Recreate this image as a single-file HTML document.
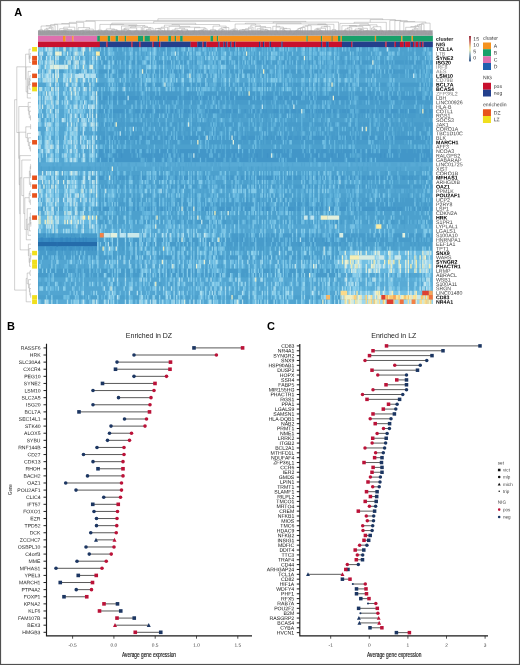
<!DOCTYPE html><html><head><meta charset="utf-8"><title>Figure</title><style>html,body{margin:0;padding:0;background:#fff;width:520px;height:665px;overflow:hidden}text{font-family:"Liberation Sans",sans-serif}</style></head><body><svg width="520" height="665" viewBox="0 0 520 665" style="display:block;will-change:transform">
<rect width="520" height="665" fill="#fff"/>
<defs><clipPath id="hc"><rect x="38.0" y="47.0" width="394.70" height="257.00"/></clipPath></defs>
<g clip-path="url(#hc)"><g>
<rect x="36.0" y="45.0" width="398.70" height="261.00" fill="#4ca0cd"/>
<path fill="#246cab" d="M36.5 242.0h60.7v4.43h-60.7z"/>
<path fill="#398cc3" d="M36.5 237.5h60.7v4.43h-60.7z"/>
<path fill="#4296c8" d="M97.2 95.7h134.2v4.43h-134.2zM231.4 95.7h109.2v4.43h-109.2zM340.6 95.7h93.6v4.43h-93.6zM97.2 109.0h134.2v4.43h-134.2zM231.4 109.0h109.2v4.43h-109.2zM340.6 109.0h93.6v4.43h-93.6zM97.2 135.6h134.2v4.43h-134.2zM231.4 135.6h109.2v4.43h-109.2zM340.6 135.6h93.6v4.43h-93.6zM97.2 148.9h134.2v4.43h-134.2zM231.4 148.9h109.2v4.43h-109.2zM340.6 148.9h93.6v4.43h-93.6zM97.2 153.3h134.2v4.43h-134.2zM231.4 153.3h109.2v4.43h-109.2zM340.6 153.3h93.6v4.43h-93.6zM97.2 157.8h134.2v4.43h-134.2zM231.4 157.8h109.2v4.43h-109.2zM340.6 157.8h93.6v4.43h-93.6zM97.2 175.5h134.2v4.43h-134.2zM231.4 175.5h109.2v4.43h-109.2zM340.6 175.5h93.6v4.43h-93.6zM97.2 206.5h134.2v4.43h-134.2zM231.4 206.5h109.2v4.43h-109.2zM340.6 206.5h93.6v4.43h-93.6zM36.5 246.4h60.7v4.43h-60.7z"/>
<path fill="#479bca" d="M97.2 60.3h134.2v4.43h-134.2zM231.4 60.3h109.2v4.43h-109.2zM340.6 60.3h93.6v4.43h-93.6zM97.2 69.2h134.2v4.43h-134.2zM231.4 69.2h109.2v4.43h-109.2zM340.6 69.2h93.6v4.43h-93.6zM97.2 82.4h134.2v4.43h-134.2zM231.4 82.4h109.2v4.43h-109.2zM340.6 82.4h93.6v4.43h-93.6zM97.2 91.3h134.2v4.43h-134.2zM231.4 91.3h109.2v4.43h-109.2zM340.6 91.3h93.6v4.43h-93.6zM97.2 100.2h134.2v4.43h-134.2zM231.4 100.2h109.2v4.43h-109.2zM340.6 100.2h93.6v4.43h-93.6zM97.2 113.5h134.2v4.43h-134.2zM231.4 113.5h109.2v4.43h-109.2zM340.6 113.5h93.6v4.43h-93.6zM97.2 122.3h134.2v4.43h-134.2zM231.4 122.3h109.2v4.43h-109.2zM340.6 122.3h93.6v4.43h-93.6zM97.2 126.8h134.2v4.43h-134.2zM340.6 126.8h93.6v4.43h-93.6zM97.2 131.2h134.2v4.43h-134.2zM231.4 131.2h109.2v4.43h-109.2zM340.6 131.2h93.6v4.43h-93.6zM97.2 140.1h134.2v4.43h-134.2zM231.4 140.1h109.2v4.43h-109.2zM340.6 140.1h93.6v4.43h-93.6zM97.2 184.4h134.2v4.43h-134.2zM231.4 184.4h109.2v4.43h-109.2zM340.6 184.4h93.6v4.43h-93.6zM97.2 197.7h134.2v4.43h-134.2zM231.4 197.7h109.2v4.43h-109.2zM340.6 197.7h93.6v4.43h-93.6zM97.2 202.1h134.2v4.43h-134.2zM231.4 202.1h109.2v4.43h-109.2zM340.6 202.1h93.6v4.43h-93.6zM36.5 233.1h60.7v4.43h-60.7zM231.4 233.1h109.2v4.43h-109.2zM340.6 233.1h93.6v4.43h-93.6zM97.2 237.5h134.2v4.43h-134.2zM231.4 237.5h109.2v4.43h-109.2zM340.6 237.5h93.6v4.43h-93.6zM97.2 242.0h134.2v4.43h-134.2zM231.4 242.0h109.2v4.43h-109.2zM36.5 250.8h60.7v4.43h-60.7zM36.5 255.3h60.7v4.43h-60.7zM97.2 255.3h134.2v4.43h-134.2zM231.4 255.3h109.2v4.43h-109.2zM36.5 268.6h60.7v4.43h-60.7zM97.2 268.6h134.2v4.43h-134.2zM231.4 268.6h109.2v4.43h-109.2zM36.5 273.0h60.7v4.43h-60.7zM97.2 273.0h134.2v4.43h-134.2zM231.4 273.0h109.2v4.43h-109.2z"/>
<path fill="#52a5d1" d="M97.2 51.4h134.2v4.43h-134.2zM231.4 51.4h109.2v4.43h-109.2zM36.5 55.9h60.7v4.43h-60.7zM36.5 60.3h60.7v4.43h-60.7zM97.2 64.7h134.2v4.43h-134.2zM231.4 64.7h109.2v4.43h-109.2zM340.6 64.7h93.6v4.43h-93.6zM36.5 69.2h60.7v4.43h-60.7zM97.2 78.0h134.2v4.43h-134.2zM231.4 78.0h109.2v4.43h-109.2zM340.6 78.0h93.6v4.43h-93.6zM36.5 82.4h60.7v4.43h-60.7zM36.5 95.7h60.7v4.43h-60.7zM36.5 109.0h60.7v4.43h-60.7zM36.5 113.5h60.7v4.43h-60.7zM36.5 117.9h60.7v4.43h-60.7zM36.5 126.8h60.7v4.43h-60.7zM36.5 131.2h60.7v4.43h-60.7zM36.5 135.6h60.7v4.43h-60.7zM36.5 140.1h60.7v4.43h-60.7zM36.5 148.9h60.7v4.43h-60.7zM36.5 153.3h60.7v4.43h-60.7zM36.5 157.8h60.7v4.43h-60.7zM36.5 166.6h60.7v4.43h-60.7zM97.2 166.6h134.2v4.43h-134.2zM231.4 166.6h109.2v4.43h-109.2zM340.6 166.6h93.6v4.43h-93.6zM97.2 188.8h134.2v4.43h-134.2zM231.4 188.8h109.2v4.43h-109.2zM340.6 188.8h93.6v4.43h-93.6zM97.2 224.2h134.2v4.43h-134.2zM231.4 224.2h109.2v4.43h-109.2zM340.6 224.2h93.6v4.43h-93.6zM97.2 228.7h134.2v4.43h-134.2zM231.4 228.7h109.2v4.43h-109.2zM340.6 228.7h93.6v4.43h-93.6zM97.2 233.1h134.2v4.43h-134.2zM36.5 259.7h60.7v4.43h-60.7zM97.2 259.7h134.2v4.43h-134.2zM231.4 259.7h109.2v4.43h-109.2zM36.5 264.1h60.7v4.43h-60.7zM97.2 264.1h134.2v4.43h-134.2zM231.4 264.1h109.2v4.43h-109.2zM340.6 273.0h93.6v4.43h-93.6zM36.5 277.4h60.7v4.43h-60.7zM97.2 277.4h134.2v4.43h-134.2zM231.4 277.4h109.2v4.43h-109.2zM36.5 281.8h60.7v4.43h-60.7zM97.2 281.8h134.2v4.43h-134.2zM231.4 281.8h109.2v4.43h-109.2zM36.5 286.3h60.7v4.43h-60.7zM97.2 286.3h134.2v4.43h-134.2zM231.4 286.3h109.2v4.43h-109.2zM36.5 290.7h60.7v4.43h-60.7zM97.2 290.7h134.2v4.43h-134.2zM231.4 290.7h109.2v4.43h-109.2zM97.2 299.6h134.2v5.93h-134.2zM231.4 299.6h109.2v5.93h-109.2z"/>
<path fill="#58aad5" d="M36.5 45.5h60.7v5.93h-60.7zM36.5 51.4h60.7v4.43h-60.7zM36.5 86.9h60.7v4.43h-60.7zM36.5 91.3h60.7v4.43h-60.7zM36.5 100.2h60.7v4.43h-60.7zM36.5 104.6h60.7v4.43h-60.7zM36.5 122.3h60.7v4.43h-60.7zM36.5 144.5h60.7v4.43h-60.7zM36.5 162.2h60.7v4.43h-60.7zM97.2 162.2h134.2v4.43h-134.2zM231.4 162.2h109.2v4.43h-109.2zM340.6 162.2h93.6v4.43h-93.6zM36.5 171.1h60.7v4.43h-60.7zM36.5 179.9h60.7v4.43h-60.7zM36.5 184.4h60.7v4.43h-60.7zM36.5 193.2h60.7v4.43h-60.7zM36.5 197.7h60.7v4.43h-60.7zM36.5 202.1h60.7v4.43h-60.7zM36.5 210.9h60.7v4.43h-60.7zM36.5 224.2h60.7v4.43h-60.7zM340.6 281.8h93.6v4.43h-93.6zM36.5 299.6h60.7v5.93h-60.7z"/>
<path fill="#5db0d9" d="M36.5 64.7h60.7v4.43h-60.7zM36.5 78.0h60.7v4.43h-60.7zM36.5 188.8h60.7v4.43h-60.7zM36.5 228.7h60.7v4.43h-60.7zM340.6 277.4h93.6v4.43h-93.6zM340.6 286.3h93.6v4.43h-93.6z"/>
<path fill="#63b5dd" d="M340.6 255.3h93.6v4.43h-93.6zM340.6 268.6h93.6v4.43h-93.6z"/>
<path fill="#69bae1" d="M36.5 215.4h60.7v4.43h-60.7zM36.5 219.8h60.7v4.43h-60.7zM340.6 250.8h93.6v4.43h-93.6z"/>
<path fill="#71bfe3" d="M340.6 259.7h93.6v4.43h-93.6zM340.6 264.1h93.6v4.43h-93.6z"/>
<path fill="#79c4e6" d="M340.6 290.7h93.6v4.43h-93.6z"/>
<path fill="#9cd7ee" d="M340.6 299.6h93.6v5.93h-93.6z"/>
<path fill="#b3e0ef" d="M36.5 73.6h60.7v4.43h-60.7z"/>
<path fill="#fac86e" d="M340.6 295.1h93.6v4.43h-93.6z"/>
<path fill="#2771af" d="M56.4 242.0h1.3v4.43h-1.3z"/>
<path fill="#3487c0" d="M40.6 237.5h2.6v4.43h-2.6zM48.5 237.5h1.3v4.43h-1.3zM51.2 237.5h2.6v4.43h-2.6zM60.4 237.5h2.6v4.43h-2.6zM65.6 237.5h2.6v4.43h-2.6zM69.6 237.5h1.3v4.43h-1.3zM74.8 237.5h1.3v4.43h-1.3zM78.8 237.5h1.3v4.43h-1.3zM82.7 237.5h1.3v4.43h-1.3zM85.4 237.5h1.3v4.43h-1.3z"/>
<path fill="#3e91c5" d="M120.9 153.3h1.3v4.43h-1.3zM166.9 153.3h1.3v4.43h-1.3zM234.0 153.3h1.3v4.43h-1.3zM256.4 153.3h1.3v4.43h-1.3zM266.9 153.3h1.3v4.43h-1.3zM315.6 153.3h2.6v4.43h-2.6zM331.4 153.3h1.3v4.43h-1.3zM338.0 153.3h1.3v4.43h-1.3zM380.1 153.3h1.3v4.43h-1.3zM384.0 153.3h1.3v4.43h-1.3zM49.8 246.4h2.6v4.43h-2.6zM55.1 246.4h1.3v4.43h-1.3zM61.7 246.4h1.3v4.43h-1.3zM64.3 246.4h1.3v4.43h-1.3zM69.6 246.4h2.6v4.43h-2.6zM78.8 246.4h1.3v4.43h-1.3zM82.7 246.4h1.3v4.43h-1.3zM88.0 246.4h1.3v4.43h-1.3zM91.9 246.4h1.3v4.43h-1.3zM94.6 246.4h1.3v4.43h-1.3z"/>
<path fill="#4296c8" d="M372.2 69.2h1.3v4.43h-1.3zM393.2 69.2h1.3v4.43h-1.3zM188.0 91.3h1.3v4.43h-1.3zM230.1 91.3h1.3v4.43h-1.3zM301.1 91.3h1.3v4.43h-1.3zM369.5 91.3h1.3v4.43h-1.3zM156.4 202.1h1.3v4.43h-1.3zM245.9 202.1h1.3v4.43h-1.3zM294.6 202.1h1.3v4.43h-1.3zM297.2 202.1h2.6v4.43h-2.6zM306.4 202.1h1.3v4.43h-1.3zM320.9 202.1h1.3v4.43h-1.3zM377.4 202.1h1.3v4.43h-1.3zM386.7 202.1h1.3v4.43h-1.3zM393.2 202.1h1.3v4.43h-1.3zM36.5 233.1h2.8v4.43h-2.8zM43.3 233.1h2.6v4.43h-2.6zM52.5 233.1h1.3v4.43h-1.3zM70.9 233.1h1.3v4.43h-1.3zM73.5 233.1h1.3v4.43h-1.3zM236.7 237.5h1.3v4.43h-1.3zM241.9 237.5h1.3v4.43h-1.3zM253.8 237.5h1.3v4.43h-1.3zM265.6 237.5h1.3v4.43h-1.3zM288.0 237.5h1.3v4.43h-1.3zM290.6 237.5h1.3v4.43h-1.3zM305.1 237.5h1.3v4.43h-1.3zM314.3 237.5h1.3v4.43h-1.3zM322.2 237.5h1.3v4.43h-1.3zM326.1 237.5h1.3v4.43h-1.3zM332.7 237.5h1.3v4.43h-1.3zM272.2 242.0h1.3v4.43h-1.3zM298.5 242.0h1.3v4.43h-1.3zM313.0 242.0h1.3v4.43h-1.3zM324.8 242.0h2.6v4.43h-2.6zM339.3 242.0h1.3v4.43h-1.3z"/>
<path fill="#479bca" d="M340.6 55.9h1.3v4.43h-1.3zM359.0 55.9h1.3v4.43h-1.3zM406.4 55.9h1.3v4.43h-1.3zM343.2 73.6h1.3v4.43h-1.3zM101.2 109.0h1.3v4.43h-1.3zM106.4 109.0h1.3v4.43h-1.3zM123.5 109.0h1.3v4.43h-1.3zM127.5 109.0h1.3v4.43h-1.3zM132.7 109.0h2.6v4.43h-2.6zM155.1 109.0h1.3v4.43h-1.3zM159.0 109.0h2.6v4.43h-2.6zM163.0 109.0h2.6v4.43h-2.6zM169.6 109.0h1.3v4.43h-1.3zM176.1 109.0h1.3v4.43h-1.3zM186.7 109.0h1.3v4.43h-1.3zM189.3 109.0h1.3v4.43h-1.3zM194.6 109.0h1.3v4.43h-1.3zM210.4 109.0h1.3v4.43h-1.3zM215.6 109.0h1.3v4.43h-1.3zM223.5 109.0h2.6v4.43h-2.6zM236.7 109.0h1.3v4.43h-1.3zM240.6 109.0h3.9v4.43h-3.9zM245.9 109.0h2.6v4.43h-2.6zM256.4 109.0h1.3v4.43h-1.3zM259.0 109.0h1.3v4.43h-1.3zM261.7 109.0h1.3v4.43h-1.3zM264.3 109.0h1.3v4.43h-1.3zM266.9 109.0h6.6v4.43h-6.6zM280.1 109.0h2.6v4.43h-2.6zM284.0 109.0h1.3v4.43h-1.3zM295.9 109.0h2.6v4.43h-2.6zM299.8 109.0h1.3v4.43h-1.3zM316.9 109.0h1.3v4.43h-1.3zM319.6 109.0h1.3v4.43h-1.3zM322.2 109.0h1.3v4.43h-1.3zM328.8 109.0h1.3v4.43h-1.3zM335.3 109.0h1.3v4.43h-1.3zM340.6 109.0h1.3v4.43h-1.3zM345.9 109.0h1.3v4.43h-1.3zM359.0 109.0h1.3v4.43h-1.3zM370.9 109.0h1.3v4.43h-1.3zM373.5 109.0h1.3v4.43h-1.3zM381.4 109.0h1.3v4.43h-1.3zM388.0 109.0h1.3v4.43h-1.3zM397.2 109.0h1.3v4.43h-1.3zM403.8 109.0h1.3v4.43h-1.3zM406.4 109.0h1.3v4.43h-1.3zM415.6 109.0h3.9v4.43h-3.9zM420.9 109.0h1.3v4.43h-1.3zM426.1 109.0h1.3v4.43h-1.3zM97.2 117.9h1.3v4.43h-1.3zM120.9 117.9h1.3v4.43h-1.3zM123.5 117.9h1.3v4.43h-1.3zM153.8 117.9h1.3v4.43h-1.3zM178.8 117.9h1.3v4.43h-1.3zM184.0 117.9h1.3v4.43h-1.3zM195.9 117.9h1.3v4.43h-1.3zM201.1 117.9h1.3v4.43h-1.3zM207.7 117.9h1.3v4.43h-1.3zM232.7 117.9h1.3v4.43h-1.3zM265.6 117.9h1.3v4.43h-1.3zM277.5 117.9h1.3v4.43h-1.3zM290.6 117.9h1.3v4.43h-1.3zM294.6 117.9h1.3v4.43h-1.3zM309.0 117.9h1.3v4.43h-1.3zM320.9 117.9h1.3v4.43h-1.3zM357.7 117.9h1.3v4.43h-1.3zM368.2 117.9h1.3v4.43h-1.3zM372.2 117.9h1.3v4.43h-1.3zM384.0 117.9h2.6v4.43h-2.6zM390.6 117.9h1.3v4.43h-1.3zM401.1 117.9h1.3v4.43h-1.3zM411.6 117.9h1.3v4.43h-1.3zM232.7 126.8h3.9v4.43h-3.9zM241.9 126.8h1.3v4.43h-1.3zM249.8 126.8h3.9v4.43h-3.9zM257.7 126.8h1.3v4.43h-1.3zM263.0 126.8h3.9v4.43h-3.9zM268.2 126.8h1.3v4.43h-1.3zM274.8 126.8h2.6v4.43h-2.6zM284.0 126.8h1.3v4.43h-1.3zM289.3 126.8h2.6v4.43h-2.6zM295.9 126.8h1.3v4.43h-1.3zM298.5 126.8h2.6v4.43h-2.6zM303.8 126.8h2.6v4.43h-2.6zM316.9 126.8h1.3v4.43h-1.3zM320.9 126.8h3.9v4.43h-3.9zM334.0 126.8h3.9v4.43h-3.9zM98.5 135.6h1.3v4.43h-1.3zM110.4 135.6h1.3v4.43h-1.3zM114.3 135.6h1.3v4.43h-1.3zM118.3 135.6h2.6v4.43h-2.6zM122.2 135.6h1.3v4.43h-1.3zM124.8 135.6h1.3v4.43h-1.3zM127.5 135.6h1.3v4.43h-1.3zM132.7 135.6h2.6v4.43h-2.6zM149.8 135.6h2.6v4.43h-2.6zM161.7 135.6h1.3v4.43h-1.3zM172.2 135.6h1.3v4.43h-1.3zM184.0 135.6h1.3v4.43h-1.3zM188.0 135.6h1.3v4.43h-1.3zM199.8 135.6h1.3v4.43h-1.3zM222.2 135.6h2.6v4.43h-2.6zM226.1 135.6h2.6v4.43h-2.6zM235.3 135.6h1.3v4.43h-1.3zM240.6 135.6h1.3v4.43h-1.3zM245.9 135.6h2.6v4.43h-2.6zM256.4 135.6h1.3v4.43h-1.3zM268.2 135.6h2.6v4.43h-2.6zM272.2 135.6h1.3v4.43h-1.3zM291.9 135.6h2.6v4.43h-2.6zM298.5 135.6h1.3v4.43h-1.3zM305.1 135.6h1.3v4.43h-1.3zM313.0 135.6h1.3v4.43h-1.3zM323.5 135.6h1.3v4.43h-1.3zM326.1 135.6h1.3v4.43h-1.3zM332.7 135.6h3.9v4.43h-3.9zM340.6 135.6h1.3v4.43h-1.3zM343.2 135.6h1.3v4.43h-1.3zM347.2 135.6h2.6v4.43h-2.6zM353.8 135.6h1.3v4.43h-1.3zM359.0 135.6h1.3v4.43h-1.3zM380.1 135.6h2.6v4.43h-2.6zM385.3 135.6h1.3v4.43h-1.3zM390.6 135.6h1.3v4.43h-1.3zM419.5 135.6h1.3v4.43h-1.3zM102.5 148.9h1.3v4.43h-1.3zM106.4 148.9h1.3v4.43h-1.3zM144.6 148.9h1.3v4.43h-1.3zM155.1 148.9h1.3v4.43h-1.3zM168.3 148.9h1.3v4.43h-1.3zM174.8 148.9h1.3v4.43h-1.3zM178.8 148.9h1.3v4.43h-1.3zM211.7 148.9h1.3v4.43h-1.3zM220.9 148.9h1.3v4.43h-1.3zM230.1 148.9h1.3v4.43h-1.3zM251.1 148.9h1.3v4.43h-1.3zM307.7 148.9h1.3v4.43h-1.3zM319.6 148.9h1.3v4.43h-1.3zM327.4 148.9h1.3v4.43h-1.3zM339.3 148.9h1.3v4.43h-1.3zM341.9 148.9h1.3v4.43h-1.3zM364.3 148.9h1.3v4.43h-1.3zM366.9 148.9h1.3v4.43h-1.3zM397.2 148.9h2.6v4.43h-2.6zM406.4 148.9h1.3v4.43h-1.3zM413.0 148.9h1.3v4.43h-1.3zM419.5 148.9h1.3v4.43h-1.3zM422.2 148.9h1.3v4.43h-1.3zM156.4 171.1h1.3v4.43h-1.3zM203.8 171.1h1.3v4.43h-1.3zM385.3 171.1h1.3v4.43h-1.3zM430.1 171.1h1.3v4.43h-1.3zM113.0 175.5h1.3v4.43h-1.3zM118.3 175.5h1.3v4.43h-1.3zM120.9 175.5h1.3v4.43h-1.3zM123.5 175.5h1.3v4.43h-1.3zM127.5 175.5h1.3v4.43h-1.3zM134.0 175.5h1.3v4.43h-1.3zM136.7 175.5h2.6v4.43h-2.6zM151.1 175.5h1.3v4.43h-1.3zM156.4 175.5h2.6v4.43h-2.6zM180.1 175.5h1.3v4.43h-1.3zM195.9 175.5h1.3v4.43h-1.3zM203.8 175.5h1.3v4.43h-1.3zM209.0 175.5h1.3v4.43h-1.3zM213.0 175.5h1.3v4.43h-1.3zM226.1 175.5h1.3v4.43h-1.3zM230.1 175.5h1.3v4.43h-1.3zM232.7 175.5h1.3v4.43h-1.3zM243.2 175.5h1.3v4.43h-1.3zM247.2 175.5h1.3v4.43h-1.3zM253.8 175.5h1.3v4.43h-1.3zM272.2 175.5h1.3v4.43h-1.3zM286.7 175.5h1.3v4.43h-1.3zM290.6 175.5h1.3v4.43h-1.3zM293.2 175.5h1.3v4.43h-1.3zM295.9 175.5h3.9v4.43h-3.9zM311.7 175.5h1.3v4.43h-1.3zM320.9 175.5h1.3v4.43h-1.3zM326.1 175.5h1.3v4.43h-1.3zM332.7 175.5h1.3v4.43h-1.3zM351.1 175.5h1.3v4.43h-1.3zM369.5 175.5h3.9v4.43h-3.9zM380.1 175.5h1.3v4.43h-1.3zM382.7 175.5h1.3v4.43h-1.3zM388.0 175.5h1.3v4.43h-1.3zM394.5 175.5h1.3v4.43h-1.3zM399.8 175.5h2.6v4.43h-2.6zM405.1 175.5h3.9v4.43h-3.9zM410.3 175.5h1.3v4.43h-1.3zM413.0 175.5h6.6v4.43h-6.6zM420.9 175.5h2.6v4.43h-2.6zM424.8 175.5h1.3v4.43h-1.3zM194.6 179.9h1.3v4.43h-1.3zM306.4 179.9h1.3v4.43h-1.3zM361.7 179.9h1.3v4.43h-1.3zM381.4 179.9h1.3v4.43h-1.3zM393.2 179.9h1.3v4.43h-1.3zM147.2 193.2h1.3v4.43h-1.3zM189.3 193.2h1.3v4.43h-1.3zM194.6 193.2h1.3v4.43h-1.3zM263.0 193.2h1.3v4.43h-1.3zM265.6 193.2h1.3v4.43h-1.3zM285.3 193.2h1.3v4.43h-1.3zM380.1 193.2h2.6v4.43h-2.6zM407.7 193.2h1.3v4.43h-1.3zM118.3 206.5h1.3v4.43h-1.3zM123.5 206.5h1.3v4.43h-1.3zM147.2 206.5h1.3v4.43h-1.3zM157.7 206.5h1.3v4.43h-1.3zM194.6 206.5h1.3v4.43h-1.3zM201.1 206.5h1.3v4.43h-1.3zM216.9 206.5h2.6v4.43h-2.6zM232.7 206.5h1.3v4.43h-1.3zM236.7 206.5h1.3v4.43h-1.3zM241.9 206.5h1.3v4.43h-1.3zM247.2 206.5h1.3v4.43h-1.3zM259.0 206.5h1.3v4.43h-1.3zM269.6 206.5h1.3v4.43h-1.3zM276.1 206.5h1.3v4.43h-1.3zM294.6 206.5h1.3v4.43h-1.3zM299.8 206.5h1.3v4.43h-1.3zM305.1 206.5h1.3v4.43h-1.3zM320.9 206.5h1.3v4.43h-1.3zM351.1 206.5h1.3v4.43h-1.3zM353.8 206.5h1.3v4.43h-1.3zM378.8 206.5h2.6v4.43h-2.6zM385.3 206.5h1.3v4.43h-1.3zM390.6 206.5h1.3v4.43h-1.3zM395.9 206.5h1.3v4.43h-1.3zM402.4 206.5h2.6v4.43h-2.6zM411.6 206.5h2.6v4.43h-2.6zM416.9 206.5h2.6v4.43h-2.6zM422.2 206.5h2.6v4.43h-2.6zM426.1 206.5h1.3v4.43h-1.3zM348.5 215.4h1.3v4.43h-1.3zM377.4 215.4h1.3v4.43h-1.3zM403.8 215.4h1.3v4.43h-1.3zM99.8 219.8h1.3v4.43h-1.3zM105.1 219.8h1.3v4.43h-1.3zM136.7 219.8h1.3v4.43h-1.3zM144.6 219.8h1.3v4.43h-1.3zM147.2 219.8h2.6v4.43h-2.6zM160.4 219.8h1.3v4.43h-1.3zM170.9 219.8h1.3v4.43h-1.3zM177.5 219.8h1.3v4.43h-1.3zM184.0 219.8h1.3v4.43h-1.3zM190.6 219.8h1.3v4.43h-1.3zM197.2 219.8h3.9v4.43h-3.9zM202.5 219.8h1.3v4.43h-1.3zM207.7 219.8h1.3v4.43h-1.3zM216.9 219.8h1.3v4.43h-1.3zM222.2 219.8h3.9v4.43h-3.9zM234.0 219.8h3.9v4.43h-3.9zM239.3 219.8h1.3v4.43h-1.3zM245.9 219.8h1.3v4.43h-1.3zM256.4 219.8h1.3v4.43h-1.3zM284.0 219.8h1.3v4.43h-1.3zM286.7 219.8h1.3v4.43h-1.3zM294.6 219.8h1.3v4.43h-1.3zM299.8 219.8h1.3v4.43h-1.3zM332.7 219.8h1.3v4.43h-1.3zM335.3 219.8h2.6v4.43h-2.6zM340.6 219.8h1.3v4.43h-1.3zM353.8 219.8h1.3v4.43h-1.3zM366.9 219.8h1.3v4.43h-1.3zM377.4 219.8h1.3v4.43h-1.3zM380.1 219.8h2.6v4.43h-2.6zM386.7 219.8h1.3v4.43h-1.3zM390.6 219.8h3.9v4.43h-3.9zM401.1 219.8h3.9v4.43h-3.9zM409.0 219.8h1.3v4.43h-1.3zM416.9 219.8h1.3v4.43h-1.3zM424.8 219.8h1.3v4.43h-1.3zM430.1 219.8h4.1v4.43h-4.1zM344.6 242.0h1.3v4.43h-1.3zM363.0 242.0h1.3v4.43h-1.3zM365.6 242.0h1.3v4.43h-1.3zM378.8 242.0h2.6v4.43h-2.6zM385.3 242.0h1.3v4.43h-1.3zM388.0 242.0h1.3v4.43h-1.3zM393.2 242.0h1.3v4.43h-1.3zM410.3 242.0h1.3v4.43h-1.3zM414.3 242.0h1.3v4.43h-1.3zM418.2 242.0h1.3v4.43h-1.3zM424.8 242.0h1.3v4.43h-1.3zM66.9 246.4h1.3v4.43h-1.3zM74.8 246.4h1.3v4.43h-1.3zM93.3 246.4h1.3v4.43h-1.3zM118.3 246.4h1.3v4.43h-1.3zM122.2 246.4h2.6v4.43h-2.6zM143.3 246.4h1.3v4.43h-1.3zM176.1 246.4h1.3v4.43h-1.3zM180.1 246.4h1.3v4.43h-1.3zM186.7 246.4h1.3v4.43h-1.3zM227.5 246.4h1.3v4.43h-1.3zM230.1 246.4h1.3v4.43h-1.3zM234.0 246.4h1.3v4.43h-1.3zM240.6 246.4h1.3v4.43h-1.3zM243.2 246.4h1.3v4.43h-1.3zM253.8 246.4h1.3v4.43h-1.3zM257.7 246.4h1.3v4.43h-1.3zM260.3 246.4h1.3v4.43h-1.3zM263.0 246.4h1.3v4.43h-1.3zM277.5 246.4h1.3v4.43h-1.3zM280.1 246.4h1.3v4.43h-1.3zM286.7 246.4h1.3v4.43h-1.3zM293.2 246.4h1.3v4.43h-1.3zM316.9 246.4h1.3v4.43h-1.3zM326.1 246.4h1.3v4.43h-1.3zM332.7 246.4h1.3v4.43h-1.3zM336.7 246.4h1.3v4.43h-1.3zM113.0 250.8h1.3v4.43h-1.3zM298.5 250.8h1.3v4.43h-1.3zM306.4 250.8h1.3v4.43h-1.3z"/>
<path fill="#4ca0cd" d="M99.8 51.4h1.3v4.43h-1.3zM102.5 51.4h1.3v4.43h-1.3zM106.4 51.4h1.3v4.43h-1.3zM116.9 51.4h1.3v4.43h-1.3zM119.6 51.4h2.6v4.43h-2.6zM132.7 51.4h2.6v4.43h-2.6zM140.6 51.4h1.3v4.43h-1.3zM145.9 51.4h1.3v4.43h-1.3zM156.4 51.4h1.3v4.43h-1.3zM164.3 51.4h1.3v4.43h-1.3zM166.9 51.4h1.3v4.43h-1.3zM176.1 51.4h1.3v4.43h-1.3zM178.8 51.4h2.6v4.43h-2.6zM185.4 51.4h1.3v4.43h-1.3zM188.0 51.4h1.3v4.43h-1.3zM191.9 51.4h1.3v4.43h-1.3zM194.6 51.4h1.3v4.43h-1.3zM202.5 51.4h1.3v4.43h-1.3zM206.4 51.4h1.3v4.43h-1.3zM218.2 51.4h2.6v4.43h-2.6zM227.5 51.4h1.3v4.43h-1.3zM232.7 51.4h1.3v4.43h-1.3zM236.7 51.4h1.3v4.43h-1.3zM247.2 51.4h1.3v4.43h-1.3zM253.8 51.4h1.3v4.43h-1.3zM256.4 51.4h1.3v4.43h-1.3zM260.3 51.4h1.3v4.43h-1.3zM269.6 51.4h1.3v4.43h-1.3zM285.3 51.4h1.3v4.43h-1.3zM289.3 51.4h2.6v4.43h-2.6zM293.2 51.4h1.3v4.43h-1.3zM297.2 51.4h1.3v4.43h-1.3zM326.1 51.4h1.3v4.43h-1.3zM331.4 51.4h1.3v4.43h-1.3zM98.5 60.3h2.6v4.43h-2.6zM102.5 60.3h1.3v4.43h-1.3zM105.1 60.3h1.3v4.43h-1.3zM120.9 60.3h1.3v4.43h-1.3zM136.7 60.3h1.3v4.43h-1.3zM139.3 60.3h2.6v4.43h-2.6zM157.7 60.3h1.3v4.43h-1.3zM174.8 60.3h2.6v4.43h-2.6zM180.1 60.3h1.3v4.43h-1.3zM189.3 60.3h1.3v4.43h-1.3zM195.9 60.3h1.3v4.43h-1.3zM203.8 60.3h3.9v4.43h-3.9zM213.0 60.3h1.3v4.43h-1.3zM215.6 60.3h2.6v4.43h-2.6zM220.9 60.3h1.3v4.43h-1.3zM223.5 60.3h1.3v4.43h-1.3zM230.1 60.3h1.3v4.43h-1.3zM243.2 60.3h1.3v4.43h-1.3zM245.9 60.3h1.3v4.43h-1.3zM268.2 60.3h1.3v4.43h-1.3zM273.5 60.3h2.6v4.43h-2.6zM281.4 60.3h1.3v4.43h-1.3zM288.0 60.3h1.3v4.43h-1.3zM297.2 60.3h2.6v4.43h-2.6zM315.6 60.3h2.6v4.43h-2.6zM320.9 60.3h1.3v4.43h-1.3zM323.5 60.3h1.3v4.43h-1.3zM339.3 60.3h2.6v4.43h-2.6zM368.2 60.3h1.3v4.43h-1.3zM385.3 60.3h1.3v4.43h-1.3zM403.8 60.3h1.3v4.43h-1.3zM420.9 60.3h1.3v4.43h-1.3zM427.4 60.3h1.3v4.43h-1.3zM353.8 64.7h1.3v4.43h-1.3zM360.3 64.7h1.3v4.43h-1.3zM386.7 64.7h1.3v4.43h-1.3zM391.9 64.7h1.3v4.43h-1.3zM403.8 64.7h1.3v4.43h-1.3zM414.3 64.7h2.6v4.43h-2.6zM418.2 64.7h1.3v4.43h-1.3zM420.9 64.7h1.3v4.43h-1.3zM424.8 64.7h1.3v4.43h-1.3zM36.5 69.2h2.8v4.43h-2.8zM44.6 69.2h1.3v4.43h-1.3zM53.8 69.2h1.3v4.43h-1.3zM59.1 69.2h3.9v4.43h-3.9zM76.2 69.2h2.6v4.43h-2.6zM80.1 69.2h1.3v4.43h-1.3zM144.6 69.2h1.3v4.43h-1.3zM232.7 69.2h1.3v4.43h-1.3zM251.1 69.2h1.3v4.43h-1.3zM103.8 82.4h1.3v4.43h-1.3zM185.4 82.4h1.3v4.43h-1.3zM194.6 82.4h1.3v4.43h-1.3zM272.2 82.4h1.3v4.43h-1.3zM124.8 95.7h1.3v4.43h-1.3zM152.5 95.7h1.3v4.43h-1.3zM161.7 95.7h1.3v4.43h-1.3zM181.4 95.7h2.6v4.43h-2.6zM213.0 95.7h1.3v4.43h-1.3zM219.6 95.7h1.3v4.43h-1.3zM223.5 95.7h1.3v4.43h-1.3zM264.3 95.7h1.3v4.43h-1.3zM306.4 95.7h1.3v4.43h-1.3zM314.3 95.7h1.3v4.43h-1.3zM328.8 95.7h1.3v4.43h-1.3zM357.7 95.7h1.3v4.43h-1.3zM384.0 95.7h1.3v4.43h-1.3zM105.1 100.2h2.6v4.43h-2.6zM118.3 100.2h1.3v4.43h-1.3zM134.0 100.2h1.3v4.43h-1.3zM148.5 100.2h1.3v4.43h-1.3zM164.3 100.2h1.3v4.43h-1.3zM170.9 100.2h1.3v4.43h-1.3zM174.8 100.2h1.3v4.43h-1.3zM195.9 100.2h2.6v4.43h-2.6zM205.1 100.2h1.3v4.43h-1.3zM222.2 100.2h1.3v4.43h-1.3zM226.1 100.2h1.3v4.43h-1.3zM228.8 100.2h1.3v4.43h-1.3zM255.1 100.2h1.3v4.43h-1.3zM278.8 100.2h1.3v4.43h-1.3zM281.4 100.2h1.3v4.43h-1.3zM284.0 100.2h1.3v4.43h-1.3zM297.2 100.2h1.3v4.43h-1.3zM311.7 100.2h1.3v4.43h-1.3zM323.5 100.2h1.3v4.43h-1.3zM338.0 100.2h1.3v4.43h-1.3zM351.1 100.2h1.3v4.43h-1.3zM356.4 100.2h2.6v4.43h-2.6zM361.7 100.2h2.6v4.43h-2.6zM373.5 100.2h2.6v4.43h-2.6zM398.5 100.2h1.3v4.43h-1.3zM405.1 100.2h1.3v4.43h-1.3zM423.5 100.2h1.3v4.43h-1.3zM430.1 100.2h4.1v4.43h-4.1zM53.8 109.0h1.3v4.43h-1.3zM93.3 109.0h1.3v4.43h-1.3zM365.6 109.0h1.3v4.43h-1.3zM99.8 113.5h1.3v4.43h-1.3zM102.5 113.5h2.6v4.43h-2.6zM109.0 113.5h2.6v4.43h-2.6zM115.6 113.5h2.6v4.43h-2.6zM120.9 113.5h1.3v4.43h-1.3zM126.1 113.5h1.3v4.43h-1.3zM128.8 113.5h1.3v4.43h-1.3zM141.9 113.5h1.3v4.43h-1.3zM151.1 113.5h1.3v4.43h-1.3zM153.8 113.5h1.3v4.43h-1.3zM164.3 113.5h1.3v4.43h-1.3zM168.3 113.5h1.3v4.43h-1.3zM174.8 113.5h2.6v4.43h-2.6zM182.7 113.5h1.3v4.43h-1.3zM188.0 113.5h1.3v4.43h-1.3zM194.6 113.5h1.3v4.43h-1.3zM198.5 113.5h2.6v4.43h-2.6zM202.5 113.5h2.6v4.43h-2.6zM211.7 113.5h1.3v4.43h-1.3zM216.9 113.5h3.9v4.43h-3.9zM224.8 113.5h1.3v4.43h-1.3zM227.5 113.5h1.3v4.43h-1.3zM236.7 113.5h1.3v4.43h-1.3zM243.2 113.5h1.3v4.43h-1.3zM245.9 113.5h1.3v4.43h-1.3zM251.1 113.5h1.3v4.43h-1.3zM256.4 113.5h2.6v4.43h-2.6zM263.0 113.5h1.3v4.43h-1.3zM268.2 113.5h1.3v4.43h-1.3zM270.9 113.5h1.3v4.43h-1.3zM274.8 113.5h1.3v4.43h-1.3zM288.0 113.5h1.3v4.43h-1.3zM293.2 113.5h1.3v4.43h-1.3zM295.9 113.5h1.3v4.43h-1.3zM298.5 113.5h2.6v4.43h-2.6zM305.1 113.5h1.3v4.43h-1.3zM307.7 113.5h1.3v4.43h-1.3zM315.6 113.5h1.3v4.43h-1.3zM318.2 113.5h2.6v4.43h-2.6zM326.1 113.5h2.6v4.43h-2.6zM330.1 113.5h1.3v4.43h-1.3zM332.7 113.5h1.3v4.43h-1.3zM349.8 113.5h1.3v4.43h-1.3zM353.8 113.5h1.3v4.43h-1.3zM360.3 113.5h1.3v4.43h-1.3zM363.0 113.5h1.3v4.43h-1.3zM369.5 113.5h2.6v4.43h-2.6zM377.4 113.5h1.3v4.43h-1.3zM380.1 113.5h1.3v4.43h-1.3zM382.7 113.5h1.3v4.43h-1.3zM385.3 113.5h1.3v4.43h-1.3zM395.9 113.5h1.3v4.43h-1.3zM398.5 113.5h1.3v4.43h-1.3zM401.1 113.5h1.3v4.43h-1.3zM403.8 113.5h1.3v4.43h-1.3zM406.4 113.5h1.3v4.43h-1.3zM415.6 113.5h3.9v4.43h-3.9zM420.9 113.5h2.6v4.43h-2.6zM427.4 113.5h1.3v4.43h-1.3zM431.4 113.5h2.8v4.43h-2.8zM99.8 122.3h1.3v4.43h-1.3zM152.5 122.3h1.3v4.43h-1.3zM156.4 122.3h1.3v4.43h-1.3zM195.9 122.3h1.3v4.43h-1.3zM206.4 122.3h1.3v4.43h-1.3zM236.7 122.3h1.3v4.43h-1.3zM240.6 122.3h1.3v4.43h-1.3zM251.1 122.3h1.3v4.43h-1.3zM259.0 122.3h1.3v4.43h-1.3zM264.3 122.3h1.3v4.43h-1.3zM272.2 122.3h1.3v4.43h-1.3zM286.7 122.3h1.3v4.43h-1.3zM361.7 122.3h1.3v4.43h-1.3zM394.5 122.3h1.3v4.43h-1.3zM413.0 122.3h1.3v4.43h-1.3zM98.5 126.8h1.3v4.43h-1.3zM101.2 126.8h3.9v4.43h-3.9zM114.3 126.8h3.9v4.43h-3.9zM119.6 126.8h2.6v4.43h-2.6zM127.5 126.8h1.3v4.43h-1.3zM138.0 126.8h2.6v4.43h-2.6zM145.9 126.8h1.3v4.43h-1.3zM156.4 126.8h2.6v4.43h-2.6zM163.0 126.8h2.6v4.43h-2.6zM172.2 126.8h1.3v4.43h-1.3zM182.7 126.8h2.6v4.43h-2.6zM194.6 126.8h1.3v4.43h-1.3zM205.1 126.8h6.6v4.43h-6.6zM213.0 126.8h1.3v4.43h-1.3zM216.9 126.8h2.6v4.43h-2.6zM222.2 126.8h2.6v4.43h-2.6zM227.5 126.8h1.3v4.43h-1.3zM340.6 126.8h1.3v4.43h-1.3zM343.2 126.8h1.3v4.43h-1.3zM347.2 126.8h1.3v4.43h-1.3zM349.8 126.8h1.3v4.43h-1.3zM360.3 126.8h1.3v4.43h-1.3zM363.0 126.8h1.3v4.43h-1.3zM366.9 126.8h1.3v4.43h-1.3zM370.9 126.8h1.3v4.43h-1.3zM373.5 126.8h1.3v4.43h-1.3zM380.1 126.8h1.3v4.43h-1.3zM382.7 126.8h3.9v4.43h-3.9zM389.3 126.8h2.6v4.43h-2.6zM393.2 126.8h1.3v4.43h-1.3zM395.9 126.8h2.6v4.43h-2.6zM399.8 126.8h1.3v4.43h-1.3zM407.7 126.8h2.6v4.43h-2.6zM422.2 126.8h1.3v4.43h-1.3zM430.1 126.8h1.3v4.43h-1.3zM97.2 131.2h1.3v4.43h-1.3zM106.4 131.2h2.6v4.43h-2.6zM113.0 131.2h1.3v4.43h-1.3zM127.5 131.2h2.6v4.43h-2.6zM134.0 131.2h1.3v4.43h-1.3zM148.5 131.2h1.3v4.43h-1.3zM152.5 131.2h1.3v4.43h-1.3zM159.0 131.2h1.3v4.43h-1.3zM161.7 131.2h1.3v4.43h-1.3zM182.7 131.2h1.3v4.43h-1.3zM185.4 131.2h2.6v4.43h-2.6zM202.5 131.2h1.3v4.43h-1.3zM230.1 131.2h2.6v4.43h-2.6zM240.6 131.2h1.3v4.43h-1.3zM245.9 131.2h1.3v4.43h-1.3zM248.5 131.2h1.3v4.43h-1.3zM255.1 131.2h1.3v4.43h-1.3zM259.0 131.2h1.3v4.43h-1.3zM272.2 131.2h1.3v4.43h-1.3zM276.1 131.2h1.3v4.43h-1.3zM281.4 131.2h1.3v4.43h-1.3zM286.7 131.2h1.3v4.43h-1.3zM293.2 131.2h3.9v4.43h-3.9zM299.8 131.2h1.3v4.43h-1.3zM305.1 131.2h1.3v4.43h-1.3zM307.7 131.2h1.3v4.43h-1.3zM316.9 131.2h1.3v4.43h-1.3zM320.9 131.2h1.3v4.43h-1.3zM323.5 131.2h1.3v4.43h-1.3zM330.1 131.2h1.3v4.43h-1.3zM335.3 131.2h1.3v4.43h-1.3zM353.8 131.2h1.3v4.43h-1.3zM374.8 131.2h1.3v4.43h-1.3zM377.4 131.2h1.3v4.43h-1.3zM388.0 131.2h1.3v4.43h-1.3zM395.9 131.2h1.3v4.43h-1.3zM399.8 131.2h1.3v4.43h-1.3zM405.1 131.2h1.3v4.43h-1.3zM413.0 131.2h1.3v4.43h-1.3zM420.9 131.2h1.3v4.43h-1.3zM426.1 131.2h1.3v4.43h-1.3zM430.1 131.2h1.3v4.43h-1.3zM36.5 135.6h2.8v4.43h-2.8zM41.9 135.6h1.3v4.43h-1.3zM59.1 135.6h1.3v4.43h-1.3zM63.0 135.6h1.3v4.43h-1.3zM78.8 135.6h1.3v4.43h-1.3zM101.2 135.6h1.3v4.43h-1.3zM106.4 140.1h1.3v4.43h-1.3zM132.7 140.1h1.3v4.43h-1.3zM144.6 140.1h1.3v4.43h-1.3zM170.9 140.1h1.3v4.43h-1.3zM180.1 140.1h1.3v4.43h-1.3zM194.6 140.1h1.3v4.43h-1.3zM231.4 140.1h1.3v4.43h-1.3zM238.0 140.1h1.3v4.43h-1.3zM241.9 140.1h1.3v4.43h-1.3zM249.8 140.1h1.3v4.43h-1.3zM261.7 140.1h1.3v4.43h-1.3zM276.1 140.1h1.3v4.43h-1.3zM299.8 140.1h1.3v4.43h-1.3zM331.4 140.1h1.3v4.43h-1.3zM336.7 140.1h1.3v4.43h-1.3zM340.6 140.1h1.3v4.43h-1.3zM345.9 140.1h1.3v4.43h-1.3zM370.9 140.1h1.3v4.43h-1.3zM378.8 140.1h1.3v4.43h-1.3zM381.4 140.1h1.3v4.43h-1.3zM384.0 140.1h1.3v4.43h-1.3zM386.7 140.1h1.3v4.43h-1.3zM390.6 140.1h1.3v4.43h-1.3zM403.8 140.1h2.6v4.43h-2.6zM424.8 140.1h1.3v4.43h-1.3zM428.8 140.1h1.3v4.43h-1.3zM261.7 148.9h1.3v4.43h-1.3zM282.7 148.9h1.3v4.43h-1.3zM415.6 148.9h1.3v4.43h-1.3zM53.8 153.3h1.3v4.43h-1.3zM60.4 153.3h1.3v4.43h-1.3zM103.8 153.3h1.3v4.43h-1.3zM111.7 153.3h1.3v4.43h-1.3zM135.4 153.3h1.3v4.43h-1.3zM140.6 153.3h1.3v4.43h-1.3zM152.5 153.3h1.3v4.43h-1.3zM197.2 153.3h1.3v4.43h-1.3zM219.6 153.3h1.3v4.43h-1.3zM241.9 153.3h1.3v4.43h-1.3zM248.5 153.3h1.3v4.43h-1.3zM261.7 153.3h1.3v4.43h-1.3zM273.5 153.3h1.3v4.43h-1.3zM351.1 153.3h1.3v4.43h-1.3zM355.1 153.3h1.3v4.43h-1.3zM365.6 153.3h1.3v4.43h-1.3zM424.8 153.3h1.3v4.43h-1.3zM36.5 157.8h2.8v4.43h-2.8zM86.7 157.8h1.3v4.43h-1.3zM228.8 157.8h1.3v4.43h-1.3zM309.0 157.8h1.3v4.43h-1.3zM313.0 157.8h1.3v4.43h-1.3zM355.1 157.8h2.6v4.43h-2.6zM40.6 166.6h1.3v4.43h-1.3zM48.5 166.6h1.3v4.43h-1.3zM52.5 166.6h2.6v4.43h-2.6zM60.4 166.6h1.3v4.43h-1.3zM81.4 166.6h1.3v4.43h-1.3zM86.7 166.6h3.9v4.43h-3.9zM94.6 166.6h1.3v4.43h-1.3zM99.8 166.6h1.3v4.43h-1.3zM107.7 166.6h1.3v4.43h-1.3zM134.0 166.6h1.3v4.43h-1.3zM155.1 166.6h1.3v4.43h-1.3zM160.4 166.6h1.3v4.43h-1.3zM163.0 166.6h1.3v4.43h-1.3zM166.9 166.6h1.3v4.43h-1.3zM180.1 166.6h1.3v4.43h-1.3zM182.7 166.6h1.3v4.43h-1.3zM199.8 166.6h1.3v4.43h-1.3zM219.6 166.6h1.3v4.43h-1.3zM228.8 166.6h1.3v4.43h-1.3zM238.0 166.6h3.9v4.43h-3.9zM251.1 166.6h1.3v4.43h-1.3zM257.7 166.6h1.3v4.43h-1.3zM265.6 166.6h1.3v4.43h-1.3zM270.9 166.6h1.3v4.43h-1.3zM274.8 166.6h1.3v4.43h-1.3zM278.8 166.6h1.3v4.43h-1.3zM286.7 166.6h2.6v4.43h-2.6zM335.3 166.6h1.3v4.43h-1.3zM347.2 166.6h1.3v4.43h-1.3zM357.7 166.6h1.3v4.43h-1.3zM361.7 166.6h1.3v4.43h-1.3zM366.9 166.6h1.3v4.43h-1.3zM395.9 166.6h1.3v4.43h-1.3zM399.8 166.6h1.3v4.43h-1.3zM419.5 166.6h2.6v4.43h-2.6zM426.1 166.6h2.6v4.43h-2.6zM98.5 188.8h2.6v4.43h-2.6zM102.5 188.8h1.3v4.43h-1.3zM106.4 188.8h1.3v4.43h-1.3zM118.3 188.8h1.3v4.43h-1.3zM120.9 188.8h1.3v4.43h-1.3zM127.5 188.8h1.3v4.43h-1.3zM143.3 188.8h1.3v4.43h-1.3zM148.5 188.8h1.3v4.43h-1.3zM161.7 188.8h1.3v4.43h-1.3zM164.3 188.8h1.3v4.43h-1.3zM169.6 188.8h1.3v4.43h-1.3zM176.1 188.8h1.3v4.43h-1.3zM178.8 188.8h1.3v4.43h-1.3zM185.4 188.8h5.3v4.43h-5.3zM191.9 188.8h1.3v4.43h-1.3zM199.8 188.8h1.3v4.43h-1.3zM202.5 188.8h1.3v4.43h-1.3zM206.4 188.8h1.3v4.43h-1.3zM210.4 188.8h1.3v4.43h-1.3zM216.9 188.8h1.3v4.43h-1.3zM226.1 188.8h1.3v4.43h-1.3zM228.8 188.8h1.3v4.43h-1.3zM245.9 188.8h2.6v4.43h-2.6zM256.4 188.8h2.6v4.43h-2.6zM266.9 188.8h1.3v4.43h-1.3zM276.1 188.8h1.3v4.43h-1.3zM284.0 188.8h1.3v4.43h-1.3zM288.0 188.8h1.3v4.43h-1.3zM291.9 188.8h3.9v4.43h-3.9zM298.5 188.8h1.3v4.43h-1.3zM303.8 188.8h1.3v4.43h-1.3zM307.7 188.8h1.3v4.43h-1.3zM311.7 188.8h1.3v4.43h-1.3zM315.6 188.8h1.3v4.43h-1.3zM323.5 188.8h1.3v4.43h-1.3zM339.3 188.8h1.3v4.43h-1.3zM349.8 188.8h2.6v4.43h-2.6zM363.0 188.8h2.6v4.43h-2.6zM368.2 188.8h2.6v4.43h-2.6zM373.5 188.8h1.3v4.43h-1.3zM377.4 188.8h1.3v4.43h-1.3zM380.1 188.8h5.3v4.43h-5.3zM394.5 188.8h1.3v4.43h-1.3zM399.8 188.8h1.3v4.43h-1.3zM403.8 188.8h1.3v4.43h-1.3zM406.4 188.8h1.3v4.43h-1.3zM409.0 188.8h2.6v4.43h-2.6zM413.0 188.8h1.3v4.43h-1.3zM418.2 188.8h1.3v4.43h-1.3zM422.2 188.8h1.3v4.43h-1.3zM426.1 188.8h1.3v4.43h-1.3zM99.8 197.7h1.3v4.43h-1.3zM114.3 197.7h2.6v4.43h-2.6zM118.3 197.7h3.9v4.43h-3.9zM132.7 197.7h1.3v4.43h-1.3zM139.3 197.7h1.3v4.43h-1.3zM141.9 197.7h3.9v4.43h-3.9zM151.1 197.7h1.3v4.43h-1.3zM155.1 197.7h1.3v4.43h-1.3zM166.9 197.7h3.9v4.43h-3.9zM174.8 197.7h2.6v4.43h-2.6zM189.3 197.7h1.3v4.43h-1.3zM191.9 197.7h1.3v4.43h-1.3zM202.5 197.7h1.3v4.43h-1.3zM206.4 197.7h1.3v4.43h-1.3zM226.1 197.7h1.3v4.43h-1.3zM239.3 197.7h2.6v4.43h-2.6zM251.1 197.7h1.3v4.43h-1.3zM261.7 197.7h2.6v4.43h-2.6zM265.6 197.7h1.3v4.43h-1.3zM268.2 197.7h1.3v4.43h-1.3zM272.2 197.7h1.3v4.43h-1.3zM277.5 197.7h1.3v4.43h-1.3zM286.7 197.7h1.3v4.43h-1.3zM294.6 197.7h1.3v4.43h-1.3zM297.2 197.7h1.3v4.43h-1.3zM302.4 197.7h1.3v4.43h-1.3zM305.1 197.7h1.3v4.43h-1.3zM311.7 197.7h1.3v4.43h-1.3zM316.9 197.7h1.3v4.43h-1.3zM320.9 197.7h1.3v4.43h-1.3zM326.1 197.7h1.3v4.43h-1.3zM332.7 197.7h1.3v4.43h-1.3zM339.3 197.7h5.3v4.43h-5.3zM348.5 197.7h1.3v4.43h-1.3zM355.1 197.7h1.3v4.43h-1.3zM359.0 197.7h1.3v4.43h-1.3zM364.3 197.7h1.3v4.43h-1.3zM372.2 197.7h2.6v4.43h-2.6zM376.1 197.7h1.3v4.43h-1.3zM390.6 197.7h1.3v4.43h-1.3zM401.1 197.7h1.3v4.43h-1.3zM403.8 197.7h1.3v4.43h-1.3zM415.6 197.7h1.3v4.43h-1.3zM418.2 197.7h1.3v4.43h-1.3zM420.9 197.7h1.3v4.43h-1.3zM430.1 197.7h4.1v4.43h-4.1zM214.3 224.2h1.3v4.43h-1.3zM257.7 224.2h1.3v4.43h-1.3zM265.6 224.2h1.3v4.43h-1.3zM274.8 224.2h1.3v4.43h-1.3zM309.0 224.2h1.3v4.43h-1.3zM320.9 224.2h1.3v4.43h-1.3zM403.8 224.2h1.3v4.43h-1.3zM415.6 224.2h1.3v4.43h-1.3zM418.2 224.2h1.3v4.43h-1.3zM218.2 233.1h1.3v4.43h-1.3zM266.9 233.1h1.3v4.43h-1.3zM316.9 233.1h1.3v4.43h-1.3zM355.1 233.1h1.3v4.43h-1.3zM159.0 242.0h1.3v4.43h-1.3zM220.9 242.0h1.3v4.43h-1.3zM60.4 250.8h1.3v4.43h-1.3zM64.3 250.8h1.3v4.43h-1.3zM81.4 250.8h1.3v4.43h-1.3zM36.5 255.3h2.8v4.43h-2.8zM43.3 255.3h1.3v4.43h-1.3zM49.8 255.3h1.3v4.43h-1.3zM57.7 255.3h2.6v4.43h-2.6zM61.7 255.3h2.6v4.43h-2.6zM68.3 255.3h1.3v4.43h-1.3zM76.2 255.3h1.3v4.43h-1.3zM86.7 255.3h1.3v4.43h-1.3zM98.5 255.3h1.3v4.43h-1.3zM101.2 255.3h2.6v4.43h-2.6zM106.4 255.3h1.3v4.43h-1.3zM110.4 255.3h1.3v4.43h-1.3zM114.3 255.3h2.6v4.43h-2.6zM120.9 255.3h1.3v4.43h-1.3zM126.1 255.3h3.9v4.43h-3.9zM148.5 255.3h1.3v4.43h-1.3zM156.4 255.3h1.3v4.43h-1.3zM170.9 255.3h1.3v4.43h-1.3zM176.1 255.3h1.3v4.43h-1.3zM186.7 255.3h1.3v4.43h-1.3zM189.3 255.3h1.3v4.43h-1.3zM195.9 255.3h1.3v4.43h-1.3zM201.1 255.3h1.3v4.43h-1.3zM220.9 255.3h1.3v4.43h-1.3zM227.5 255.3h1.3v4.43h-1.3zM235.3 255.3h1.3v4.43h-1.3zM241.9 255.3h1.3v4.43h-1.3zM244.6 255.3h1.3v4.43h-1.3zM247.2 255.3h1.3v4.43h-1.3zM256.4 255.3h1.3v4.43h-1.3zM265.6 255.3h1.3v4.43h-1.3zM284.0 255.3h2.6v4.43h-2.6zM297.2 255.3h1.3v4.43h-1.3zM306.4 255.3h2.6v4.43h-2.6zM319.6 255.3h1.3v4.43h-1.3zM339.3 255.3h1.3v4.43h-1.3zM48.5 264.1h1.3v4.43h-1.3zM59.1 264.1h1.3v4.43h-1.3zM68.3 264.1h3.9v4.43h-3.9zM84.0 264.1h1.3v4.43h-1.3zM90.6 264.1h1.3v4.43h-1.3zM94.6 264.1h1.3v4.43h-1.3zM114.3 264.1h1.3v4.43h-1.3zM131.4 264.1h3.9v4.43h-3.9zM138.0 264.1h1.3v4.43h-1.3zM141.9 264.1h2.6v4.43h-2.6zM155.1 264.1h1.3v4.43h-1.3zM161.7 264.1h1.3v4.43h-1.3zM169.6 264.1h1.3v4.43h-1.3zM176.1 264.1h1.3v4.43h-1.3zM178.8 264.1h1.3v4.43h-1.3zM184.0 264.1h1.3v4.43h-1.3zM194.6 264.1h1.3v4.43h-1.3zM202.5 264.1h1.3v4.43h-1.3zM206.4 264.1h1.3v4.43h-1.3zM211.7 264.1h1.3v4.43h-1.3zM218.2 264.1h1.3v4.43h-1.3zM220.9 264.1h2.6v4.43h-2.6zM245.9 264.1h1.3v4.43h-1.3zM249.8 264.1h1.3v4.43h-1.3zM268.2 264.1h1.3v4.43h-1.3zM277.5 264.1h1.3v4.43h-1.3zM290.6 264.1h1.3v4.43h-1.3zM316.9 264.1h1.3v4.43h-1.3zM72.2 268.6h1.3v4.43h-1.3zM78.8 268.6h1.3v4.43h-1.3zM85.4 268.6h1.3v4.43h-1.3zM132.7 268.6h1.3v4.43h-1.3zM202.5 268.6h1.3v4.43h-1.3zM226.1 268.6h1.3v4.43h-1.3zM240.6 268.6h1.3v4.43h-1.3zM272.2 268.6h2.6v4.43h-2.6zM309.0 268.6h1.3v4.43h-1.3zM47.2 273.0h1.3v4.43h-1.3zM115.6 273.0h1.3v4.43h-1.3zM206.4 273.0h1.3v4.43h-1.3zM218.2 273.0h1.3v4.43h-1.3zM232.7 273.0h2.6v4.43h-2.6zM244.6 273.0h1.3v4.43h-1.3zM294.6 273.0h1.3v4.43h-1.3zM409.0 273.0h1.3v4.43h-1.3zM36.5 281.8h2.8v4.43h-2.8zM40.6 281.8h1.3v4.43h-1.3zM44.6 281.8h2.6v4.43h-2.6zM49.8 281.8h1.3v4.43h-1.3zM59.1 281.8h2.6v4.43h-2.6zM70.9 281.8h2.6v4.43h-2.6zM86.7 281.8h1.3v4.43h-1.3zM95.9 281.8h1.3v4.43h-1.3zM103.8 281.8h1.3v4.43h-1.3zM113.0 281.8h2.6v4.43h-2.6zM119.6 281.8h2.6v4.43h-2.6zM141.9 281.8h1.3v4.43h-1.3zM149.8 281.8h3.9v4.43h-3.9zM159.0 281.8h2.6v4.43h-2.6zM170.9 281.8h1.3v4.43h-1.3zM174.8 281.8h1.3v4.43h-1.3zM180.1 281.8h1.3v4.43h-1.3zM191.9 281.8h1.3v4.43h-1.3zM195.9 281.8h1.3v4.43h-1.3zM228.8 281.8h1.3v4.43h-1.3zM243.2 281.8h1.3v4.43h-1.3zM249.8 281.8h1.3v4.43h-1.3zM256.4 281.8h2.6v4.43h-2.6zM263.0 281.8h1.3v4.43h-1.3zM285.3 281.8h1.3v4.43h-1.3zM298.5 281.8h2.6v4.43h-2.6zM306.4 281.8h1.3v4.43h-1.3zM319.6 281.8h1.3v4.43h-1.3zM330.1 281.8h2.6v4.43h-2.6zM232.7 299.6h1.3v5.93h-1.3zM240.6 299.6h1.3v5.93h-1.3zM243.2 299.6h1.3v5.93h-1.3zM245.9 299.6h1.3v5.93h-1.3zM259.0 299.6h1.3v5.93h-1.3zM269.6 299.6h3.9v5.93h-3.9zM274.8 299.6h1.3v5.93h-1.3zM294.6 299.6h1.3v5.93h-1.3zM305.1 299.6h2.6v5.93h-2.6zM332.7 299.6h1.3v5.93h-1.3zM339.3 299.6h1.3v5.93h-1.3z"/>
<path fill="#52a5d1" d="M127.5 45.5h1.3v5.93h-1.3zM135.4 45.5h1.3v5.93h-1.3zM247.2 45.5h1.3v5.93h-1.3zM263.0 45.5h1.3v5.93h-1.3zM272.2 45.5h1.3v5.93h-1.3zM293.2 45.5h1.3v5.93h-1.3zM297.2 45.5h1.3v5.93h-1.3zM299.8 45.5h1.3v5.93h-1.3zM315.6 45.5h1.3v5.93h-1.3zM345.9 51.4h1.3v4.43h-1.3zM359.0 51.4h2.6v4.43h-2.6zM365.6 51.4h1.3v4.43h-1.3zM373.5 51.4h1.3v4.43h-1.3zM402.4 51.4h1.3v4.43h-1.3zM407.7 51.4h1.3v4.43h-1.3zM260.3 55.9h1.3v4.43h-1.3zM349.8 60.3h1.3v4.43h-1.3zM407.7 60.3h1.3v4.43h-1.3zM423.5 60.3h1.3v4.43h-1.3zM430.1 60.3h1.3v4.43h-1.3zM353.8 69.2h1.3v4.43h-1.3zM105.1 82.4h1.3v4.43h-1.3zM259.0 82.4h1.3v4.43h-1.3zM319.6 82.4h1.3v4.43h-1.3zM149.8 86.9h1.3v4.43h-1.3zM110.4 91.3h1.3v4.43h-1.3zM116.9 91.3h1.3v4.43h-1.3zM135.4 91.3h1.3v4.43h-1.3zM148.5 91.3h1.3v4.43h-1.3zM244.6 91.3h1.3v4.43h-1.3zM322.2 91.3h1.3v4.43h-1.3zM384.0 91.3h1.3v4.43h-1.3zM427.4 91.3h1.3v4.43h-1.3zM110.4 95.7h1.3v4.43h-1.3zM139.3 95.7h1.3v4.43h-1.3zM147.2 95.7h1.3v4.43h-1.3zM153.8 95.7h1.3v4.43h-1.3zM165.6 95.7h1.3v4.43h-1.3zM190.6 95.7h1.3v4.43h-1.3zM193.2 95.7h1.3v4.43h-1.3zM282.7 95.7h1.3v4.43h-1.3zM330.1 95.7h1.3v4.43h-1.3zM373.5 95.7h1.3v4.43h-1.3zM382.7 95.7h1.3v4.43h-1.3zM399.8 95.7h1.3v4.43h-1.3zM424.8 95.7h1.3v4.43h-1.3zM40.6 100.2h1.3v4.43h-1.3zM59.1 100.2h1.3v4.43h-1.3zM77.5 100.2h1.3v4.43h-1.3zM82.7 100.2h1.3v4.43h-1.3zM90.6 100.2h1.3v4.43h-1.3zM209.0 100.2h1.3v4.43h-1.3zM234.0 100.2h1.3v4.43h-1.3zM389.3 100.2h1.3v4.43h-1.3zM251.1 104.6h1.3v4.43h-1.3zM144.6 109.0h1.3v4.43h-1.3zM182.7 109.0h1.3v4.43h-1.3zM193.2 109.0h1.3v4.43h-1.3zM197.2 109.0h1.3v4.43h-1.3zM202.5 109.0h2.6v4.43h-2.6zM207.7 109.0h1.3v4.43h-1.3zM220.9 109.0h1.3v4.43h-1.3zM282.7 109.0h1.3v4.43h-1.3zM314.3 109.0h1.3v4.43h-1.3zM336.7 109.0h1.3v4.43h-1.3zM357.7 109.0h1.3v4.43h-1.3zM374.8 109.0h1.3v4.43h-1.3zM377.4 109.0h1.3v4.43h-1.3zM427.4 109.0h1.3v4.43h-1.3zM130.1 113.5h1.3v4.43h-1.3zM374.8 113.5h1.3v4.43h-1.3zM116.9 117.9h1.3v4.43h-1.3zM63.0 122.3h1.3v4.43h-1.3zM72.2 122.3h1.3v4.43h-1.3zM107.7 122.3h1.3v4.43h-1.3zM124.8 122.3h1.3v4.43h-1.3zM198.5 122.3h1.3v4.43h-1.3zM219.6 122.3h1.3v4.43h-1.3zM261.7 122.3h1.3v4.43h-1.3zM398.5 122.3h1.3v4.43h-1.3zM407.7 122.3h1.3v4.43h-1.3zM163.0 131.2h1.3v4.43h-1.3zM145.9 135.6h1.3v4.43h-1.3zM163.0 135.6h1.3v4.43h-1.3zM234.0 135.6h1.3v4.43h-1.3zM264.3 135.6h1.3v4.43h-1.3zM330.1 135.6h1.3v4.43h-1.3zM131.4 140.1h1.3v4.43h-1.3zM163.0 140.1h1.3v4.43h-1.3zM193.2 140.1h1.3v4.43h-1.3zM264.3 140.1h1.3v4.43h-1.3zM355.1 140.1h1.3v4.43h-1.3zM122.2 148.9h1.3v4.43h-1.3zM152.5 148.9h1.3v4.43h-1.3zM172.2 148.9h1.3v4.43h-1.3zM285.3 148.9h1.3v4.43h-1.3zM306.4 148.9h1.3v4.43h-1.3zM328.8 148.9h1.3v4.43h-1.3zM377.4 148.9h1.3v4.43h-1.3zM399.8 148.9h1.3v4.43h-1.3zM105.1 153.3h1.3v4.43h-1.3zM116.9 153.3h1.3v4.43h-1.3zM131.4 153.3h1.3v4.43h-1.3zM163.0 153.3h1.3v4.43h-1.3zM165.6 153.3h1.3v4.43h-1.3zM174.8 153.3h1.3v4.43h-1.3zM177.5 153.3h1.3v4.43h-1.3zM189.3 153.3h1.3v4.43h-1.3zM252.5 153.3h1.3v4.43h-1.3zM290.6 153.3h1.3v4.43h-1.3zM353.8 153.3h1.3v4.43h-1.3zM359.0 153.3h1.3v4.43h-1.3zM430.1 153.3h1.3v4.43h-1.3zM111.7 157.8h1.3v4.43h-1.3zM145.9 157.8h1.3v4.43h-1.3zM166.9 157.8h1.3v4.43h-1.3zM173.5 157.8h1.3v4.43h-1.3zM248.5 157.8h1.3v4.43h-1.3zM255.1 157.8h1.3v4.43h-1.3zM310.3 157.8h1.3v4.43h-1.3zM414.3 157.8h1.3v4.43h-1.3zM36.5 162.2h4.1v4.43h-4.1zM52.5 162.2h1.3v4.43h-1.3zM56.4 162.2h1.3v4.43h-1.3zM61.7 162.2h2.6v4.43h-2.6zM69.6 162.2h1.3v4.43h-1.3zM88.0 162.2h1.3v4.43h-1.3zM94.6 162.2h1.3v4.43h-1.3zM99.8 162.2h1.3v4.43h-1.3zM102.5 162.2h1.3v4.43h-1.3zM105.1 162.2h5.3v4.43h-5.3zM111.7 162.2h2.6v4.43h-2.6zM116.9 162.2h1.3v4.43h-1.3zM120.9 162.2h1.3v4.43h-1.3zM127.5 162.2h2.6v4.43h-2.6zM135.4 162.2h1.3v4.43h-1.3zM149.8 162.2h1.3v4.43h-1.3zM152.5 162.2h1.3v4.43h-1.3zM155.1 162.2h1.3v4.43h-1.3zM157.7 162.2h1.3v4.43h-1.3zM163.0 162.2h2.6v4.43h-2.6zM169.6 162.2h1.3v4.43h-1.3zM174.8 162.2h1.3v4.43h-1.3zM177.5 162.2h2.6v4.43h-2.6zM185.4 162.2h1.3v4.43h-1.3zM188.0 162.2h1.3v4.43h-1.3zM190.6 162.2h1.3v4.43h-1.3zM194.6 162.2h1.3v4.43h-1.3zM206.4 162.2h1.3v4.43h-1.3zM210.4 162.2h2.6v4.43h-2.6zM214.3 162.2h2.6v4.43h-2.6zM218.2 162.2h1.3v4.43h-1.3zM228.8 162.2h1.3v4.43h-1.3zM243.2 162.2h1.3v4.43h-1.3zM261.7 162.2h1.3v4.43h-1.3zM265.6 162.2h1.3v4.43h-1.3zM270.9 162.2h1.3v4.43h-1.3zM281.4 162.2h1.3v4.43h-1.3zM286.7 162.2h1.3v4.43h-1.3zM291.9 162.2h1.3v4.43h-1.3zM301.1 162.2h1.3v4.43h-1.3zM303.8 162.2h1.3v4.43h-1.3zM309.0 162.2h1.3v4.43h-1.3zM315.6 162.2h1.3v4.43h-1.3zM323.5 162.2h1.3v4.43h-1.3zM326.1 162.2h1.3v4.43h-1.3zM332.7 162.2h1.3v4.43h-1.3zM338.0 162.2h1.3v4.43h-1.3zM347.2 162.2h1.3v4.43h-1.3zM351.1 162.2h1.3v4.43h-1.3zM356.4 162.2h1.3v4.43h-1.3zM363.0 162.2h1.3v4.43h-1.3zM366.9 162.2h1.3v4.43h-1.3zM369.5 162.2h1.3v4.43h-1.3zM372.2 162.2h3.9v4.43h-3.9zM378.8 162.2h1.3v4.43h-1.3zM384.0 162.2h3.9v4.43h-3.9zM390.6 162.2h6.6v4.43h-6.6zM399.8 162.2h2.6v4.43h-2.6zM403.8 162.2h2.6v4.43h-2.6zM407.7 162.2h2.6v4.43h-2.6zM415.6 162.2h2.6v4.43h-2.6zM420.9 162.2h1.3v4.43h-1.3zM110.4 175.5h1.3v4.43h-1.3zM135.4 175.5h1.3v4.43h-1.3zM199.8 175.5h1.3v4.43h-1.3zM220.9 175.5h1.3v4.43h-1.3zM280.1 175.5h1.3v4.43h-1.3zM365.6 175.5h1.3v4.43h-1.3zM384.0 175.5h1.3v4.43h-1.3zM111.7 184.4h1.3v4.43h-1.3zM274.8 184.4h1.3v4.43h-1.3zM373.5 184.4h1.3v4.43h-1.3zM61.7 193.2h1.3v4.43h-1.3zM72.2 193.2h1.3v4.43h-1.3zM40.6 197.7h1.3v4.43h-1.3zM43.3 197.7h1.3v4.43h-1.3zM60.4 197.7h1.3v4.43h-1.3zM94.6 197.7h1.3v4.43h-1.3zM357.7 197.7h1.3v4.43h-1.3zM110.4 202.1h1.3v4.43h-1.3zM148.5 202.1h1.3v4.43h-1.3zM238.0 202.1h1.3v4.43h-1.3zM276.1 202.1h1.3v4.43h-1.3zM280.1 202.1h1.3v4.43h-1.3zM338.0 202.1h1.3v4.43h-1.3zM422.2 202.1h1.3v4.43h-1.3zM60.4 206.5h1.3v4.43h-1.3zM68.3 206.5h1.3v4.43h-1.3zM90.6 206.5h1.3v4.43h-1.3zM95.9 206.5h1.3v4.43h-1.3zM114.3 206.5h1.3v4.43h-1.3zM116.9 206.5h1.3v4.43h-1.3zM159.0 206.5h1.3v4.43h-1.3zM163.0 206.5h1.3v4.43h-1.3zM169.6 206.5h1.3v4.43h-1.3zM173.5 206.5h1.3v4.43h-1.3zM177.5 206.5h1.3v4.43h-1.3zM188.0 206.5h1.3v4.43h-1.3zM234.0 206.5h1.3v4.43h-1.3zM306.4 206.5h1.3v4.43h-1.3zM309.0 206.5h1.3v4.43h-1.3zM420.9 206.5h1.3v4.43h-1.3zM364.3 210.9h1.3v4.43h-1.3zM185.4 215.4h1.3v4.43h-1.3zM261.7 215.4h1.3v4.43h-1.3zM48.5 233.1h1.3v4.43h-1.3zM55.1 233.1h1.3v4.43h-1.3zM248.5 237.5h1.3v4.43h-1.3zM282.7 237.5h1.3v4.43h-1.3zM303.8 237.5h1.3v4.43h-1.3zM330.1 237.5h1.3v4.43h-1.3zM384.0 237.5h1.3v4.43h-1.3zM248.5 242.0h1.3v4.43h-1.3zM253.8 242.0h1.3v4.43h-1.3zM44.6 246.4h1.3v4.43h-1.3zM81.4 246.4h1.3v4.43h-1.3zM397.2 246.4h1.3v4.43h-1.3zM41.9 299.6h2.6v5.93h-2.6zM52.5 299.6h1.3v5.93h-1.3zM55.1 299.6h1.3v5.93h-1.3zM86.7 299.6h2.6v5.93h-2.6z"/>
<path fill="#58aad5" d="M345.9 45.5h1.3v5.93h-1.3zM365.6 45.5h1.3v5.93h-1.3zM377.4 51.4h1.3v4.43h-1.3zM426.1 51.4h1.3v4.43h-1.3zM41.9 55.9h1.3v4.43h-1.3zM64.3 55.9h1.3v4.43h-1.3zM86.7 55.9h1.3v4.43h-1.3zM90.6 55.9h1.3v4.43h-1.3zM114.3 55.9h1.3v4.43h-1.3zM353.8 55.9h2.6v4.43h-2.6zM389.3 55.9h1.3v4.43h-1.3zM60.4 60.3h1.3v4.43h-1.3zM165.6 60.3h1.3v4.43h-1.3zM190.6 60.3h1.3v4.43h-1.3zM239.3 60.3h1.3v4.43h-1.3zM248.5 60.3h1.3v4.43h-1.3zM252.5 60.3h1.3v4.43h-1.3zM269.6 60.3h1.3v4.43h-1.3zM301.1 60.3h1.3v4.43h-1.3zM336.7 60.3h2.6v4.43h-2.6zM356.4 60.3h1.3v4.43h-1.3zM374.8 60.3h3.9v4.43h-3.9zM390.6 60.3h1.3v4.43h-1.3zM161.7 64.7h1.3v4.43h-1.3zM148.5 69.2h2.6v4.43h-2.6zM261.7 69.2h1.3v4.43h-1.3zM264.3 69.2h1.3v4.43h-1.3zM301.1 69.2h1.3v4.43h-1.3zM369.5 69.2h1.3v4.43h-1.3zM422.2 69.2h1.3v4.43h-1.3zM428.8 69.2h1.3v4.43h-1.3zM40.6 73.6h1.3v4.43h-1.3zM43.3 73.6h1.3v4.43h-1.3zM51.2 73.6h1.3v4.43h-1.3zM53.8 73.6h1.3v4.43h-1.3zM59.1 73.6h3.9v4.43h-3.9zM68.3 73.6h1.3v4.43h-1.3zM72.2 73.6h1.3v4.43h-1.3zM84.0 73.6h1.3v4.43h-1.3zM95.9 73.6h1.3v4.43h-1.3zM349.8 73.6h1.3v4.43h-1.3zM365.6 73.6h1.3v4.43h-1.3zM374.8 73.6h1.3v4.43h-1.3zM390.6 73.6h1.3v4.43h-1.3zM398.5 73.6h1.3v4.43h-1.3zM106.4 78.0h1.3v4.43h-1.3zM138.0 78.0h1.3v4.43h-1.3zM247.2 78.0h1.3v4.43h-1.3zM113.0 82.4h1.3v4.43h-1.3zM124.8 82.4h1.3v4.43h-1.3zM165.6 82.4h1.3v4.43h-1.3zM170.9 82.4h1.3v4.43h-1.3zM209.0 82.4h1.3v4.43h-1.3zM211.7 82.4h1.3v4.43h-1.3zM215.6 82.4h1.3v4.43h-1.3zM235.3 82.4h1.3v4.43h-1.3zM289.3 82.4h1.3v4.43h-1.3zM291.9 82.4h1.3v4.43h-1.3zM310.3 82.4h1.3v4.43h-1.3zM330.1 82.4h1.3v4.43h-1.3zM369.5 82.4h1.3v4.43h-1.3zM386.7 82.4h1.3v4.43h-1.3zM344.6 86.9h1.3v4.43h-1.3zM402.4 86.9h1.3v4.43h-1.3zM418.2 86.9h1.3v4.43h-1.3zM426.1 86.9h1.3v4.43h-1.3zM113.0 91.3h1.3v4.43h-1.3zM145.9 91.3h1.3v4.43h-1.3zM281.4 91.3h1.3v4.43h-1.3zM311.7 91.3h1.3v4.43h-1.3zM348.5 91.3h1.3v4.43h-1.3zM353.8 91.3h1.3v4.43h-1.3zM399.8 91.3h1.3v4.43h-1.3zM410.3 91.3h1.3v4.43h-1.3zM422.2 91.3h1.3v4.43h-1.3zM80.1 95.7h1.3v4.43h-1.3zM111.7 95.7h1.3v4.43h-1.3zM141.9 95.7h1.3v4.43h-1.3zM145.9 95.7h1.3v4.43h-1.3zM201.1 95.7h1.3v4.43h-1.3zM228.8 95.7h1.3v4.43h-1.3zM274.8 95.7h1.3v4.43h-1.3zM303.8 95.7h1.3v4.43h-1.3zM315.6 95.7h1.3v4.43h-1.3zM415.6 95.7h1.3v4.43h-1.3zM177.5 100.2h1.3v4.43h-1.3zM206.4 100.2h1.3v4.43h-1.3zM214.3 100.2h1.3v4.43h-1.3zM230.1 100.2h1.3v4.43h-1.3zM261.7 100.2h1.3v4.43h-1.3zM264.3 100.2h1.3v4.43h-1.3zM270.9 100.2h1.3v4.43h-1.3zM273.5 100.2h1.3v4.43h-1.3zM328.8 100.2h1.3v4.43h-1.3zM334.0 100.2h1.3v4.43h-1.3zM344.6 100.2h1.3v4.43h-1.3zM352.4 100.2h1.3v4.43h-1.3zM391.9 100.2h1.3v4.43h-1.3zM105.1 104.6h1.3v4.43h-1.3zM141.9 104.6h1.3v4.43h-1.3zM222.2 104.6h1.3v4.43h-1.3zM315.6 104.6h1.3v4.43h-1.3zM355.1 104.6h1.3v4.43h-1.3zM97.2 109.0h1.3v4.43h-1.3zM131.4 109.0h1.3v4.43h-1.3zM173.5 109.0h1.3v4.43h-1.3zM195.9 109.0h1.3v4.43h-1.3zM231.4 109.0h1.3v4.43h-1.3zM248.5 109.0h1.3v4.43h-1.3zM255.1 109.0h1.3v4.43h-1.3zM338.0 109.0h1.3v4.43h-1.3zM369.5 109.0h1.3v4.43h-1.3zM90.6 113.5h1.3v4.43h-1.3zM135.4 113.5h1.3v4.43h-1.3zM244.6 113.5h1.3v4.43h-1.3zM272.2 113.5h1.3v4.43h-1.3zM291.9 113.5h1.3v4.43h-1.3zM302.4 113.5h2.6v4.43h-2.6zM310.3 113.5h1.3v4.43h-1.3zM314.3 113.5h1.3v4.43h-1.3zM324.8 113.5h1.3v4.43h-1.3zM356.4 113.5h1.3v4.43h-1.3zM72.2 117.9h1.3v4.43h-1.3zM110.4 117.9h1.3v4.43h-1.3zM139.3 117.9h1.3v4.43h-1.3zM145.9 117.9h1.3v4.43h-1.3zM203.8 117.9h2.6v4.43h-2.6zM211.7 117.9h1.3v4.43h-1.3zM223.5 117.9h1.3v4.43h-1.3zM239.3 117.9h1.3v4.43h-1.3zM255.1 117.9h1.3v4.43h-1.3zM259.0 117.9h1.3v4.43h-1.3zM318.2 117.9h1.3v4.43h-1.3zM373.5 117.9h1.3v4.43h-1.3zM378.8 117.9h1.3v4.43h-1.3zM393.2 117.9h1.3v4.43h-1.3zM428.8 117.9h1.3v4.43h-1.3zM149.8 122.3h1.3v4.43h-1.3zM182.7 122.3h1.3v4.43h-1.3zM241.9 122.3h1.3v4.43h-1.3zM266.9 122.3h1.3v4.43h-1.3zM309.0 122.3h1.3v4.43h-1.3zM313.0 122.3h1.3v4.43h-1.3zM323.5 122.3h1.3v4.43h-1.3zM377.4 122.3h1.3v4.43h-1.3zM384.0 122.3h1.3v4.43h-1.3zM401.1 122.3h1.3v4.43h-1.3zM423.5 122.3h1.3v4.43h-1.3zM105.1 126.8h1.3v4.43h-1.3zM110.4 126.8h1.3v4.43h-1.3zM152.5 126.8h1.3v4.43h-1.3zM193.2 126.8h1.3v4.43h-1.3zM282.7 126.8h1.3v4.43h-1.3zM315.6 126.8h1.3v4.43h-1.3zM318.2 126.8h1.3v4.43h-1.3zM327.4 126.8h1.3v4.43h-1.3zM376.1 126.8h1.3v4.43h-1.3zM423.5 126.8h1.3v4.43h-1.3zM105.1 131.2h1.3v4.43h-1.3zM145.9 131.2h1.3v4.43h-1.3zM181.4 131.2h1.3v4.43h-1.3zM209.0 131.2h1.3v4.43h-1.3zM222.2 131.2h1.3v4.43h-1.3zM235.3 131.2h1.3v4.43h-1.3zM238.0 131.2h2.6v4.43h-2.6zM260.3 131.2h1.3v4.43h-1.3zM301.1 131.2h1.3v4.43h-1.3zM352.4 131.2h1.3v4.43h-1.3zM357.7 131.2h1.3v4.43h-1.3zM360.3 131.2h1.3v4.43h-1.3zM393.2 131.2h1.3v4.43h-1.3zM105.1 135.6h1.3v4.43h-1.3zM107.7 135.6h1.3v4.43h-1.3zM116.9 135.6h1.3v4.43h-1.3zM168.3 135.6h1.3v4.43h-1.3zM210.4 135.6h1.3v4.43h-1.3zM214.3 135.6h1.3v4.43h-1.3zM218.2 135.6h1.3v4.43h-1.3zM257.7 135.6h1.3v4.43h-1.3zM282.7 135.6h1.3v4.43h-1.3zM286.7 135.6h1.3v4.43h-1.3zM301.1 135.6h1.3v4.43h-1.3zM306.4 135.6h1.3v4.43h-1.3zM328.8 135.6h1.3v4.43h-1.3zM351.1 135.6h1.3v4.43h-1.3zM388.0 135.6h2.6v4.43h-2.6zM414.3 135.6h1.3v4.43h-1.3zM427.4 135.6h1.3v4.43h-1.3zM97.2 140.1h1.3v4.43h-1.3zM130.1 140.1h1.3v4.43h-1.3zM201.1 140.1h1.3v4.43h-1.3zM220.9 140.1h1.3v4.43h-1.3zM270.9 140.1h1.3v4.43h-1.3zM313.0 140.1h1.3v4.43h-1.3zM147.2 144.5h1.3v4.43h-1.3zM163.0 144.5h1.3v4.43h-1.3zM259.0 144.5h1.3v4.43h-1.3zM302.4 144.5h1.3v4.43h-1.3zM310.3 144.5h1.3v4.43h-1.3zM373.5 144.5h1.3v4.43h-1.3zM109.0 148.9h1.3v4.43h-1.3zM130.1 148.9h1.3v4.43h-1.3zM145.9 148.9h1.3v4.43h-1.3zM153.8 148.9h1.3v4.43h-1.3zM224.8 148.9h1.3v4.43h-1.3zM253.8 148.9h1.3v4.43h-1.3zM270.9 148.9h1.3v4.43h-1.3zM289.3 148.9h1.3v4.43h-1.3zM334.0 148.9h1.3v4.43h-1.3zM420.9 148.9h1.3v4.43h-1.3zM97.2 153.3h1.3v4.43h-1.3zM190.6 153.3h1.3v4.43h-1.3zM231.4 153.3h1.3v4.43h-1.3zM235.3 153.3h1.3v4.43h-1.3zM276.1 153.3h1.3v4.43h-1.3zM303.8 153.3h1.3v4.43h-1.3zM324.8 153.3h1.3v4.43h-1.3zM336.7 153.3h1.3v4.43h-1.3zM356.4 153.3h2.6v4.43h-2.6zM360.3 153.3h1.3v4.43h-1.3zM386.7 153.3h1.3v4.43h-1.3zM398.5 153.3h1.3v4.43h-1.3zM141.9 157.8h1.3v4.43h-1.3zM181.4 157.8h2.6v4.43h-2.6zM190.6 157.8h1.3v4.43h-1.3zM205.1 157.8h1.3v4.43h-1.3zM214.3 157.8h1.3v4.43h-1.3zM224.8 157.8h1.3v4.43h-1.3zM236.7 157.8h1.3v4.43h-1.3zM344.6 157.8h1.3v4.43h-1.3zM365.6 157.8h1.3v4.43h-1.3zM427.4 157.8h1.3v4.43h-1.3zM93.3 166.6h1.3v4.43h-1.3zM181.4 166.6h1.3v4.43h-1.3zM253.8 166.6h1.3v4.43h-1.3zM289.3 166.6h1.3v4.43h-1.3zM285.3 171.1h1.3v4.43h-1.3zM370.9 171.1h1.3v4.43h-1.3zM374.8 171.1h1.3v4.43h-1.3zM423.5 171.1h1.3v4.43h-1.3zM428.8 171.1h1.3v4.43h-1.3zM103.8 175.5h1.3v4.43h-1.3zM124.8 175.5h1.3v4.43h-1.3zM131.4 175.5h1.3v4.43h-1.3zM139.3 175.5h1.3v4.43h-1.3zM145.9 175.5h1.3v4.43h-1.3zM148.5 175.5h1.3v4.43h-1.3zM153.8 175.5h1.3v4.43h-1.3zM173.5 175.5h1.3v4.43h-1.3zM177.5 175.5h2.6v4.43h-2.6zM181.4 175.5h1.3v4.43h-1.3zM210.4 175.5h2.6v4.43h-2.6zM214.3 175.5h1.3v4.43h-1.3zM219.6 175.5h1.3v4.43h-1.3zM228.8 175.5h1.3v4.43h-1.3zM238.0 175.5h2.6v4.43h-2.6zM261.7 175.5h1.3v4.43h-1.3zM264.3 175.5h1.3v4.43h-1.3zM301.1 175.5h1.3v4.43h-1.3zM344.6 175.5h1.3v4.43h-1.3zM355.1 175.5h1.3v4.43h-1.3zM357.7 175.5h1.3v4.43h-1.3zM391.9 175.5h1.3v4.43h-1.3zM397.2 175.5h1.3v4.43h-1.3zM427.4 175.5h1.3v4.43h-1.3zM248.5 179.9h1.3v4.43h-1.3zM415.6 179.9h1.3v4.43h-1.3zM422.2 179.9h1.3v4.43h-1.3zM103.8 184.4h1.3v4.43h-1.3zM113.0 184.4h1.3v4.43h-1.3zM130.1 184.4h1.3v4.43h-1.3zM152.5 184.4h1.3v4.43h-1.3zM173.5 184.4h1.3v4.43h-1.3zM197.2 184.4h1.3v4.43h-1.3zM213.0 184.4h1.3v4.43h-1.3zM216.9 184.4h1.3v4.43h-1.3zM219.6 184.4h1.3v4.43h-1.3zM234.0 184.4h1.3v4.43h-1.3zM239.3 184.4h1.3v4.43h-1.3zM269.6 184.4h1.3v4.43h-1.3zM290.6 184.4h1.3v4.43h-1.3zM391.9 184.4h1.3v4.43h-1.3zM410.3 184.4h1.3v4.43h-1.3zM36.5 188.8h2.8v4.43h-2.8zM44.6 188.8h1.3v4.43h-1.3zM53.8 188.8h1.3v4.43h-1.3zM63.0 188.8h1.3v4.43h-1.3zM84.0 188.8h1.3v4.43h-1.3zM145.9 193.2h1.3v4.43h-1.3zM243.2 193.2h1.3v4.43h-1.3zM303.8 193.2h1.3v4.43h-1.3zM328.8 193.2h1.3v4.43h-1.3zM345.9 193.2h1.3v4.43h-1.3zM414.3 193.2h1.3v4.43h-1.3zM430.1 193.2h1.3v4.43h-1.3zM101.2 197.7h1.3v4.43h-1.3zM153.8 197.7h1.3v4.43h-1.3zM216.9 197.7h1.3v4.43h-1.3zM220.9 197.7h1.3v4.43h-1.3zM264.3 197.7h1.3v4.43h-1.3zM278.8 197.7h1.3v4.43h-1.3zM281.4 197.7h1.3v4.43h-1.3zM295.9 197.7h1.3v4.43h-1.3zM334.0 197.7h1.3v4.43h-1.3zM360.3 197.7h1.3v4.43h-1.3zM382.7 197.7h1.3v4.43h-1.3zM124.8 202.1h1.3v4.43h-1.3zM145.9 202.1h2.6v4.43h-2.6zM224.8 202.1h1.3v4.43h-1.3zM255.1 202.1h1.3v4.43h-1.3zM269.6 202.1h2.6v4.43h-2.6zM278.8 202.1h1.3v4.43h-1.3zM285.3 202.1h1.3v4.43h-1.3zM303.8 202.1h1.3v4.43h-1.3zM331.4 202.1h1.3v4.43h-1.3zM339.3 202.1h1.3v4.43h-1.3zM348.5 202.1h1.3v4.43h-1.3zM374.8 202.1h1.3v4.43h-1.3zM378.8 202.1h1.3v4.43h-1.3zM391.9 202.1h1.3v4.43h-1.3zM427.4 202.1h1.3v4.43h-1.3zM97.2 206.5h1.3v4.43h-1.3zM128.8 206.5h1.3v4.43h-1.3zM131.4 206.5h1.3v4.43h-1.3zM145.9 206.5h1.3v4.43h-1.3zM149.8 206.5h1.3v4.43h-1.3zM153.8 206.5h1.3v4.43h-1.3zM203.8 206.5h1.3v4.43h-1.3zM213.0 206.5h1.3v4.43h-1.3zM255.1 206.5h1.3v4.43h-1.3zM280.1 206.5h1.3v4.43h-1.3zM282.7 206.5h1.3v4.43h-1.3zM295.9 206.5h1.3v4.43h-1.3zM314.3 206.5h1.3v4.43h-1.3zM324.8 206.5h1.3v4.43h-1.3zM348.5 206.5h1.3v4.43h-1.3zM357.7 206.5h1.3v4.43h-1.3zM374.8 206.5h1.3v4.43h-1.3zM414.3 210.9h1.3v4.43h-1.3zM423.5 210.9h1.3v4.43h-1.3zM282.7 215.4h1.3v4.43h-1.3zM111.7 219.8h1.3v4.43h-1.3zM165.6 219.8h1.3v4.43h-1.3zM345.9 219.8h1.3v4.43h-1.3zM414.3 219.8h2.6v4.43h-2.6zM43.3 228.7h2.6v4.43h-2.6zM47.2 228.7h1.3v4.43h-1.3zM59.1 228.7h1.3v4.43h-1.3zM69.6 228.7h1.3v4.43h-1.3zM77.5 228.7h2.6v4.43h-2.6zM90.6 228.7h1.3v4.43h-1.3zM107.7 228.7h1.3v4.43h-1.3zM152.5 228.7h1.3v4.43h-1.3zM284.0 228.7h1.3v4.43h-1.3zM326.1 228.7h1.3v4.43h-1.3zM406.4 228.7h1.3v4.43h-1.3zM56.4 233.1h1.3v4.43h-1.3zM238.0 233.1h1.3v4.43h-1.3zM269.6 233.1h1.3v4.43h-1.3zM326.1 233.1h1.3v4.43h-1.3zM349.8 233.1h1.3v4.43h-1.3zM357.7 233.1h1.3v4.43h-1.3zM369.5 233.1h1.3v4.43h-1.3zM374.8 233.1h1.3v4.43h-1.3zM390.6 233.1h1.3v4.43h-1.3zM422.2 233.1h1.3v4.43h-1.3zM173.5 237.5h1.3v4.43h-1.3zM238.0 237.5h1.3v4.43h-1.3zM251.1 237.5h1.3v4.43h-1.3zM286.7 237.5h1.3v4.43h-1.3zM324.8 237.5h1.3v4.43h-1.3zM335.3 237.5h1.3v4.43h-1.3zM339.3 237.5h1.3v4.43h-1.3zM391.9 237.5h1.3v4.43h-1.3zM419.5 237.5h1.3v4.43h-1.3zM424.8 237.5h1.3v4.43h-1.3zM428.8 237.5h1.3v4.43h-1.3zM338.0 242.0h1.3v4.43h-1.3zM349.8 242.0h1.3v4.43h-1.3zM398.5 242.0h1.3v4.43h-1.3zM244.6 246.4h1.3v4.43h-1.3zM63.0 250.8h1.3v4.43h-1.3zM70.9 250.8h1.3v4.43h-1.3zM73.5 250.8h1.3v4.43h-1.3zM327.4 255.3h1.3v4.43h-1.3zM36.5 259.7h2.8v4.43h-2.8zM53.8 259.7h1.3v4.43h-1.3zM85.4 259.7h1.3v4.43h-1.3zM94.6 259.7h1.3v4.43h-1.3zM149.8 259.7h1.3v4.43h-1.3zM191.9 259.7h1.3v4.43h-1.3zM219.6 259.7h1.3v4.43h-1.3zM74.8 268.6h1.3v4.43h-1.3zM148.5 268.6h1.3v4.43h-1.3zM219.6 268.6h1.3v4.43h-1.3zM252.5 268.6h1.3v4.43h-1.3zM65.6 273.0h1.3v4.43h-1.3zM73.5 273.0h1.3v4.43h-1.3zM81.4 273.0h1.3v4.43h-1.3zM91.9 273.0h1.3v4.43h-1.3zM153.8 273.0h1.3v4.43h-1.3zM169.6 273.0h1.3v4.43h-1.3zM103.8 277.4h1.3v4.43h-1.3zM343.2 277.4h1.3v4.43h-1.3zM348.5 277.4h1.3v4.43h-1.3zM352.4 277.4h1.3v4.43h-1.3zM366.9 277.4h2.6v4.43h-2.6zM370.9 277.4h1.3v4.43h-1.3zM385.3 277.4h2.6v4.43h-2.6zM393.2 277.4h2.6v4.43h-2.6zM398.5 277.4h1.3v4.43h-1.3zM401.1 277.4h1.3v4.43h-1.3zM403.8 277.4h1.3v4.43h-1.3zM410.3 277.4h1.3v4.43h-1.3zM420.9 277.4h1.3v4.43h-1.3zM340.6 286.3h1.3v4.43h-1.3zM351.1 286.3h1.3v4.43h-1.3zM364.3 286.3h1.3v4.43h-1.3zM370.9 286.3h1.3v4.43h-1.3zM373.5 286.3h1.3v4.43h-1.3zM382.7 286.3h1.3v4.43h-1.3zM385.3 286.3h2.6v4.43h-2.6zM399.8 286.3h2.6v4.43h-2.6zM406.4 286.3h1.3v4.43h-1.3zM410.3 286.3h2.6v4.43h-2.6z"/>
<path fill="#5db0d9" d="M97.2 45.5h1.3v5.93h-1.3zM124.8 45.5h1.3v5.93h-1.3zM148.5 45.5h1.3v5.93h-1.3zM159.0 45.5h1.3v5.93h-1.3zM170.9 45.5h2.6v5.93h-2.6zM207.7 45.5h1.3v5.93h-1.3zM213.0 45.5h2.6v5.93h-2.6zM223.5 45.5h1.3v5.93h-1.3zM255.1 45.5h1.3v5.93h-1.3zM261.7 45.5h1.3v5.93h-1.3zM264.3 45.5h1.3v5.93h-1.3zM290.6 45.5h2.6v5.93h-2.6zM319.6 45.5h1.3v5.93h-1.3zM323.5 45.5h1.3v5.93h-1.3zM328.8 45.5h1.3v5.93h-1.3zM338.0 45.5h1.3v5.93h-1.3zM410.3 45.5h1.3v5.93h-1.3zM414.3 45.5h1.3v5.93h-1.3zM85.4 51.4h1.3v4.43h-1.3zM90.6 51.4h1.3v4.43h-1.3zM94.6 51.4h1.3v4.43h-1.3zM144.6 51.4h1.3v4.43h-1.3zM147.2 51.4h2.6v4.43h-2.6zM213.0 51.4h1.3v4.43h-1.3zM231.4 51.4h1.3v4.43h-1.3zM251.1 51.4h1.3v4.43h-1.3zM255.1 51.4h1.3v4.43h-1.3zM264.3 51.4h1.3v4.43h-1.3zM306.4 51.4h1.3v4.43h-1.3zM374.8 51.4h1.3v4.43h-1.3zM422.2 51.4h1.3v4.43h-1.3zM107.7 55.9h1.3v4.43h-1.3zM139.3 55.9h1.3v4.43h-1.3zM165.6 55.9h1.3v4.43h-1.3zM173.5 55.9h1.3v4.43h-1.3zM182.7 55.9h1.3v4.43h-1.3zM199.8 55.9h1.3v4.43h-1.3zM202.5 55.9h1.3v4.43h-1.3zM210.4 55.9h1.3v4.43h-1.3zM241.9 55.9h1.3v4.43h-1.3zM244.6 55.9h1.3v4.43h-1.3zM269.6 55.9h1.3v4.43h-1.3zM280.1 55.9h1.3v4.43h-1.3zM295.9 55.9h1.3v4.43h-1.3zM330.1 55.9h1.3v4.43h-1.3zM365.6 55.9h1.3v4.43h-1.3zM384.0 55.9h1.3v4.43h-1.3zM407.7 55.9h1.3v4.43h-1.3zM428.8 55.9h1.3v4.43h-1.3zM153.8 60.3h1.3v4.43h-1.3zM177.5 60.3h1.3v4.43h-1.3zM202.5 60.3h1.3v4.43h-1.3zM207.7 60.3h1.3v4.43h-1.3zM232.7 60.3h1.3v4.43h-1.3zM261.7 60.3h1.3v4.43h-1.3zM278.8 60.3h1.3v4.43h-1.3zM302.4 60.3h1.3v4.43h-1.3zM306.4 60.3h1.3v4.43h-1.3zM310.3 60.3h1.3v4.43h-1.3zM324.8 60.3h1.3v4.43h-1.3zM328.8 60.3h1.3v4.43h-1.3zM335.3 60.3h1.3v4.43h-1.3zM344.6 60.3h1.3v4.43h-1.3zM352.4 60.3h1.3v4.43h-1.3zM384.0 60.3h1.3v4.43h-1.3zM388.0 60.3h1.3v4.43h-1.3zM393.2 60.3h1.3v4.43h-1.3zM424.8 60.3h1.3v4.43h-1.3zM165.6 64.7h1.3v4.43h-1.3zM181.4 64.7h1.3v4.43h-1.3zM306.4 64.7h1.3v4.43h-1.3zM314.3 64.7h1.3v4.43h-1.3zM348.5 64.7h2.6v4.43h-2.6zM355.1 64.7h1.3v4.43h-1.3zM368.2 64.7h1.3v4.43h-1.3zM422.2 64.7h1.3v4.43h-1.3zM428.8 64.7h1.3v4.43h-1.3zM152.5 69.2h1.3v4.43h-1.3zM165.6 69.2h1.3v4.43h-1.3zM177.5 69.2h1.3v4.43h-1.3zM199.8 69.2h1.3v4.43h-1.3zM214.3 69.2h2.6v4.43h-2.6zM234.0 69.2h1.3v4.43h-1.3zM257.7 69.2h1.3v4.43h-1.3zM260.3 69.2h1.3v4.43h-1.3zM313.0 69.2h1.3v4.43h-1.3zM324.8 69.2h1.3v4.43h-1.3zM328.8 69.2h2.6v4.43h-2.6zM334.0 69.2h1.3v4.43h-1.3zM338.0 69.2h1.3v4.43h-1.3zM352.4 69.2h1.3v4.43h-1.3zM359.0 69.2h1.3v4.43h-1.3zM427.4 69.2h1.3v4.43h-1.3zM97.2 73.6h1.3v4.43h-1.3zM103.8 73.6h1.3v4.43h-1.3zM111.7 73.6h1.3v4.43h-1.3zM195.9 73.6h1.3v4.43h-1.3zM199.8 73.6h1.3v4.43h-1.3zM220.9 73.6h1.3v4.43h-1.3zM289.3 73.6h1.3v4.43h-1.3zM318.2 73.6h2.6v4.43h-2.6zM322.2 73.6h1.3v4.43h-1.3zM331.4 73.6h1.3v4.43h-1.3zM334.0 73.6h1.3v4.43h-1.3zM345.9 73.6h1.3v4.43h-1.3zM348.5 73.6h1.3v4.43h-1.3zM405.1 73.6h1.3v4.43h-1.3zM422.2 73.6h1.3v4.43h-1.3zM427.4 73.6h1.3v4.43h-1.3zM415.6 78.0h1.3v4.43h-1.3zM424.8 78.0h1.3v4.43h-1.3zM116.9 82.4h1.3v4.43h-1.3zM130.1 82.4h1.3v4.43h-1.3zM161.7 82.4h1.3v4.43h-1.3zM195.9 82.4h1.3v4.43h-1.3zM210.4 82.4h1.3v4.43h-1.3zM213.0 82.4h1.3v4.43h-1.3zM220.9 82.4h1.3v4.43h-1.3zM234.0 82.4h1.3v4.43h-1.3zM253.8 82.4h1.3v4.43h-1.3zM303.8 82.4h1.3v4.43h-1.3zM323.5 82.4h1.3v4.43h-1.3zM372.2 82.4h1.3v4.43h-1.3zM388.0 82.4h1.3v4.43h-1.3zM131.4 86.9h1.3v4.43h-1.3zM182.7 86.9h1.3v4.43h-1.3zM270.9 86.9h1.3v4.43h-1.3zM278.8 86.9h1.3v4.43h-1.3zM290.6 86.9h1.3v4.43h-1.3zM303.8 86.9h1.3v4.43h-1.3zM355.1 86.9h1.3v4.43h-1.3zM374.8 86.9h1.3v4.43h-1.3zM390.6 86.9h1.3v4.43h-1.3zM414.3 86.9h1.3v4.43h-1.3zM422.2 86.9h2.6v4.43h-2.6zM44.6 91.3h1.3v4.43h-1.3zM68.3 91.3h1.3v4.43h-1.3zM182.7 91.3h1.3v4.43h-1.3zM201.1 91.3h1.3v4.43h-1.3zM228.8 91.3h1.3v4.43h-1.3zM239.3 91.3h1.3v4.43h-1.3zM241.9 91.3h1.3v4.43h-1.3zM255.1 91.3h1.3v4.43h-1.3zM264.3 91.3h1.3v4.43h-1.3zM273.5 91.3h1.3v4.43h-1.3zM313.0 91.3h1.3v4.43h-1.3zM318.2 91.3h1.3v4.43h-1.3zM327.4 91.3h1.3v4.43h-1.3zM351.1 91.3h1.3v4.43h-1.3zM405.1 91.3h1.3v4.43h-1.3zM423.5 91.3h1.3v4.43h-1.3zM116.9 95.7h1.3v4.43h-1.3zM143.3 95.7h1.3v4.43h-1.3zM148.5 95.7h1.3v4.43h-1.3zM198.5 95.7h1.3v4.43h-1.3zM207.7 95.7h1.3v4.43h-1.3zM224.8 95.7h1.3v4.43h-1.3zM289.3 95.7h1.3v4.43h-1.3zM302.4 95.7h1.3v4.43h-1.3zM348.5 95.7h1.3v4.43h-1.3zM351.1 95.7h1.3v4.43h-1.3zM353.8 95.7h2.6v4.43h-2.6zM368.2 95.7h1.3v4.43h-1.3zM388.0 95.7h1.3v4.43h-1.3zM398.5 95.7h1.3v4.43h-1.3zM422.2 95.7h1.3v4.43h-1.3zM145.9 100.2h1.3v4.43h-1.3zM152.5 100.2h1.3v4.43h-1.3zM157.7 100.2h1.3v4.43h-1.3zM211.7 100.2h1.3v4.43h-1.3zM224.8 100.2h1.3v4.43h-1.3zM330.1 100.2h1.3v4.43h-1.3zM378.8 100.2h1.3v4.43h-1.3zM402.4 100.2h1.3v4.43h-1.3zM153.8 104.6h1.3v4.43h-1.3zM182.7 104.6h1.3v4.43h-1.3zM224.8 104.6h1.3v4.43h-1.3zM230.1 104.6h1.3v4.43h-1.3zM238.0 104.6h1.3v4.43h-1.3zM253.8 104.6h1.3v4.43h-1.3zM264.3 104.6h1.3v4.43h-1.3zM272.2 104.6h1.3v4.43h-1.3zM274.8 104.6h1.3v4.43h-1.3zM280.1 104.6h1.3v4.43h-1.3zM282.7 104.6h1.3v4.43h-1.3zM286.7 104.6h1.3v4.43h-1.3zM313.0 104.6h1.3v4.43h-1.3zM323.5 104.6h1.3v4.43h-1.3zM344.6 104.6h1.3v4.43h-1.3zM348.5 104.6h1.3v4.43h-1.3zM401.1 104.6h1.3v4.43h-1.3zM107.7 109.0h1.3v4.43h-1.3zM152.5 109.0h1.3v4.43h-1.3zM177.5 109.0h1.3v4.43h-1.3zM201.1 109.0h1.3v4.43h-1.3zM219.6 109.0h1.3v4.43h-1.3zM239.3 109.0h1.3v4.43h-1.3zM278.8 109.0h1.3v4.43h-1.3zM289.3 109.0h1.3v4.43h-1.3zM310.3 109.0h1.3v4.43h-1.3zM313.0 109.0h1.3v4.43h-1.3zM324.8 109.0h1.3v4.43h-1.3zM349.8 109.0h2.6v4.43h-2.6zM355.1 109.0h1.3v4.43h-1.3zM384.0 109.0h1.3v4.43h-1.3zM105.1 113.5h1.3v4.43h-1.3zM119.6 113.5h1.3v4.43h-1.3zM131.4 113.5h1.3v4.43h-1.3zM152.5 113.5h1.3v4.43h-1.3zM161.7 113.5h1.3v4.43h-1.3zM189.3 113.5h1.3v4.43h-1.3zM193.2 113.5h1.3v4.43h-1.3zM206.4 113.5h1.3v4.43h-1.3zM259.0 113.5h1.3v4.43h-1.3zM269.6 113.5h1.3v4.43h-1.3zM320.9 113.5h1.3v4.43h-1.3zM331.4 113.5h1.3v4.43h-1.3zM347.2 113.5h1.3v4.43h-1.3zM378.8 113.5h1.3v4.43h-1.3zM107.7 117.9h1.3v4.43h-1.3zM124.8 117.9h1.3v4.43h-1.3zM130.1 117.9h1.3v4.43h-1.3zM152.5 117.9h1.3v4.43h-1.3zM197.2 117.9h2.6v4.43h-2.6zM215.6 117.9h1.3v4.43h-1.3zM222.2 117.9h1.3v4.43h-1.3zM228.8 117.9h1.3v4.43h-1.3zM282.7 117.9h1.3v4.43h-1.3zM324.8 117.9h1.3v4.43h-1.3zM344.6 117.9h1.3v4.43h-1.3zM351.1 117.9h1.3v4.43h-1.3zM355.1 117.9h2.6v4.43h-2.6zM389.3 117.9h1.3v4.43h-1.3zM405.1 117.9h1.3v4.43h-1.3zM177.5 122.3h1.3v4.43h-1.3zM214.3 122.3h1.3v4.43h-1.3zM232.7 122.3h1.3v4.43h-1.3zM255.1 122.3h1.3v4.43h-1.3zM270.9 122.3h1.3v4.43h-1.3zM274.8 122.3h1.3v4.43h-1.3zM280.1 122.3h1.3v4.43h-1.3zM282.7 122.3h1.3v4.43h-1.3zM330.1 122.3h1.3v4.43h-1.3zM356.4 122.3h1.3v4.43h-1.3zM373.5 122.3h2.6v4.43h-2.6zM378.8 122.3h1.3v4.43h-1.3zM410.3 122.3h1.3v4.43h-1.3zM111.7 126.8h2.6v4.43h-2.6zM128.8 126.8h1.3v4.43h-1.3zM143.3 126.8h1.3v4.43h-1.3zM149.8 126.8h1.3v4.43h-1.3zM166.9 126.8h1.3v4.43h-1.3zM177.5 126.8h1.3v4.43h-1.3zM248.5 126.8h1.3v4.43h-1.3zM253.8 126.8h1.3v4.43h-1.3zM266.9 126.8h1.3v4.43h-1.3zM278.8 126.8h1.3v4.43h-1.3zM301.1 126.8h1.3v4.43h-1.3zM338.0 126.8h1.3v4.43h-1.3zM356.4 126.8h1.3v4.43h-1.3zM424.8 126.8h1.3v4.43h-1.3zM124.8 131.2h1.3v4.43h-1.3zM143.3 131.2h1.3v4.43h-1.3zM147.2 131.2h1.3v4.43h-1.3zM155.1 131.2h1.3v4.43h-1.3zM243.2 131.2h1.3v4.43h-1.3zM282.7 131.2h1.3v4.43h-1.3zM288.0 131.2h1.3v4.43h-1.3zM303.8 131.2h1.3v4.43h-1.3zM313.0 131.2h1.3v4.43h-1.3zM319.6 131.2h1.3v4.43h-1.3zM327.4 131.2h1.3v4.43h-1.3zM386.7 131.2h1.3v4.43h-1.3zM391.9 131.2h1.3v4.43h-1.3zM414.3 131.2h1.3v4.43h-1.3zM99.8 135.6h1.3v4.43h-1.3zM113.0 135.6h1.3v4.43h-1.3zM128.8 135.6h1.3v4.43h-1.3zM182.7 135.6h1.3v4.43h-1.3zM216.9 135.6h1.3v4.43h-1.3zM224.8 135.6h1.3v4.43h-1.3zM238.0 135.6h2.6v4.43h-2.6zM255.1 135.6h1.3v4.43h-1.3zM260.3 135.6h2.6v4.43h-2.6zM274.8 135.6h1.3v4.43h-1.3zM281.4 135.6h1.3v4.43h-1.3zM309.0 135.6h1.3v4.43h-1.3zM338.0 135.6h1.3v4.43h-1.3zM341.9 135.6h1.3v4.43h-1.3zM355.1 135.6h1.3v4.43h-1.3zM360.3 135.6h1.3v4.43h-1.3zM420.9 135.6h1.3v4.43h-1.3zM423.5 135.6h1.3v4.43h-1.3zM178.8 140.1h1.3v4.43h-1.3zM248.5 140.1h1.3v4.43h-1.3zM259.0 140.1h1.3v4.43h-1.3zM285.3 140.1h1.3v4.43h-1.3zM344.6 140.1h1.3v4.43h-1.3zM389.3 140.1h1.3v4.43h-1.3zM393.2 140.1h1.3v4.43h-1.3zM426.1 140.1h1.3v4.43h-1.3zM103.8 144.5h1.3v4.43h-1.3zM119.6 144.5h1.3v4.43h-1.3zM130.1 144.5h1.3v4.43h-1.3zM168.3 144.5h1.3v4.43h-1.3zM198.5 144.5h1.3v4.43h-1.3zM201.1 144.5h1.3v4.43h-1.3zM211.7 144.5h1.3v4.43h-1.3zM214.3 144.5h2.6v4.43h-2.6zM222.2 144.5h1.3v4.43h-1.3zM224.8 144.5h1.3v4.43h-1.3zM273.5 144.5h1.3v4.43h-1.3zM301.1 144.5h1.3v4.43h-1.3zM353.8 144.5h1.3v4.43h-1.3zM378.8 144.5h1.3v4.43h-1.3zM398.5 144.5h1.3v4.43h-1.3zM410.3 144.5h1.3v4.43h-1.3zM419.5 144.5h1.3v4.43h-1.3zM427.4 144.5h1.3v4.43h-1.3zM430.1 144.5h1.3v4.43h-1.3zM113.0 148.9h2.6v4.43h-2.6zM149.8 148.9h1.3v4.43h-1.3zM173.5 148.9h1.3v4.43h-1.3zM176.1 148.9h1.3v4.43h-1.3zM198.5 148.9h1.3v4.43h-1.3zM206.4 148.9h1.3v4.43h-1.3zM352.4 148.9h1.3v4.43h-1.3zM360.3 148.9h1.3v4.43h-1.3zM370.9 148.9h1.3v4.43h-1.3zM374.8 148.9h1.3v4.43h-1.3zM388.0 148.9h1.3v4.43h-1.3zM110.4 153.3h1.3v4.43h-1.3zM139.3 153.3h1.3v4.43h-1.3zM182.7 153.3h1.3v4.43h-1.3zM188.0 153.3h1.3v4.43h-1.3zM209.0 153.3h1.3v4.43h-1.3zM211.7 153.3h1.3v4.43h-1.3zM224.8 153.3h1.3v4.43h-1.3zM280.1 153.3h1.3v4.43h-1.3zM323.5 153.3h1.3v4.43h-1.3zM344.6 153.3h1.3v4.43h-1.3zM349.8 153.3h1.3v4.43h-1.3zM352.4 153.3h1.3v4.43h-1.3zM419.5 153.3h1.3v4.43h-1.3zM422.2 153.3h1.3v4.43h-1.3zM107.7 157.8h1.3v4.43h-1.3zM140.6 157.8h1.3v4.43h-1.3zM143.3 157.8h1.3v4.43h-1.3zM152.5 157.8h1.3v4.43h-1.3zM161.7 157.8h1.3v4.43h-1.3zM168.3 157.8h1.3v4.43h-1.3zM177.5 157.8h1.3v4.43h-1.3zM223.5 157.8h1.3v4.43h-1.3zM230.1 157.8h1.3v4.43h-1.3zM238.0 157.8h1.3v4.43h-1.3zM285.3 157.8h1.3v4.43h-1.3zM369.5 157.8h1.3v4.43h-1.3zM419.5 157.8h1.3v4.43h-1.3zM176.1 162.2h1.3v4.43h-1.3zM220.9 162.2h1.3v4.43h-1.3zM239.3 162.2h1.3v4.43h-1.3zM314.3 162.2h1.3v4.43h-1.3zM159.0 166.6h1.3v4.43h-1.3zM247.2 166.6h1.3v4.43h-1.3zM386.7 166.6h1.3v4.43h-1.3zM105.1 171.1h1.3v4.43h-1.3zM111.7 171.1h1.3v4.43h-1.3zM130.1 171.1h1.3v4.43h-1.3zM143.3 171.1h1.3v4.43h-1.3zM173.5 171.1h1.3v4.43h-1.3zM182.7 171.1h2.6v4.43h-2.6zM198.5 171.1h1.3v4.43h-1.3zM201.1 171.1h1.3v4.43h-1.3zM223.5 171.1h1.3v4.43h-1.3zM255.1 171.1h1.3v4.43h-1.3zM313.0 171.1h1.3v4.43h-1.3zM344.6 171.1h1.3v4.43h-1.3zM357.7 171.1h1.3v4.43h-1.3zM378.8 171.1h1.3v4.43h-1.3zM107.7 175.5h1.3v4.43h-1.3zM111.7 175.5h1.3v4.43h-1.3zM116.9 175.5h1.3v4.43h-1.3zM163.0 175.5h1.3v4.43h-1.3zM169.6 175.5h3.9v4.43h-3.9zM189.3 175.5h1.3v4.43h-1.3zM193.2 175.5h1.3v4.43h-1.3zM198.5 175.5h1.3v4.43h-1.3zM201.1 175.5h1.3v4.43h-1.3zM216.9 175.5h1.3v4.43h-1.3zM234.0 175.5h1.3v4.43h-1.3zM309.0 175.5h1.3v4.43h-1.3zM327.4 175.5h1.3v4.43h-1.3zM334.0 175.5h1.3v4.43h-1.3zM345.9 175.5h1.3v4.43h-1.3zM352.4 175.5h1.3v4.43h-1.3zM360.3 175.5h1.3v4.43h-1.3zM419.5 175.5h1.3v4.43h-1.3zM114.3 179.9h1.3v4.43h-1.3zM119.6 179.9h1.3v4.43h-1.3zM213.0 179.9h2.6v4.43h-2.6zM241.9 179.9h1.3v4.43h-1.3zM252.5 179.9h1.3v4.43h-1.3zM273.5 179.9h2.6v4.43h-2.6zM278.8 179.9h1.3v4.43h-1.3zM291.9 179.9h1.3v4.43h-1.3zM313.0 179.9h1.3v4.43h-1.3zM315.6 179.9h1.3v4.43h-1.3zM324.8 179.9h1.3v4.43h-1.3zM331.4 179.9h1.3v4.43h-1.3zM336.7 179.9h1.3v4.43h-1.3zM351.1 179.9h1.3v4.43h-1.3zM356.4 179.9h1.3v4.43h-1.3zM360.3 179.9h1.3v4.43h-1.3zM382.7 179.9h1.3v4.43h-1.3zM398.5 179.9h1.3v4.43h-1.3zM427.4 179.9h1.3v4.43h-1.3zM107.7 184.4h1.3v4.43h-1.3zM110.4 184.4h1.3v4.43h-1.3zM123.5 184.4h1.3v4.43h-1.3zM141.9 184.4h1.3v4.43h-1.3zM153.8 184.4h1.3v4.43h-1.3zM161.7 184.4h1.3v4.43h-1.3zM178.8 184.4h1.3v4.43h-1.3zM201.1 184.4h1.3v4.43h-1.3zM276.1 184.4h1.3v4.43h-1.3zM319.6 184.4h1.3v4.43h-1.3zM355.1 184.4h2.6v4.43h-2.6zM360.3 184.4h1.3v4.43h-1.3zM370.9 184.4h1.3v4.43h-1.3zM376.1 184.4h1.3v4.43h-1.3zM411.6 184.4h1.3v4.43h-1.3zM422.2 184.4h1.3v4.43h-1.3zM123.5 188.8h1.3v4.43h-1.3zM131.4 188.8h1.3v4.43h-1.3zM141.9 188.8h1.3v4.43h-1.3zM231.4 188.8h1.3v4.43h-1.3zM274.8 188.8h1.3v4.43h-1.3zM277.5 188.8h1.3v4.43h-1.3zM301.1 188.8h2.6v4.43h-2.6zM328.8 188.8h2.6v4.43h-2.6zM389.3 188.8h1.3v4.43h-1.3zM401.1 188.8h1.3v4.43h-1.3zM415.6 188.8h1.3v4.43h-1.3zM101.2 193.2h1.3v4.43h-1.3zM105.1 193.2h1.3v4.43h-1.3zM135.4 193.2h1.3v4.43h-1.3zM173.5 193.2h1.3v4.43h-1.3zM188.0 193.2h1.3v4.43h-1.3zM203.8 193.2h2.6v4.43h-2.6zM215.6 193.2h1.3v4.43h-1.3zM255.1 193.2h1.3v4.43h-1.3zM302.4 193.2h1.3v4.43h-1.3zM323.5 193.2h2.6v4.43h-2.6zM331.4 193.2h1.3v4.43h-1.3zM334.0 193.2h1.3v4.43h-1.3zM338.0 193.2h1.3v4.43h-1.3zM410.3 193.2h1.3v4.43h-1.3zM109.0 197.7h1.3v4.43h-1.3zM111.7 197.7h2.6v4.43h-2.6zM116.9 197.7h1.3v4.43h-1.3zM135.4 197.7h1.3v4.43h-1.3zM165.6 197.7h1.3v4.43h-1.3zM182.7 197.7h1.3v4.43h-1.3zM199.8 197.7h1.3v4.43h-1.3zM213.0 197.7h1.3v4.43h-1.3zM234.0 197.7h1.3v4.43h-1.3zM241.9 197.7h1.3v4.43h-1.3zM255.1 197.7h1.3v4.43h-1.3zM260.3 197.7h1.3v4.43h-1.3zM303.8 197.7h1.3v4.43h-1.3zM310.3 197.7h1.3v4.43h-1.3zM345.9 197.7h1.3v4.43h-1.3zM349.8 197.7h1.3v4.43h-1.3zM107.7 202.1h2.6v4.43h-2.6zM144.6 202.1h1.3v4.43h-1.3zM149.8 202.1h1.3v4.43h-1.3zM168.3 202.1h1.3v4.43h-1.3zM214.3 202.1h1.3v4.43h-1.3zM234.0 202.1h1.3v4.43h-1.3zM260.3 202.1h1.3v4.43h-1.3zM272.2 202.1h1.3v4.43h-1.3zM302.4 202.1h1.3v4.43h-1.3zM309.0 202.1h2.6v4.43h-2.6zM319.6 202.1h1.3v4.43h-1.3zM330.1 202.1h1.3v4.43h-1.3zM355.1 202.1h1.3v4.43h-1.3zM389.3 202.1h1.3v4.43h-1.3zM419.5 202.1h1.3v4.43h-1.3zM111.7 206.5h2.6v4.43h-2.6zM130.1 206.5h1.3v4.43h-1.3zM139.3 206.5h1.3v4.43h-1.3zM141.9 206.5h2.6v4.43h-2.6zM176.1 206.5h1.3v4.43h-1.3zM182.7 206.5h1.3v4.43h-1.3zM190.6 206.5h1.3v4.43h-1.3zM209.0 206.5h1.3v4.43h-1.3zM211.7 206.5h1.3v4.43h-1.3zM215.6 206.5h1.3v4.43h-1.3zM224.8 206.5h1.3v4.43h-1.3zM235.3 206.5h1.3v4.43h-1.3zM264.3 206.5h1.3v4.43h-1.3zM278.8 206.5h1.3v4.43h-1.3zM302.4 206.5h1.3v4.43h-1.3zM318.2 206.5h1.3v4.43h-1.3zM327.4 206.5h1.3v4.43h-1.3zM352.4 206.5h1.3v4.43h-1.3zM103.8 210.9h1.3v4.43h-1.3zM113.0 210.9h1.3v4.43h-1.3zM119.6 210.9h1.3v4.43h-1.3zM124.8 210.9h1.3v4.43h-1.3zM141.9 210.9h1.3v4.43h-1.3zM149.8 210.9h1.3v4.43h-1.3zM155.1 210.9h1.3v4.43h-1.3zM159.0 210.9h1.3v4.43h-1.3zM173.5 210.9h1.3v4.43h-1.3zM178.8 210.9h1.3v4.43h-1.3zM199.8 210.9h1.3v4.43h-1.3zM224.8 210.9h1.3v4.43h-1.3zM232.7 210.9h1.3v4.43h-1.3zM282.7 210.9h1.3v4.43h-1.3zM344.6 210.9h2.6v4.43h-2.6zM349.8 210.9h1.3v4.43h-1.3zM357.7 210.9h1.3v4.43h-1.3zM374.8 210.9h1.3v4.43h-1.3zM130.1 215.4h1.3v4.43h-1.3zM149.8 215.4h1.3v4.43h-1.3zM165.6 215.4h1.3v4.43h-1.3zM198.5 215.4h1.3v4.43h-1.3zM216.9 215.4h1.3v4.43h-1.3zM230.1 215.4h1.3v4.43h-1.3zM270.9 215.4h1.3v4.43h-1.3zM288.0 215.4h1.3v4.43h-1.3zM314.3 215.4h1.3v4.43h-1.3zM384.0 215.4h1.3v4.43h-1.3zM402.4 215.4h1.3v4.43h-1.3zM407.7 215.4h1.3v4.43h-1.3zM97.2 219.8h1.3v4.43h-1.3zM107.7 219.8h1.3v4.43h-1.3zM166.9 219.8h1.3v4.43h-1.3zM172.2 219.8h1.3v4.43h-1.3zM231.4 219.8h1.3v4.43h-1.3zM244.6 219.8h1.3v4.43h-1.3zM248.5 219.8h1.3v4.43h-1.3zM266.9 219.8h1.3v4.43h-1.3zM270.9 219.8h1.3v4.43h-1.3zM278.8 219.8h1.3v4.43h-1.3zM303.8 219.8h1.3v4.43h-1.3zM310.3 219.8h1.3v4.43h-1.3zM320.9 219.8h2.6v4.43h-2.6zM324.8 219.8h1.3v4.43h-1.3zM352.4 219.8h1.3v4.43h-1.3zM373.5 219.8h1.3v4.43h-1.3zM384.0 219.8h1.3v4.43h-1.3zM410.3 219.8h1.3v4.43h-1.3zM419.5 219.8h1.3v4.43h-1.3zM53.8 224.2h1.3v4.43h-1.3zM85.4 224.2h2.6v4.43h-2.6zM313.0 224.2h1.3v4.43h-1.3zM45.9 233.1h1.3v4.43h-1.3zM80.1 233.1h1.3v4.43h-1.3zM244.6 233.1h1.3v4.43h-1.3zM310.3 233.1h1.3v4.43h-1.3zM318.2 233.1h1.3v4.43h-1.3zM322.2 233.1h1.3v4.43h-1.3zM405.1 233.1h1.3v4.43h-1.3zM107.7 237.5h1.3v4.43h-1.3zM130.1 237.5h1.3v4.43h-1.3zM152.5 237.5h1.3v4.43h-1.3zM166.9 237.5h1.3v4.43h-1.3zM214.3 237.5h1.3v4.43h-1.3zM220.9 237.5h1.3v4.43h-1.3zM230.1 237.5h1.3v4.43h-1.3zM352.4 237.5h1.3v4.43h-1.3zM365.6 237.5h1.3v4.43h-1.3zM376.1 237.5h1.3v4.43h-1.3zM378.8 237.5h1.3v4.43h-1.3zM388.0 237.5h3.9v4.43h-3.9zM422.2 237.5h1.3v4.43h-1.3zM147.2 242.0h2.6v4.43h-2.6zM166.9 242.0h1.3v4.43h-1.3zM198.5 242.0h1.3v4.43h-1.3zM203.8 242.0h1.3v4.43h-1.3zM218.2 242.0h1.3v4.43h-1.3zM232.7 242.0h1.3v4.43h-1.3zM241.9 242.0h1.3v4.43h-1.3zM330.1 242.0h1.3v4.43h-1.3zM402.4 242.0h1.3v4.43h-1.3zM159.0 246.4h1.3v4.43h-1.3zM198.5 246.4h1.3v4.43h-1.3zM209.0 246.4h1.3v4.43h-1.3zM264.3 246.4h1.3v4.43h-1.3zM310.3 246.4h1.3v4.43h-1.3zM324.8 246.4h1.3v4.43h-1.3zM356.4 246.4h1.3v4.43h-1.3zM360.3 246.4h1.3v4.43h-1.3zM139.3 250.8h1.3v4.43h-1.3zM188.0 250.8h1.3v4.43h-1.3zM198.5 250.8h1.3v4.43h-1.3zM223.5 250.8h1.3v4.43h-1.3zM240.6 250.8h2.6v4.43h-2.6zM264.3 250.8h1.3v4.43h-1.3zM107.7 255.3h1.3v4.43h-1.3zM140.6 255.3h1.3v4.43h-1.3zM145.9 255.3h1.3v4.43h-1.3zM152.5 255.3h1.3v4.43h-1.3zM207.7 255.3h1.3v4.43h-1.3zM223.5 255.3h1.3v4.43h-1.3zM228.8 255.3h1.3v4.43h-1.3zM274.8 255.3h1.3v4.43h-1.3zM278.8 255.3h1.3v4.43h-1.3zM313.0 255.3h1.3v4.43h-1.3zM324.8 264.1h1.3v4.43h-1.3zM36.5 268.6h2.8v4.43h-2.8zM81.4 268.6h1.3v4.43h-1.3zM93.3 268.6h1.3v4.43h-1.3zM97.2 268.6h1.3v4.43h-1.3zM109.0 268.6h1.3v4.43h-1.3zM135.4 268.6h1.3v4.43h-1.3zM169.6 268.6h1.3v4.43h-1.3zM201.1 268.6h1.3v4.43h-1.3zM238.0 268.6h1.3v4.43h-1.3zM269.6 268.6h1.3v4.43h-1.3zM286.7 268.6h2.6v4.43h-2.6zM51.2 273.0h1.3v4.43h-1.3zM69.6 273.0h1.3v4.43h-1.3zM72.2 273.0h1.3v4.43h-1.3zM131.4 273.0h1.3v4.43h-1.3zM139.3 273.0h1.3v4.43h-1.3zM199.8 273.0h1.3v4.43h-1.3zM207.7 273.0h1.3v4.43h-1.3zM251.1 273.0h1.3v4.43h-1.3zM285.3 273.0h1.3v4.43h-1.3zM223.5 281.8h1.3v4.43h-1.3zM82.7 295.1h1.3v4.43h-1.3zM89.3 295.1h1.3v4.43h-1.3zM222.2 295.1h1.3v4.43h-1.3z"/>
<path fill="#63b5dd" d="M111.7 45.5h1.3v5.93h-1.3zM116.9 45.5h1.3v5.93h-1.3zM130.1 45.5h1.3v5.93h-1.3zM149.8 45.5h1.3v5.93h-1.3zM199.8 45.5h1.3v5.93h-1.3zM210.4 45.5h1.3v5.93h-1.3zM222.2 45.5h1.3v5.93h-1.3zM228.8 45.5h1.3v5.93h-1.3zM241.9 45.5h1.3v5.93h-1.3zM248.5 45.5h1.3v5.93h-1.3zM252.5 45.5h1.3v5.93h-1.3zM289.3 45.5h1.3v5.93h-1.3zM306.4 45.5h1.3v5.93h-1.3zM322.2 45.5h1.3v5.93h-1.3zM330.1 45.5h1.3v5.93h-1.3zM334.0 45.5h2.6v5.93h-2.6zM374.8 45.5h1.3v5.93h-1.3zM377.4 45.5h1.3v5.93h-1.3zM128.8 51.4h1.3v4.43h-1.3zM203.8 51.4h1.3v4.43h-1.3zM216.9 51.4h1.3v4.43h-1.3zM222.2 51.4h1.3v4.43h-1.3zM234.0 51.4h1.3v4.43h-1.3zM252.5 51.4h1.3v4.43h-1.3zM261.7 51.4h1.3v4.43h-1.3zM278.8 51.4h1.3v4.43h-1.3zM301.1 51.4h1.3v4.43h-1.3zM338.0 51.4h1.3v4.43h-1.3zM356.4 51.4h1.3v4.43h-1.3zM390.6 51.4h1.3v4.43h-1.3zM398.5 51.4h1.3v4.43h-1.3zM140.6 55.9h1.3v4.43h-1.3zM148.5 55.9h1.3v4.43h-1.3zM198.5 55.9h1.3v4.43h-1.3zM255.1 55.9h1.3v4.43h-1.3zM274.8 55.9h1.3v4.43h-1.3zM286.7 55.9h1.3v4.43h-1.3zM360.3 55.9h1.3v4.43h-1.3zM372.2 55.9h1.3v4.43h-1.3zM374.8 55.9h1.3v4.43h-1.3zM390.6 55.9h1.3v4.43h-1.3zM123.5 60.3h1.3v4.43h-1.3zM145.9 60.3h1.3v4.43h-1.3zM182.7 60.3h1.3v4.43h-1.3zM193.2 60.3h1.3v4.43h-1.3zM199.8 60.3h1.3v4.43h-1.3zM209.0 60.3h1.3v4.43h-1.3zM211.7 60.3h1.3v4.43h-1.3zM228.8 60.3h1.3v4.43h-1.3zM241.9 60.3h1.3v4.43h-1.3zM280.1 60.3h1.3v4.43h-1.3zM313.0 60.3h1.3v4.43h-1.3zM327.4 60.3h1.3v4.43h-1.3zM345.9 60.3h1.3v4.43h-1.3zM373.5 60.3h1.3v4.43h-1.3zM378.8 60.3h1.3v4.43h-1.3zM198.5 64.7h1.3v4.43h-1.3zM218.2 64.7h1.3v4.43h-1.3zM235.3 64.7h1.3v4.43h-1.3zM243.2 64.7h1.3v4.43h-1.3zM280.1 64.7h1.3v4.43h-1.3zM302.4 64.7h1.3v4.43h-1.3zM324.8 64.7h1.3v4.43h-1.3zM328.8 64.7h1.3v4.43h-1.3zM334.0 64.7h1.3v4.43h-1.3zM336.7 64.7h1.3v4.43h-1.3zM352.4 64.7h1.3v4.43h-1.3zM357.7 64.7h1.3v4.43h-1.3zM365.6 64.7h1.3v4.43h-1.3zM398.5 64.7h1.3v4.43h-1.3zM97.2 69.2h1.3v4.43h-1.3zM114.3 69.2h1.3v4.43h-1.3zM116.9 69.2h1.3v4.43h-1.3zM140.6 69.2h1.3v4.43h-1.3zM169.6 69.2h1.3v4.43h-1.3zM197.2 69.2h1.3v4.43h-1.3zM209.0 69.2h1.3v4.43h-1.3zM211.7 69.2h2.6v4.43h-2.6zM224.8 69.2h1.3v4.43h-1.3zM238.0 69.2h1.3v4.43h-1.3zM272.2 69.2h1.3v4.43h-1.3zM277.5 69.2h1.3v4.43h-1.3zM289.3 69.2h1.3v4.43h-1.3zM303.8 69.2h1.3v4.43h-1.3zM309.0 69.2h1.3v4.43h-1.3zM318.2 69.2h1.3v4.43h-1.3zM323.5 69.2h1.3v4.43h-1.3zM327.4 69.2h1.3v4.43h-1.3zM377.4 69.2h1.3v4.43h-1.3zM388.0 69.2h1.3v4.43h-1.3zM391.9 69.2h1.3v4.43h-1.3zM407.7 69.2h1.3v4.43h-1.3zM148.5 73.6h1.3v4.43h-1.3zM155.1 73.6h1.3v4.43h-1.3zM178.8 73.6h1.3v4.43h-1.3zM182.7 73.6h1.3v4.43h-1.3zM190.6 73.6h1.3v4.43h-1.3zM213.0 73.6h1.3v4.43h-1.3zM224.8 73.6h1.3v4.43h-1.3zM228.8 73.6h1.3v4.43h-1.3zM255.1 73.6h1.3v4.43h-1.3zM270.9 73.6h1.3v4.43h-1.3zM277.5 73.6h2.6v4.43h-2.6zM286.7 73.6h1.3v4.43h-1.3zM290.6 73.6h1.3v4.43h-1.3zM303.8 73.6h1.3v4.43h-1.3zM320.9 73.6h1.3v4.43h-1.3zM328.8 73.6h2.6v4.43h-2.6zM355.1 73.6h1.3v4.43h-1.3zM380.1 73.6h1.3v4.43h-1.3zM407.7 73.6h1.3v4.43h-1.3zM426.1 73.6h1.3v4.43h-1.3zM122.2 78.0h1.3v4.43h-1.3zM128.8 78.0h1.3v4.43h-1.3zM144.6 78.0h1.3v4.43h-1.3zM159.0 78.0h1.3v4.43h-1.3zM252.5 78.0h1.3v4.43h-1.3zM255.1 78.0h1.3v4.43h-1.3zM260.3 78.0h1.3v4.43h-1.3zM282.7 78.0h1.3v4.43h-1.3zM291.9 78.0h1.3v4.43h-1.3zM295.9 78.0h1.3v4.43h-1.3zM306.4 78.0h1.3v4.43h-1.3zM310.3 78.0h1.3v4.43h-1.3zM353.8 78.0h1.3v4.43h-1.3zM373.5 78.0h1.3v4.43h-1.3zM422.2 78.0h1.3v4.43h-1.3zM107.7 82.4h1.3v4.43h-1.3zM139.3 82.4h1.3v4.43h-1.3zM199.8 82.4h1.3v4.43h-1.3zM238.0 82.4h1.3v4.43h-1.3zM286.7 82.4h1.3v4.43h-1.3zM301.1 82.4h2.6v4.43h-2.6zM332.7 82.4h1.3v4.43h-1.3zM344.6 82.4h1.3v4.43h-1.3zM355.1 82.4h1.3v4.43h-1.3zM373.5 82.4h1.3v4.43h-1.3zM393.2 82.4h1.3v4.43h-1.3zM426.1 82.4h1.3v4.43h-1.3zM428.8 82.4h1.3v4.43h-1.3zM107.7 86.9h1.3v4.43h-1.3zM144.6 86.9h1.3v4.43h-1.3zM153.8 86.9h1.3v4.43h-1.3zM193.2 86.9h1.3v4.43h-1.3zM214.3 86.9h1.3v4.43h-1.3zM238.0 86.9h1.3v4.43h-1.3zM274.8 86.9h1.3v4.43h-1.3zM322.2 86.9h1.3v4.43h-1.3zM334.0 86.9h1.3v4.43h-1.3zM338.0 86.9h1.3v4.43h-1.3zM352.4 86.9h1.3v4.43h-1.3zM101.2 91.3h1.3v4.43h-1.3zM124.8 91.3h1.3v4.43h-1.3zM140.6 91.3h1.3v4.43h-1.3zM143.3 91.3h1.3v4.43h-1.3zM155.1 91.3h1.3v4.43h-1.3zM181.4 91.3h1.3v4.43h-1.3zM202.5 91.3h1.3v4.43h-1.3zM278.8 91.3h1.3v4.43h-1.3zM291.9 91.3h1.3v4.43h-1.3zM302.4 91.3h1.3v4.43h-1.3zM315.6 91.3h1.3v4.43h-1.3zM323.5 91.3h1.3v4.43h-1.3zM338.0 91.3h1.3v4.43h-1.3zM382.7 91.3h1.3v4.43h-1.3zM391.9 91.3h1.3v4.43h-1.3zM426.1 91.3h1.3v4.43h-1.3zM97.2 95.7h1.3v4.43h-1.3zM101.2 95.7h1.3v4.43h-1.3zM107.7 95.7h1.3v4.43h-1.3zM177.5 95.7h1.3v4.43h-1.3zM211.7 95.7h1.3v4.43h-1.3zM214.3 95.7h1.3v4.43h-1.3zM220.9 95.7h1.3v4.43h-1.3zM234.0 95.7h1.3v4.43h-1.3zM252.5 95.7h1.3v4.43h-1.3zM273.5 95.7h1.3v4.43h-1.3zM301.1 95.7h1.3v4.43h-1.3zM309.0 95.7h1.3v4.43h-1.3zM356.4 95.7h1.3v4.43h-1.3zM377.4 95.7h1.3v4.43h-1.3zM389.3 95.7h1.3v4.43h-1.3zM428.8 95.7h1.3v4.43h-1.3zM110.4 100.2h1.3v4.43h-1.3zM143.3 100.2h1.3v4.43h-1.3zM155.1 100.2h1.3v4.43h-1.3zM172.2 100.2h1.3v4.43h-1.3zM201.1 100.2h1.3v4.43h-1.3zM274.8 100.2h1.3v4.43h-1.3zM353.8 100.2h1.3v4.43h-1.3zM390.6 100.2h1.3v4.43h-1.3zM97.2 104.6h1.3v4.43h-1.3zM109.0 104.6h1.3v4.43h-1.3zM173.5 104.6h1.3v4.43h-1.3zM189.3 104.6h1.3v4.43h-1.3zM210.4 104.6h2.6v4.43h-2.6zM218.2 104.6h1.3v4.43h-1.3zM228.8 104.6h1.3v4.43h-1.3zM278.8 104.6h1.3v4.43h-1.3zM288.0 104.6h1.3v4.43h-1.3zM309.0 104.6h1.3v4.43h-1.3zM318.2 104.6h1.3v4.43h-1.3zM374.8 104.6h1.3v4.43h-1.3zM419.5 104.6h1.3v4.43h-1.3zM82.7 109.0h1.3v4.43h-1.3zM109.0 109.0h1.3v4.43h-1.3zM111.7 109.0h1.3v4.43h-1.3zM124.8 109.0h1.3v4.43h-1.3zM128.8 109.0h2.6v4.43h-2.6zM140.6 109.0h1.3v4.43h-1.3zM165.6 109.0h1.3v4.43h-1.3zM178.8 109.0h1.3v4.43h-1.3zM181.4 109.0h1.3v4.43h-1.3zM190.6 109.0h1.3v4.43h-1.3zM199.8 109.0h1.3v4.43h-1.3zM251.1 109.0h1.3v4.43h-1.3zM302.4 109.0h2.6v4.43h-2.6zM331.4 109.0h1.3v4.43h-1.3zM356.4 109.0h1.3v4.43h-1.3zM389.3 109.0h1.3v4.43h-1.3zM398.5 109.0h1.3v4.43h-1.3zM111.7 113.5h1.3v4.43h-1.3zM149.8 113.5h1.3v4.43h-1.3zM215.6 113.5h1.3v4.43h-1.3zM230.1 113.5h1.3v4.43h-1.3zM253.8 113.5h1.3v4.43h-1.3zM278.8 113.5h2.6v4.43h-2.6zM301.1 113.5h1.3v4.43h-1.3zM336.7 113.5h1.3v4.43h-1.3zM368.2 113.5h1.3v4.43h-1.3zM391.9 113.5h1.3v4.43h-1.3zM103.8 117.9h1.3v4.43h-1.3zM109.0 117.9h1.3v4.43h-1.3zM135.4 117.9h1.3v4.43h-1.3zM157.7 117.9h1.3v4.43h-1.3zM172.2 117.9h1.3v4.43h-1.3zM219.6 117.9h1.3v4.43h-1.3zM248.5 117.9h1.3v4.43h-1.3zM270.9 117.9h1.3v4.43h-1.3zM278.8 117.9h1.3v4.43h-1.3zM301.1 117.9h1.3v4.43h-1.3zM319.6 117.9h1.3v4.43h-1.3zM369.5 117.9h1.3v4.43h-1.3zM374.8 117.9h2.6v4.43h-2.6zM110.4 122.3h1.3v4.43h-1.3zM143.3 122.3h1.3v4.43h-1.3zM145.9 122.3h1.3v4.43h-1.3zM159.0 122.3h1.3v4.43h-1.3zM165.6 122.3h1.3v4.43h-1.3zM169.6 122.3h2.6v4.43h-2.6zM186.7 122.3h1.3v4.43h-1.3zM215.6 122.3h1.3v4.43h-1.3zM223.5 122.3h1.3v4.43h-1.3zM248.5 122.3h1.3v4.43h-1.3zM260.3 122.3h1.3v4.43h-1.3zM273.5 122.3h1.3v4.43h-1.3zM301.1 122.3h1.3v4.43h-1.3zM310.3 122.3h1.3v4.43h-1.3zM335.3 122.3h1.3v4.43h-1.3zM338.0 122.3h1.3v4.43h-1.3zM355.1 122.3h1.3v4.43h-1.3zM107.7 126.8h2.6v4.43h-2.6zM181.4 126.8h1.3v4.43h-1.3zM190.6 126.8h1.3v4.43h-1.3zM224.8 126.8h1.3v4.43h-1.3zM272.2 126.8h1.3v4.43h-1.3zM352.4 126.8h1.3v4.43h-1.3zM391.9 126.8h1.3v4.43h-1.3zM402.4 126.8h1.3v4.43h-1.3zM116.9 131.2h1.3v4.43h-1.3zM165.6 131.2h1.3v4.43h-1.3zM173.5 131.2h1.3v4.43h-1.3zM176.1 131.2h1.3v4.43h-1.3zM210.4 131.2h1.3v4.43h-1.3zM214.3 131.2h1.3v4.43h-1.3zM219.6 131.2h1.3v4.43h-1.3zM224.8 131.2h1.3v4.43h-1.3zM266.9 131.2h1.3v4.43h-1.3zM314.3 131.2h1.3v4.43h-1.3zM338.0 131.2h1.3v4.43h-1.3zM349.8 131.2h1.3v4.43h-1.3zM355.1 131.2h1.3v4.43h-1.3zM384.0 131.2h1.3v4.43h-1.3zM410.3 131.2h1.3v4.43h-1.3zM139.3 135.6h2.6v4.43h-2.6zM157.7 135.6h2.6v4.43h-2.6zM169.6 135.6h1.3v4.43h-1.3zM213.0 135.6h1.3v4.43h-1.3zM324.8 135.6h1.3v4.43h-1.3zM368.2 135.6h1.3v4.43h-1.3zM374.8 135.6h2.6v4.43h-2.6zM105.1 140.1h1.3v4.43h-1.3zM111.7 140.1h1.3v4.43h-1.3zM114.3 140.1h1.3v4.43h-1.3zM118.3 140.1h1.3v4.43h-1.3zM139.3 140.1h1.3v4.43h-1.3zM145.9 140.1h1.3v4.43h-1.3zM168.3 140.1h1.3v4.43h-1.3zM207.7 140.1h1.3v4.43h-1.3zM253.8 140.1h1.3v4.43h-1.3zM324.8 140.1h1.3v4.43h-1.3zM334.0 140.1h1.3v4.43h-1.3zM352.4 140.1h1.3v4.43h-1.3zM407.7 140.1h1.3v4.43h-1.3zM97.2 144.5h1.3v4.43h-1.3zM123.5 144.5h2.6v4.43h-2.6zM205.1 144.5h1.3v4.43h-1.3zM207.7 144.5h1.3v4.43h-1.3zM219.6 144.5h1.3v4.43h-1.3zM309.0 144.5h1.3v4.43h-1.3zM324.8 144.5h1.3v4.43h-1.3zM330.1 144.5h1.3v4.43h-1.3zM334.0 144.5h1.3v4.43h-1.3zM339.3 144.5h1.3v4.43h-1.3zM344.6 144.5h1.3v4.43h-1.3zM418.2 144.5h1.3v4.43h-1.3zM420.9 144.5h1.3v4.43h-1.3zM423.5 144.5h1.3v4.43h-1.3zM97.2 148.9h1.3v4.43h-1.3zM103.8 148.9h1.3v4.43h-1.3zM135.4 148.9h1.3v4.43h-1.3zM159.0 148.9h1.3v4.43h-1.3zM214.3 148.9h1.3v4.43h-1.3zM290.6 148.9h1.3v4.43h-1.3zM302.4 148.9h1.3v4.43h-1.3zM314.3 148.9h1.3v4.43h-1.3zM355.1 148.9h1.3v4.43h-1.3zM373.5 148.9h1.3v4.43h-1.3zM378.8 148.9h1.3v4.43h-1.3zM430.1 148.9h1.3v4.43h-1.3zM107.7 153.3h2.6v4.43h-2.6zM136.7 153.3h1.3v4.43h-1.3zM168.3 153.3h2.6v4.43h-2.6zM181.4 153.3h1.3v4.43h-1.3zM218.2 153.3h1.3v4.43h-1.3zM289.3 153.3h1.3v4.43h-1.3zM310.3 153.3h1.3v4.43h-1.3zM318.2 153.3h1.3v4.43h-1.3zM389.3 153.3h1.3v4.43h-1.3zM391.9 153.3h1.3v4.43h-1.3zM163.0 157.8h1.3v4.43h-1.3zM169.6 157.8h2.6v4.43h-2.6zM251.1 157.8h1.3v4.43h-1.3zM278.8 157.8h1.3v4.43h-1.3zM281.4 157.8h1.3v4.43h-1.3zM330.1 157.8h1.3v4.43h-1.3zM282.7 162.2h1.3v4.43h-1.3zM116.9 166.6h1.3v4.43h-1.3zM131.4 166.6h1.3v4.43h-1.3zM135.4 166.6h1.3v4.43h-1.3zM152.5 166.6h2.6v4.43h-2.6zM170.9 166.6h1.3v4.43h-1.3zM211.7 166.6h1.3v4.43h-1.3zM324.8 166.6h1.3v4.43h-1.3zM332.7 166.6h1.3v4.43h-1.3zM405.1 166.6h1.3v4.43h-1.3zM428.8 166.6h1.3v4.43h-1.3zM107.7 171.1h1.3v4.43h-1.3zM145.9 171.1h1.3v4.43h-1.3zM207.7 171.1h2.6v4.43h-2.6zM228.8 171.1h1.3v4.43h-1.3zM238.0 171.1h1.3v4.43h-1.3zM301.1 171.1h1.3v4.43h-1.3zM328.8 171.1h1.3v4.43h-1.3zM360.3 171.1h1.3v4.43h-1.3zM389.3 171.1h1.3v4.43h-1.3zM407.7 171.1h1.3v4.43h-1.3zM45.9 175.5h1.3v4.43h-1.3zM74.8 175.5h1.3v4.43h-1.3zM105.1 175.5h1.3v4.43h-1.3zM114.3 175.5h1.3v4.43h-1.3zM128.8 175.5h1.3v4.43h-1.3zM165.6 175.5h1.3v4.43h-1.3zM248.5 175.5h1.3v4.43h-1.3zM251.1 175.5h1.3v4.43h-1.3zM276.1 175.5h1.3v4.43h-1.3zM285.3 175.5h1.3v4.43h-1.3zM303.8 175.5h1.3v4.43h-1.3zM318.2 175.5h1.3v4.43h-1.3zM374.8 175.5h1.3v4.43h-1.3zM398.5 175.5h1.3v4.43h-1.3zM430.1 175.5h1.3v4.43h-1.3zM107.7 179.9h1.3v4.43h-1.3zM139.3 179.9h1.3v4.43h-1.3zM145.9 179.9h1.3v4.43h-1.3zM152.5 179.9h1.3v4.43h-1.3zM182.7 179.9h2.6v4.43h-2.6zM205.1 179.9h1.3v4.43h-1.3zM211.7 179.9h1.3v4.43h-1.3zM236.7 179.9h1.3v4.43h-1.3zM270.9 179.9h1.3v4.43h-1.3zM355.1 179.9h1.3v4.43h-1.3zM357.7 179.9h1.3v4.43h-1.3zM368.2 179.9h1.3v4.43h-1.3zM370.9 179.9h1.3v4.43h-1.3zM374.8 179.9h1.3v4.43h-1.3zM99.8 184.4h1.3v4.43h-1.3zM131.4 184.4h1.3v4.43h-1.3zM140.6 184.4h1.3v4.43h-1.3zM163.0 184.4h1.3v4.43h-1.3zM188.0 184.4h1.3v4.43h-1.3zM198.5 184.4h1.3v4.43h-1.3zM209.0 184.4h1.3v4.43h-1.3zM231.4 184.4h1.3v4.43h-1.3zM248.5 184.4h1.3v4.43h-1.3zM261.7 184.4h1.3v4.43h-1.3zM278.8 184.4h1.3v4.43h-1.3zM282.7 184.4h1.3v4.43h-1.3zM310.3 184.4h1.3v4.43h-1.3zM324.8 184.4h1.3v4.43h-1.3zM344.6 184.4h1.3v4.43h-1.3zM368.2 184.4h1.3v4.43h-1.3zM384.0 184.4h1.3v4.43h-1.3zM390.6 184.4h1.3v4.43h-1.3zM101.2 188.8h1.3v4.43h-1.3zM107.7 188.8h2.6v4.43h-2.6zM114.3 188.8h1.3v4.43h-1.3zM128.8 188.8h1.3v4.43h-1.3zM152.5 188.8h1.3v4.43h-1.3zM163.0 188.8h1.3v4.43h-1.3zM166.9 188.8h1.3v4.43h-1.3zM209.0 188.8h1.3v4.43h-1.3zM214.3 188.8h1.3v4.43h-1.3zM273.5 188.8h1.3v4.43h-1.3zM278.8 188.8h1.3v4.43h-1.3zM295.9 188.8h1.3v4.43h-1.3zM334.0 188.8h1.3v4.43h-1.3zM336.7 188.8h2.6v4.43h-2.6zM345.9 188.8h1.3v4.43h-1.3zM348.5 188.8h1.3v4.43h-1.3zM355.1 188.8h1.3v4.43h-1.3zM360.3 188.8h1.3v4.43h-1.3zM402.4 188.8h1.3v4.43h-1.3zM114.3 193.2h1.3v4.43h-1.3zM155.1 193.2h1.3v4.43h-1.3zM177.5 193.2h1.3v4.43h-1.3zM182.7 193.2h1.3v4.43h-1.3zM193.2 193.2h1.3v4.43h-1.3zM210.4 193.2h2.6v4.43h-2.6zM224.8 193.2h1.3v4.43h-1.3zM235.3 193.2h1.3v4.43h-1.3zM252.5 193.2h1.3v4.43h-1.3zM295.9 193.2h1.3v4.43h-1.3zM335.3 193.2h1.3v4.43h-1.3zM347.2 193.2h1.3v4.43h-1.3zM357.7 193.2h1.3v4.43h-1.3zM369.5 193.2h1.3v4.43h-1.3zM149.8 197.7h1.3v4.43h-1.3zM161.7 197.7h1.3v4.43h-1.3zM170.9 197.7h1.3v4.43h-1.3zM248.5 197.7h1.3v4.43h-1.3zM290.6 197.7h1.3v4.43h-1.3zM314.3 197.7h2.6v4.43h-2.6zM323.5 197.7h1.3v4.43h-1.3zM328.8 197.7h1.3v4.43h-1.3zM422.2 197.7h2.6v4.43h-2.6zM135.4 202.1h1.3v4.43h-1.3zM140.6 202.1h1.3v4.43h-1.3zM155.1 202.1h1.3v4.43h-1.3zM161.7 202.1h1.3v4.43h-1.3zM170.9 202.1h1.3v4.43h-1.3zM197.2 202.1h2.6v4.43h-2.6zM202.5 202.1h1.3v4.43h-1.3zM211.7 202.1h1.3v4.43h-1.3zM239.3 202.1h1.3v4.43h-1.3zM261.7 202.1h1.3v4.43h-1.3zM323.5 202.1h1.3v4.43h-1.3zM327.4 202.1h2.6v4.43h-2.6zM356.4 202.1h1.3v4.43h-1.3zM365.6 202.1h1.3v4.43h-1.3zM384.0 202.1h1.3v4.43h-1.3zM109.0 206.5h2.6v4.43h-2.6zM122.2 206.5h1.3v4.43h-1.3zM165.6 206.5h1.3v4.43h-1.3zM270.9 206.5h1.3v4.43h-1.3zM281.4 206.5h1.3v4.43h-1.3zM286.7 206.5h1.3v4.43h-1.3zM301.1 206.5h1.3v4.43h-1.3zM323.5 206.5h1.3v4.43h-1.3zM336.7 206.5h1.3v4.43h-1.3zM345.9 206.5h1.3v4.43h-1.3zM407.7 206.5h1.3v4.43h-1.3zM410.3 206.5h1.3v4.43h-1.3zM428.8 206.5h1.3v4.43h-1.3zM109.0 210.9h2.6v4.43h-2.6zM114.3 210.9h1.3v4.43h-1.3zM143.3 210.9h2.6v4.43h-2.6zM153.8 210.9h1.3v4.43h-1.3zM165.6 210.9h1.3v4.43h-1.3zM197.2 210.9h1.3v4.43h-1.3zM219.6 210.9h1.3v4.43h-1.3zM231.4 210.9h1.3v4.43h-1.3zM264.3 210.9h1.3v4.43h-1.3zM278.8 210.9h1.3v4.43h-1.3zM295.9 210.9h1.3v4.43h-1.3zM378.8 210.9h1.3v4.43h-1.3zM99.8 215.4h1.3v4.43h-1.3zM181.4 215.4h1.3v4.43h-1.3zM205.1 215.4h1.3v4.43h-1.3zM238.0 215.4h1.3v4.43h-1.3zM247.2 215.4h1.3v4.43h-1.3zM255.1 215.4h1.3v4.43h-1.3zM309.0 215.4h1.3v4.43h-1.3zM318.2 215.4h1.3v4.43h-1.3zM360.3 215.4h1.3v4.43h-1.3zM368.2 215.4h1.3v4.43h-1.3zM376.1 215.4h1.3v4.43h-1.3zM420.9 215.4h1.3v4.43h-1.3zM59.1 219.8h2.6v4.43h-2.6zM65.6 219.8h1.3v4.43h-1.3zM68.3 219.8h1.3v4.43h-1.3zM85.4 219.8h2.6v4.43h-2.6zM91.9 219.8h1.3v4.43h-1.3zM103.8 219.8h1.3v4.43h-1.3zM220.9 219.8h1.3v4.43h-1.3zM241.9 219.8h1.3v4.43h-1.3zM291.9 219.8h1.3v4.43h-1.3zM295.9 219.8h1.3v4.43h-1.3zM306.4 219.8h1.3v4.43h-1.3zM315.6 219.8h1.3v4.43h-1.3zM327.4 219.8h1.3v4.43h-1.3zM331.4 219.8h1.3v4.43h-1.3zM334.0 219.8h1.3v4.43h-1.3zM388.0 219.8h1.3v4.43h-1.3zM407.7 219.8h1.3v4.43h-1.3zM103.8 224.2h1.3v4.43h-1.3zM124.8 224.2h1.3v4.43h-1.3zM153.8 224.2h1.3v4.43h-1.3zM166.9 224.2h1.3v4.43h-1.3zM188.0 224.2h1.3v4.43h-1.3zM193.2 224.2h1.3v4.43h-1.3zM197.2 224.2h1.3v4.43h-1.3zM230.1 224.2h1.3v4.43h-1.3zM282.7 224.2h1.3v4.43h-1.3zM357.7 224.2h1.3v4.43h-1.3zM360.3 224.2h1.3v4.43h-1.3zM397.2 224.2h1.3v4.43h-1.3zM103.8 228.7h1.3v4.43h-1.3zM110.4 228.7h1.3v4.43h-1.3zM114.3 228.7h1.3v4.43h-1.3zM124.8 228.7h1.3v4.43h-1.3zM128.8 228.7h1.3v4.43h-1.3zM139.3 228.7h1.3v4.43h-1.3zM163.0 228.7h1.3v4.43h-1.3zM176.1 228.7h1.3v4.43h-1.3zM181.4 228.7h1.3v4.43h-1.3zM251.1 228.7h1.3v4.43h-1.3zM255.1 228.7h1.3v4.43h-1.3zM261.7 228.7h1.3v4.43h-1.3zM324.8 228.7h1.3v4.43h-1.3zM335.3 228.7h2.6v4.43h-2.6zM353.8 228.7h1.3v4.43h-1.3zM380.1 228.7h1.3v4.43h-1.3zM414.3 228.7h1.3v4.43h-1.3zM248.5 233.1h1.3v4.43h-1.3zM253.8 233.1h1.3v4.43h-1.3zM324.8 233.1h1.3v4.43h-1.3zM334.0 233.1h1.3v4.43h-1.3zM365.6 233.1h1.3v4.43h-1.3zM430.1 233.1h1.3v4.43h-1.3zM105.1 237.5h1.3v4.43h-1.3zM145.9 237.5h2.6v4.43h-2.6zM213.0 237.5h1.3v4.43h-1.3zM264.3 237.5h1.3v4.43h-1.3zM309.0 237.5h1.3v4.43h-1.3zM334.0 237.5h1.3v4.43h-1.3zM356.4 237.5h1.3v4.43h-1.3zM360.3 237.5h1.3v4.43h-1.3zM411.6 237.5h1.3v4.43h-1.3zM427.4 237.5h1.3v4.43h-1.3zM131.4 242.0h1.3v4.43h-1.3zM152.5 242.0h1.3v4.43h-1.3zM176.1 242.0h1.3v4.43h-1.3zM178.8 242.0h1.3v4.43h-1.3zM182.7 242.0h1.3v4.43h-1.3zM270.9 242.0h1.3v4.43h-1.3zM282.7 242.0h1.3v4.43h-1.3zM113.0 246.4h1.3v4.43h-1.3zM128.8 246.4h1.3v4.43h-1.3zM149.8 246.4h1.3v4.43h-1.3zM153.8 246.4h1.3v4.43h-1.3zM169.6 246.4h1.3v4.43h-1.3zM178.8 246.4h1.3v4.43h-1.3zM193.2 246.4h1.3v4.43h-1.3zM206.4 246.4h1.3v4.43h-1.3zM318.2 246.4h1.3v4.43h-1.3zM334.0 246.4h1.3v4.43h-1.3zM345.9 246.4h1.3v4.43h-1.3zM357.7 246.4h1.3v4.43h-1.3zM373.5 246.4h1.3v4.43h-1.3zM380.1 246.4h1.3v4.43h-1.3zM36.5 250.8h2.8v4.43h-2.8zM109.0 250.8h1.3v4.43h-1.3zM116.9 250.8h1.3v4.43h-1.3zM149.8 250.8h1.3v4.43h-1.3zM169.6 250.8h1.3v4.43h-1.3zM202.5 250.8h1.3v4.43h-1.3zM211.7 250.8h1.3v4.43h-1.3zM232.7 250.8h1.3v4.43h-1.3zM248.5 250.8h1.3v4.43h-1.3zM280.1 250.8h1.3v4.43h-1.3zM282.7 250.8h1.3v4.43h-1.3zM322.2 250.8h1.3v4.43h-1.3zM334.0 250.8h1.3v4.43h-1.3zM397.2 250.8h1.3v4.43h-1.3zM411.6 250.8h1.3v4.43h-1.3zM48.5 255.3h1.3v4.43h-1.3zM55.1 255.3h1.3v4.43h-1.3zM84.0 255.3h1.3v4.43h-1.3zM91.9 255.3h1.3v4.43h-1.3zM124.8 255.3h1.3v4.43h-1.3zM147.2 255.3h1.3v4.43h-1.3zM163.0 255.3h1.3v4.43h-1.3zM178.8 255.3h1.3v4.43h-1.3zM203.8 255.3h1.3v4.43h-1.3zM216.9 255.3h1.3v4.43h-1.3zM255.1 255.3h1.3v4.43h-1.3zM280.1 255.3h1.3v4.43h-1.3zM282.7 255.3h1.3v4.43h-1.3zM315.6 255.3h1.3v4.43h-1.3zM318.2 255.3h1.3v4.43h-1.3zM336.7 255.3h1.3v4.43h-1.3zM110.4 259.7h1.3v4.43h-1.3zM266.9 259.7h1.3v4.43h-1.3zM328.8 259.7h1.3v4.43h-1.3zM64.3 264.1h3.9v4.43h-3.9zM103.8 264.1h1.3v4.43h-1.3zM107.7 264.1h1.3v4.43h-1.3zM113.0 264.1h1.3v4.43h-1.3zM139.3 264.1h1.3v4.43h-1.3zM223.5 264.1h1.3v4.43h-1.3zM240.6 264.1h1.3v4.43h-1.3zM306.4 264.1h1.3v4.43h-1.3zM323.5 264.1h1.3v4.43h-1.3zM327.4 264.1h2.6v4.43h-2.6zM338.0 264.1h1.3v4.43h-1.3zM82.7 268.6h1.3v4.43h-1.3zM95.9 268.6h1.3v4.43h-1.3zM111.7 268.6h1.3v4.43h-1.3zM152.5 268.6h1.3v4.43h-1.3zM155.1 268.6h1.3v4.43h-1.3zM182.7 268.6h1.3v4.43h-1.3zM199.8 268.6h1.3v4.43h-1.3zM209.0 268.6h1.3v4.43h-1.3zM213.0 268.6h1.3v4.43h-1.3zM220.9 268.6h1.3v4.43h-1.3zM239.3 268.6h1.3v4.43h-1.3zM285.3 268.6h1.3v4.43h-1.3zM301.1 268.6h1.3v4.43h-1.3zM315.6 268.6h1.3v4.43h-1.3zM76.2 273.0h1.3v4.43h-1.3zM78.8 273.0h1.3v4.43h-1.3zM84.0 273.0h1.3v4.43h-1.3zM89.3 273.0h1.3v4.43h-1.3zM130.1 273.0h1.3v4.43h-1.3zM148.5 273.0h1.3v4.43h-1.3zM163.0 273.0h1.3v4.43h-1.3zM193.2 273.0h1.3v4.43h-1.3zM198.5 273.0h1.3v4.43h-1.3zM224.8 273.0h1.3v4.43h-1.3zM269.6 273.0h1.3v4.43h-1.3zM286.7 273.0h1.3v4.43h-1.3zM380.1 273.0h1.3v4.43h-1.3zM419.5 273.0h1.3v4.43h-1.3zM39.3 277.4h1.3v4.43h-1.3zM44.6 277.4h1.3v4.43h-1.3zM97.2 277.4h1.3v4.43h-1.3zM213.0 277.4h2.6v4.43h-2.6zM274.8 277.4h1.3v4.43h-1.3zM282.7 277.4h1.3v4.43h-1.3zM47.2 281.8h1.3v4.43h-1.3zM69.6 281.8h1.3v4.43h-1.3zM93.3 281.8h1.3v4.43h-1.3zM118.3 281.8h1.3v4.43h-1.3zM140.6 281.8h1.3v4.43h-1.3zM145.9 281.8h1.3v4.43h-1.3zM197.2 281.8h1.3v4.43h-1.3zM220.9 281.8h1.3v4.43h-1.3zM234.0 281.8h1.3v4.43h-1.3zM282.7 281.8h1.3v4.43h-1.3zM289.3 281.8h1.3v4.43h-1.3zM291.9 281.8h1.3v4.43h-1.3zM301.1 281.8h1.3v4.43h-1.3zM313.0 281.8h1.3v4.43h-1.3zM81.4 286.3h1.3v4.43h-1.3zM182.7 286.3h1.3v4.43h-1.3zM197.2 286.3h1.3v4.43h-1.3zM264.3 286.3h1.3v4.43h-1.3zM278.8 286.3h2.6v4.43h-2.6zM286.7 286.3h1.3v4.43h-1.3zM318.2 286.3h1.3v4.43h-1.3zM330.1 286.3h1.3v4.43h-1.3zM332.7 286.3h1.3v4.43h-1.3zM336.7 286.3h1.3v4.43h-1.3zM90.6 290.7h1.3v4.43h-1.3zM190.6 290.7h1.3v4.43h-1.3zM320.9 290.7h1.3v4.43h-1.3zM63.0 295.1h1.3v4.43h-1.3zM85.4 295.1h1.3v4.43h-1.3zM124.8 295.1h1.3v4.43h-1.3zM131.4 295.1h1.3v4.43h-1.3zM193.2 295.1h1.3v4.43h-1.3zM214.3 295.1h1.3v4.43h-1.3zM252.5 295.1h1.3v4.43h-1.3zM273.5 295.1h1.3v4.43h-1.3zM285.3 299.6h1.3v5.93h-1.3zM288.0 299.6h1.3v5.93h-1.3zM303.8 299.6h1.3v5.93h-1.3z"/>
<path fill="#69bae1" d="M128.8 45.5h1.3v5.93h-1.3zM141.9 45.5h1.3v5.93h-1.3zM144.6 45.5h1.3v5.93h-1.3zM173.5 45.5h1.3v5.93h-1.3zM177.5 45.5h1.3v5.93h-1.3zM189.3 45.5h2.6v5.93h-2.6zM198.5 45.5h1.3v5.93h-1.3zM203.8 45.5h2.6v5.93h-2.6zM220.9 45.5h1.3v5.93h-1.3zM253.8 45.5h1.3v5.93h-1.3zM266.9 45.5h1.3v5.93h-1.3zM269.6 45.5h1.3v5.93h-1.3zM278.8 45.5h1.3v5.93h-1.3zM301.1 45.5h1.3v5.93h-1.3zM313.0 45.5h2.6v5.93h-2.6zM348.5 45.5h1.3v5.93h-1.3zM368.2 45.5h1.3v5.93h-1.3zM388.0 45.5h1.3v5.93h-1.3zM407.7 45.5h1.3v5.93h-1.3zM111.7 51.4h1.3v4.43h-1.3zM182.7 51.4h1.3v4.43h-1.3zM220.9 51.4h1.3v4.43h-1.3zM239.3 51.4h1.3v4.43h-1.3zM282.7 51.4h1.3v4.43h-1.3zM286.7 51.4h1.3v4.43h-1.3zM314.3 51.4h2.6v4.43h-2.6zM320.9 51.4h1.3v4.43h-1.3zM323.5 51.4h1.3v4.43h-1.3zM335.3 51.4h1.3v4.43h-1.3zM376.1 51.4h1.3v4.43h-1.3zM423.5 51.4h1.3v4.43h-1.3zM124.8 55.9h1.3v4.43h-1.3zM144.6 55.9h1.3v4.43h-1.3zM159.0 55.9h1.3v4.43h-1.3zM177.5 55.9h1.3v4.43h-1.3zM181.4 55.9h1.3v4.43h-1.3zM193.2 55.9h1.3v4.43h-1.3zM197.2 55.9h1.3v4.43h-1.3zM211.7 55.9h1.3v4.43h-1.3zM238.0 55.9h1.3v4.43h-1.3zM282.7 55.9h1.3v4.43h-1.3zM289.3 55.9h1.3v4.43h-1.3zM313.0 55.9h1.3v4.43h-1.3zM319.6 55.9h1.3v4.43h-1.3zM322.2 55.9h3.9v4.43h-3.9zM328.8 55.9h1.3v4.43h-1.3zM336.7 55.9h1.3v4.43h-1.3zM344.6 55.9h1.3v4.43h-1.3zM349.8 55.9h1.3v4.43h-1.3zM352.4 55.9h1.3v4.43h-1.3zM368.2 55.9h1.3v4.43h-1.3zM391.9 55.9h1.3v4.43h-1.3zM410.3 55.9h1.3v4.43h-1.3zM415.6 55.9h1.3v4.43h-1.3zM418.2 55.9h1.3v4.43h-1.3zM427.4 55.9h1.3v4.43h-1.3zM116.9 60.3h1.3v4.43h-1.3zM128.8 60.3h1.3v4.43h-1.3zM141.9 60.3h1.3v4.43h-1.3zM218.2 60.3h1.3v4.43h-1.3zM224.8 60.3h1.3v4.43h-1.3zM255.1 60.3h1.3v4.43h-1.3zM270.9 60.3h1.3v4.43h-1.3zM291.9 60.3h1.3v4.43h-1.3zM303.8 60.3h1.3v4.43h-1.3zM318.2 60.3h1.3v4.43h-1.3zM330.1 60.3h1.3v4.43h-1.3zM422.2 60.3h1.3v4.43h-1.3zM428.8 60.3h1.3v4.43h-1.3zM97.2 64.7h1.3v4.43h-1.3zM111.7 64.7h1.3v4.43h-1.3zM119.6 64.7h1.3v4.43h-1.3zM124.8 64.7h1.3v4.43h-1.3zM135.4 64.7h1.3v4.43h-1.3zM139.3 64.7h1.3v4.43h-1.3zM170.9 64.7h1.3v4.43h-1.3zM188.0 64.7h1.3v4.43h-1.3zM193.2 64.7h1.3v4.43h-1.3zM215.6 64.7h1.3v4.43h-1.3zM219.6 64.7h1.3v4.43h-1.3zM278.8 64.7h1.3v4.43h-1.3zM285.3 64.7h1.3v4.43h-1.3zM313.0 64.7h1.3v4.43h-1.3zM330.1 64.7h1.3v4.43h-1.3zM344.6 64.7h1.3v4.43h-1.3zM377.4 64.7h1.3v4.43h-1.3zM411.6 64.7h1.3v4.43h-1.3zM427.4 64.7h1.3v4.43h-1.3zM51.2 69.2h1.3v4.43h-1.3zM64.3 69.2h1.3v4.43h-1.3zM74.8 69.2h1.3v4.43h-1.3zM124.8 69.2h1.3v4.43h-1.3zM131.4 69.2h1.3v4.43h-1.3zM135.4 69.2h1.3v4.43h-1.3zM159.0 69.2h1.3v4.43h-1.3zM166.9 69.2h1.3v4.43h-1.3zM181.4 69.2h1.3v4.43h-1.3zM189.3 69.2h1.3v4.43h-1.3zM210.4 69.2h1.3v4.43h-1.3zM223.5 69.2h1.3v4.43h-1.3zM228.8 69.2h1.3v4.43h-1.3zM270.9 69.2h1.3v4.43h-1.3zM278.8 69.2h2.6v4.43h-2.6zM282.7 69.2h1.3v4.43h-1.3zM302.4 69.2h1.3v4.43h-1.3zM349.8 69.2h1.3v4.43h-1.3zM356.4 69.2h2.6v4.43h-2.6zM374.8 69.2h1.3v4.43h-1.3zM405.1 69.2h1.3v4.43h-1.3zM414.3 69.2h1.3v4.43h-1.3zM423.5 69.2h1.3v4.43h-1.3zM116.9 73.6h1.3v4.43h-1.3zM128.8 73.6h1.3v4.43h-1.3zM143.3 73.6h2.6v4.43h-2.6zM165.6 73.6h1.3v4.43h-1.3zM181.4 73.6h1.3v4.43h-1.3zM188.0 73.6h1.3v4.43h-1.3zM193.2 73.6h1.3v4.43h-1.3zM218.2 73.6h1.3v4.43h-1.3zM222.2 73.6h1.3v4.43h-1.3zM274.8 73.6h1.3v4.43h-1.3zM282.7 73.6h1.3v4.43h-1.3zM288.0 73.6h1.3v4.43h-1.3zM327.4 73.6h1.3v4.43h-1.3zM356.4 73.6h1.3v4.43h-1.3zM389.3 73.6h1.3v4.43h-1.3zM415.6 73.6h1.3v4.43h-1.3zM424.8 73.6h1.3v4.43h-1.3zM430.1 73.6h1.3v4.43h-1.3zM143.3 78.0h1.3v4.43h-1.3zM153.8 78.0h2.6v4.43h-2.6zM220.9 78.0h1.3v4.43h-1.3zM264.3 78.0h1.3v4.43h-1.3zM269.6 78.0h1.3v4.43h-1.3zM303.8 78.0h1.3v4.43h-1.3zM313.0 78.0h1.3v4.43h-1.3zM347.2 78.0h1.3v4.43h-1.3zM68.3 82.4h1.3v4.43h-1.3zM70.9 82.4h1.3v4.43h-1.3zM114.3 82.4h1.3v4.43h-1.3zM145.9 82.4h1.3v4.43h-1.3zM166.9 82.4h1.3v4.43h-1.3zM181.4 82.4h1.3v4.43h-1.3zM223.5 82.4h1.3v4.43h-1.3zM232.7 82.4h1.3v4.43h-1.3zM264.3 82.4h1.3v4.43h-1.3zM270.9 82.4h1.3v4.43h-1.3zM314.3 82.4h1.3v4.43h-1.3zM356.4 82.4h1.3v4.43h-1.3zM368.2 82.4h1.3v4.43h-1.3zM374.8 82.4h1.3v4.43h-1.3zM389.3 82.4h1.3v4.43h-1.3zM391.9 82.4h1.3v4.43h-1.3zM423.5 82.4h1.3v4.43h-1.3zM135.4 86.9h1.3v4.43h-1.3zM139.3 86.9h1.3v4.43h-1.3zM152.5 86.9h1.3v4.43h-1.3zM157.7 86.9h1.3v4.43h-1.3zM166.9 86.9h1.3v4.43h-1.3zM173.5 86.9h1.3v4.43h-1.3zM177.5 86.9h1.3v4.43h-1.3zM181.4 86.9h1.3v4.43h-1.3zM201.1 86.9h1.3v4.43h-1.3zM206.4 86.9h1.3v4.43h-1.3zM209.0 86.9h1.3v4.43h-1.3zM211.7 86.9h2.6v4.43h-2.6zM219.6 86.9h1.3v4.43h-1.3zM230.1 86.9h1.3v4.43h-1.3zM244.6 86.9h1.3v4.43h-1.3zM247.2 86.9h1.3v4.43h-1.3zM281.4 86.9h1.3v4.43h-1.3zM285.3 86.9h1.3v4.43h-1.3zM288.0 86.9h1.3v4.43h-1.3zM295.9 86.9h1.3v4.43h-1.3zM309.0 86.9h2.6v4.43h-2.6zM341.9 86.9h1.3v4.43h-1.3zM349.8 86.9h1.3v4.43h-1.3zM376.1 86.9h1.3v4.43h-1.3zM389.3 86.9h1.3v4.43h-1.3zM393.2 86.9h1.3v4.43h-1.3zM427.4 86.9h1.3v4.43h-1.3zM111.7 91.3h1.3v4.43h-1.3zM159.0 91.3h1.3v4.43h-1.3zM199.8 91.3h1.3v4.43h-1.3zM216.9 91.3h1.3v4.43h-1.3zM261.7 91.3h1.3v4.43h-1.3zM303.8 91.3h1.3v4.43h-1.3zM306.4 91.3h1.3v4.43h-1.3zM324.8 91.3h1.3v4.43h-1.3zM365.6 91.3h1.3v4.43h-1.3zM374.8 91.3h1.3v4.43h-1.3zM380.1 91.3h1.3v4.43h-1.3zM388.0 91.3h1.3v4.43h-1.3zM407.7 91.3h1.3v4.43h-1.3zM414.3 91.3h1.3v4.43h-1.3zM424.8 91.3h1.3v4.43h-1.3zM430.1 91.3h1.3v4.43h-1.3zM73.5 95.7h1.3v4.43h-1.3zM255.1 95.7h1.3v4.43h-1.3zM260.3 95.7h1.3v4.43h-1.3zM276.1 95.7h1.3v4.43h-1.3zM313.0 95.7h1.3v4.43h-1.3zM423.5 95.7h1.3v4.43h-1.3zM89.3 100.2h1.3v4.43h-1.3zM97.2 100.2h1.3v4.43h-1.3zM107.7 100.2h1.3v4.43h-1.3zM111.7 100.2h1.3v4.43h-1.3zM123.5 100.2h1.3v4.43h-1.3zM140.6 100.2h1.3v4.43h-1.3zM149.8 100.2h1.3v4.43h-1.3zM163.0 100.2h1.3v4.43h-1.3zM176.1 100.2h1.3v4.43h-1.3zM182.7 100.2h1.3v4.43h-1.3zM218.2 100.2h1.3v4.43h-1.3zM248.5 100.2h1.3v4.43h-1.3zM295.9 100.2h1.3v4.43h-1.3zM310.3 100.2h1.3v4.43h-1.3zM314.3 100.2h1.3v4.43h-1.3zM322.2 100.2h1.3v4.43h-1.3zM327.4 100.2h1.3v4.43h-1.3zM365.6 100.2h1.3v4.43h-1.3zM415.6 100.2h1.3v4.43h-1.3zM111.7 104.6h1.3v4.43h-1.3zM135.4 104.6h1.3v4.43h-1.3zM174.8 104.6h1.3v4.43h-1.3zM197.2 104.6h2.6v4.43h-2.6zM205.1 104.6h1.3v4.43h-1.3zM306.4 104.6h1.3v4.43h-1.3zM327.4 104.6h2.6v4.43h-2.6zM389.3 104.6h1.3v4.43h-1.3zM430.1 104.6h1.3v4.43h-1.3zM65.6 109.0h1.3v4.43h-1.3zM72.2 109.0h1.3v4.43h-1.3zM74.8 109.0h1.3v4.43h-1.3zM168.3 109.0h1.3v4.43h-1.3zM198.5 109.0h1.3v4.43h-1.3zM260.3 109.0h1.3v4.43h-1.3zM352.4 109.0h1.3v4.43h-1.3zM419.5 109.0h1.3v4.43h-1.3zM49.8 113.5h1.3v4.43h-1.3zM107.7 113.5h1.3v4.43h-1.3zM139.3 113.5h1.3v4.43h-1.3zM166.9 113.5h1.3v4.43h-1.3zM172.2 113.5h1.3v4.43h-1.3zM178.8 113.5h1.3v4.43h-1.3zM190.6 113.5h1.3v4.43h-1.3zM201.1 113.5h1.3v4.43h-1.3zM213.0 113.5h1.3v4.43h-1.3zM338.0 113.5h1.3v4.43h-1.3zM352.4 113.5h1.3v4.43h-1.3zM384.0 113.5h1.3v4.43h-1.3zM230.1 117.9h1.3v4.43h-1.3zM261.7 117.9h1.3v4.43h-1.3zM276.1 117.9h1.3v4.43h-1.3zM285.3 117.9h1.3v4.43h-1.3zM295.9 117.9h1.3v4.43h-1.3zM345.9 117.9h1.3v4.43h-1.3zM40.6 122.3h1.3v4.43h-1.3zM114.3 122.3h1.3v4.43h-1.3zM181.4 122.3h1.3v4.43h-1.3zM190.6 122.3h1.3v4.43h-1.3zM210.4 122.3h1.3v4.43h-1.3zM213.0 122.3h1.3v4.43h-1.3zM238.0 122.3h2.6v4.43h-2.6zM252.5 122.3h1.3v4.43h-1.3zM336.7 122.3h1.3v4.43h-1.3zM348.5 122.3h1.3v4.43h-1.3zM49.8 126.8h1.3v4.43h-1.3zM65.6 126.8h1.3v4.43h-1.3zM68.3 126.8h1.3v4.43h-1.3zM89.3 126.8h1.3v4.43h-1.3zM135.4 126.8h1.3v4.43h-1.3zM141.9 126.8h1.3v4.43h-1.3zM148.5 126.8h1.3v4.43h-1.3zM161.7 126.8h1.3v4.43h-1.3zM197.2 126.8h1.3v4.43h-1.3zM211.7 126.8h1.3v4.43h-1.3zM228.8 126.8h1.3v4.43h-1.3zM238.0 126.8h1.3v4.43h-1.3zM243.2 126.8h1.3v4.43h-1.3zM260.3 126.8h1.3v4.43h-1.3zM270.9 126.8h1.3v4.43h-1.3zM285.3 126.8h1.3v4.43h-1.3zM309.0 126.8h1.3v4.43h-1.3zM319.6 126.8h1.3v4.43h-1.3zM324.8 126.8h1.3v4.43h-1.3zM341.9 126.8h1.3v4.43h-1.3zM344.6 126.8h1.3v4.43h-1.3zM388.0 126.8h1.3v4.43h-1.3zM428.8 126.8h1.3v4.43h-1.3zM114.3 131.2h1.3v4.43h-1.3zM170.9 131.2h1.3v4.43h-1.3zM195.9 131.2h1.3v4.43h-1.3zM203.8 131.2h1.3v4.43h-1.3zM220.9 131.2h1.3v4.43h-1.3zM261.7 131.2h1.3v4.43h-1.3zM277.5 131.2h1.3v4.43h-1.3zM322.2 131.2h1.3v4.43h-1.3zM428.8 131.2h1.3v4.43h-1.3zM47.2 135.6h1.3v4.43h-1.3zM66.9 135.6h1.3v4.43h-1.3zM82.7 135.6h1.3v4.43h-1.3zM109.0 135.6h1.3v4.43h-1.3zM152.5 135.6h1.3v4.43h-1.3zM176.1 135.6h1.3v4.43h-1.3zM198.5 135.6h1.3v4.43h-1.3zM205.1 135.6h1.3v4.43h-1.3zM209.0 135.6h1.3v4.43h-1.3zM220.9 135.6h1.3v4.43h-1.3zM228.8 135.6h1.3v4.43h-1.3zM310.3 135.6h1.3v4.43h-1.3zM339.3 135.6h1.3v4.43h-1.3zM344.6 135.6h1.3v4.43h-1.3zM384.0 135.6h1.3v4.43h-1.3zM393.2 135.6h1.3v4.43h-1.3zM430.1 135.6h1.3v4.43h-1.3zM63.0 140.1h1.3v4.43h-1.3zM65.6 140.1h1.3v4.43h-1.3zM84.0 140.1h1.3v4.43h-1.3zM124.8 140.1h1.3v4.43h-1.3zM135.4 140.1h1.3v4.43h-1.3zM147.2 140.1h1.3v4.43h-1.3zM165.6 140.1h1.3v4.43h-1.3zM190.6 140.1h1.3v4.43h-1.3zM199.8 140.1h1.3v4.43h-1.3zM303.8 140.1h1.3v4.43h-1.3zM372.2 140.1h1.3v4.43h-1.3zM430.1 140.1h1.3v4.43h-1.3zM99.8 144.5h1.3v4.43h-1.3zM153.8 144.5h1.3v4.43h-1.3zM173.5 144.5h1.3v4.43h-1.3zM230.1 144.5h1.3v4.43h-1.3zM280.1 144.5h1.3v4.43h-1.3zM303.8 144.5h1.3v4.43h-1.3zM341.9 144.5h1.3v4.43h-1.3zM348.5 144.5h2.6v4.43h-2.6zM370.9 144.5h1.3v4.43h-1.3zM376.1 144.5h1.3v4.43h-1.3zM64.3 148.9h1.3v4.43h-1.3zM81.4 148.9h1.3v4.43h-1.3zM111.7 148.9h1.3v4.43h-1.3zM139.3 148.9h2.6v4.43h-2.6zM147.2 148.9h1.3v4.43h-1.3zM166.9 148.9h1.3v4.43h-1.3zM210.4 148.9h1.3v4.43h-1.3zM238.0 148.9h1.3v4.43h-1.3zM241.9 148.9h1.3v4.43h-1.3zM248.5 148.9h1.3v4.43h-1.3zM309.0 148.9h1.3v4.43h-1.3zM389.3 148.9h1.3v4.43h-1.3zM48.5 153.3h1.3v4.43h-1.3zM66.9 153.3h1.3v4.43h-1.3zM70.9 153.3h1.3v4.43h-1.3zM73.5 153.3h1.3v4.43h-1.3zM173.5 153.3h1.3v4.43h-1.3zM210.4 153.3h1.3v4.43h-1.3zM272.2 153.3h1.3v4.43h-1.3zM72.2 157.8h1.3v4.43h-1.3zM99.8 157.8h1.3v4.43h-1.3zM113.0 157.8h1.3v4.43h-1.3zM153.8 157.8h1.3v4.43h-1.3zM178.8 157.8h1.3v4.43h-1.3zM199.8 157.8h1.3v4.43h-1.3zM282.7 157.8h1.3v4.43h-1.3zM295.9 157.8h1.3v4.43h-1.3zM314.3 157.8h1.3v4.43h-1.3zM345.9 157.8h1.3v4.43h-1.3zM360.3 157.8h1.3v4.43h-1.3zM370.9 157.8h1.3v4.43h-1.3zM374.8 157.8h1.3v4.43h-1.3zM144.6 162.2h1.3v4.43h-1.3zM310.3 162.2h1.3v4.43h-1.3zM318.2 162.2h2.6v4.43h-2.6zM324.8 162.2h1.3v4.43h-1.3zM348.5 162.2h1.3v4.43h-1.3zM97.2 171.1h1.3v4.43h-1.3zM101.2 171.1h1.3v4.43h-1.3zM116.9 171.1h2.6v4.43h-2.6zM124.8 171.1h1.3v4.43h-1.3zM190.6 171.1h1.3v4.43h-1.3zM199.8 171.1h1.3v4.43h-1.3zM220.9 171.1h1.3v4.43h-1.3zM264.3 171.1h1.3v4.43h-1.3zM266.9 171.1h1.3v4.43h-1.3zM269.6 171.1h1.3v4.43h-1.3zM274.8 171.1h3.9v4.43h-3.9zM282.7 171.1h1.3v4.43h-1.3zM303.8 171.1h1.3v4.43h-1.3zM306.4 171.1h1.3v4.43h-1.3zM314.3 171.1h1.3v4.43h-1.3zM324.8 171.1h1.3v4.43h-1.3zM338.0 171.1h1.3v4.43h-1.3zM353.8 171.1h1.3v4.43h-1.3zM377.4 171.1h1.3v4.43h-1.3zM397.2 171.1h1.3v4.43h-1.3zM47.2 175.5h2.6v4.43h-2.6zM57.7 175.5h1.3v4.43h-1.3zM72.2 175.5h1.3v4.43h-1.3zM76.2 175.5h1.3v4.43h-1.3zM206.4 175.5h1.3v4.43h-1.3zM218.2 175.5h1.3v4.43h-1.3zM222.2 175.5h2.6v4.43h-2.6zM252.5 175.5h1.3v4.43h-1.3zM291.9 175.5h1.3v4.43h-1.3zM302.4 175.5h1.3v4.43h-1.3zM319.6 175.5h1.3v4.43h-1.3zM378.8 175.5h1.3v4.43h-1.3zM390.6 175.5h1.3v4.43h-1.3zM428.8 175.5h1.3v4.43h-1.3zM124.8 179.9h1.3v4.43h-1.3zM207.7 179.9h2.6v4.43h-2.6zM223.5 179.9h1.3v4.43h-1.3zM238.0 179.9h1.3v4.43h-1.3zM266.9 179.9h1.3v4.43h-1.3zM309.0 179.9h1.3v4.43h-1.3zM318.2 179.9h2.6v4.43h-2.6zM328.8 179.9h1.3v4.43h-1.3zM345.9 179.9h1.3v4.43h-1.3zM391.9 179.9h1.3v4.43h-1.3zM419.5 179.9h1.3v4.43h-1.3zM128.8 184.4h1.3v4.43h-1.3zM135.4 184.4h1.3v4.43h-1.3zM145.9 184.4h2.6v4.43h-2.6zM149.8 184.4h1.3v4.43h-1.3zM165.6 184.4h1.3v4.43h-1.3zM207.7 184.4h1.3v4.43h-1.3zM238.0 184.4h1.3v4.43h-1.3zM288.0 184.4h1.3v4.43h-1.3zM291.9 184.4h1.3v4.43h-1.3zM334.0 184.4h1.3v4.43h-1.3zM110.4 188.8h1.3v4.43h-1.3zM119.6 188.8h1.3v4.43h-1.3zM139.3 188.8h1.3v4.43h-1.3zM172.2 188.8h1.3v4.43h-1.3zM190.6 188.8h1.3v4.43h-1.3zM264.3 188.8h1.3v4.43h-1.3zM280.1 188.8h1.3v4.43h-1.3zM282.7 188.8h1.3v4.43h-1.3zM309.0 188.8h1.3v4.43h-1.3zM352.4 188.8h1.3v4.43h-1.3zM372.2 188.8h1.3v4.43h-1.3zM428.8 188.8h1.3v4.43h-1.3zM124.8 193.2h1.3v4.43h-1.3zM159.0 193.2h1.3v4.43h-1.3zM172.2 193.2h1.3v4.43h-1.3zM214.3 193.2h1.3v4.43h-1.3zM236.7 193.2h2.6v4.43h-2.6zM248.5 193.2h1.3v4.43h-1.3zM278.8 193.2h1.3v4.43h-1.3zM309.0 193.2h2.6v4.43h-2.6zM330.1 193.2h1.3v4.43h-1.3zM336.7 193.2h1.3v4.43h-1.3zM349.8 193.2h1.3v4.43h-1.3zM352.4 193.2h1.3v4.43h-1.3zM365.6 193.2h1.3v4.43h-1.3zM373.5 193.2h1.3v4.43h-1.3zM384.0 193.2h1.3v4.43h-1.3zM389.3 193.2h1.3v4.43h-1.3zM398.5 193.2h1.3v4.43h-1.3zM422.2 193.2h2.6v4.43h-2.6zM51.2 197.7h1.3v4.43h-1.3zM97.2 197.7h1.3v4.43h-1.3zM107.7 197.7h1.3v4.43h-1.3zM123.5 197.7h2.6v4.43h-2.6zM163.0 197.7h1.3v4.43h-1.3zM173.5 197.7h1.3v4.43h-1.3zM186.7 197.7h1.3v4.43h-1.3zM197.2 197.7h1.3v4.43h-1.3zM214.3 197.7h1.3v4.43h-1.3zM219.6 197.7h1.3v4.43h-1.3zM222.2 197.7h1.3v4.43h-1.3zM228.8 197.7h1.3v4.43h-1.3zM235.3 197.7h3.9v4.43h-3.9zM266.9 197.7h1.3v4.43h-1.3zM309.0 197.7h1.3v4.43h-1.3zM324.8 197.7h1.3v4.43h-1.3zM327.4 197.7h1.3v4.43h-1.3zM330.1 197.7h1.3v4.43h-1.3zM351.1 197.7h1.3v4.43h-1.3zM356.4 197.7h1.3v4.43h-1.3zM380.1 197.7h1.3v4.43h-1.3zM388.0 197.7h1.3v4.43h-1.3zM393.2 197.7h1.3v4.43h-1.3zM398.5 197.7h1.3v4.43h-1.3zM414.3 197.7h1.3v4.43h-1.3zM428.8 197.7h1.3v4.43h-1.3zM101.2 202.1h1.3v4.43h-1.3zM153.8 202.1h1.3v4.43h-1.3zM165.6 202.1h1.3v4.43h-1.3zM172.2 202.1h1.3v4.43h-1.3zM199.8 202.1h1.3v4.43h-1.3zM210.4 202.1h1.3v4.43h-1.3zM219.6 202.1h1.3v4.43h-1.3zM257.7 202.1h1.3v4.43h-1.3zM295.9 202.1h1.3v4.43h-1.3zM311.7 202.1h1.3v4.43h-1.3zM314.3 202.1h1.3v4.43h-1.3zM324.8 202.1h1.3v4.43h-1.3zM335.3 202.1h1.3v4.43h-1.3zM349.8 202.1h1.3v4.43h-1.3zM352.4 202.1h1.3v4.43h-1.3zM39.3 206.5h1.3v4.43h-1.3zM49.8 206.5h1.3v4.43h-1.3zM55.1 206.5h1.3v4.43h-1.3zM63.0 206.5h1.3v4.43h-1.3zM88.0 206.5h1.3v4.43h-1.3zM91.9 206.5h1.3v4.43h-1.3zM101.2 206.5h1.3v4.43h-1.3zM135.4 206.5h1.3v4.43h-1.3zM140.6 206.5h1.3v4.43h-1.3zM168.3 206.5h1.3v4.43h-1.3zM170.9 206.5h1.3v4.43h-1.3zM186.7 206.5h1.3v4.43h-1.3zM198.5 206.5h2.6v4.43h-2.6zM239.3 206.5h1.3v4.43h-1.3zM257.7 206.5h1.3v4.43h-1.3zM260.3 206.5h1.3v4.43h-1.3zM313.0 206.5h1.3v4.43h-1.3zM334.0 206.5h1.3v4.43h-1.3zM356.4 206.5h1.3v4.43h-1.3zM360.3 206.5h1.3v4.43h-1.3zM376.1 206.5h1.3v4.43h-1.3zM405.1 206.5h1.3v4.43h-1.3zM415.6 206.5h1.3v4.43h-1.3zM128.8 210.9h1.3v4.43h-1.3zM145.9 210.9h1.3v4.43h-1.3zM148.5 210.9h1.3v4.43h-1.3zM161.7 210.9h1.3v4.43h-1.3zM169.6 210.9h1.3v4.43h-1.3zM190.6 210.9h1.3v4.43h-1.3zM223.5 210.9h1.3v4.43h-1.3zM251.1 210.9h1.3v4.43h-1.3zM257.7 210.9h1.3v4.43h-1.3zM280.1 210.9h1.3v4.43h-1.3zM291.9 210.9h1.3v4.43h-1.3zM324.8 210.9h1.3v4.43h-1.3zM336.7 210.9h1.3v4.43h-1.3zM352.4 210.9h1.3v4.43h-1.3zM365.6 210.9h1.3v4.43h-1.3zM391.9 210.9h2.6v4.43h-2.6zM419.5 210.9h1.3v4.43h-1.3zM101.2 215.4h1.3v4.43h-1.3zM128.8 215.4h1.3v4.43h-1.3zM145.9 215.4h1.3v4.43h-1.3zM159.0 215.4h1.3v4.43h-1.3zM166.9 215.4h1.3v4.43h-1.3zM248.5 215.4h1.3v4.43h-1.3zM278.8 215.4h1.3v4.43h-1.3zM295.9 215.4h1.3v4.43h-1.3zM315.6 215.4h1.3v4.43h-1.3zM357.7 215.4h1.3v4.43h-1.3zM365.6 215.4h1.3v4.43h-1.3zM130.1 219.8h2.6v4.43h-2.6zM139.3 219.8h2.6v4.43h-2.6zM149.8 219.8h1.3v4.43h-1.3zM173.5 219.8h1.3v4.43h-1.3zM182.7 219.8h1.3v4.43h-1.3zM186.7 219.8h1.3v4.43h-1.3zM210.4 219.8h1.3v4.43h-1.3zM213.0 219.8h1.3v4.43h-1.3zM357.7 219.8h1.3v4.43h-1.3zM422.2 219.8h1.3v4.43h-1.3zM116.9 224.2h1.3v4.43h-1.3zM122.2 224.2h1.3v4.43h-1.3zM131.4 224.2h1.3v4.43h-1.3zM170.9 224.2h1.3v4.43h-1.3zM177.5 224.2h1.3v4.43h-1.3zM248.5 224.2h1.3v4.43h-1.3zM261.7 224.2h1.3v4.43h-1.3zM266.9 224.2h1.3v4.43h-1.3zM334.0 224.2h1.3v4.43h-1.3zM356.4 224.2h1.3v4.43h-1.3zM390.6 224.2h1.3v4.43h-1.3zM131.4 228.7h1.3v4.43h-1.3zM148.5 228.7h1.3v4.43h-1.3zM215.6 228.7h1.3v4.43h-1.3zM220.9 228.7h1.3v4.43h-1.3zM239.3 228.7h1.3v4.43h-1.3zM243.2 228.7h1.3v4.43h-1.3zM252.5 228.7h1.3v4.43h-1.3zM302.4 228.7h1.3v4.43h-1.3zM310.3 228.7h1.3v4.43h-1.3zM313.0 228.7h1.3v4.43h-1.3zM319.6 228.7h1.3v4.43h-1.3zM145.9 233.1h1.3v4.43h-1.3zM178.8 233.1h1.3v4.43h-1.3zM219.6 233.1h1.3v4.43h-1.3zM224.8 233.1h1.3v4.43h-1.3zM274.8 233.1h1.3v4.43h-1.3zM278.8 233.1h1.3v4.43h-1.3zM301.1 233.1h3.9v4.43h-3.9zM314.3 233.1h1.3v4.43h-1.3zM327.4 233.1h1.3v4.43h-1.3zM330.1 233.1h1.3v4.43h-1.3zM384.0 233.1h1.3v4.43h-1.3zM389.3 233.1h1.3v4.43h-1.3zM97.2 237.5h1.3v4.43h-1.3zM131.4 237.5h1.3v4.43h-1.3zM143.3 237.5h1.3v4.43h-1.3zM198.5 237.5h1.3v4.43h-1.3zM243.2 237.5h1.3v4.43h-1.3zM255.1 237.5h1.3v4.43h-1.3zM278.8 237.5h1.3v4.43h-1.3zM291.9 237.5h1.3v4.43h-1.3zM295.9 237.5h1.3v4.43h-1.3zM327.4 237.5h2.6v4.43h-2.6zM336.7 237.5h2.6v4.43h-2.6zM397.2 237.5h1.3v4.43h-1.3zM414.3 237.5h1.3v4.43h-1.3zM140.6 242.0h1.3v4.43h-1.3zM193.2 242.0h1.3v4.43h-1.3zM199.8 242.0h1.3v4.43h-1.3zM223.5 242.0h2.6v4.43h-2.6zM238.0 242.0h1.3v4.43h-1.3zM264.3 242.0h1.3v4.43h-1.3zM276.1 242.0h1.3v4.43h-1.3zM281.4 242.0h1.3v4.43h-1.3zM302.4 242.0h1.3v4.43h-1.3zM384.0 242.0h1.3v4.43h-1.3zM105.1 246.4h1.3v4.43h-1.3zM116.9 246.4h1.3v4.43h-1.3zM141.9 246.4h1.3v4.43h-1.3zM145.9 246.4h1.3v4.43h-1.3zM161.7 246.4h1.3v4.43h-1.3zM203.8 246.4h1.3v4.43h-1.3zM238.0 246.4h1.3v4.43h-1.3zM252.5 246.4h1.3v4.43h-1.3zM315.6 246.4h1.3v4.43h-1.3zM378.8 246.4h1.3v4.43h-1.3zM398.5 246.4h1.3v4.43h-1.3zM414.3 246.4h1.3v4.43h-1.3zM423.5 246.4h1.3v4.43h-1.3zM45.9 250.8h1.3v4.43h-1.3zM105.1 250.8h1.3v4.43h-1.3zM124.8 250.8h1.3v4.43h-1.3zM130.1 250.8h1.3v4.43h-1.3zM143.3 250.8h1.3v4.43h-1.3zM165.6 250.8h1.3v4.43h-1.3zM168.3 250.8h1.3v4.43h-1.3zM224.8 250.8h1.3v4.43h-1.3zM270.9 250.8h1.3v4.43h-1.3zM302.4 250.8h1.3v4.43h-1.3zM324.8 250.8h1.3v4.43h-1.3zM51.2 255.3h1.3v4.43h-1.3zM82.7 255.3h1.3v4.43h-1.3zM155.1 255.3h1.3v4.43h-1.3zM181.4 255.3h1.3v4.43h-1.3zM184.0 255.3h1.3v4.43h-1.3zM224.8 255.3h1.3v4.43h-1.3zM302.4 255.3h1.3v4.43h-1.3zM340.6 255.3h1.3v4.43h-1.3zM348.5 255.3h1.3v4.43h-1.3zM385.3 255.3h1.3v4.43h-1.3zM411.6 255.3h2.6v4.43h-2.6zM416.9 255.3h1.3v4.43h-1.3zM420.9 255.3h1.3v4.43h-1.3zM430.1 255.3h1.3v4.43h-1.3zM40.6 259.7h1.3v4.43h-1.3zM66.9 259.7h1.3v4.43h-1.3zM73.5 259.7h1.3v4.43h-1.3zM77.5 259.7h1.3v4.43h-1.3zM82.7 259.7h1.3v4.43h-1.3zM113.0 259.7h1.3v4.43h-1.3zM135.4 259.7h1.3v4.43h-1.3zM140.6 259.7h1.3v4.43h-1.3zM159.0 259.7h1.3v4.43h-1.3zM173.5 259.7h1.3v4.43h-1.3zM211.7 259.7h1.3v4.43h-1.3zM232.7 259.7h1.3v4.43h-1.3zM240.6 259.7h1.3v4.43h-1.3zM255.1 259.7h1.3v4.43h-1.3zM264.3 259.7h1.3v4.43h-1.3zM270.9 259.7h1.3v4.43h-1.3zM281.4 259.7h1.3v4.43h-1.3zM324.8 259.7h1.3v4.43h-1.3zM105.1 264.1h1.3v4.43h-1.3zM168.3 264.1h1.3v4.43h-1.3zM203.8 264.1h1.3v4.43h-1.3zM235.3 264.1h1.3v4.43h-1.3zM243.2 264.1h1.3v4.43h-1.3zM269.6 264.1h1.3v4.43h-1.3zM305.1 264.1h1.3v4.43h-1.3zM309.0 264.1h1.3v4.43h-1.3zM343.2 264.1h1.3v4.43h-1.3zM381.4 264.1h1.3v4.43h-1.3zM393.2 264.1h2.6v4.43h-2.6zM66.9 268.6h1.3v4.43h-1.3zM76.2 268.6h1.3v4.43h-1.3zM118.3 268.6h1.3v4.43h-1.3zM153.8 268.6h1.3v4.43h-1.3zM172.2 268.6h2.6v4.43h-2.6zM224.8 268.6h1.3v4.43h-1.3zM260.3 268.6h1.3v4.43h-1.3zM318.2 268.6h1.3v4.43h-1.3zM323.5 268.6h1.3v4.43h-1.3zM334.0 268.6h1.3v4.43h-1.3zM385.3 268.6h1.3v4.43h-1.3zM394.5 268.6h1.3v4.43h-1.3zM397.2 268.6h1.3v4.43h-1.3zM416.9 268.6h1.3v4.43h-1.3zM48.5 273.0h1.3v4.43h-1.3zM114.3 273.0h1.3v4.43h-1.3zM149.8 273.0h1.3v4.43h-1.3zM197.2 273.0h1.3v4.43h-1.3zM248.5 273.0h1.3v4.43h-1.3zM264.3 273.0h1.3v4.43h-1.3zM313.0 273.0h1.3v4.43h-1.3zM365.6 273.0h1.3v4.43h-1.3zM389.3 273.0h1.3v4.43h-1.3zM391.9 273.0h1.3v4.43h-1.3zM45.9 277.4h1.3v4.43h-1.3zM48.5 277.4h1.3v4.43h-1.3zM72.2 277.4h1.3v4.43h-1.3zM74.8 277.4h1.3v4.43h-1.3zM111.7 277.4h1.3v4.43h-1.3zM144.6 277.4h1.3v4.43h-1.3zM205.1 277.4h1.3v4.43h-1.3zM218.2 277.4h1.3v4.43h-1.3zM220.9 277.4h1.3v4.43h-1.3zM276.1 277.4h1.3v4.43h-1.3zM301.1 277.4h1.3v4.43h-1.3zM165.6 281.8h1.3v4.43h-1.3zM181.4 281.8h1.3v4.43h-1.3zM209.0 281.8h1.3v4.43h-1.3zM224.8 281.8h1.3v4.43h-1.3zM253.8 281.8h1.3v4.43h-1.3zM266.9 281.8h1.3v4.43h-1.3zM47.2 286.3h1.3v4.43h-1.3zM52.5 286.3h1.3v4.43h-1.3zM55.1 286.3h1.3v4.43h-1.3zM73.5 286.3h1.3v4.43h-1.3zM82.7 286.3h1.3v4.43h-1.3zM140.6 286.3h1.3v4.43h-1.3zM144.6 286.3h1.3v4.43h-1.3zM193.2 286.3h1.3v4.43h-1.3zM206.4 286.3h1.3v4.43h-1.3zM324.8 286.3h1.3v4.43h-1.3zM334.0 286.3h1.3v4.43h-1.3zM48.5 290.7h1.3v4.43h-1.3zM124.8 290.7h1.3v4.43h-1.3zM169.6 290.7h1.3v4.43h-1.3zM193.2 290.7h1.3v4.43h-1.3zM222.2 290.7h1.3v4.43h-1.3zM270.9 290.7h1.3v4.43h-1.3zM323.5 290.7h2.6v4.43h-2.6zM65.6 295.1h1.3v4.43h-1.3zM76.2 295.1h1.3v4.43h-1.3zM101.2 295.1h1.3v4.43h-1.3zM103.8 295.1h1.3v4.43h-1.3zM130.1 295.1h1.3v4.43h-1.3zM198.5 295.1h1.3v4.43h-1.3zM202.5 295.1h1.3v4.43h-1.3zM220.9 295.1h1.3v4.43h-1.3zM257.7 295.1h2.6v4.43h-2.6zM264.3 295.1h1.3v4.43h-1.3zM270.9 295.1h1.3v4.43h-1.3zM276.1 295.1h1.3v4.43h-1.3zM288.0 295.1h1.3v4.43h-1.3zM310.3 295.1h1.3v4.43h-1.3zM111.7 299.6h1.3v5.93h-1.3zM143.3 299.6h1.3v5.93h-1.3zM147.2 299.6h1.3v5.93h-1.3zM230.1 299.6h1.3v5.93h-1.3zM310.3 299.6h1.3v5.93h-1.3z"/>
<path fill="#71bfe3" d="M110.4 45.5h1.3v5.93h-1.3zM122.2 45.5h1.3v5.93h-1.3zM145.9 45.5h1.3v5.93h-1.3zM152.5 45.5h1.3v5.93h-1.3zM182.7 45.5h1.3v5.93h-1.3zM281.4 45.5h1.3v5.93h-1.3zM285.3 45.5h1.3v5.93h-1.3zM309.0 45.5h1.3v5.93h-1.3zM324.8 45.5h1.3v5.93h-1.3zM344.6 45.5h1.3v5.93h-1.3zM357.7 45.5h1.3v5.93h-1.3zM360.3 45.5h1.3v5.93h-1.3zM376.1 45.5h1.3v5.93h-1.3zM423.5 45.5h1.3v5.93h-1.3zM427.4 45.5h1.3v5.93h-1.3zM103.8 51.4h1.3v4.43h-1.3zM113.0 51.4h1.3v4.43h-1.3zM139.3 51.4h1.3v4.43h-1.3zM172.2 51.4h1.3v4.43h-1.3zM193.2 51.4h1.3v4.43h-1.3zM235.3 51.4h1.3v4.43h-1.3zM248.5 51.4h1.3v4.43h-1.3zM274.8 51.4h1.3v4.43h-1.3zM303.8 51.4h1.3v4.43h-1.3zM309.0 51.4h2.6v4.43h-2.6zM313.0 51.4h1.3v4.43h-1.3zM352.4 51.4h1.3v4.43h-1.3zM370.9 51.4h1.3v4.43h-1.3zM378.8 51.4h1.3v4.43h-1.3zM388.0 51.4h1.3v4.43h-1.3zM427.4 51.4h1.3v4.43h-1.3zM39.3 55.9h1.3v4.43h-1.3zM47.2 55.9h1.3v4.43h-1.3zM51.2 55.9h1.3v4.43h-1.3zM89.3 55.9h1.3v4.43h-1.3zM111.7 55.9h1.3v4.43h-1.3zM130.1 55.9h1.3v4.43h-1.3zM152.5 55.9h1.3v4.43h-1.3zM161.7 55.9h1.3v4.43h-1.3zM166.9 55.9h1.3v4.43h-1.3zM189.3 55.9h1.3v4.43h-1.3zM201.1 55.9h1.3v4.43h-1.3zM216.9 55.9h1.3v4.43h-1.3zM224.8 55.9h1.3v4.43h-1.3zM259.0 55.9h1.3v4.43h-1.3zM264.3 55.9h1.3v4.43h-1.3zM297.2 55.9h1.3v4.43h-1.3zM306.4 55.9h1.3v4.43h-1.3zM309.0 55.9h2.6v4.43h-2.6zM318.2 55.9h1.3v4.43h-1.3zM327.4 55.9h1.3v4.43h-1.3zM338.0 55.9h1.3v4.43h-1.3zM345.9 55.9h1.3v4.43h-1.3zM356.4 55.9h2.6v4.43h-2.6zM378.8 55.9h1.3v4.43h-1.3zM414.3 55.9h1.3v4.43h-1.3zM97.2 60.3h1.3v4.43h-1.3zM124.8 60.3h1.3v4.43h-1.3zM173.5 60.3h1.3v4.43h-1.3zM178.8 60.3h1.3v4.43h-1.3zM186.7 60.3h1.3v4.43h-1.3zM198.5 60.3h1.3v4.43h-1.3zM210.4 60.3h1.3v4.43h-1.3zM234.0 60.3h1.3v4.43h-1.3zM238.0 60.3h1.3v4.43h-1.3zM247.2 60.3h1.3v4.43h-1.3zM264.3 60.3h1.3v4.43h-1.3zM289.3 60.3h1.3v4.43h-1.3zM331.4 60.3h1.3v4.43h-1.3zM334.0 60.3h1.3v4.43h-1.3zM353.8 60.3h1.3v4.43h-1.3zM360.3 60.3h1.3v4.43h-1.3zM105.1 64.7h1.3v4.43h-1.3zM173.5 64.7h1.3v4.43h-1.3zM199.8 64.7h2.6v4.43h-2.6zM211.7 64.7h1.3v4.43h-1.3zM214.3 64.7h1.3v4.43h-1.3zM238.0 64.7h1.3v4.43h-1.3zM248.5 64.7h1.3v4.43h-1.3zM266.9 64.7h1.3v4.43h-1.3zM301.1 64.7h1.3v4.43h-1.3zM319.6 64.7h1.3v4.43h-1.3zM338.0 64.7h1.3v4.43h-1.3zM356.4 64.7h1.3v4.43h-1.3zM369.5 64.7h1.3v4.43h-1.3zM65.6 69.2h1.3v4.43h-1.3zM82.7 69.2h1.3v4.43h-1.3zM95.9 69.2h1.3v4.43h-1.3zM128.8 69.2h1.3v4.43h-1.3zM190.6 69.2h1.3v4.43h-1.3zM193.2 69.2h1.3v4.43h-1.3zM239.3 69.2h1.3v4.43h-1.3zM255.1 69.2h1.3v4.43h-1.3zM269.6 69.2h1.3v4.43h-1.3zM322.2 69.2h1.3v4.43h-1.3zM348.5 69.2h1.3v4.43h-1.3zM365.6 69.2h1.3v4.43h-1.3zM380.1 69.2h1.3v4.43h-1.3zM384.0 69.2h1.3v4.43h-1.3zM419.5 69.2h1.3v4.43h-1.3zM426.1 69.2h1.3v4.43h-1.3zM73.5 73.6h1.3v4.43h-1.3zM130.1 73.6h1.3v4.43h-1.3zM140.6 73.6h1.3v4.43h-1.3zM163.0 73.6h1.3v4.43h-1.3zM170.9 73.6h2.6v4.43h-2.6zM197.2 73.6h1.3v4.43h-1.3zM223.5 73.6h1.3v4.43h-1.3zM230.1 73.6h1.3v4.43h-1.3zM266.9 73.6h1.3v4.43h-1.3zM314.3 73.6h1.3v4.43h-1.3zM324.8 73.6h1.3v4.43h-1.3zM353.8 73.6h1.3v4.43h-1.3zM357.7 73.6h1.3v4.43h-1.3zM97.2 78.0h1.3v4.43h-1.3zM161.7 78.0h1.3v4.43h-1.3zM166.9 78.0h1.3v4.43h-1.3zM215.6 78.0h1.3v4.43h-1.3zM251.1 78.0h1.3v4.43h-1.3zM274.8 78.0h1.3v4.43h-1.3zM278.8 78.0h1.3v4.43h-1.3zM285.3 78.0h1.3v4.43h-1.3zM301.1 78.0h1.3v4.43h-1.3zM327.4 78.0h1.3v4.43h-1.3zM351.1 78.0h1.3v4.43h-1.3zM368.2 78.0h1.3v4.43h-1.3zM389.3 78.0h2.6v4.43h-2.6zM428.8 78.0h1.3v4.43h-1.3zM45.9 82.4h1.3v4.43h-1.3zM51.2 82.4h1.3v4.43h-1.3zM56.4 82.4h1.3v4.43h-1.3zM63.0 82.4h1.3v4.43h-1.3zM135.4 82.4h1.3v4.43h-1.3zM152.5 82.4h1.3v4.43h-1.3zM168.3 82.4h1.3v4.43h-1.3zM172.2 82.4h1.3v4.43h-1.3zM190.6 82.4h1.3v4.43h-1.3zM214.3 82.4h1.3v4.43h-1.3zM243.2 82.4h1.3v4.43h-1.3zM252.5 82.4h1.3v4.43h-1.3zM255.1 82.4h1.3v4.43h-1.3zM261.7 82.4h1.3v4.43h-1.3zM282.7 82.4h1.3v4.43h-1.3zM309.0 82.4h1.3v4.43h-1.3zM318.2 82.4h1.3v4.43h-1.3zM324.8 82.4h1.3v4.43h-1.3zM334.0 82.4h1.3v4.43h-1.3zM338.0 82.4h1.3v4.43h-1.3zM348.5 82.4h1.3v4.43h-1.3zM353.8 82.4h1.3v4.43h-1.3zM378.8 82.4h1.3v4.43h-1.3zM398.5 82.4h1.3v4.43h-1.3zM419.5 82.4h1.3v4.43h-1.3zM41.9 86.9h1.3v4.43h-1.3zM76.2 86.9h1.3v4.43h-1.3zM103.8 86.9h1.3v4.43h-1.3zM114.3 86.9h1.3v4.43h-1.3zM122.2 86.9h1.3v4.43h-1.3zM124.8 86.9h1.3v4.43h-1.3zM128.8 86.9h1.3v4.43h-1.3zM140.6 86.9h1.3v4.43h-1.3zM190.6 86.9h1.3v4.43h-1.3zM203.8 86.9h1.3v4.43h-1.3zM207.7 86.9h1.3v4.43h-1.3zM224.8 86.9h1.3v4.43h-1.3zM239.3 86.9h1.3v4.43h-1.3zM252.5 86.9h3.9v4.43h-3.9zM257.7 86.9h1.3v4.43h-1.3zM260.3 86.9h1.3v4.43h-1.3zM313.0 86.9h2.6v4.43h-2.6zM318.2 86.9h1.3v4.43h-1.3zM324.8 86.9h1.3v4.43h-1.3zM330.1 86.9h1.3v4.43h-1.3zM365.6 86.9h1.3v4.43h-1.3zM370.9 86.9h1.3v4.43h-1.3zM398.5 86.9h1.3v4.43h-1.3zM41.9 91.3h1.3v4.43h-1.3zM141.9 91.3h1.3v4.43h-1.3zM197.2 91.3h1.3v4.43h-1.3zM238.0 91.3h1.3v4.43h-1.3zM260.3 91.3h1.3v4.43h-1.3zM295.9 91.3h1.3v4.43h-1.3zM397.2 91.3h1.3v4.43h-1.3zM36.5 95.7h2.8v4.43h-2.8zM52.5 95.7h1.3v4.43h-1.3zM66.9 95.7h1.3v4.43h-1.3zM81.4 95.7h1.3v4.43h-1.3zM84.0 95.7h1.3v4.43h-1.3zM68.3 100.2h1.3v4.43h-1.3zM73.5 100.2h1.3v4.43h-1.3zM116.9 100.2h1.3v4.43h-1.3zM124.8 100.2h1.3v4.43h-1.3zM135.4 100.2h1.3v4.43h-1.3zM190.6 100.2h1.3v4.43h-1.3zM199.8 100.2h1.3v4.43h-1.3zM213.0 100.2h1.3v4.43h-1.3zM285.3 100.2h1.3v4.43h-1.3zM291.9 100.2h1.3v4.43h-1.3zM324.8 100.2h1.3v4.43h-1.3zM339.3 100.2h1.3v4.43h-1.3zM349.8 100.2h1.3v4.43h-1.3zM355.1 100.2h1.3v4.43h-1.3zM368.2 100.2h1.3v4.43h-1.3zM393.2 100.2h1.3v4.43h-1.3zM45.9 104.6h1.3v4.43h-1.3zM84.0 104.6h1.3v4.43h-1.3zM110.4 104.6h1.3v4.43h-1.3zM145.9 104.6h1.3v4.43h-1.3zM152.5 104.6h1.3v4.43h-1.3zM159.0 104.6h1.3v4.43h-1.3zM165.6 104.6h1.3v4.43h-1.3zM168.3 104.6h1.3v4.43h-1.3zM223.5 104.6h1.3v4.43h-1.3zM252.5 104.6h1.3v4.43h-1.3zM314.3 104.6h1.3v4.43h-1.3zM414.3 104.6h1.3v4.43h-1.3zM422.2 104.6h1.3v4.43h-1.3zM39.3 109.0h1.3v4.43h-1.3zM48.5 109.0h1.3v4.43h-1.3zM66.9 109.0h1.3v4.43h-1.3zM103.8 109.0h1.3v4.43h-1.3zM153.8 109.0h1.3v4.43h-1.3zM238.0 109.0h1.3v4.43h-1.3zM407.7 109.0h1.3v4.43h-1.3zM45.9 113.5h1.3v4.43h-1.3zM66.9 113.5h1.3v4.43h-1.3zM124.8 113.5h1.3v4.43h-1.3zM143.3 113.5h1.3v4.43h-1.3zM159.0 113.5h1.3v4.43h-1.3zM163.0 113.5h1.3v4.43h-1.3zM181.4 113.5h1.3v4.43h-1.3zM197.2 113.5h1.3v4.43h-1.3zM214.3 113.5h1.3v4.43h-1.3zM289.3 113.5h1.3v4.43h-1.3zM365.6 113.5h1.3v4.43h-1.3zM373.5 113.5h1.3v4.43h-1.3zM45.9 117.9h1.3v4.43h-1.3zM74.8 117.9h2.6v4.43h-2.6zM111.7 117.9h1.3v4.43h-1.3zM131.4 117.9h1.3v4.43h-1.3zM140.6 117.9h1.3v4.43h-1.3zM165.6 117.9h1.3v4.43h-1.3zM188.0 117.9h1.3v4.43h-1.3zM190.6 117.9h1.3v4.43h-1.3zM199.8 117.9h1.3v4.43h-1.3zM251.1 117.9h1.3v4.43h-1.3zM313.0 117.9h1.3v4.43h-1.3zM327.4 117.9h2.6v4.43h-2.6zM388.0 117.9h1.3v4.43h-1.3zM398.5 117.9h1.3v4.43h-1.3zM69.6 122.3h1.3v4.43h-1.3zM80.1 122.3h1.3v4.43h-1.3zM97.2 122.3h1.3v4.43h-1.3zM103.8 122.3h1.3v4.43h-1.3zM327.4 122.3h1.3v4.43h-1.3zM349.8 122.3h1.3v4.43h-1.3zM369.5 122.3h1.3v4.43h-1.3zM389.3 122.3h1.3v4.43h-1.3zM52.5 126.8h1.3v4.43h-1.3zM80.1 126.8h1.3v4.43h-1.3zM130.1 126.8h1.3v4.43h-1.3zM153.8 126.8h1.3v4.43h-1.3zM165.6 126.8h1.3v4.43h-1.3zM173.5 126.8h1.3v4.43h-1.3zM199.8 126.8h1.3v4.43h-1.3zM214.3 126.8h1.3v4.43h-1.3zM230.1 126.8h1.3v4.43h-1.3zM255.1 126.8h1.3v4.43h-1.3zM259.0 126.8h1.3v4.43h-1.3zM291.9 126.8h1.3v4.43h-1.3zM330.1 126.8h2.6v4.43h-2.6zM369.5 126.8h1.3v4.43h-1.3zM414.3 126.8h1.3v4.43h-1.3zM44.6 131.2h1.3v4.43h-1.3zM51.2 131.2h2.6v4.43h-2.6zM57.7 131.2h1.3v4.43h-1.3zM66.9 131.2h1.3v4.43h-1.3zM130.1 131.2h1.3v4.43h-1.3zM190.6 131.2h1.3v4.43h-1.3zM211.7 131.2h1.3v4.43h-1.3zM228.8 131.2h1.3v4.43h-1.3zM234.0 131.2h1.3v4.43h-1.3zM302.4 131.2h1.3v4.43h-1.3zM310.3 131.2h1.3v4.43h-1.3zM369.5 131.2h1.3v4.43h-1.3zM407.7 131.2h1.3v4.43h-1.3zM419.5 131.2h1.3v4.43h-1.3zM427.4 131.2h1.3v4.43h-1.3zM56.4 135.6h1.3v4.43h-1.3zM89.3 135.6h1.3v4.43h-1.3zM173.5 135.6h1.3v4.43h-1.3zM49.8 140.1h1.3v4.43h-1.3zM109.0 140.1h1.3v4.43h-1.3zM148.5 140.1h1.3v4.43h-1.3zM177.5 140.1h1.3v4.43h-1.3zM205.1 140.1h1.3v4.43h-1.3zM255.1 140.1h1.3v4.43h-1.3zM282.7 140.1h1.3v4.43h-1.3zM289.3 140.1h2.6v4.43h-2.6zM322.2 140.1h2.6v4.43h-2.6zM328.8 140.1h1.3v4.43h-1.3zM368.2 140.1h2.6v4.43h-2.6zM410.3 140.1h1.3v4.43h-1.3zM69.6 144.5h1.3v4.43h-1.3zM101.2 144.5h1.3v4.43h-1.3zM116.9 144.5h1.3v4.43h-1.3zM199.8 144.5h1.3v4.43h-1.3zM252.5 144.5h1.3v4.43h-1.3zM255.1 144.5h1.3v4.43h-1.3zM274.8 144.5h1.3v4.43h-1.3zM352.4 144.5h1.3v4.43h-1.3zM389.3 144.5h1.3v4.43h-1.3zM414.3 144.5h1.3v4.43h-1.3zM49.8 148.9h1.3v4.43h-1.3zM365.6 148.9h1.3v4.43h-1.3zM56.4 153.3h2.6v4.43h-2.6zM63.0 153.3h1.3v4.43h-1.3zM68.3 153.3h1.3v4.43h-1.3zM165.6 162.2h1.3v4.43h-1.3zM51.2 171.1h1.3v4.43h-1.3zM65.6 171.1h2.6v4.43h-2.6zM99.8 171.1h1.3v4.43h-1.3zM110.4 171.1h1.3v4.43h-1.3zM148.5 171.1h1.3v4.43h-1.3zM153.8 171.1h1.3v4.43h-1.3zM163.0 171.1h1.3v4.43h-1.3zM168.3 171.1h1.3v4.43h-1.3zM181.4 171.1h1.3v4.43h-1.3zM205.1 171.1h1.3v4.43h-1.3zM236.7 171.1h1.3v4.43h-1.3zM248.5 171.1h1.3v4.43h-1.3zM261.7 171.1h1.3v4.43h-1.3zM295.9 171.1h1.3v4.43h-1.3zM310.3 171.1h1.3v4.43h-1.3zM352.4 171.1h1.3v4.43h-1.3zM414.3 171.1h1.3v4.43h-1.3zM66.9 175.5h1.3v4.43h-1.3zM130.1 175.5h1.3v4.43h-1.3zM152.5 175.5h1.3v4.43h-1.3zM182.7 175.5h1.3v4.43h-1.3zM188.0 175.5h1.3v4.43h-1.3zM190.6 175.5h1.3v4.43h-1.3zM207.7 175.5h1.3v4.43h-1.3zM215.6 175.5h1.3v4.43h-1.3zM224.8 175.5h1.3v4.43h-1.3zM273.5 175.5h1.3v4.43h-1.3zM278.8 175.5h1.3v4.43h-1.3zM282.7 175.5h1.3v4.43h-1.3zM306.4 175.5h1.3v4.43h-1.3zM314.3 175.5h1.3v4.43h-1.3zM322.2 175.5h1.3v4.43h-1.3zM328.8 175.5h1.3v4.43h-1.3zM348.5 175.5h1.3v4.43h-1.3zM356.4 175.5h1.3v4.43h-1.3zM386.7 175.5h1.3v4.43h-1.3zM39.3 179.9h1.3v4.43h-1.3zM109.0 179.9h1.3v4.43h-1.3zM140.6 179.9h1.3v4.43h-1.3zM170.9 179.9h1.3v4.43h-1.3zM177.5 179.9h1.3v4.43h-1.3zM181.4 179.9h1.3v4.43h-1.3zM186.7 179.9h1.3v4.43h-1.3zM190.6 179.9h1.3v4.43h-1.3zM231.4 179.9h1.3v4.43h-1.3zM257.7 179.9h1.3v4.43h-1.3zM303.8 179.9h1.3v4.43h-1.3zM314.3 179.9h1.3v4.43h-1.3zM330.1 179.9h1.3v4.43h-1.3zM334.0 179.9h1.3v4.43h-1.3zM338.0 179.9h1.3v4.43h-1.3zM344.6 179.9h1.3v4.43h-1.3zM353.8 179.9h1.3v4.43h-1.3zM389.3 179.9h1.3v4.43h-1.3zM407.7 179.9h1.3v4.43h-1.3zM47.2 184.4h1.3v4.43h-1.3zM82.7 184.4h1.3v4.43h-1.3zM97.2 184.4h1.3v4.43h-1.3zM116.9 184.4h2.6v4.43h-2.6zM148.5 184.4h1.3v4.43h-1.3zM155.1 184.4h1.3v4.43h-1.3zM169.6 184.4h1.3v4.43h-1.3zM211.7 184.4h1.3v4.43h-1.3zM215.6 184.4h1.3v4.43h-1.3zM224.8 184.4h1.3v4.43h-1.3zM251.1 184.4h1.3v4.43h-1.3zM264.3 184.4h1.3v4.43h-1.3zM266.9 184.4h1.3v4.43h-1.3zM302.4 184.4h2.6v4.43h-2.6zM306.4 184.4h1.3v4.43h-1.3zM313.0 184.4h1.3v4.43h-1.3zM330.1 184.4h1.3v4.43h-1.3zM424.8 184.4h1.3v4.43h-1.3zM428.8 184.4h1.3v4.43h-1.3zM74.8 188.8h1.3v4.43h-1.3zM97.2 188.8h1.3v4.43h-1.3zM103.8 188.8h1.3v4.43h-1.3zM113.0 188.8h1.3v4.43h-1.3zM135.4 188.8h1.3v4.43h-1.3zM140.6 188.8h1.3v4.43h-1.3zM157.7 188.8h1.3v4.43h-1.3zM181.4 188.8h1.3v4.43h-1.3zM219.6 188.8h1.3v4.43h-1.3zM224.8 188.8h1.3v4.43h-1.3zM374.8 188.8h2.6v4.43h-2.6zM388.0 188.8h1.3v4.43h-1.3zM423.5 188.8h1.3v4.43h-1.3zM70.9 193.2h1.3v4.43h-1.3zM73.5 193.2h1.3v4.43h-1.3zM85.4 193.2h1.3v4.43h-1.3zM97.2 193.2h1.3v4.43h-1.3zM109.0 193.2h1.3v4.43h-1.3zM118.3 193.2h1.3v4.43h-1.3zM131.4 193.2h1.3v4.43h-1.3zM152.5 193.2h1.3v4.43h-1.3zM170.9 193.2h1.3v4.43h-1.3zM190.6 193.2h1.3v4.43h-1.3zM197.2 193.2h1.3v4.43h-1.3zM199.8 193.2h1.3v4.43h-1.3zM232.7 193.2h2.6v4.43h-2.6zM301.1 193.2h1.3v4.43h-1.3zM376.1 193.2h1.3v4.43h-1.3zM411.6 193.2h1.3v4.43h-1.3zM419.5 193.2h1.3v4.43h-1.3zM44.6 197.7h1.3v4.43h-1.3zM64.3 197.7h1.3v4.43h-1.3zM76.2 197.7h1.3v4.43h-1.3zM103.8 197.7h1.3v4.43h-1.3zM110.4 197.7h1.3v4.43h-1.3zM140.6 197.7h1.3v4.43h-1.3zM152.5 197.7h1.3v4.43h-1.3zM172.2 197.7h1.3v4.43h-1.3zM188.0 197.7h1.3v4.43h-1.3zM193.2 197.7h1.3v4.43h-1.3zM205.1 197.7h1.3v4.43h-1.3zM207.7 197.7h1.3v4.43h-1.3zM210.4 197.7h1.3v4.43h-1.3zM215.6 197.7h1.3v4.43h-1.3zM224.8 197.7h1.3v4.43h-1.3zM230.1 197.7h1.3v4.43h-1.3zM253.8 197.7h1.3v4.43h-1.3zM289.3 197.7h1.3v4.43h-1.3zM301.1 197.7h1.3v4.43h-1.3zM313.0 197.7h1.3v4.43h-1.3zM336.7 197.7h1.3v4.43h-1.3zM369.5 197.7h1.3v4.43h-1.3zM426.1 197.7h1.3v4.43h-1.3zM47.2 202.1h1.3v4.43h-1.3zM52.5 202.1h1.3v4.43h-1.3zM128.8 202.1h1.3v4.43h-1.3zM139.3 202.1h1.3v4.43h-1.3zM143.3 202.1h1.3v4.43h-1.3zM163.0 202.1h1.3v4.43h-1.3zM177.5 202.1h1.3v4.43h-1.3zM193.2 202.1h1.3v4.43h-1.3zM205.1 202.1h1.3v4.43h-1.3zM253.8 202.1h1.3v4.43h-1.3zM273.5 202.1h1.3v4.43h-1.3zM282.7 202.1h1.3v4.43h-1.3zM336.7 202.1h1.3v4.43h-1.3zM357.7 202.1h1.3v4.43h-1.3zM388.0 202.1h1.3v4.43h-1.3zM48.5 206.5h1.3v4.43h-1.3zM69.6 206.5h1.3v4.43h-1.3zM73.5 206.5h1.3v4.43h-1.3zM152.5 206.5h1.3v4.43h-1.3zM197.2 206.5h1.3v4.43h-1.3zM214.3 206.5h1.3v4.43h-1.3zM231.4 206.5h1.3v4.43h-1.3zM238.0 206.5h1.3v4.43h-1.3zM243.2 206.5h1.3v4.43h-1.3zM251.1 206.5h3.9v4.43h-3.9zM274.8 206.5h1.3v4.43h-1.3zM285.3 206.5h1.3v4.43h-1.3zM349.8 206.5h1.3v4.43h-1.3zM107.7 210.9h1.3v4.43h-1.3zM147.2 210.9h1.3v4.43h-1.3zM163.0 210.9h1.3v4.43h-1.3zM230.1 210.9h1.3v4.43h-1.3zM260.3 210.9h2.6v4.43h-2.6zM301.1 210.9h2.6v4.43h-2.6zM313.0 210.9h1.3v4.43h-1.3zM315.6 210.9h1.3v4.43h-1.3zM338.0 210.9h1.3v4.43h-1.3zM377.4 210.9h1.3v4.43h-1.3zM424.8 210.9h1.3v4.43h-1.3zM53.8 215.4h1.3v4.43h-1.3zM141.9 215.4h1.3v4.43h-1.3zM170.9 215.4h1.3v4.43h-1.3zM177.5 215.4h1.3v4.43h-1.3zM209.0 215.4h1.3v4.43h-1.3zM211.7 215.4h1.3v4.43h-1.3zM353.8 215.4h1.3v4.43h-1.3zM393.2 215.4h1.3v4.43h-1.3zM141.9 219.8h1.3v4.43h-1.3zM181.4 219.8h1.3v4.43h-1.3zM193.2 219.8h1.3v4.43h-1.3zM214.3 219.8h1.3v4.43h-1.3zM253.8 219.8h1.3v4.43h-1.3zM257.7 219.8h1.3v4.43h-1.3zM272.2 219.8h1.3v4.43h-1.3zM301.1 219.8h1.3v4.43h-1.3zM328.8 219.8h1.3v4.43h-1.3zM344.6 219.8h1.3v4.43h-1.3zM355.1 219.8h1.3v4.43h-1.3zM418.2 219.8h1.3v4.43h-1.3zM39.3 224.2h1.3v4.43h-1.3zM41.9 224.2h1.3v4.43h-1.3zM51.2 224.2h1.3v4.43h-1.3zM144.6 224.2h1.3v4.43h-1.3zM198.5 224.2h1.3v4.43h-1.3zM211.7 224.2h1.3v4.43h-1.3zM264.3 224.2h1.3v4.43h-1.3zM289.3 224.2h1.3v4.43h-1.3zM328.8 224.2h2.6v4.43h-2.6zM338.0 224.2h1.3v4.43h-1.3zM349.8 224.2h1.3v4.43h-1.3zM353.8 224.2h1.3v4.43h-1.3zM389.3 224.2h1.3v4.43h-1.3zM420.9 224.2h1.3v4.43h-1.3zM423.5 224.2h1.3v4.43h-1.3zM91.9 228.7h1.3v4.43h-1.3zM101.2 228.7h1.3v4.43h-1.3zM113.0 228.7h1.3v4.43h-1.3zM116.9 228.7h1.3v4.43h-1.3zM147.2 228.7h1.3v4.43h-1.3zM165.6 228.7h1.3v4.43h-1.3zM173.5 228.7h1.3v4.43h-1.3zM203.8 228.7h2.6v4.43h-2.6zM214.3 228.7h1.3v4.43h-1.3zM234.0 228.7h1.3v4.43h-1.3zM273.5 228.7h1.3v4.43h-1.3zM311.7 228.7h1.3v4.43h-1.3zM328.8 228.7h1.3v4.43h-1.3zM344.6 228.7h1.3v4.43h-1.3zM357.7 228.7h1.3v4.43h-1.3zM388.0 228.7h1.3v4.43h-1.3zM391.9 228.7h2.6v4.43h-2.6zM190.6 233.1h1.3v4.43h-1.3zM207.7 233.1h2.6v4.43h-2.6zM264.3 233.1h1.3v4.43h-1.3zM281.4 233.1h1.3v4.43h-1.3zM309.0 233.1h1.3v4.43h-1.3zM380.1 233.1h1.3v4.43h-1.3zM388.0 233.1h1.3v4.43h-1.3zM391.9 233.1h1.3v4.43h-1.3zM407.7 233.1h1.3v4.43h-1.3zM414.3 233.1h1.3v4.43h-1.3zM110.4 237.5h1.3v4.43h-1.3zM149.8 237.5h1.3v4.43h-1.3zM182.7 237.5h2.6v4.43h-2.6zM189.3 237.5h1.3v4.43h-1.3zM252.5 237.5h1.3v4.43h-1.3zM272.2 237.5h1.3v4.43h-1.3zM285.3 237.5h1.3v4.43h-1.3zM289.3 237.5h1.3v4.43h-1.3zM313.0 237.5h1.3v4.43h-1.3zM345.9 237.5h1.3v4.43h-1.3zM161.7 242.0h2.6v4.43h-2.6zM186.7 242.0h1.3v4.43h-1.3zM190.6 242.0h1.3v4.43h-1.3zM285.3 242.0h1.3v4.43h-1.3zM289.3 242.0h1.3v4.43h-1.3zM303.8 242.0h1.3v4.43h-1.3zM310.3 242.0h1.3v4.43h-1.3zM314.3 242.0h1.3v4.43h-1.3zM351.1 242.0h1.3v4.43h-1.3zM377.4 242.0h1.3v4.43h-1.3zM139.3 246.4h1.3v4.43h-1.3zM182.7 246.4h1.3v4.43h-1.3zM223.5 246.4h1.3v4.43h-1.3zM269.6 246.4h1.3v4.43h-1.3zM274.8 246.4h1.3v4.43h-1.3zM282.7 246.4h1.3v4.43h-1.3zM339.3 246.4h1.3v4.43h-1.3zM365.6 246.4h1.3v4.43h-1.3zM386.7 246.4h1.3v4.43h-1.3zM410.3 246.4h1.3v4.43h-1.3zM424.8 246.4h1.3v4.43h-1.3zM56.4 250.8h1.3v4.43h-1.3zM76.2 250.8h1.3v4.43h-1.3zM80.1 250.8h1.3v4.43h-1.3zM84.0 250.8h1.3v4.43h-1.3zM97.2 250.8h1.3v4.43h-1.3zM111.7 250.8h1.3v4.43h-1.3zM153.8 250.8h1.3v4.43h-1.3zM163.0 250.8h1.3v4.43h-1.3zM190.6 250.8h1.3v4.43h-1.3zM209.0 250.8h1.3v4.43h-1.3zM219.6 250.8h1.3v4.43h-1.3zM236.7 250.8h1.3v4.43h-1.3zM301.1 250.8h1.3v4.43h-1.3zM310.3 250.8h1.3v4.43h-1.3zM313.0 250.8h1.3v4.43h-1.3zM41.9 255.3h1.3v4.43h-1.3zM70.9 255.3h1.3v4.43h-1.3zM88.0 255.3h2.6v4.43h-2.6zM111.7 255.3h1.3v4.43h-1.3zM209.0 255.3h2.6v4.43h-2.6zM240.6 255.3h1.3v4.43h-1.3zM295.9 255.3h1.3v4.43h-1.3zM301.1 255.3h1.3v4.43h-1.3zM57.7 259.7h1.3v4.43h-1.3zM88.0 259.7h1.3v4.43h-1.3zM95.9 259.7h1.3v4.43h-1.3zM124.8 259.7h1.3v4.43h-1.3zM145.9 259.7h1.3v4.43h-1.3zM153.8 259.7h1.3v4.43h-1.3zM177.5 259.7h1.3v4.43h-1.3zM186.7 259.7h1.3v4.43h-1.3zM190.6 259.7h1.3v4.43h-1.3zM195.9 259.7h1.3v4.43h-1.3zM201.1 259.7h1.3v4.43h-1.3zM210.4 259.7h1.3v4.43h-1.3zM55.1 264.1h1.3v4.43h-1.3zM144.6 264.1h1.3v4.43h-1.3zM165.6 264.1h1.3v4.43h-1.3zM181.4 264.1h1.3v4.43h-1.3zM214.3 264.1h2.6v4.43h-2.6zM264.3 264.1h1.3v4.43h-1.3zM278.8 264.1h1.3v4.43h-1.3zM295.9 264.1h1.3v4.43h-1.3zM55.1 268.6h1.3v4.43h-1.3zM99.8 268.6h1.3v4.43h-1.3zM107.7 268.6h1.3v4.43h-1.3zM124.8 268.6h1.3v4.43h-1.3zM147.2 268.6h1.3v4.43h-1.3zM177.5 268.6h1.3v4.43h-1.3zM211.7 268.6h1.3v4.43h-1.3zM215.6 268.6h1.3v4.43h-1.3zM223.5 268.6h1.3v4.43h-1.3zM251.1 268.6h1.3v4.43h-1.3zM314.3 268.6h1.3v4.43h-1.3zM324.8 268.6h1.3v4.43h-1.3zM338.0 268.6h1.3v4.43h-1.3zM82.7 273.0h1.3v4.43h-1.3zM97.2 273.0h1.3v4.43h-1.3zM111.7 273.0h1.3v4.43h-1.3zM155.1 273.0h1.3v4.43h-1.3zM177.5 273.0h1.3v4.43h-1.3zM182.7 273.0h1.3v4.43h-1.3zM203.8 273.0h1.3v4.43h-1.3zM211.7 273.0h1.3v4.43h-1.3zM231.4 273.0h1.3v4.43h-1.3zM270.9 273.0h1.3v4.43h-1.3zM374.8 273.0h1.3v4.43h-1.3zM393.2 273.0h1.3v4.43h-1.3zM51.2 277.4h1.3v4.43h-1.3zM66.9 277.4h1.3v4.43h-1.3zM78.8 277.4h1.3v4.43h-1.3zM82.7 277.4h1.3v4.43h-1.3zM165.6 277.4h1.3v4.43h-1.3zM170.9 277.4h1.3v4.43h-1.3zM177.5 277.4h1.3v4.43h-1.3zM273.5 277.4h1.3v4.43h-1.3zM291.9 277.4h1.3v4.43h-1.3zM302.4 277.4h1.3v4.43h-1.3zM309.0 277.4h1.3v4.43h-1.3zM327.4 277.4h1.3v4.43h-1.3zM353.8 277.4h1.3v4.43h-1.3zM48.5 281.8h1.3v4.43h-1.3zM64.3 281.8h1.3v4.43h-1.3zM107.7 281.8h1.3v4.43h-1.3zM128.8 281.8h2.6v4.43h-2.6zM139.3 281.8h1.3v4.43h-1.3zM182.7 281.8h1.3v4.43h-1.3zM199.8 281.8h1.3v4.43h-1.3zM202.5 281.8h1.3v4.43h-1.3zM252.5 281.8h1.3v4.43h-1.3zM332.7 281.8h2.6v4.43h-2.6zM344.6 281.8h1.3v4.43h-1.3zM377.4 281.8h1.3v4.43h-1.3zM384.0 281.8h1.3v4.43h-1.3zM430.1 281.8h1.3v4.43h-1.3zM51.2 286.3h1.3v4.43h-1.3zM78.8 286.3h1.3v4.43h-1.3zM102.5 286.3h1.3v4.43h-1.3zM149.8 286.3h1.3v4.43h-1.3zM165.6 286.3h1.3v4.43h-1.3zM188.0 286.3h1.3v4.43h-1.3zM190.6 286.3h1.3v4.43h-1.3zM201.1 286.3h1.3v4.43h-1.3zM230.1 286.3h1.3v4.43h-1.3zM244.6 286.3h1.3v4.43h-1.3zM253.8 286.3h1.3v4.43h-1.3zM270.9 286.3h1.3v4.43h-1.3zM301.1 286.3h1.3v4.43h-1.3zM313.0 286.3h1.3v4.43h-1.3zM388.0 286.3h1.3v4.43h-1.3zM391.9 286.3h1.3v4.43h-1.3zM69.6 290.7h1.3v4.43h-1.3zM119.6 290.7h1.3v4.43h-1.3zM145.9 290.7h1.3v4.43h-1.3zM148.5 290.7h1.3v4.43h-1.3zM220.9 290.7h1.3v4.43h-1.3zM228.8 290.7h1.3v4.43h-1.3zM234.0 290.7h1.3v4.43h-1.3zM303.8 290.7h1.3v4.43h-1.3zM310.3 290.7h1.3v4.43h-1.3zM314.3 290.7h1.3v4.43h-1.3zM347.2 290.7h1.3v4.43h-1.3zM357.7 290.7h2.6v4.43h-2.6zM369.5 290.7h2.6v4.43h-2.6zM380.1 290.7h1.3v4.43h-1.3zM386.7 290.7h1.3v4.43h-1.3zM401.1 290.7h5.3v4.43h-5.3zM413.0 290.7h1.3v4.43h-1.3zM416.9 290.7h1.3v4.43h-1.3zM420.9 290.7h1.3v4.43h-1.3zM45.9 295.1h1.3v4.43h-1.3zM66.9 295.1h2.6v4.43h-2.6zM111.7 295.1h1.3v4.43h-1.3zM144.6 295.1h1.3v4.43h-1.3zM182.7 295.1h2.6v4.43h-2.6zM209.0 295.1h1.3v4.43h-1.3zM215.6 295.1h1.3v4.43h-1.3zM260.3 295.1h1.3v4.43h-1.3zM290.6 295.1h1.3v4.43h-1.3zM314.3 295.1h1.3v4.43h-1.3zM330.1 295.1h1.3v4.43h-1.3zM336.7 295.1h1.3v4.43h-1.3zM116.9 299.6h1.3v5.93h-1.3zM166.9 299.6h2.6v5.93h-2.6zM248.5 299.6h1.3v5.93h-1.3zM253.8 299.6h1.3v5.93h-1.3zM280.1 299.6h2.6v5.93h-2.6zM318.2 299.6h2.6v5.93h-2.6zM330.1 299.6h1.3v5.93h-1.3z"/>
<path fill="#79c4e6" d="M36.5 45.5h2.8v5.93h-2.8zM56.4 45.5h1.3v5.93h-1.3zM91.9 45.5h1.3v5.93h-1.3zM99.8 45.5h1.3v5.93h-1.3zM103.8 45.5h1.3v5.93h-1.3zM107.7 45.5h2.6v5.93h-2.6zM143.3 45.5h1.3v5.93h-1.3zM155.1 45.5h1.3v5.93h-1.3zM165.6 45.5h1.3v5.93h-1.3zM181.4 45.5h1.3v5.93h-1.3zM251.1 45.5h1.3v5.93h-1.3zM280.1 45.5h1.3v5.93h-1.3zM282.7 45.5h1.3v5.93h-1.3zM288.0 45.5h1.3v5.93h-1.3zM341.9 45.5h1.3v5.93h-1.3zM356.4 45.5h1.3v5.93h-1.3zM373.5 45.5h1.3v5.93h-1.3zM398.5 45.5h1.3v5.93h-1.3zM424.8 45.5h1.3v5.93h-1.3zM78.8 51.4h1.3v4.43h-1.3zM89.3 51.4h1.3v4.43h-1.3zM107.7 51.4h1.3v4.43h-1.3zM110.4 51.4h1.3v4.43h-1.3zM124.8 51.4h1.3v4.43h-1.3zM131.4 51.4h1.3v4.43h-1.3zM155.1 51.4h1.3v4.43h-1.3zM163.0 51.4h1.3v4.43h-1.3zM165.6 51.4h1.3v4.43h-1.3zM170.9 51.4h1.3v4.43h-1.3zM173.5 51.4h1.3v4.43h-1.3zM189.3 51.4h2.6v4.43h-2.6zM195.9 51.4h2.6v4.43h-2.6zM199.8 51.4h1.3v4.43h-1.3zM205.1 51.4h1.3v4.43h-1.3zM209.0 51.4h1.3v4.43h-1.3zM230.1 51.4h1.3v4.43h-1.3zM238.0 51.4h1.3v4.43h-1.3zM243.2 51.4h1.3v4.43h-1.3zM266.9 51.4h1.3v4.43h-1.3zM273.5 51.4h1.3v4.43h-1.3zM291.9 51.4h1.3v4.43h-1.3zM327.4 51.4h1.3v4.43h-1.3zM334.0 51.4h1.3v4.43h-1.3zM391.9 51.4h1.3v4.43h-1.3zM397.2 51.4h1.3v4.43h-1.3zM414.3 51.4h1.3v4.43h-1.3zM428.8 51.4h1.3v4.43h-1.3zM69.6 55.9h1.3v4.43h-1.3zM74.8 55.9h1.3v4.43h-1.3zM97.2 55.9h1.3v4.43h-1.3zM131.4 55.9h1.3v4.43h-1.3zM135.4 55.9h1.3v4.43h-1.3zM145.9 55.9h1.3v4.43h-1.3zM169.6 55.9h1.3v4.43h-1.3zM190.6 55.9h1.3v4.43h-1.3zM220.9 55.9h3.9v4.43h-3.9zM228.8 55.9h2.6v4.43h-2.6zM248.5 55.9h1.3v4.43h-1.3zM251.1 55.9h1.3v4.43h-1.3zM266.9 55.9h1.3v4.43h-1.3zM272.2 55.9h1.3v4.43h-1.3zM281.4 55.9h1.3v4.43h-1.3zM377.4 55.9h1.3v4.43h-1.3zM386.7 55.9h2.6v4.43h-2.6zM424.8 55.9h1.3v4.43h-1.3zM430.1 55.9h1.3v4.43h-1.3zM56.4 60.3h1.3v4.43h-1.3zM80.1 60.3h1.3v4.43h-1.3zM107.7 60.3h1.3v4.43h-1.3zM119.6 60.3h1.3v4.43h-1.3zM130.1 60.3h1.3v4.43h-1.3zM155.1 60.3h1.3v4.43h-1.3zM170.9 60.3h1.3v4.43h-1.3zM188.0 60.3h1.3v4.43h-1.3zM201.1 60.3h1.3v4.43h-1.3zM214.3 60.3h1.3v4.43h-1.3zM231.4 60.3h1.3v4.43h-1.3zM251.1 60.3h1.3v4.43h-1.3zM253.8 60.3h1.3v4.43h-1.3zM277.5 60.3h1.3v4.43h-1.3zM285.3 60.3h1.3v4.43h-1.3zM295.9 60.3h1.3v4.43h-1.3zM314.3 60.3h1.3v4.43h-1.3zM322.2 60.3h1.3v4.43h-1.3zM414.3 60.3h1.3v4.43h-1.3zM85.4 64.7h1.3v4.43h-1.3zM145.9 64.7h1.3v4.43h-1.3zM152.5 64.7h1.3v4.43h-1.3zM159.0 64.7h1.3v4.43h-1.3zM176.1 64.7h1.3v4.43h-1.3zM209.0 64.7h1.3v4.43h-1.3zM213.0 64.7h1.3v4.43h-1.3zM282.7 64.7h1.3v4.43h-1.3zM315.6 64.7h1.3v4.43h-1.3zM370.9 64.7h1.3v4.43h-1.3zM374.8 64.7h1.3v4.43h-1.3zM378.8 64.7h1.3v4.43h-1.3zM426.1 64.7h1.3v4.43h-1.3zM430.1 64.7h1.3v4.43h-1.3zM45.9 69.2h1.3v4.43h-1.3zM89.3 69.2h1.3v4.43h-1.3zM113.0 69.2h1.3v4.43h-1.3zM139.3 69.2h1.3v4.43h-1.3zM145.9 69.2h1.3v4.43h-1.3zM153.8 69.2h1.3v4.43h-1.3zM163.0 69.2h1.3v4.43h-1.3zM172.2 69.2h1.3v4.43h-1.3zM203.8 69.2h2.6v4.43h-2.6zM218.2 69.2h1.3v4.43h-1.3zM220.9 69.2h1.3v4.43h-1.3zM241.9 69.2h1.3v4.43h-1.3zM274.8 69.2h1.3v4.43h-1.3zM295.9 69.2h1.3v4.43h-1.3zM310.3 69.2h1.3v4.43h-1.3zM336.7 69.2h1.3v4.43h-1.3zM48.5 73.6h1.3v4.43h-1.3zM107.7 73.6h1.3v4.43h-1.3zM124.8 73.6h1.3v4.43h-1.3zM147.2 73.6h1.3v4.43h-1.3zM159.0 73.6h1.3v4.43h-1.3zM169.6 73.6h1.3v4.43h-1.3zM173.5 73.6h1.3v4.43h-1.3zM186.7 73.6h1.3v4.43h-1.3zM201.1 73.6h1.3v4.43h-1.3zM210.4 73.6h1.3v4.43h-1.3zM235.3 73.6h1.3v4.43h-1.3zM248.5 73.6h1.3v4.43h-1.3zM252.5 73.6h1.3v4.43h-1.3zM264.3 73.6h1.3v4.43h-1.3zM280.1 73.6h1.3v4.43h-1.3zM310.3 73.6h1.3v4.43h-1.3zM315.6 73.6h1.3v4.43h-1.3zM332.7 73.6h1.3v4.43h-1.3zM372.2 73.6h1.3v4.43h-1.3zM414.3 73.6h1.3v4.43h-1.3zM419.5 73.6h1.3v4.43h-1.3zM73.5 78.0h1.3v4.43h-1.3zM80.1 78.0h1.3v4.43h-1.3zM107.7 78.0h1.3v4.43h-1.3zM111.7 78.0h1.3v4.43h-1.3zM124.8 78.0h1.3v4.43h-1.3zM147.2 78.0h1.3v4.43h-1.3zM173.5 78.0h1.3v4.43h-1.3zM199.8 78.0h1.3v4.43h-1.3zM223.5 78.0h1.3v4.43h-1.3zM235.3 78.0h1.3v4.43h-1.3zM261.7 78.0h1.3v4.43h-1.3zM289.3 78.0h1.3v4.43h-1.3zM334.0 78.0h1.3v4.43h-1.3zM349.8 78.0h1.3v4.43h-1.3zM357.7 78.0h1.3v4.43h-1.3zM365.6 78.0h1.3v4.43h-1.3zM109.0 82.4h1.3v4.43h-1.3zM123.5 82.4h1.3v4.43h-1.3zM153.8 82.4h1.3v4.43h-1.3zM182.7 82.4h1.3v4.43h-1.3zM206.4 82.4h1.3v4.43h-1.3zM224.8 82.4h1.3v4.43h-1.3zM248.5 82.4h1.3v4.43h-1.3zM274.8 82.4h1.3v4.43h-1.3zM285.3 82.4h1.3v4.43h-1.3zM327.4 82.4h2.6v4.43h-2.6zM352.4 82.4h1.3v4.43h-1.3zM357.7 82.4h1.3v4.43h-1.3zM45.9 86.9h1.3v4.43h-1.3zM64.3 86.9h1.3v4.43h-1.3zM77.5 86.9h1.3v4.43h-1.3zM101.2 86.9h1.3v4.43h-1.3zM111.7 86.9h2.6v4.43h-2.6zM116.9 86.9h1.3v4.43h-1.3zM155.1 86.9h1.3v4.43h-1.3zM159.0 86.9h1.3v4.43h-1.3zM172.2 86.9h1.3v4.43h-1.3zM188.0 86.9h1.3v4.43h-1.3zM205.1 86.9h1.3v4.43h-1.3zM248.5 86.9h1.3v4.43h-1.3zM259.0 86.9h1.3v4.43h-1.3zM269.6 86.9h1.3v4.43h-1.3zM301.1 86.9h1.3v4.43h-1.3zM306.4 86.9h1.3v4.43h-1.3zM323.5 86.9h1.3v4.43h-1.3zM328.8 86.9h1.3v4.43h-1.3zM348.5 86.9h1.3v4.43h-1.3zM353.8 86.9h1.3v4.43h-1.3zM360.3 86.9h1.3v4.43h-1.3zM378.8 86.9h1.3v4.43h-1.3zM66.9 91.3h1.3v4.43h-1.3zM76.2 91.3h1.3v4.43h-1.3zM84.0 91.3h1.3v4.43h-1.3zM69.6 95.7h1.3v4.43h-1.3zM82.7 95.7h1.3v4.43h-1.3zM41.9 100.2h1.3v4.43h-1.3zM45.9 100.2h2.6v4.43h-2.6zM49.8 100.2h1.3v4.43h-1.3zM65.6 100.2h1.3v4.43h-1.3zM74.8 100.2h1.3v4.43h-1.3zM49.8 104.6h1.3v4.43h-1.3zM55.1 104.6h1.3v4.43h-1.3zM66.9 104.6h1.3v4.43h-1.3zM70.9 104.6h1.3v4.43h-1.3zM78.8 104.6h1.3v4.43h-1.3zM101.2 104.6h1.3v4.43h-1.3zM131.4 104.6h1.3v4.43h-1.3zM140.6 104.6h1.3v4.43h-1.3zM215.6 104.6h1.3v4.43h-1.3zM322.2 104.6h1.3v4.43h-1.3zM391.9 104.6h1.3v4.43h-1.3zM64.3 109.0h1.3v4.43h-1.3zM78.8 109.0h2.6v4.43h-2.6zM84.0 109.0h1.3v4.43h-1.3zM48.5 113.5h1.3v4.43h-1.3zM81.4 113.5h2.6v4.43h-2.6zM286.7 113.5h1.3v4.43h-1.3zM48.5 117.9h1.3v4.43h-1.3zM73.5 117.9h1.3v4.43h-1.3zM89.3 117.9h1.3v4.43h-1.3zM105.1 117.9h1.3v4.43h-1.3zM202.5 117.9h1.3v4.43h-1.3zM220.9 117.9h1.3v4.43h-1.3zM274.8 117.9h1.3v4.43h-1.3zM349.8 117.9h1.3v4.43h-1.3zM36.5 122.3h2.8v4.43h-2.8zM89.3 122.3h1.3v4.43h-1.3zM124.8 126.8h1.3v4.43h-1.3zM198.5 126.8h1.3v4.43h-1.3zM377.4 126.8h1.3v4.43h-1.3zM64.3 131.2h1.3v4.43h-1.3zM93.3 131.2h1.3v4.43h-1.3zM264.3 131.2h1.3v4.43h-1.3zM280.1 131.2h1.3v4.43h-1.3zM39.3 135.6h1.3v4.43h-1.3zM65.6 135.6h1.3v4.43h-1.3zM55.1 144.5h1.3v4.43h-1.3zM109.0 144.5h1.3v4.43h-1.3zM111.7 144.5h1.3v4.43h-1.3zM239.3 144.5h1.3v4.43h-1.3zM323.5 144.5h1.3v4.43h-1.3zM39.3 148.9h1.3v4.43h-1.3zM44.6 148.9h1.3v4.43h-1.3zM65.6 148.9h1.3v4.43h-1.3zM74.8 148.9h1.3v4.43h-1.3zM66.9 157.8h1.3v4.43h-1.3zM78.8 171.1h1.3v4.43h-1.3zM140.6 171.1h1.3v4.43h-1.3zM152.5 171.1h1.3v4.43h-1.3zM159.0 171.1h1.3v4.43h-1.3zM165.6 171.1h2.6v4.43h-2.6zM178.8 171.1h1.3v4.43h-1.3zM193.2 171.1h1.3v4.43h-1.3zM219.6 171.1h1.3v4.43h-1.3zM273.5 171.1h1.3v4.43h-1.3zM278.8 171.1h1.3v4.43h-1.3zM289.3 171.1h1.3v4.43h-1.3zM309.0 171.1h1.3v4.43h-1.3zM330.1 171.1h1.3v4.43h-1.3zM341.9 171.1h1.3v4.43h-1.3zM369.5 171.1h1.3v4.43h-1.3zM388.0 171.1h1.3v4.43h-1.3zM422.2 171.1h1.3v4.43h-1.3zM424.8 171.1h1.3v4.43h-1.3zM427.4 171.1h1.3v4.43h-1.3zM64.3 175.5h1.3v4.43h-1.3zM70.9 175.5h1.3v4.43h-1.3zM97.2 175.5h1.3v4.43h-1.3zM140.6 175.5h1.3v4.43h-1.3zM147.2 175.5h1.3v4.43h-1.3zM149.8 175.5h1.3v4.43h-1.3zM155.1 175.5h1.3v4.43h-1.3zM166.9 175.5h1.3v4.43h-1.3zM197.2 175.5h1.3v4.43h-1.3zM244.6 175.5h1.3v4.43h-1.3zM255.1 175.5h1.3v4.43h-1.3zM310.3 175.5h1.3v4.43h-1.3zM324.8 175.5h1.3v4.43h-1.3zM330.1 175.5h1.3v4.43h-1.3zM338.0 175.5h2.6v4.43h-2.6zM47.2 179.9h1.3v4.43h-1.3zM51.2 179.9h1.3v4.43h-1.3zM55.1 179.9h1.3v4.43h-1.3zM69.6 179.9h1.3v4.43h-1.3zM97.2 179.9h1.3v4.43h-1.3zM111.7 179.9h1.3v4.43h-1.3zM128.8 179.9h1.3v4.43h-1.3zM147.2 179.9h1.3v4.43h-1.3zM159.0 179.9h1.3v4.43h-1.3zM163.0 179.9h1.3v4.43h-1.3zM193.2 179.9h1.3v4.43h-1.3zM235.3 179.9h1.3v4.43h-1.3zM255.1 179.9h1.3v4.43h-1.3zM272.2 179.9h1.3v4.43h-1.3zM282.7 179.9h1.3v4.43h-1.3zM310.3 179.9h1.3v4.43h-1.3zM323.5 179.9h1.3v4.43h-1.3zM349.8 179.9h1.3v4.43h-1.3zM359.0 179.9h1.3v4.43h-1.3zM378.8 179.9h1.3v4.43h-1.3zM384.0 179.9h1.3v4.43h-1.3zM414.3 179.9h1.3v4.43h-1.3zM57.7 184.4h1.3v4.43h-1.3zM70.9 184.4h1.3v4.43h-1.3zM124.8 184.4h1.3v4.43h-1.3zM177.5 184.4h1.3v4.43h-1.3zM189.3 184.4h2.6v4.43h-2.6zM199.8 184.4h1.3v4.43h-1.3zM214.3 184.4h1.3v4.43h-1.3zM235.3 184.4h1.3v4.43h-1.3zM255.1 184.4h1.3v4.43h-1.3zM259.0 184.4h1.3v4.43h-1.3zM280.1 184.4h1.3v4.43h-1.3zM322.2 184.4h1.3v4.43h-1.3zM328.8 184.4h1.3v4.43h-1.3zM332.7 184.4h1.3v4.43h-1.3zM338.0 184.4h1.3v4.43h-1.3zM357.7 184.4h1.3v4.43h-1.3zM365.6 184.4h1.3v4.43h-1.3zM56.4 188.8h1.3v4.43h-1.3zM76.2 188.8h1.3v4.43h-1.3zM80.1 188.8h1.3v4.43h-1.3zM124.8 188.8h1.3v4.43h-1.3zM173.5 188.8h1.3v4.43h-1.3zM177.5 188.8h1.3v4.43h-1.3zM193.2 188.8h1.3v4.43h-1.3zM213.0 188.8h1.3v4.43h-1.3zM234.0 188.8h1.3v4.43h-1.3zM239.3 188.8h1.3v4.43h-1.3zM243.2 188.8h1.3v4.43h-1.3zM289.3 188.8h1.3v4.43h-1.3zM310.3 188.8h1.3v4.43h-1.3zM357.7 188.8h1.3v4.43h-1.3zM47.2 193.2h1.3v4.43h-1.3zM93.3 193.2h1.3v4.43h-1.3zM110.4 193.2h1.3v4.43h-1.3zM140.6 193.2h1.3v4.43h-1.3zM168.3 193.2h1.3v4.43h-1.3zM181.4 193.2h1.3v4.43h-1.3zM228.8 193.2h1.3v4.43h-1.3zM261.7 193.2h1.3v4.43h-1.3zM266.9 193.2h1.3v4.43h-1.3zM269.6 193.2h1.3v4.43h-1.3zM280.1 193.2h1.3v4.43h-1.3zM291.9 193.2h1.3v4.43h-1.3zM313.0 193.2h1.3v4.43h-1.3zM339.3 193.2h1.3v4.43h-1.3zM356.4 193.2h1.3v4.43h-1.3zM374.8 193.2h1.3v4.43h-1.3zM378.8 193.2h1.3v4.43h-1.3zM382.7 193.2h1.3v4.43h-1.3zM388.0 193.2h1.3v4.43h-1.3zM41.9 197.7h1.3v4.43h-1.3zM128.8 197.7h1.3v4.43h-1.3zM145.9 197.7h1.3v4.43h-1.3zM148.5 197.7h1.3v4.43h-1.3zM159.0 197.7h1.3v4.43h-1.3zM335.3 197.7h1.3v4.43h-1.3zM338.0 197.7h1.3v4.43h-1.3zM370.9 197.7h1.3v4.43h-1.3zM374.8 197.7h1.3v4.43h-1.3zM56.4 202.1h1.3v4.43h-1.3zM74.8 202.1h1.3v4.43h-1.3zM89.3 202.1h2.6v4.43h-2.6zM97.2 202.1h1.3v4.43h-1.3zM103.8 202.1h2.6v4.43h-2.6zM116.9 202.1h1.3v4.43h-1.3zM130.1 202.1h1.3v4.43h-1.3zM152.5 202.1h1.3v4.43h-1.3zM159.0 202.1h1.3v4.43h-1.3zM188.0 202.1h1.3v4.43h-1.3zM190.6 202.1h1.3v4.43h-1.3zM264.3 202.1h1.3v4.43h-1.3zM288.0 202.1h1.3v4.43h-1.3zM313.0 202.1h1.3v4.43h-1.3zM414.3 202.1h1.3v4.43h-1.3zM65.6 206.5h1.3v4.43h-1.3zM70.9 206.5h1.3v4.43h-1.3zM119.6 206.5h1.3v4.43h-1.3zM124.8 206.5h1.3v4.43h-1.3zM155.1 206.5h1.3v4.43h-1.3zM178.8 206.5h1.3v4.43h-1.3zM272.2 206.5h1.3v4.43h-1.3zM303.8 206.5h1.3v4.43h-1.3zM335.3 206.5h1.3v4.43h-1.3zM338.0 206.5h1.3v4.43h-1.3zM65.6 210.9h1.3v4.43h-1.3zM93.3 210.9h1.3v4.43h-1.3zM130.1 210.9h1.3v4.43h-1.3zM181.4 210.9h1.3v4.43h-1.3zM188.0 210.9h1.3v4.43h-1.3zM209.0 210.9h1.3v4.43h-1.3zM244.6 210.9h1.3v4.43h-1.3zM270.9 210.9h1.3v4.43h-1.3zM276.1 210.9h1.3v4.43h-1.3zM281.4 210.9h1.3v4.43h-1.3zM309.0 210.9h2.6v4.43h-2.6zM330.1 210.9h1.3v4.43h-1.3zM339.3 210.9h1.3v4.43h-1.3zM351.1 210.9h1.3v4.43h-1.3zM382.7 210.9h1.3v4.43h-1.3zM399.8 210.9h1.3v4.43h-1.3zM144.6 215.4h1.3v4.43h-1.3zM147.2 215.4h1.3v4.43h-1.3zM155.1 215.4h1.3v4.43h-1.3zM188.0 215.4h1.3v4.43h-1.3zM206.4 215.4h2.6v4.43h-2.6zM214.3 215.4h1.3v4.43h-1.3zM224.8 215.4h1.3v4.43h-1.3zM257.7 215.4h1.3v4.43h-1.3zM266.9 215.4h1.3v4.43h-1.3zM289.3 215.4h1.3v4.43h-1.3zM301.1 215.4h1.3v4.43h-1.3zM374.8 215.4h1.3v4.43h-1.3zM428.8 215.4h1.3v4.43h-1.3zM110.4 219.8h1.3v4.43h-1.3zM128.8 219.8h1.3v4.43h-1.3zM155.1 219.8h1.3v4.43h-1.3zM169.6 219.8h1.3v4.43h-1.3zM218.2 219.8h1.3v4.43h-1.3zM238.0 219.8h1.3v4.43h-1.3zM243.2 219.8h1.3v4.43h-1.3zM255.1 219.8h1.3v4.43h-1.3zM273.5 219.8h2.6v4.43h-2.6zM282.7 219.8h1.3v4.43h-1.3zM318.2 219.8h1.3v4.43h-1.3zM356.4 219.8h1.3v4.43h-1.3zM368.2 219.8h1.3v4.43h-1.3zM382.7 219.8h1.3v4.43h-1.3zM389.3 219.8h1.3v4.43h-1.3zM398.5 219.8h1.3v4.43h-1.3zM423.5 219.8h1.3v4.43h-1.3zM81.4 224.2h1.3v4.43h-1.3zM90.6 224.2h1.3v4.43h-1.3zM111.7 224.2h1.3v4.43h-1.3zM130.1 224.2h1.3v4.43h-1.3zM148.5 224.2h2.6v4.43h-2.6zM165.6 224.2h1.3v4.43h-1.3zM168.3 224.2h1.3v4.43h-1.3zM181.4 224.2h2.6v4.43h-2.6zM199.8 224.2h1.3v4.43h-1.3zM209.0 224.2h1.3v4.43h-1.3zM215.6 224.2h1.3v4.43h-1.3zM220.9 224.2h1.3v4.43h-1.3zM238.0 224.2h1.3v4.43h-1.3zM288.0 224.2h1.3v4.43h-1.3zM291.9 224.2h1.3v4.43h-1.3zM314.3 224.2h2.6v4.43h-2.6zM331.4 224.2h1.3v4.43h-1.3zM344.6 224.2h1.3v4.43h-1.3zM351.1 224.2h1.3v4.43h-1.3zM422.2 224.2h1.3v4.43h-1.3zM427.4 224.2h1.3v4.43h-1.3zM73.5 228.7h2.6v4.43h-2.6zM123.5 228.7h1.3v4.43h-1.3zM177.5 228.7h1.3v4.43h-1.3zM182.7 228.7h1.3v4.43h-1.3zM190.6 228.7h1.3v4.43h-1.3zM209.0 228.7h1.3v4.43h-1.3zM224.8 228.7h1.3v4.43h-1.3zM230.1 228.7h1.3v4.43h-1.3zM238.0 228.7h1.3v4.43h-1.3zM330.1 228.7h1.3v4.43h-1.3zM384.0 228.7h1.3v4.43h-1.3zM430.1 228.7h1.3v4.43h-1.3zM139.3 233.1h1.3v4.43h-1.3zM152.5 233.1h1.3v4.43h-1.3zM170.9 233.1h1.3v4.43h-1.3zM173.5 233.1h1.3v4.43h-1.3zM198.5 233.1h1.3v4.43h-1.3zM214.3 233.1h1.3v4.43h-1.3zM228.8 233.1h1.3v4.43h-1.3zM251.1 233.1h2.6v4.43h-2.6zM259.0 233.1h1.3v4.43h-1.3zM261.7 233.1h1.3v4.43h-1.3zM280.1 233.1h1.3v4.43h-1.3zM291.9 233.1h1.3v4.43h-1.3zM295.9 233.1h1.3v4.43h-1.3zM323.5 233.1h1.3v4.43h-1.3zM423.5 233.1h2.6v4.43h-2.6zM128.8 237.5h1.3v4.43h-1.3zM148.5 237.5h1.3v4.43h-1.3zM165.6 237.5h1.3v4.43h-1.3zM170.9 237.5h1.3v4.43h-1.3zM190.6 237.5h1.3v4.43h-1.3zM99.8 242.0h1.3v4.43h-1.3zM124.8 242.0h1.3v4.43h-1.3zM202.5 242.0h1.3v4.43h-1.3zM219.6 242.0h1.3v4.43h-1.3zM255.1 242.0h1.3v4.43h-1.3zM348.5 242.0h1.3v4.43h-1.3zM356.4 242.0h1.3v4.43h-1.3zM360.3 242.0h1.3v4.43h-1.3zM374.8 242.0h1.3v4.43h-1.3zM124.8 246.4h1.3v4.43h-1.3zM130.1 246.4h1.3v4.43h-1.3zM172.2 246.4h2.6v4.43h-2.6zM218.2 246.4h1.3v4.43h-1.3zM220.9 246.4h1.3v4.43h-1.3zM255.1 246.4h1.3v4.43h-1.3zM301.1 246.4h1.3v4.43h-1.3zM303.8 246.4h1.3v4.43h-1.3zM306.4 246.4h1.3v4.43h-1.3zM110.4 250.8h1.3v4.43h-1.3zM131.4 250.8h1.3v4.43h-1.3zM145.9 250.8h1.3v4.43h-1.3zM159.0 250.8h1.3v4.43h-1.3zM173.5 250.8h1.3v4.43h-1.3zM178.8 250.8h1.3v4.43h-1.3zM182.7 250.8h1.3v4.43h-1.3zM193.2 250.8h1.3v4.43h-1.3zM214.3 250.8h1.3v4.43h-1.3zM238.0 250.8h1.3v4.43h-1.3zM253.8 250.8h1.3v4.43h-1.3zM261.7 250.8h1.3v4.43h-1.3zM291.9 250.8h1.3v4.43h-1.3zM295.9 250.8h1.3v4.43h-1.3zM52.5 255.3h1.3v4.43h-1.3zM64.3 255.3h1.3v4.43h-1.3zM73.5 255.3h1.3v4.43h-1.3zM95.9 255.3h1.3v4.43h-1.3zM153.8 255.3h1.3v4.43h-1.3zM172.2 255.3h2.6v4.43h-2.6zM182.7 255.3h1.3v4.43h-1.3zM193.2 255.3h1.3v4.43h-1.3zM199.8 255.3h1.3v4.43h-1.3zM239.3 255.3h1.3v4.43h-1.3zM266.9 255.3h1.3v4.43h-1.3zM290.6 255.3h1.3v4.43h-1.3zM324.8 255.3h1.3v4.43h-1.3zM338.0 255.3h1.3v4.43h-1.3zM51.2 259.7h1.3v4.43h-1.3zM89.3 259.7h1.3v4.43h-1.3zM93.3 259.7h1.3v4.43h-1.3zM139.3 259.7h1.3v4.43h-1.3zM155.1 259.7h1.3v4.43h-1.3zM170.9 259.7h1.3v4.43h-1.3zM193.2 259.7h1.3v4.43h-1.3zM214.3 259.7h1.3v4.43h-1.3zM231.4 259.7h1.3v4.43h-1.3zM235.3 259.7h1.3v4.43h-1.3zM252.5 259.7h1.3v4.43h-1.3zM295.9 259.7h1.3v4.43h-1.3zM313.0 259.7h1.3v4.43h-1.3zM315.6 259.7h1.3v4.43h-1.3zM335.3 259.7h1.3v4.43h-1.3zM365.6 259.7h1.3v4.43h-1.3zM376.1 259.7h1.3v4.43h-1.3zM386.7 259.7h1.3v4.43h-1.3zM394.5 259.7h1.3v4.43h-1.3zM418.2 259.7h1.3v4.43h-1.3zM76.2 264.1h1.3v4.43h-1.3zM91.9 264.1h1.3v4.43h-1.3zM163.0 264.1h1.3v4.43h-1.3zM177.5 264.1h1.3v4.43h-1.3zM193.2 264.1h1.3v4.43h-1.3zM207.7 264.1h1.3v4.43h-1.3zM213.0 264.1h1.3v4.43h-1.3zM253.8 264.1h2.6v4.43h-2.6zM285.3 264.1h2.6v4.43h-2.6zM319.6 264.1h1.3v4.43h-1.3zM322.2 264.1h1.3v4.43h-1.3zM330.1 264.1h1.3v4.43h-1.3zM339.3 264.1h1.3v4.43h-1.3zM41.9 268.6h1.3v4.43h-1.3zM49.8 268.6h1.3v4.43h-1.3zM63.0 268.6h1.3v4.43h-1.3zM89.3 268.6h1.3v4.43h-1.3zM130.1 268.6h1.3v4.43h-1.3zM140.6 268.6h1.3v4.43h-1.3zM161.7 268.6h2.6v4.43h-2.6zM181.4 268.6h1.3v4.43h-1.3zM190.6 268.6h1.3v4.43h-1.3zM193.2 268.6h1.3v4.43h-1.3zM203.8 268.6h1.3v4.43h-1.3zM214.3 268.6h1.3v4.43h-1.3zM218.2 268.6h1.3v4.43h-1.3zM255.1 268.6h1.3v4.43h-1.3zM257.7 268.6h1.3v4.43h-1.3zM274.8 268.6h1.3v4.43h-1.3zM310.3 268.6h1.3v4.43h-1.3zM70.9 273.0h1.3v4.43h-1.3zM116.9 273.0h1.3v4.43h-1.3zM176.1 273.0h1.3v4.43h-1.3zM214.3 273.0h1.3v4.43h-1.3zM239.3 273.0h1.3v4.43h-1.3zM255.1 273.0h1.3v4.43h-1.3zM259.0 273.0h1.3v4.43h-1.3zM278.8 273.0h1.3v4.43h-1.3zM282.7 273.0h1.3v4.43h-1.3zM291.9 273.0h1.3v4.43h-1.3zM297.2 273.0h1.3v4.43h-1.3zM310.3 273.0h1.3v4.43h-1.3zM314.3 273.0h1.3v4.43h-1.3zM357.7 273.0h1.3v4.43h-1.3zM405.1 273.0h1.3v4.43h-1.3zM424.8 273.0h1.3v4.43h-1.3zM430.1 273.0h1.3v4.43h-1.3zM195.9 277.4h1.3v4.43h-1.3zM231.4 277.4h1.3v4.43h-1.3zM252.5 277.4h1.3v4.43h-1.3zM303.8 277.4h1.3v4.43h-1.3zM313.0 277.4h1.3v4.43h-1.3zM324.8 277.4h1.3v4.43h-1.3zM355.1 277.4h1.3v4.43h-1.3zM357.7 277.4h1.3v4.43h-1.3zM369.5 277.4h1.3v4.43h-1.3zM388.0 277.4h1.3v4.43h-1.3zM415.6 277.4h1.3v4.43h-1.3zM135.4 281.8h1.3v4.43h-1.3zM201.1 281.8h1.3v4.43h-1.3zM214.3 281.8h1.3v4.43h-1.3zM216.9 281.8h1.3v4.43h-1.3zM232.7 281.8h1.3v4.43h-1.3zM280.1 281.8h1.3v4.43h-1.3zM295.9 281.8h1.3v4.43h-1.3zM338.0 281.8h1.3v4.43h-1.3zM370.9 281.8h1.3v4.43h-1.3zM388.0 281.8h1.3v4.43h-1.3zM390.6 281.8h2.6v4.43h-2.6zM398.5 281.8h1.3v4.43h-1.3zM49.8 286.3h1.3v4.43h-1.3zM109.0 286.3h1.3v4.43h-1.3zM153.8 286.3h1.3v4.43h-1.3zM215.6 286.3h1.3v4.43h-1.3zM234.0 286.3h1.3v4.43h-1.3zM248.5 286.3h1.3v4.43h-1.3zM259.0 286.3h1.3v4.43h-1.3zM328.8 286.3h1.3v4.43h-1.3zM348.5 286.3h1.3v4.43h-1.3zM365.6 286.3h1.3v4.43h-1.3zM105.1 290.7h1.3v4.43h-1.3zM107.7 290.7h1.3v4.43h-1.3zM113.0 290.7h1.3v4.43h-1.3zM163.0 290.7h1.3v4.43h-1.3zM166.9 290.7h1.3v4.43h-1.3zM177.5 290.7h1.3v4.43h-1.3zM186.7 290.7h1.3v4.43h-1.3zM277.5 290.7h2.6v4.43h-2.6zM282.7 290.7h1.3v4.43h-1.3zM327.4 290.7h2.6v4.43h-2.6zM74.8 295.1h1.3v4.43h-1.3zM77.5 295.1h1.3v4.43h-1.3zM107.7 295.1h1.3v4.43h-1.3zM128.8 295.1h1.3v4.43h-1.3zM178.8 295.1h1.3v4.43h-1.3zM190.6 295.1h1.3v4.43h-1.3zM199.8 295.1h1.3v4.43h-1.3zM205.1 295.1h1.3v4.43h-1.3zM261.7 295.1h1.3v4.43h-1.3zM266.9 295.1h1.3v4.43h-1.3zM313.0 295.1h1.3v4.43h-1.3zM334.0 295.1h1.3v4.43h-1.3zM39.3 299.6h1.3v5.93h-1.3zM84.0 299.6h1.3v5.93h-1.3zM89.3 299.6h1.3v5.93h-1.3zM135.4 299.6h1.3v5.93h-1.3zM163.0 299.6h1.3v5.93h-1.3zM177.5 299.6h1.3v5.93h-1.3zM198.5 299.6h1.3v5.93h-1.3zM202.5 299.6h1.3v5.93h-1.3zM214.3 299.6h2.6v5.93h-2.6zM252.5 299.6h1.3v5.93h-1.3zM276.1 299.6h1.3v5.93h-1.3zM302.4 299.6h1.3v5.93h-1.3zM314.3 299.6h1.3v5.93h-1.3z"/>
<path fill="#81c9e8" d="M40.6 45.5h1.3v5.93h-1.3zM47.2 45.5h1.3v5.93h-1.3zM70.9 45.5h1.3v5.93h-1.3zM131.4 45.5h1.3v5.93h-1.3zM139.3 45.5h1.3v5.93h-1.3zM184.0 45.5h1.3v5.93h-1.3zM202.5 45.5h1.3v5.93h-1.3zM235.3 45.5h1.3v5.93h-1.3zM238.0 45.5h1.3v5.93h-1.3zM244.6 45.5h1.3v5.93h-1.3zM295.9 45.5h1.3v5.93h-1.3zM302.4 45.5h2.6v5.93h-2.6zM310.3 45.5h1.3v5.93h-1.3zM91.9 51.4h2.6v4.43h-2.6zM135.4 51.4h1.3v4.43h-1.3zM152.5 51.4h1.3v4.43h-1.3zM186.7 51.4h1.3v4.43h-1.3zM214.3 51.4h1.3v4.43h-1.3zM223.5 51.4h1.3v4.43h-1.3zM272.2 51.4h1.3v4.43h-1.3zM276.1 51.4h1.3v4.43h-1.3zM319.6 51.4h1.3v4.43h-1.3zM324.8 51.4h1.3v4.43h-1.3zM328.8 51.4h1.3v4.43h-1.3zM349.8 51.4h1.3v4.43h-1.3zM380.1 51.4h1.3v4.43h-1.3zM389.3 51.4h1.3v4.43h-1.3zM393.2 51.4h1.3v4.43h-1.3zM430.1 51.4h1.3v4.43h-1.3zM48.5 55.9h1.3v4.43h-1.3zM66.9 55.9h1.3v4.43h-1.3zM82.7 55.9h1.3v4.43h-1.3zM99.8 55.9h1.3v4.43h-1.3zM105.1 55.9h1.3v4.43h-1.3zM149.8 55.9h1.3v4.43h-1.3zM153.8 55.9h1.3v4.43h-1.3zM176.1 55.9h1.3v4.43h-1.3zM207.7 55.9h1.3v4.43h-1.3zM215.6 55.9h1.3v4.43h-1.3zM243.2 55.9h1.3v4.43h-1.3zM270.9 55.9h1.3v4.43h-1.3zM273.5 55.9h1.3v4.43h-1.3zM278.8 55.9h1.3v4.43h-1.3zM334.0 55.9h1.3v4.43h-1.3zM40.6 60.3h1.3v4.43h-1.3zM47.2 60.3h1.3v4.43h-1.3zM57.7 60.3h1.3v4.43h-1.3zM81.4 60.3h1.3v4.43h-1.3zM101.2 60.3h1.3v4.43h-1.3zM109.0 60.3h1.3v4.43h-1.3zM111.7 60.3h2.6v4.43h-2.6zM135.4 60.3h1.3v4.43h-1.3zM143.3 60.3h2.6v4.43h-2.6zM149.8 60.3h1.3v4.43h-1.3zM152.5 60.3h1.3v4.43h-1.3zM163.0 60.3h1.3v4.43h-1.3zM197.2 60.3h1.3v4.43h-1.3zM219.6 60.3h1.3v4.43h-1.3zM244.6 60.3h1.3v4.43h-1.3zM319.6 60.3h1.3v4.43h-1.3zM45.9 64.7h1.3v4.43h-1.3zM69.6 64.7h1.3v4.43h-1.3zM72.2 64.7h1.3v4.43h-1.3zM76.2 64.7h1.3v4.43h-1.3zM84.0 64.7h1.3v4.43h-1.3zM95.9 64.7h1.3v4.43h-1.3zM130.1 64.7h1.3v4.43h-1.3zM153.8 64.7h1.3v4.43h-1.3zM177.5 64.7h1.3v4.43h-1.3zM182.7 64.7h1.3v4.43h-1.3zM205.1 64.7h1.3v4.43h-1.3zM223.5 64.7h2.6v4.43h-2.6zM255.1 64.7h1.3v4.43h-1.3zM274.8 64.7h1.3v4.43h-1.3zM295.9 64.7h1.3v4.43h-1.3zM389.3 64.7h1.3v4.43h-1.3zM39.3 69.2h1.3v4.43h-1.3zM43.3 69.2h1.3v4.43h-1.3zM66.9 69.2h1.3v4.43h-1.3zM70.9 69.2h1.3v4.43h-1.3zM73.5 69.2h1.3v4.43h-1.3zM107.7 69.2h1.3v4.43h-1.3zM111.7 69.2h1.3v4.43h-1.3zM182.7 69.2h1.3v4.43h-1.3zM56.4 73.6h1.3v4.43h-1.3zM105.1 73.6h1.3v4.43h-1.3zM110.4 73.6h1.3v4.43h-1.3zM123.5 73.6h1.3v4.43h-1.3zM135.4 73.6h1.3v4.43h-1.3zM139.3 73.6h1.3v4.43h-1.3zM152.5 73.6h1.3v4.43h-1.3zM214.3 73.6h2.6v4.43h-2.6zM238.0 73.6h1.3v4.43h-1.3zM241.9 73.6h2.6v4.43h-2.6zM247.2 73.6h1.3v4.43h-1.3zM260.3 73.6h1.3v4.43h-1.3zM338.0 73.6h1.3v4.43h-1.3zM39.3 78.0h1.3v4.43h-1.3zM41.9 78.0h1.3v4.43h-1.3zM93.3 78.0h1.3v4.43h-1.3zM109.0 78.0h1.3v4.43h-1.3zM113.0 78.0h1.3v4.43h-1.3zM140.6 78.0h1.3v4.43h-1.3zM149.8 78.0h1.3v4.43h-1.3zM152.5 78.0h1.3v4.43h-1.3zM163.0 78.0h1.3v4.43h-1.3zM169.6 78.0h1.3v4.43h-1.3zM193.2 78.0h1.3v4.43h-1.3zM197.2 78.0h1.3v4.43h-1.3zM213.0 78.0h1.3v4.43h-1.3zM236.7 78.0h2.6v4.43h-2.6zM266.9 78.0h1.3v4.43h-1.3zM272.2 78.0h1.3v4.43h-1.3zM280.1 78.0h1.3v4.43h-1.3zM314.3 78.0h2.6v4.43h-2.6zM330.1 78.0h1.3v4.43h-1.3zM338.0 78.0h1.3v4.43h-1.3zM345.9 78.0h1.3v4.43h-1.3zM356.4 78.0h1.3v4.43h-1.3zM370.9 78.0h1.3v4.43h-1.3zM374.8 78.0h1.3v4.43h-1.3zM393.2 78.0h1.3v4.43h-1.3zM47.2 82.4h1.3v4.43h-1.3zM73.5 82.4h1.3v4.43h-1.3zM81.4 82.4h1.3v4.43h-1.3zM91.9 82.4h2.6v4.43h-2.6zM111.7 82.4h1.3v4.43h-1.3zM140.6 82.4h1.3v4.43h-1.3zM144.6 82.4h1.3v4.43h-1.3zM163.0 82.4h1.3v4.43h-1.3zM169.6 82.4h1.3v4.43h-1.3zM205.1 82.4h1.3v4.43h-1.3zM228.8 82.4h1.3v4.43h-1.3zM313.0 82.4h1.3v4.43h-1.3zM47.2 86.9h2.6v4.43h-2.6zM91.9 86.9h1.3v4.43h-1.3zM186.7 86.9h1.3v4.43h-1.3zM195.9 86.9h1.3v4.43h-1.3zM198.5 86.9h1.3v4.43h-1.3zM202.5 86.9h1.3v4.43h-1.3zM235.3 86.9h1.3v4.43h-1.3zM240.6 86.9h1.3v4.43h-1.3zM261.7 86.9h1.3v4.43h-1.3zM264.3 86.9h1.3v4.43h-1.3zM266.9 86.9h1.3v4.43h-1.3zM282.7 86.9h1.3v4.43h-1.3zM286.7 86.9h1.3v4.43h-1.3zM289.3 86.9h1.3v4.43h-1.3zM327.4 86.9h1.3v4.43h-1.3zM419.5 86.9h1.3v4.43h-1.3zM39.3 91.3h1.3v4.43h-1.3zM51.2 91.3h1.3v4.43h-1.3zM69.6 91.3h1.3v4.43h-1.3zM82.7 91.3h1.3v4.43h-1.3zM64.3 95.7h1.3v4.43h-1.3zM77.5 95.7h2.6v4.43h-2.6zM48.5 100.2h1.3v4.43h-1.3zM55.1 100.2h1.3v4.43h-1.3zM36.5 104.6h2.8v4.43h-2.8zM57.7 104.6h1.3v4.43h-1.3zM64.3 104.6h1.3v4.43h-1.3zM47.2 109.0h1.3v4.43h-1.3zM76.2 109.0h1.3v4.43h-1.3zM39.3 113.5h1.3v4.43h-1.3zM57.7 113.5h1.3v4.43h-1.3zM64.3 113.5h1.3v4.43h-1.3zM73.5 113.5h1.3v4.43h-1.3zM51.2 117.9h1.3v4.43h-1.3zM55.1 117.9h2.6v4.43h-2.6zM66.9 117.9h1.3v4.43h-1.3zM45.9 122.3h1.3v4.43h-1.3zM48.5 126.8h1.3v4.43h-1.3zM48.5 131.2h1.3v4.43h-1.3zM74.8 131.2h1.3v4.43h-1.3zM40.6 135.6h1.3v4.43h-1.3zM44.6 135.6h2.6v4.43h-2.6zM55.1 135.6h1.3v4.43h-1.3zM81.4 135.6h1.3v4.43h-1.3zM85.4 135.6h1.3v4.43h-1.3zM55.1 140.1h1.3v4.43h-1.3zM66.9 140.1h1.3v4.43h-1.3zM74.8 140.1h1.3v4.43h-1.3zM88.0 140.1h1.3v4.43h-1.3zM76.2 144.5h1.3v4.43h-1.3zM93.3 144.5h1.3v4.43h-1.3zM51.2 148.9h1.3v4.43h-1.3zM89.3 148.9h1.3v4.43h-1.3zM36.5 153.3h2.8v4.43h-2.8zM49.8 153.3h1.3v4.43h-1.3zM52.5 153.3h1.3v4.43h-1.3zM55.1 153.3h1.3v4.43h-1.3zM69.6 153.3h1.3v4.43h-1.3zM47.2 157.8h1.3v4.43h-1.3zM123.5 171.1h1.3v4.43h-1.3zM147.2 171.1h1.3v4.43h-1.3zM149.8 171.1h1.3v4.43h-1.3zM155.1 171.1h1.3v4.43h-1.3zM188.0 171.1h1.3v4.43h-1.3zM224.8 171.1h1.3v4.43h-1.3zM244.6 171.1h1.3v4.43h-1.3zM252.5 171.1h1.3v4.43h-1.3zM259.0 171.1h1.3v4.43h-1.3zM291.9 171.1h1.3v4.43h-1.3zM318.2 171.1h1.3v4.43h-1.3zM336.7 171.1h1.3v4.43h-1.3zM235.3 175.5h1.3v4.43h-1.3zM313.0 175.5h1.3v4.43h-1.3zM73.5 179.9h1.3v4.43h-1.3zM130.1 179.9h2.6v4.43h-2.6zM141.9 179.9h1.3v4.43h-1.3zM144.6 179.9h1.3v4.43h-1.3zM161.7 179.9h1.3v4.43h-1.3zM165.6 179.9h1.3v4.43h-1.3zM188.0 179.9h1.3v4.43h-1.3zM198.5 179.9h2.6v4.43h-2.6zM224.8 179.9h1.3v4.43h-1.3zM261.7 179.9h1.3v4.43h-1.3zM264.3 179.9h1.3v4.43h-1.3zM301.1 179.9h1.3v4.43h-1.3zM426.1 179.9h1.3v4.43h-1.3zM36.5 184.4h2.8v4.43h-2.8zM139.3 184.4h1.3v4.43h-1.3zM166.9 184.4h1.3v4.43h-1.3zM184.0 184.4h1.3v4.43h-1.3zM240.6 184.4h1.3v4.43h-1.3zM247.2 184.4h1.3v4.43h-1.3zM252.5 184.4h1.3v4.43h-1.3zM270.9 184.4h1.3v4.43h-1.3zM318.2 184.4h1.3v4.43h-1.3zM41.9 188.8h1.3v4.43h-1.3zM51.2 188.8h1.3v4.43h-1.3zM91.9 188.8h1.3v4.43h-1.3zM111.7 188.8h1.3v4.43h-1.3zM116.9 188.8h1.3v4.43h-1.3zM149.8 188.8h1.3v4.43h-1.3zM153.8 188.8h1.3v4.43h-1.3zM220.9 188.8h1.3v4.43h-1.3zM238.0 188.8h1.3v4.43h-1.3zM251.1 188.8h3.9v4.43h-3.9zM270.9 188.8h2.6v4.43h-2.6zM285.3 188.8h1.3v4.43h-1.3zM306.4 188.8h1.3v4.43h-1.3zM313.0 188.8h1.3v4.43h-1.3zM356.4 188.8h1.3v4.43h-1.3zM427.4 188.8h1.3v4.43h-1.3zM44.6 193.2h1.3v4.43h-1.3zM48.5 193.2h1.3v4.43h-1.3zM52.5 193.2h1.3v4.43h-1.3zM65.6 193.2h1.3v4.43h-1.3zM107.7 193.2h1.3v4.43h-1.3zM111.7 193.2h1.3v4.43h-1.3zM153.8 193.2h1.3v4.43h-1.3zM165.6 193.2h1.3v4.43h-1.3zM176.1 193.2h1.3v4.43h-1.3zM178.8 193.2h1.3v4.43h-1.3zM198.5 193.2h1.3v4.43h-1.3zM216.9 193.2h1.3v4.43h-1.3zM260.3 193.2h1.3v4.43h-1.3zM264.3 193.2h1.3v4.43h-1.3zM273.5 193.2h1.3v4.43h-1.3zM282.7 193.2h1.3v4.43h-1.3zM318.2 193.2h1.3v4.43h-1.3zM82.7 197.7h1.3v4.43h-1.3zM130.1 197.7h1.3v4.43h-1.3zM181.4 197.7h1.3v4.43h-1.3zM198.5 197.7h1.3v4.43h-1.3zM209.0 197.7h1.3v4.43h-1.3zM244.6 197.7h1.3v4.43h-1.3zM252.5 197.7h1.3v4.43h-1.3zM270.9 197.7h1.3v4.43h-1.3zM276.1 197.7h1.3v4.43h-1.3zM280.1 197.7h1.3v4.43h-1.3zM285.3 197.7h1.3v4.43h-1.3zM318.2 197.7h1.3v4.43h-1.3zM57.7 202.1h1.3v4.43h-1.3zM65.6 202.1h1.3v4.43h-1.3zM111.7 202.1h1.3v4.43h-1.3zM114.3 202.1h1.3v4.43h-1.3zM131.4 202.1h1.3v4.43h-1.3zM173.5 202.1h1.3v4.43h-1.3zM181.4 202.1h1.3v4.43h-1.3zM189.3 202.1h1.3v4.43h-1.3zM274.8 202.1h1.3v4.43h-1.3zM82.7 206.5h1.3v4.43h-1.3zM45.9 210.9h1.3v4.43h-1.3zM49.8 210.9h1.3v4.43h-1.3zM89.3 210.9h1.3v4.43h-1.3zM97.2 210.9h1.3v4.43h-1.3zM105.1 210.9h1.3v4.43h-1.3zM111.7 210.9h1.3v4.43h-1.3zM152.5 210.9h1.3v4.43h-1.3zM166.9 210.9h1.3v4.43h-1.3zM182.7 210.9h1.3v4.43h-1.3zM193.2 210.9h1.3v4.43h-1.3zM206.4 210.9h1.3v4.43h-1.3zM211.7 210.9h1.3v4.43h-1.3zM234.0 210.9h1.3v4.43h-1.3zM248.5 210.9h1.3v4.43h-1.3zM252.5 210.9h1.3v4.43h-1.3zM285.3 210.9h2.6v4.43h-2.6zM289.3 210.9h1.3v4.43h-1.3zM318.2 210.9h1.3v4.43h-1.3zM323.5 210.9h1.3v4.43h-1.3zM334.0 210.9h1.3v4.43h-1.3zM427.4 210.9h1.3v4.43h-1.3zM111.7 215.4h1.3v4.43h-1.3zM116.9 215.4h1.3v4.43h-1.3zM123.5 215.4h2.6v4.43h-2.6zM140.6 215.4h1.3v4.43h-1.3zM213.0 215.4h1.3v4.43h-1.3zM277.5 215.4h1.3v4.43h-1.3zM319.6 215.4h1.3v4.43h-1.3zM390.6 215.4h1.3v4.43h-1.3zM109.0 219.8h1.3v4.43h-1.3zM116.9 219.8h1.3v4.43h-1.3zM124.8 219.8h1.3v4.43h-1.3zM152.5 219.8h1.3v4.43h-1.3zM159.0 219.8h1.3v4.43h-1.3zM163.0 219.8h1.3v4.43h-1.3zM168.3 219.8h1.3v4.43h-1.3zM209.0 219.8h1.3v4.43h-1.3zM219.6 219.8h1.3v4.43h-1.3zM252.5 219.8h1.3v4.43h-1.3zM261.7 219.8h1.3v4.43h-1.3zM264.3 219.8h1.3v4.43h-1.3zM269.6 219.8h1.3v4.43h-1.3zM285.3 219.8h1.3v4.43h-1.3zM302.4 219.8h1.3v4.43h-1.3zM338.0 219.8h1.3v4.43h-1.3zM360.3 219.8h1.3v4.43h-1.3zM376.1 219.8h1.3v4.43h-1.3zM378.8 219.8h1.3v4.43h-1.3zM426.1 219.8h1.3v4.43h-1.3zM70.9 224.2h1.3v4.43h-1.3zM74.8 224.2h1.3v4.43h-1.3zM97.2 224.2h1.3v4.43h-1.3zM145.9 224.2h2.6v4.43h-2.6zM169.6 224.2h1.3v4.43h-1.3zM206.4 224.2h1.3v4.43h-1.3zM224.8 224.2h1.3v4.43h-1.3zM252.5 224.2h1.3v4.43h-1.3zM273.5 224.2h1.3v4.43h-1.3zM278.8 224.2h1.3v4.43h-1.3zM324.8 224.2h1.3v4.43h-1.3zM374.8 224.2h1.3v4.43h-1.3zM45.9 228.7h1.3v4.43h-1.3zM51.2 228.7h1.3v4.43h-1.3zM66.9 228.7h1.3v4.43h-1.3zM89.3 228.7h1.3v4.43h-1.3zM97.2 228.7h1.3v4.43h-1.3zM145.9 228.7h1.3v4.43h-1.3zM159.0 228.7h1.3v4.43h-1.3zM172.2 228.7h1.3v4.43h-1.3zM213.0 228.7h1.3v4.43h-1.3zM222.2 228.7h1.3v4.43h-1.3zM289.3 228.7h1.3v4.43h-1.3zM309.0 228.7h1.3v4.43h-1.3zM318.2 228.7h1.3v4.43h-1.3zM338.0 228.7h1.3v4.43h-1.3zM369.5 228.7h1.3v4.43h-1.3zM374.8 228.7h1.3v4.43h-1.3zM415.6 228.7h1.3v4.43h-1.3zM424.8 228.7h1.3v4.43h-1.3zM97.2 233.1h1.3v4.43h-1.3zM116.9 233.1h1.3v4.43h-1.3zM199.8 233.1h1.3v4.43h-1.3zM211.7 233.1h1.3v4.43h-1.3zM220.9 233.1h1.3v4.43h-1.3zM373.5 233.1h1.3v4.43h-1.3zM163.0 237.5h1.3v4.43h-1.3zM205.1 237.5h1.3v4.43h-1.3zM224.8 237.5h1.3v4.43h-1.3zM105.1 242.0h1.3v4.43h-1.3zM111.7 242.0h1.3v4.43h-1.3zM141.9 242.0h1.3v4.43h-1.3zM103.8 246.4h1.3v4.43h-1.3zM107.7 246.4h1.3v4.43h-1.3zM110.4 246.4h2.6v4.43h-2.6zM131.4 246.4h1.3v4.43h-1.3zM165.6 246.4h1.3v4.43h-1.3zM181.4 246.4h1.3v4.43h-1.3zM215.6 246.4h1.3v4.43h-1.3zM219.6 246.4h1.3v4.43h-1.3zM278.8 246.4h1.3v4.43h-1.3zM288.0 246.4h3.9v4.43h-3.9zM309.0 246.4h1.3v4.43h-1.3zM328.8 246.4h1.3v4.43h-1.3zM338.0 246.4h1.3v4.43h-1.3zM349.8 246.4h1.3v4.43h-1.3zM377.4 246.4h1.3v4.43h-1.3zM107.7 250.8h1.3v4.43h-1.3zM170.9 250.8h1.3v4.43h-1.3zM186.7 250.8h1.3v4.43h-1.3zM201.1 250.8h1.3v4.43h-1.3zM205.1 250.8h1.3v4.43h-1.3zM215.6 250.8h1.3v4.43h-1.3zM220.9 250.8h1.3v4.43h-1.3zM235.3 250.8h1.3v4.43h-1.3zM257.7 250.8h1.3v4.43h-1.3zM56.4 255.3h1.3v4.43h-1.3zM97.2 255.3h1.3v4.43h-1.3zM130.1 255.3h1.3v4.43h-1.3zM136.7 255.3h1.3v4.43h-1.3zM197.2 255.3h1.3v4.43h-1.3zM205.1 255.3h1.3v4.43h-1.3zM264.3 255.3h1.3v4.43h-1.3zM276.1 255.3h1.3v4.43h-1.3zM310.3 255.3h1.3v4.43h-1.3zM314.3 255.3h1.3v4.43h-1.3zM334.0 255.3h1.3v4.43h-1.3zM111.7 259.7h1.3v4.43h-1.3zM148.5 259.7h1.3v4.43h-1.3zM165.6 259.7h1.3v4.43h-1.3zM182.7 259.7h1.3v4.43h-1.3zM202.5 259.7h1.3v4.43h-1.3zM213.0 259.7h1.3v4.43h-1.3zM282.7 259.7h1.3v4.43h-1.3zM285.3 259.7h1.3v4.43h-1.3zM303.8 259.7h1.3v4.43h-1.3zM306.4 259.7h1.3v4.43h-1.3zM334.0 259.7h1.3v4.43h-1.3zM51.2 264.1h1.3v4.43h-1.3zM111.7 264.1h1.3v4.43h-1.3zM135.4 264.1h1.3v4.43h-1.3zM170.9 264.1h1.3v4.43h-1.3zM210.4 264.1h1.3v4.43h-1.3zM224.8 264.1h1.3v4.43h-1.3zM230.1 264.1h1.3v4.43h-1.3zM238.0 264.1h1.3v4.43h-1.3zM241.9 264.1h1.3v4.43h-1.3zM291.9 264.1h1.3v4.43h-1.3zM336.7 264.1h1.3v4.43h-1.3zM116.9 268.6h1.3v4.43h-1.3zM119.6 268.6h1.3v4.43h-1.3zM131.4 268.6h1.3v4.43h-1.3zM143.3 268.6h1.3v4.43h-1.3zM157.7 268.6h1.3v4.43h-1.3zM165.6 268.6h1.3v4.43h-1.3zM198.5 268.6h1.3v4.43h-1.3zM207.7 268.6h1.3v4.43h-1.3zM261.7 268.6h1.3v4.43h-1.3zM282.7 268.6h1.3v4.43h-1.3zM295.9 268.6h1.3v4.43h-1.3zM330.1 268.6h1.3v4.43h-1.3zM391.9 268.6h1.3v4.43h-1.3zM52.5 273.0h1.3v4.43h-1.3zM68.3 273.0h1.3v4.43h-1.3zM124.8 273.0h1.3v4.43h-1.3zM140.6 273.0h1.3v4.43h-1.3zM145.9 273.0h1.3v4.43h-1.3zM170.9 273.0h1.3v4.43h-1.3zM186.7 273.0h1.3v4.43h-1.3zM277.5 273.0h1.3v4.43h-1.3zM301.1 273.0h1.3v4.43h-1.3zM311.7 273.0h1.3v4.43h-1.3zM335.3 273.0h1.3v4.43h-1.3zM360.3 273.0h1.3v4.43h-1.3zM398.5 273.0h2.6v4.43h-2.6zM407.7 273.0h1.3v4.43h-1.3zM427.4 273.0h1.3v4.43h-1.3zM52.5 277.4h1.3v4.43h-1.3zM70.9 277.4h1.3v4.43h-1.3zM131.4 277.4h1.3v4.43h-1.3zM169.6 277.4h1.3v4.43h-1.3zM193.2 277.4h1.3v4.43h-1.3zM199.8 277.4h1.3v4.43h-1.3zM228.8 277.4h1.3v4.43h-1.3zM264.3 277.4h1.3v4.43h-1.3zM310.3 277.4h1.3v4.43h-1.3zM318.2 277.4h1.3v4.43h-1.3zM335.3 277.4h1.3v4.43h-1.3zM389.3 277.4h1.3v4.43h-1.3zM56.4 281.8h1.3v4.43h-1.3zM74.8 281.8h1.3v4.43h-1.3zM82.7 281.8h1.3v4.43h-1.3zM97.2 281.8h1.3v4.43h-1.3zM101.2 281.8h1.3v4.43h-1.3zM110.4 281.8h2.6v4.43h-2.6zM148.5 281.8h1.3v4.43h-1.3zM173.5 281.8h1.3v4.43h-1.3zM241.9 281.8h1.3v4.43h-1.3zM248.5 281.8h1.3v4.43h-1.3zM270.9 281.8h1.3v4.43h-1.3zM276.1 281.8h1.3v4.43h-1.3zM297.2 281.8h1.3v4.43h-1.3zM310.3 281.8h1.3v4.43h-1.3zM322.2 281.8h1.3v4.43h-1.3zM378.8 281.8h1.3v4.43h-1.3zM419.5 281.8h1.3v4.43h-1.3zM114.3 286.3h1.3v4.43h-1.3zM128.8 286.3h1.3v4.43h-1.3zM139.3 286.3h1.3v4.43h-1.3zM173.5 286.3h1.3v4.43h-1.3zM177.5 286.3h1.3v4.43h-1.3zM198.5 286.3h1.3v4.43h-1.3zM288.0 286.3h1.3v4.43h-1.3zM291.9 286.3h1.3v4.43h-1.3zM303.8 286.3h1.3v4.43h-1.3zM310.3 286.3h1.3v4.43h-1.3zM322.2 286.3h1.3v4.43h-1.3zM338.0 286.3h1.3v4.43h-1.3zM347.2 286.3h1.3v4.43h-1.3zM356.4 286.3h1.3v4.43h-1.3zM360.3 286.3h1.3v4.43h-1.3zM393.2 286.3h1.3v4.43h-1.3zM397.2 286.3h1.3v4.43h-1.3zM430.1 286.3h1.3v4.43h-1.3zM73.5 290.7h1.3v4.43h-1.3zM168.3 290.7h1.3v4.43h-1.3zM181.4 290.7h1.3v4.43h-1.3zM202.5 290.7h1.3v4.43h-1.3zM253.8 290.7h2.6v4.43h-2.6zM290.6 290.7h1.3v4.43h-1.3zM301.1 290.7h1.3v4.43h-1.3zM338.0 290.7h1.3v4.43h-1.3zM64.3 295.1h1.3v4.43h-1.3zM88.0 295.1h1.3v4.43h-1.3zM139.3 295.1h1.3v4.43h-1.3zM153.8 295.1h1.3v4.43h-1.3zM224.8 295.1h1.3v4.43h-1.3zM238.0 295.1h1.3v4.43h-1.3zM278.8 295.1h1.3v4.43h-1.3zM289.3 295.1h1.3v4.43h-1.3zM322.2 295.1h1.3v4.43h-1.3zM74.8 299.6h2.6v5.93h-2.6zM81.4 299.6h1.3v5.93h-1.3zM130.1 299.6h2.6v5.93h-2.6zM165.6 299.6h1.3v5.93h-1.3zM182.7 299.6h1.3v5.93h-1.3zM207.7 299.6h1.3v5.93h-1.3zM216.9 299.6h1.3v5.93h-1.3zM220.9 299.6h1.3v5.93h-1.3z"/>
<path fill="#89ceeb" d="M39.3 45.5h1.3v5.93h-1.3zM41.9 45.5h1.3v5.93h-1.3zM57.7 45.5h1.3v5.93h-1.3zM74.8 45.5h1.3v5.93h-1.3zM153.8 45.5h1.3v5.93h-1.3zM188.0 45.5h1.3v5.93h-1.3zM193.2 45.5h1.3v5.93h-1.3zM215.6 45.5h1.3v5.93h-1.3zM273.5 45.5h1.3v5.93h-1.3zM318.2 45.5h1.3v5.93h-1.3zM63.0 51.4h2.6v4.43h-2.6zM69.6 51.4h1.3v4.43h-1.3zM109.0 51.4h1.3v4.43h-1.3zM130.1 51.4h1.3v4.43h-1.3zM153.8 51.4h1.3v4.43h-1.3zM177.5 51.4h1.3v4.43h-1.3zM211.7 51.4h1.3v4.43h-1.3zM259.0 51.4h1.3v4.43h-1.3zM270.9 51.4h1.3v4.43h-1.3zM302.4 51.4h1.3v4.43h-1.3zM322.2 51.4h1.3v4.43h-1.3zM330.1 51.4h1.3v4.43h-1.3zM36.5 55.9h2.8v4.43h-2.8zM68.3 55.9h1.3v4.43h-1.3zM76.2 55.9h1.3v4.43h-1.3zM84.0 55.9h1.3v4.43h-1.3zM147.2 55.9h1.3v4.43h-1.3zM163.0 55.9h1.3v4.43h-1.3zM205.1 55.9h1.3v4.43h-1.3zM209.0 55.9h1.3v4.43h-1.3zM213.0 55.9h1.3v4.43h-1.3zM66.9 60.3h1.3v4.43h-1.3zM89.3 60.3h1.3v4.43h-1.3zM95.9 60.3h1.3v4.43h-1.3zM47.2 64.7h2.6v4.43h-2.6zM107.7 64.7h1.3v4.43h-1.3zM128.8 64.7h1.3v4.43h-1.3zM147.2 64.7h1.3v4.43h-1.3zM155.1 64.7h1.3v4.43h-1.3zM163.0 64.7h1.3v4.43h-1.3zM203.8 64.7h1.3v4.43h-1.3zM207.7 64.7h1.3v4.43h-1.3zM222.2 64.7h1.3v4.43h-1.3zM234.0 64.7h1.3v4.43h-1.3zM261.7 64.7h1.3v4.43h-1.3zM310.3 64.7h1.3v4.43h-1.3zM47.2 69.2h1.3v4.43h-1.3zM81.4 69.2h1.3v4.43h-1.3zM44.6 73.6h1.3v4.43h-1.3zM65.6 73.6h2.6v4.43h-2.6zM69.6 73.6h1.3v4.43h-1.3zM198.5 73.6h1.3v4.43h-1.3zM206.4 73.6h1.3v4.43h-1.3zM65.6 78.0h1.3v4.43h-1.3zM110.4 78.0h1.3v4.43h-1.3zM119.6 78.0h1.3v4.43h-1.3zM189.3 78.0h2.6v4.43h-2.6zM198.5 78.0h1.3v4.43h-1.3zM205.1 78.0h1.3v4.43h-1.3zM214.3 78.0h1.3v4.43h-1.3zM248.5 78.0h1.3v4.43h-1.3zM253.8 78.0h1.3v4.43h-1.3zM270.9 78.0h1.3v4.43h-1.3zM273.5 78.0h1.3v4.43h-1.3zM276.1 78.0h1.3v4.43h-1.3zM302.4 78.0h1.3v4.43h-1.3zM309.0 78.0h1.3v4.43h-1.3zM318.2 78.0h1.3v4.43h-1.3zM323.5 78.0h2.6v4.43h-2.6zM339.3 78.0h1.3v4.43h-1.3zM344.6 78.0h1.3v4.43h-1.3zM65.6 86.9h1.3v4.43h-1.3zM70.9 86.9h1.3v4.43h-1.3zM97.2 86.9h1.3v4.43h-1.3zM110.4 86.9h1.3v4.43h-1.3zM145.9 86.9h1.3v4.43h-1.3zM148.5 86.9h1.3v4.43h-1.3zM165.6 86.9h1.3v4.43h-1.3zM169.6 86.9h1.3v4.43h-1.3zM85.4 91.3h1.3v4.43h-1.3zM89.3 91.3h1.3v4.43h-1.3zM74.8 95.7h1.3v4.43h-1.3zM89.3 95.7h1.3v4.43h-1.3zM52.5 100.2h1.3v4.43h-1.3zM61.7 100.2h1.3v4.43h-1.3zM81.4 100.2h1.3v4.43h-1.3zM85.4 104.6h1.3v4.43h-1.3zM40.6 109.0h1.3v4.43h-1.3zM45.9 109.0h1.3v4.43h-1.3zM73.5 109.0h1.3v4.43h-1.3zM95.9 109.0h1.3v4.43h-1.3zM57.7 117.9h1.3v4.43h-1.3zM51.2 122.3h1.3v4.43h-1.3zM57.7 126.8h1.3v4.43h-1.3zM70.9 126.8h1.3v4.43h-1.3zM45.9 131.2h2.6v4.43h-2.6zM55.1 131.2h1.3v4.43h-1.3zM57.7 135.6h1.3v4.43h-1.3zM70.9 135.6h1.3v4.43h-1.3zM82.7 140.1h1.3v4.43h-1.3zM63.0 144.5h1.3v4.43h-1.3zM66.9 144.5h1.3v4.43h-1.3zM70.9 144.5h1.3v4.43h-1.3zM41.9 153.3h1.3v4.43h-1.3zM61.7 153.3h1.3v4.43h-1.3zM45.9 157.8h1.3v4.43h-1.3zM52.5 157.8h1.3v4.43h-1.3zM56.4 157.8h1.3v4.43h-1.3zM64.3 157.8h1.3v4.43h-1.3zM81.4 157.8h1.3v4.43h-1.3zM89.3 157.8h1.3v4.43h-1.3zM93.3 157.8h1.3v4.43h-1.3zM52.5 171.1h1.3v4.43h-1.3zM82.7 171.1h1.3v4.43h-1.3zM88.0 171.1h1.3v4.43h-1.3zM197.2 171.1h1.3v4.43h-1.3zM286.7 171.1h1.3v4.43h-1.3zM323.5 171.1h1.3v4.43h-1.3zM327.4 171.1h1.3v4.43h-1.3zM36.5 175.5h2.8v4.43h-2.8zM56.4 175.5h1.3v4.43h-1.3zM45.9 179.9h1.3v4.43h-1.3zM70.9 179.9h1.3v4.43h-1.3zM76.2 179.9h1.3v4.43h-1.3zM153.8 179.9h1.3v4.43h-1.3zM169.6 179.9h1.3v4.43h-1.3zM173.5 179.9h1.3v4.43h-1.3zM201.1 179.9h1.3v4.43h-1.3zM69.6 184.4h1.3v4.43h-1.3zM73.5 184.4h1.3v4.43h-1.3zM91.9 184.4h1.3v4.43h-1.3zM47.2 188.8h1.3v4.43h-1.3zM52.5 188.8h1.3v4.43h-1.3zM64.3 188.8h1.3v4.43h-1.3zM66.9 188.8h1.3v4.43h-1.3zM130.1 188.8h1.3v4.43h-1.3zM144.6 188.8h2.6v4.43h-2.6zM159.0 188.8h1.3v4.43h-1.3zM165.6 188.8h1.3v4.43h-1.3zM211.7 188.8h1.3v4.43h-1.3zM235.3 188.8h1.3v4.43h-1.3zM240.6 188.8h1.3v4.43h-1.3zM244.6 188.8h1.3v4.43h-1.3zM248.5 188.8h1.3v4.43h-1.3zM255.1 188.8h1.3v4.43h-1.3zM261.7 188.8h1.3v4.43h-1.3zM269.6 188.8h1.3v4.43h-1.3zM318.2 188.8h1.3v4.43h-1.3zM324.8 188.8h1.3v4.43h-1.3zM327.4 188.8h1.3v4.43h-1.3zM41.9 193.2h1.3v4.43h-1.3zM55.1 193.2h1.3v4.43h-1.3zM57.7 193.2h1.3v4.43h-1.3zM84.0 193.2h1.3v4.43h-1.3zM103.8 193.2h1.3v4.43h-1.3zM113.0 193.2h1.3v4.43h-1.3zM141.9 193.2h1.3v4.43h-1.3zM244.6 193.2h1.3v4.43h-1.3zM84.0 197.7h1.3v4.43h-1.3zM190.6 197.7h1.3v4.43h-1.3zM36.5 202.1h4.1v4.43h-4.1zM82.7 202.1h1.3v4.43h-1.3zM66.9 206.5h1.3v4.43h-1.3zM57.7 210.9h1.3v4.43h-1.3zM80.1 210.9h1.3v4.43h-1.3zM177.5 210.9h1.3v4.43h-1.3zM220.9 210.9h1.3v4.43h-1.3zM238.0 210.9h1.3v4.43h-1.3zM255.1 210.9h1.3v4.43h-1.3zM266.9 210.9h1.3v4.43h-1.3zM303.8 210.9h1.3v4.43h-1.3zM327.4 210.9h1.3v4.43h-1.3zM107.7 215.4h1.3v4.43h-1.3zM190.6 215.4h1.3v4.43h-1.3zM193.2 215.4h1.3v4.43h-1.3zM199.8 215.4h1.3v4.43h-1.3zM220.9 215.4h1.3v4.43h-1.3zM76.2 219.8h1.3v4.43h-1.3zM135.4 219.8h1.3v4.43h-1.3zM145.9 219.8h1.3v4.43h-1.3zM215.6 219.8h1.3v4.43h-1.3zM289.3 219.8h1.3v4.43h-1.3zM313.0 219.8h1.3v4.43h-1.3zM40.6 224.2h1.3v4.43h-1.3zM55.1 224.2h2.6v4.43h-2.6zM73.5 224.2h1.3v4.43h-1.3zM101.2 224.2h1.3v4.43h-1.3zM152.5 224.2h1.3v4.43h-1.3zM178.8 224.2h1.3v4.43h-1.3zM234.0 224.2h1.3v4.43h-1.3zM270.9 224.2h1.3v4.43h-1.3zM318.2 224.2h1.3v4.43h-1.3zM352.4 224.2h1.3v4.43h-1.3zM55.1 228.7h1.3v4.43h-1.3zM99.8 228.7h1.3v4.43h-1.3zM149.8 228.7h1.3v4.43h-1.3zM157.7 228.7h1.3v4.43h-1.3zM195.9 228.7h1.3v4.43h-1.3zM223.5 228.7h1.3v4.43h-1.3zM260.3 228.7h1.3v4.43h-1.3zM264.3 228.7h1.3v4.43h-1.3zM282.7 228.7h1.3v4.43h-1.3zM301.1 228.7h1.3v4.43h-1.3zM303.8 228.7h1.3v4.43h-1.3zM314.3 228.7h1.3v4.43h-1.3zM351.1 228.7h1.3v4.43h-1.3zM423.5 228.7h1.3v4.43h-1.3zM426.1 228.7h1.3v4.43h-1.3zM428.8 228.7h1.3v4.43h-1.3zM140.6 233.1h1.3v4.43h-1.3zM103.8 237.5h1.3v4.43h-1.3zM116.9 237.5h1.3v4.43h-1.3zM140.6 237.5h1.3v4.43h-1.3zM155.1 237.5h1.3v4.43h-1.3zM202.5 237.5h1.3v4.43h-1.3zM211.7 237.5h1.3v4.43h-1.3zM135.4 242.0h1.3v4.43h-1.3zM205.1 242.0h1.3v4.43h-1.3zM214.3 242.0h1.3v4.43h-1.3zM168.3 246.4h1.3v4.43h-1.3zM205.1 246.4h1.3v4.43h-1.3zM222.2 246.4h1.3v4.43h-1.3zM330.1 246.4h1.3v4.43h-1.3zM351.1 246.4h1.3v4.43h-1.3zM368.2 246.4h1.3v4.43h-1.3zM374.8 246.4h1.3v4.43h-1.3zM389.3 246.4h1.3v4.43h-1.3zM422.2 246.4h1.3v4.43h-1.3zM428.8 246.4h1.3v4.43h-1.3zM103.8 250.8h1.3v4.43h-1.3zM148.5 250.8h1.3v4.43h-1.3zM155.1 250.8h1.3v4.43h-1.3zM177.5 250.8h1.3v4.43h-1.3zM181.4 250.8h1.3v4.43h-1.3zM203.8 250.8h1.3v4.43h-1.3zM255.1 250.8h1.3v4.43h-1.3zM269.6 250.8h1.3v4.43h-1.3zM309.0 250.8h1.3v4.43h-1.3zM328.8 250.8h1.3v4.43h-1.3zM339.3 250.8h1.3v4.43h-1.3zM353.8 250.8h1.3v4.43h-1.3zM370.9 250.8h1.3v4.43h-1.3zM78.8 255.3h1.3v4.43h-1.3zM116.9 255.3h1.3v4.43h-1.3zM119.6 255.3h1.3v4.43h-1.3zM139.3 255.3h1.3v4.43h-1.3zM177.5 255.3h1.3v4.43h-1.3zM190.6 255.3h1.3v4.43h-1.3zM213.0 255.3h2.6v4.43h-2.6zM252.5 255.3h2.6v4.43h-2.6zM261.7 255.3h1.3v4.43h-1.3zM289.3 255.3h1.3v4.43h-1.3zM322.2 255.3h1.3v4.43h-1.3zM330.1 255.3h1.3v4.43h-1.3zM374.8 255.3h1.3v4.43h-1.3zM384.0 255.3h1.3v4.43h-1.3zM410.3 255.3h1.3v4.43h-1.3zM427.4 255.3h1.3v4.43h-1.3zM69.6 259.7h1.3v4.43h-1.3zM114.3 259.7h1.3v4.43h-1.3zM144.6 259.7h1.3v4.43h-1.3zM152.5 259.7h1.3v4.43h-1.3zM163.0 259.7h1.3v4.43h-1.3zM199.8 259.7h1.3v4.43h-1.3zM216.9 259.7h1.3v4.43h-1.3zM230.1 259.7h1.3v4.43h-1.3zM289.3 259.7h1.3v4.43h-1.3zM336.7 259.7h1.3v4.43h-1.3zM339.3 259.7h1.3v4.43h-1.3zM97.2 264.1h1.3v4.43h-1.3zM116.9 264.1h1.3v4.43h-1.3zM128.8 264.1h2.6v4.43h-2.6zM188.0 264.1h1.3v4.43h-1.3zM190.6 264.1h1.3v4.43h-1.3zM197.2 264.1h2.6v4.43h-2.6zM248.5 264.1h1.3v4.43h-1.3zM260.3 264.1h1.3v4.43h-1.3zM274.8 264.1h1.3v4.43h-1.3zM282.7 264.1h1.3v4.43h-1.3zM302.4 264.1h2.6v4.43h-2.6zM45.9 268.6h1.3v4.43h-1.3zM114.3 268.6h1.3v4.43h-1.3zM141.9 268.6h1.3v4.43h-1.3zM145.9 268.6h1.3v4.43h-1.3zM159.0 268.6h1.3v4.43h-1.3zM186.7 268.6h1.3v4.43h-1.3zM216.9 268.6h1.3v4.43h-1.3zM302.4 268.6h1.3v4.43h-1.3zM356.4 268.6h1.3v4.43h-1.3zM388.0 268.6h1.3v4.43h-1.3zM105.1 273.0h1.3v4.43h-1.3zM159.0 273.0h1.3v4.43h-1.3zM190.6 273.0h1.3v4.43h-1.3zM219.6 273.0h1.3v4.43h-1.3zM222.2 273.0h1.3v4.43h-1.3zM238.0 273.0h1.3v4.43h-1.3zM252.5 273.0h1.3v4.43h-1.3zM338.0 273.0h1.3v4.43h-1.3zM352.4 273.0h3.9v4.43h-3.9zM378.8 273.0h1.3v4.43h-1.3zM422.2 273.0h1.3v4.43h-1.3zM107.7 277.4h1.3v4.43h-1.3zM149.8 277.4h1.3v4.43h-1.3zM173.5 277.4h1.3v4.43h-1.3zM190.6 277.4h1.3v4.43h-1.3zM248.5 277.4h1.3v4.43h-1.3zM278.8 277.4h1.3v4.43h-1.3zM320.9 277.4h1.3v4.43h-1.3zM323.5 277.4h1.3v4.43h-1.3zM349.8 277.4h2.6v4.43h-2.6zM378.8 277.4h1.3v4.43h-1.3zM391.9 277.4h1.3v4.43h-1.3zM423.5 277.4h1.3v4.43h-1.3zM89.3 281.8h1.3v4.43h-1.3zM116.9 281.8h1.3v4.43h-1.3zM143.3 281.8h1.3v4.43h-1.3zM153.8 281.8h1.3v4.43h-1.3zM184.0 281.8h1.3v4.43h-1.3zM211.7 281.8h1.3v4.43h-1.3zM215.6 281.8h1.3v4.43h-1.3zM255.1 281.8h1.3v4.43h-1.3zM277.5 281.8h1.3v4.43h-1.3zM324.8 281.8h1.3v4.43h-1.3zM349.8 281.8h1.3v4.43h-1.3zM356.4 281.8h1.3v4.43h-1.3zM368.2 281.8h1.3v4.43h-1.3zM414.3 281.8h2.6v4.43h-2.6zM39.3 286.3h3.9v4.43h-3.9zM45.9 286.3h1.3v4.43h-1.3zM57.7 286.3h1.3v4.43h-1.3zM63.0 286.3h2.6v4.43h-2.6zM72.2 286.3h1.3v4.43h-1.3zM111.7 286.3h1.3v4.43h-1.3zM152.5 286.3h1.3v4.43h-1.3zM159.0 286.3h1.3v4.43h-1.3zM195.9 286.3h1.3v4.43h-1.3zM238.0 286.3h1.3v4.43h-1.3zM282.7 286.3h1.3v4.43h-1.3zM352.4 286.3h3.9v4.43h-3.9zM357.7 286.3h1.3v4.43h-1.3zM374.8 286.3h1.3v4.43h-1.3zM398.5 286.3h1.3v4.43h-1.3zM414.3 286.3h1.3v4.43h-1.3zM76.2 290.7h1.3v4.43h-1.3zM81.4 290.7h1.3v4.43h-1.3zM109.0 290.7h1.3v4.43h-1.3zM155.1 290.7h1.3v4.43h-1.3zM182.7 290.7h1.3v4.43h-1.3zM218.2 290.7h1.3v4.43h-1.3zM264.3 290.7h1.3v4.43h-1.3zM273.5 290.7h2.6v4.43h-2.6zM51.2 295.1h1.3v4.43h-1.3zM118.3 295.1h1.3v4.43h-1.3zM147.2 295.1h1.3v4.43h-1.3zM173.5 295.1h1.3v4.43h-1.3zM207.7 295.1h1.3v4.43h-1.3zM240.6 295.1h1.3v4.43h-1.3zM274.8 295.1h1.3v4.43h-1.3zM291.9 295.1h1.3v4.43h-1.3zM320.9 295.1h1.3v4.43h-1.3zM36.5 299.6h2.8v5.93h-2.8zM56.4 299.6h1.3v5.93h-1.3zM70.9 299.6h1.3v5.93h-1.3zM97.2 299.6h1.3v5.93h-1.3zM159.0 299.6h1.3v5.93h-1.3zM170.9 299.6h1.3v5.93h-1.3zM176.1 299.6h1.3v5.93h-1.3zM197.2 299.6h1.3v5.93h-1.3zM231.4 299.6h1.3v5.93h-1.3zM257.7 299.6h1.3v5.93h-1.3zM282.7 299.6h1.3v5.93h-1.3zM295.9 299.6h1.3v5.93h-1.3zM313.0 299.6h1.3v5.93h-1.3z"/>
<path fill="#91d3ed" d="M44.6 45.5h1.3v5.93h-1.3zM73.5 45.5h1.3v5.93h-1.3zM80.1 51.4h1.3v4.43h-1.3zM149.8 51.4h1.3v4.43h-1.3zM198.5 51.4h1.3v4.43h-1.3zM224.8 51.4h1.3v4.43h-1.3zM52.5 55.9h1.3v4.43h-1.3zM41.9 60.3h1.3v4.43h-1.3zM91.9 60.3h2.6v4.43h-2.6zM39.3 64.7h1.3v4.43h-1.3zM103.8 64.7h1.3v4.43h-1.3zM109.0 64.7h1.3v4.43h-1.3zM148.5 64.7h2.6v4.43h-2.6zM180.1 64.7h1.3v4.43h-1.3zM220.9 64.7h1.3v4.43h-1.3zM69.6 69.2h1.3v4.43h-1.3zM91.9 69.2h1.3v4.43h-1.3zM63.0 73.6h1.3v4.43h-1.3zM89.3 73.6h1.3v4.43h-1.3zM51.2 78.0h1.3v4.43h-1.3zM145.9 78.0h1.3v4.43h-1.3zM148.5 78.0h1.3v4.43h-1.3zM165.6 78.0h1.3v4.43h-1.3zM170.9 78.0h1.3v4.43h-1.3zM176.1 78.0h1.3v4.43h-1.3zM181.4 78.0h2.6v4.43h-2.6zM224.8 78.0h1.3v4.43h-1.3zM228.8 78.0h1.3v4.43h-1.3zM328.8 78.0h1.3v4.43h-1.3zM57.7 82.4h1.3v4.43h-1.3zM55.1 91.3h2.6v4.43h-2.6zM63.0 91.3h2.6v4.43h-2.6zM73.5 91.3h1.3v4.43h-1.3zM41.9 95.7h1.3v4.43h-1.3zM48.5 95.7h1.3v4.43h-1.3zM56.4 95.7h1.3v4.43h-1.3zM80.1 100.2h1.3v4.43h-1.3zM85.4 100.2h1.3v4.43h-1.3zM93.3 100.2h1.3v4.43h-1.3zM51.2 104.6h1.3v4.43h-1.3zM51.2 109.0h1.3v4.43h-1.3zM70.9 109.0h1.3v4.43h-1.3zM81.4 109.0h1.3v4.43h-1.3zM51.2 113.5h1.3v4.43h-1.3zM56.4 113.5h1.3v4.43h-1.3zM44.6 117.9h1.3v4.43h-1.3zM70.9 117.9h1.3v4.43h-1.3zM95.9 117.9h1.3v4.43h-1.3zM55.1 122.3h1.3v4.43h-1.3zM57.7 122.3h1.3v4.43h-1.3zM73.5 122.3h1.3v4.43h-1.3zM81.4 122.3h1.3v4.43h-1.3zM56.4 126.8h1.3v4.43h-1.3zM66.9 126.8h1.3v4.43h-1.3zM84.0 126.8h1.3v4.43h-1.3zM49.8 131.2h1.3v4.43h-1.3zM56.4 131.2h1.3v4.43h-1.3zM69.6 131.2h2.6v4.43h-2.6zM73.5 131.2h1.3v4.43h-1.3zM73.5 135.6h3.9v4.43h-3.9zM93.3 135.6h1.3v4.43h-1.3zM39.3 140.1h2.6v4.43h-2.6zM51.2 140.1h1.3v4.43h-1.3zM56.4 140.1h1.3v4.43h-1.3zM55.1 148.9h2.6v4.43h-2.6zM73.5 148.9h1.3v4.43h-1.3zM39.3 153.3h1.3v4.43h-1.3zM74.8 153.3h1.3v4.43h-1.3zM78.8 153.3h1.3v4.43h-1.3zM89.3 153.3h2.6v4.43h-2.6zM57.7 157.8h1.3v4.43h-1.3zM76.2 157.8h1.3v4.43h-1.3zM91.9 157.8h1.3v4.43h-1.3zM47.2 171.1h2.6v4.43h-2.6zM57.7 171.1h1.3v4.43h-1.3zM64.3 171.1h1.3v4.43h-1.3zM43.3 175.5h2.6v4.43h-2.6zM73.5 175.5h1.3v4.43h-1.3zM44.6 179.9h1.3v4.43h-1.3zM81.4 179.9h1.3v4.43h-1.3zM45.9 184.4h1.3v4.43h-1.3zM56.4 184.4h1.3v4.43h-1.3zM76.2 184.4h1.3v4.43h-1.3zM89.3 184.4h1.3v4.43h-1.3zM182.7 188.8h1.3v4.43h-1.3zM232.7 188.8h1.3v4.43h-1.3zM322.2 188.8h1.3v4.43h-1.3zM56.4 193.2h1.3v4.43h-1.3zM80.1 193.2h2.6v4.43h-2.6zM89.3 193.2h1.3v4.43h-1.3zM49.8 197.7h1.3v4.43h-1.3zM55.1 197.7h1.3v4.43h-1.3zM74.8 197.7h1.3v4.43h-1.3zM91.9 197.7h1.3v4.43h-1.3zM95.9 197.7h1.3v4.43h-1.3zM48.5 202.1h2.6v4.43h-2.6zM66.9 202.1h1.3v4.43h-1.3zM84.0 202.1h1.3v4.43h-1.3zM64.3 206.5h1.3v4.43h-1.3zM56.4 210.9h1.3v4.43h-1.3zM70.9 210.9h1.3v4.43h-1.3zM65.6 215.4h2.6v4.43h-2.6zM74.8 215.4h2.6v4.43h-2.6zM93.3 215.4h1.3v4.43h-1.3zM45.9 219.8h1.3v4.43h-1.3zM105.1 224.2h1.3v4.43h-1.3zM173.5 224.2h1.3v4.43h-1.3zM386.7 224.2h1.3v4.43h-1.3zM48.5 228.7h1.3v4.43h-1.3zM70.9 228.7h1.3v4.43h-1.3zM76.2 228.7h1.3v4.43h-1.3zM111.7 228.7h1.3v4.43h-1.3zM141.9 228.7h1.3v4.43h-1.3zM166.9 228.7h1.3v4.43h-1.3zM186.7 228.7h2.6v4.43h-2.6zM193.2 228.7h1.3v4.43h-1.3zM274.8 228.7h1.3v4.43h-1.3zM280.1 228.7h1.3v4.43h-1.3zM295.9 228.7h1.3v4.43h-1.3zM378.8 228.7h1.3v4.43h-1.3zM163.0 233.1h1.3v4.43h-1.3zM188.0 233.1h1.3v4.43h-1.3zM213.0 233.1h1.3v4.43h-1.3zM223.5 233.1h1.3v4.43h-1.3zM111.7 237.5h1.3v4.43h-1.3zM124.8 237.5h1.3v4.43h-1.3zM139.3 237.5h1.3v4.43h-1.3zM153.8 237.5h1.3v4.43h-1.3zM169.6 237.5h1.3v4.43h-1.3zM177.5 237.5h1.3v4.43h-1.3zM97.2 242.0h1.3v4.43h-1.3zM116.9 242.0h1.3v4.43h-1.3zM130.1 242.0h1.3v4.43h-1.3zM139.3 242.0h1.3v4.43h-1.3zM145.9 242.0h1.3v4.43h-1.3zM165.6 242.0h1.3v4.43h-1.3zM168.3 242.0h1.3v4.43h-1.3zM97.2 246.4h1.3v4.43h-1.3zM144.6 246.4h1.3v4.43h-1.3zM152.5 246.4h1.3v4.43h-1.3zM166.9 246.4h1.3v4.43h-1.3zM184.0 246.4h1.3v4.43h-1.3zM190.6 246.4h1.3v4.43h-1.3zM197.2 246.4h1.3v4.43h-1.3zM211.7 246.4h1.3v4.43h-1.3zM135.4 250.8h1.3v4.43h-1.3zM166.9 250.8h1.3v4.43h-1.3zM197.2 250.8h1.3v4.43h-1.3zM199.8 250.8h1.3v4.43h-1.3zM210.4 250.8h1.3v4.43h-1.3zM230.1 250.8h1.3v4.43h-1.3zM247.2 250.8h1.3v4.43h-1.3zM251.1 250.8h2.6v4.43h-2.6zM285.3 250.8h1.3v4.43h-1.3zM303.8 250.8h1.3v4.43h-1.3zM327.4 250.8h1.3v4.43h-1.3zM330.1 250.8h1.3v4.43h-1.3zM349.8 250.8h1.3v4.43h-1.3zM352.4 250.8h1.3v4.43h-1.3zM376.1 250.8h1.3v4.43h-1.3zM384.0 250.8h1.3v4.43h-1.3zM123.5 255.3h1.3v4.43h-1.3zM135.4 255.3h1.3v4.43h-1.3zM141.9 255.3h1.3v4.43h-1.3zM238.0 255.3h1.3v4.43h-1.3zM248.5 255.3h1.3v4.43h-1.3zM270.9 255.3h1.3v4.43h-1.3zM388.0 255.3h1.3v4.43h-1.3zM390.6 255.3h2.6v4.43h-2.6zM415.6 255.3h1.3v4.43h-1.3zM70.9 259.7h1.3v4.43h-1.3zM80.1 259.7h1.3v4.43h-1.3zM91.9 259.7h1.3v4.43h-1.3zM97.2 259.7h1.3v4.43h-1.3zM178.8 259.7h1.3v4.43h-1.3zM189.3 259.7h1.3v4.43h-1.3zM223.5 259.7h2.6v4.43h-2.6zM238.0 259.7h1.3v4.43h-1.3zM241.9 259.7h1.3v4.43h-1.3zM39.3 264.1h1.3v4.43h-1.3zM89.3 264.1h1.3v4.43h-1.3zM110.4 264.1h1.3v4.43h-1.3zM140.6 264.1h1.3v4.43h-1.3zM153.8 264.1h1.3v4.43h-1.3zM173.5 264.1h1.3v4.43h-1.3zM182.7 264.1h1.3v4.43h-1.3zM189.3 264.1h1.3v4.43h-1.3zM234.0 264.1h1.3v4.43h-1.3zM276.1 264.1h1.3v4.43h-1.3zM289.3 264.1h1.3v4.43h-1.3zM314.3 264.1h1.3v4.43h-1.3zM335.3 264.1h1.3v4.43h-1.3zM389.3 264.1h1.3v4.43h-1.3zM144.6 268.6h1.3v4.43h-1.3zM197.2 268.6h1.3v4.43h-1.3zM248.5 268.6h1.3v4.43h-1.3zM253.8 268.6h1.3v4.43h-1.3zM277.5 268.6h2.6v4.43h-2.6zM357.7 268.6h2.6v4.43h-2.6zM420.9 268.6h1.3v4.43h-1.3zM103.8 273.0h1.3v4.43h-1.3zM141.9 273.0h1.3v4.43h-1.3zM152.5 273.0h1.3v4.43h-1.3zM165.6 273.0h1.3v4.43h-1.3zM223.5 273.0h1.3v4.43h-1.3zM230.1 273.0h1.3v4.43h-1.3zM261.7 273.0h1.3v4.43h-1.3zM266.9 273.0h1.3v4.43h-1.3zM274.8 273.0h1.3v4.43h-1.3zM280.1 273.0h1.3v4.43h-1.3zM295.9 273.0h1.3v4.43h-1.3zM303.8 273.0h1.3v4.43h-1.3zM327.4 273.0h1.3v4.43h-1.3zM339.3 273.0h1.3v4.43h-1.3zM384.0 273.0h1.3v4.43h-1.3zM397.2 273.0h1.3v4.43h-1.3zM428.8 273.0h1.3v4.43h-1.3zM65.6 277.4h1.3v4.43h-1.3zM109.0 277.4h1.3v4.43h-1.3zM139.3 277.4h1.3v4.43h-1.3zM145.9 277.4h1.3v4.43h-1.3zM159.0 277.4h1.3v4.43h-1.3zM188.0 277.4h1.3v4.43h-1.3zM219.6 277.4h1.3v4.43h-1.3zM230.1 277.4h1.3v4.43h-1.3zM253.8 277.4h1.3v4.43h-1.3zM280.1 277.4h1.3v4.43h-1.3zM295.9 277.4h1.3v4.43h-1.3zM380.1 277.4h1.3v4.43h-1.3zM384.0 277.4h1.3v4.43h-1.3zM419.5 277.4h1.3v4.43h-1.3zM55.1 281.8h1.3v4.43h-1.3zM91.9 281.8h1.3v4.43h-1.3zM124.8 281.8h1.3v4.43h-1.3zM131.4 281.8h1.3v4.43h-1.3zM168.3 281.8h1.3v4.43h-1.3zM178.8 281.8h1.3v4.43h-1.3zM193.2 281.8h1.3v4.43h-1.3zM213.0 281.8h1.3v4.43h-1.3zM218.2 281.8h1.3v4.43h-1.3zM290.6 281.8h1.3v4.43h-1.3zM302.4 281.8h2.6v4.43h-2.6zM318.2 281.8h1.3v4.43h-1.3zM357.7 281.8h1.3v4.43h-1.3zM369.5 281.8h1.3v4.43h-1.3zM374.8 281.8h1.3v4.43h-1.3zM389.3 281.8h1.3v4.43h-1.3zM426.1 281.8h2.6v4.43h-2.6zM123.5 286.3h1.3v4.43h-1.3zM205.1 286.3h1.3v4.43h-1.3zM214.3 286.3h1.3v4.43h-1.3zM219.6 286.3h1.3v4.43h-1.3zM243.2 286.3h1.3v4.43h-1.3zM255.1 286.3h1.3v4.43h-1.3zM266.9 286.3h1.3v4.43h-1.3zM274.8 286.3h1.3v4.43h-1.3zM285.3 286.3h1.3v4.43h-1.3zM327.4 286.3h1.3v4.43h-1.3zM344.6 286.3h1.3v4.43h-1.3zM390.6 286.3h1.3v4.43h-1.3zM427.4 286.3h1.3v4.43h-1.3zM95.9 290.7h1.3v4.43h-1.3zM114.3 290.7h1.3v4.43h-1.3zM140.6 290.7h1.3v4.43h-1.3zM205.1 290.7h1.3v4.43h-1.3zM209.0 290.7h1.3v4.43h-1.3zM243.2 290.7h1.3v4.43h-1.3zM248.5 290.7h1.3v4.43h-1.3zM97.2 295.1h1.3v4.43h-1.3zM110.4 295.1h1.3v4.43h-1.3zM113.0 295.1h1.3v4.43h-1.3zM159.0 295.1h1.3v4.43h-1.3zM213.0 295.1h1.3v4.43h-1.3zM239.3 295.1h1.3v4.43h-1.3zM253.8 295.1h1.3v4.43h-1.3zM280.1 295.1h1.3v4.43h-1.3zM282.7 295.1h1.3v4.43h-1.3zM301.1 295.1h1.3v4.43h-1.3zM340.6 295.1h1.3v4.43h-1.3zM356.4 295.1h1.3v4.43h-1.3zM364.3 295.1h1.3v4.43h-1.3zM376.1 295.1h1.3v4.43h-1.3zM105.1 299.6h1.3v5.93h-1.3zM110.4 299.6h1.3v5.93h-1.3zM141.9 299.6h1.3v5.93h-1.3zM224.8 299.6h1.3v5.93h-1.3zM234.0 299.6h1.3v5.93h-1.3zM260.3 299.6h1.3v5.93h-1.3zM264.3 299.6h1.3v5.93h-1.3zM301.1 299.6h1.3v5.93h-1.3z"/>
<path fill="#9cd7ee" d="M55.1 45.5h1.3v5.93h-1.3zM63.0 45.5h1.3v5.93h-1.3zM69.6 45.5h1.3v5.93h-1.3zM77.5 51.4h1.3v4.43h-1.3zM81.4 51.4h1.3v4.43h-1.3zM65.6 55.9h1.3v4.43h-1.3zM93.3 55.9h1.3v4.43h-1.3zM41.9 69.2h1.3v4.43h-1.3zM56.4 69.2h1.3v4.43h-1.3zM45.9 78.0h1.3v4.43h-1.3zM70.9 78.0h1.3v4.43h-1.3zM74.8 78.0h1.3v4.43h-1.3zM48.5 82.4h1.3v4.43h-1.3zM82.7 82.4h1.3v4.43h-1.3zM44.6 86.9h1.3v4.43h-1.3zM56.4 86.9h1.3v4.43h-1.3zM82.7 86.9h1.3v4.43h-1.3zM43.3 91.3h1.3v4.43h-1.3zM45.9 95.7h1.3v4.43h-1.3zM76.2 100.2h1.3v4.43h-1.3zM65.6 104.6h1.3v4.43h-1.3zM69.6 104.6h1.3v4.43h-1.3zM80.1 104.6h1.3v4.43h-1.3zM36.5 109.0h2.8v4.43h-2.8zM56.4 109.0h1.3v4.43h-1.3zM77.5 109.0h1.3v4.43h-1.3zM52.5 113.5h1.3v4.43h-1.3zM76.2 113.5h1.3v4.43h-1.3zM82.7 117.9h1.3v4.43h-1.3zM85.4 117.9h1.3v4.43h-1.3zM93.3 117.9h1.3v4.43h-1.3zM39.3 122.3h1.3v4.43h-1.3zM51.2 126.8h1.3v4.43h-1.3zM55.1 126.8h1.3v4.43h-1.3zM74.8 126.8h1.3v4.43h-1.3zM91.9 126.8h1.3v4.43h-1.3zM39.3 131.2h1.3v4.43h-1.3zM65.6 131.2h1.3v4.43h-1.3zM48.5 135.6h2.6v4.43h-2.6zM84.0 135.6h1.3v4.43h-1.3zM44.6 140.1h1.3v4.43h-1.3zM48.5 140.1h1.3v4.43h-1.3zM69.6 140.1h1.3v4.43h-1.3zM36.5 144.5h2.8v4.43h-2.8zM44.6 144.5h1.3v4.43h-1.3zM48.5 144.5h1.3v4.43h-1.3zM52.5 144.5h1.3v4.43h-1.3zM65.6 144.5h1.3v4.43h-1.3zM73.5 144.5h1.3v4.43h-1.3zM82.7 144.5h1.3v4.43h-1.3zM40.6 148.9h1.3v4.43h-1.3zM45.9 148.9h1.3v4.43h-1.3zM66.9 148.9h1.3v4.43h-1.3zM82.7 148.9h1.3v4.43h-1.3zM93.3 148.9h1.3v4.43h-1.3zM84.0 153.3h1.3v4.43h-1.3zM93.3 153.3h1.3v4.43h-1.3zM95.9 153.3h1.3v4.43h-1.3zM55.1 157.8h1.3v4.43h-1.3zM65.6 157.8h1.3v4.43h-1.3zM73.5 171.1h1.3v4.43h-1.3zM51.2 175.5h2.6v4.43h-2.6zM89.3 179.9h1.3v4.43h-1.3zM48.5 184.4h1.3v4.43h-1.3zM40.6 188.8h1.3v4.43h-1.3zM45.9 188.8h1.3v4.43h-1.3zM57.7 188.8h1.3v4.43h-1.3zM70.9 188.8h3.9v4.43h-3.9zM85.4 188.8h1.3v4.43h-1.3zM36.5 193.2h2.8v4.43h-2.8zM51.2 193.2h1.3v4.43h-1.3zM93.3 197.7h1.3v4.43h-1.3zM64.3 202.1h1.3v4.43h-1.3zM70.9 202.1h1.3v4.43h-1.3zM91.9 202.1h2.6v4.43h-2.6zM45.9 206.5h2.6v4.43h-2.6zM84.0 206.5h1.3v4.43h-1.3zM66.9 210.9h1.3v4.43h-1.3zM81.4 210.9h1.3v4.43h-1.3zM56.4 215.4h1.3v4.43h-1.3zM55.1 219.8h1.3v4.43h-1.3zM73.5 219.8h1.3v4.43h-1.3zM95.9 224.2h1.3v4.43h-1.3zM63.0 228.7h1.3v4.43h-1.3zM95.9 228.7h1.3v4.43h-1.3zM144.6 228.7h1.3v4.43h-1.3zM149.8 233.1h1.3v4.43h-1.3zM206.4 233.1h1.3v4.43h-1.3zM199.8 237.5h1.3v4.43h-1.3zM216.9 237.5h1.3v4.43h-1.3zM155.1 242.0h1.3v4.43h-1.3zM209.0 242.0h1.3v4.43h-1.3zM135.4 246.4h1.3v4.43h-1.3zM140.6 246.4h1.3v4.43h-1.3zM214.3 246.4h1.3v4.43h-1.3zM147.2 250.8h1.3v4.43h-1.3zM152.5 250.8h1.3v4.43h-1.3zM305.1 250.8h1.3v4.43h-1.3zM351.1 250.8h1.3v4.43h-1.3zM356.4 250.8h1.3v4.43h-1.3zM390.6 250.8h2.6v4.43h-2.6zM410.3 250.8h1.3v4.43h-1.3zM424.8 250.8h1.3v4.43h-1.3zM428.8 250.8h1.3v4.43h-1.3zM149.8 255.3h1.3v4.43h-1.3zM344.6 255.3h1.3v4.43h-1.3zM56.4 259.7h1.3v4.43h-1.3zM109.0 259.7h1.3v4.43h-1.3zM128.8 259.7h1.3v4.43h-1.3zM198.5 259.7h1.3v4.43h-1.3zM261.7 259.7h1.3v4.43h-1.3zM269.6 259.7h1.3v4.43h-1.3zM310.3 259.7h1.3v4.43h-1.3zM423.5 259.7h1.3v4.43h-1.3zM430.1 259.7h1.3v4.43h-1.3zM145.9 264.1h1.3v4.43h-1.3zM152.5 264.1h1.3v4.43h-1.3zM159.0 264.1h1.3v4.43h-1.3zM199.8 264.1h1.3v4.43h-1.3zM301.1 264.1h1.3v4.43h-1.3zM310.3 264.1h1.3v4.43h-1.3zM352.4 264.1h1.3v4.43h-1.3zM374.8 264.1h1.3v4.43h-1.3zM391.9 264.1h1.3v4.43h-1.3zM414.3 264.1h1.3v4.43h-1.3zM427.4 264.1h1.3v4.43h-1.3zM149.8 268.6h1.3v4.43h-1.3zM348.5 268.6h1.3v4.43h-1.3zM370.9 268.6h1.3v4.43h-1.3zM374.8 268.6h1.3v4.43h-1.3zM377.4 268.6h1.3v4.43h-1.3zM398.5 268.6h1.3v4.43h-1.3zM424.8 268.6h1.3v4.43h-1.3zM430.1 268.6h1.3v4.43h-1.3zM356.4 273.0h1.3v4.43h-1.3zM359.0 273.0h1.3v4.43h-1.3zM368.2 273.0h1.3v4.43h-1.3zM426.1 273.0h1.3v4.43h-1.3zM143.3 277.4h1.3v4.43h-1.3zM181.4 277.4h1.3v4.43h-1.3zM206.4 277.4h1.3v4.43h-1.3zM238.0 277.4h2.6v4.43h-2.6zM314.3 277.4h1.3v4.43h-1.3zM328.8 277.4h1.3v4.43h-1.3zM334.0 277.4h1.3v4.43h-1.3zM360.3 277.4h1.3v4.43h-1.3zM407.7 277.4h1.3v4.43h-1.3zM422.2 277.4h1.3v4.43h-1.3zM177.5 281.8h1.3v4.43h-1.3zM238.0 281.8h1.3v4.43h-1.3zM240.6 281.8h1.3v4.43h-1.3zM244.6 281.8h1.3v4.43h-1.3zM264.3 281.8h1.3v4.43h-1.3zM274.8 281.8h1.3v4.43h-1.3zM327.4 281.8h2.6v4.43h-2.6zM130.1 286.3h2.6v4.43h-2.6zM155.1 286.3h1.3v4.43h-1.3zM210.4 286.3h1.3v4.43h-1.3zM228.8 286.3h1.3v4.43h-1.3zM302.4 286.3h1.3v4.43h-1.3zM378.8 286.3h1.3v4.43h-1.3zM82.7 290.7h1.3v4.43h-1.3zM93.3 290.7h1.3v4.43h-1.3zM173.5 290.7h1.3v4.43h-1.3zM219.6 290.7h1.3v4.43h-1.3zM224.8 290.7h1.3v4.43h-1.3zM252.5 290.7h1.3v4.43h-1.3zM261.7 290.7h1.3v4.43h-1.3zM266.9 290.7h1.3v4.43h-1.3zM285.3 290.7h2.6v4.43h-2.6zM313.0 290.7h1.3v4.43h-1.3zM352.4 290.7h1.3v4.43h-1.3zM109.0 295.1h1.3v4.43h-1.3zM140.6 295.1h2.6v4.43h-2.6zM152.5 295.1h1.3v4.43h-1.3zM165.6 295.1h2.6v4.43h-2.6zM169.6 295.1h1.3v4.43h-1.3zM176.1 295.1h1.3v4.43h-1.3zM201.1 295.1h1.3v4.43h-1.3zM248.5 295.1h1.3v4.43h-1.3zM255.1 295.1h1.3v4.43h-1.3zM285.3 295.1h1.3v4.43h-1.3zM303.8 295.1h1.3v4.43h-1.3zM323.5 295.1h2.6v4.43h-2.6zM343.2 295.1h1.3v4.43h-1.3zM361.7 295.1h2.6v4.43h-2.6zM366.9 295.1h1.3v4.43h-1.3zM372.2 295.1h2.6v4.43h-2.6zM45.9 299.6h1.3v5.93h-1.3zM73.5 299.6h1.3v5.93h-1.3zM91.9 299.6h1.3v5.93h-1.3zM113.0 299.6h1.3v5.93h-1.3zM140.6 299.6h1.3v5.93h-1.3zM153.8 299.6h1.3v5.93h-1.3zM161.7 299.6h1.3v5.93h-1.3zM172.2 299.6h1.3v5.93h-1.3zM189.3 299.6h1.3v5.93h-1.3zM213.0 299.6h1.3v5.93h-1.3zM235.3 299.6h1.3v5.93h-1.3zM238.0 299.6h1.3v5.93h-1.3zM273.5 299.6h1.3v5.93h-1.3zM286.7 299.6h1.3v5.93h-1.3zM327.4 299.6h2.6v5.93h-2.6zM334.0 299.6h1.3v5.93h-1.3z"/>
<path fill="#a8dcee" d="M49.8 45.5h1.3v5.93h-1.3zM76.2 45.5h1.3v5.93h-1.3zM47.2 51.4h2.6v4.43h-2.6zM73.5 51.4h1.3v4.43h-1.3zM57.7 55.9h1.3v4.43h-1.3zM78.8 55.9h1.3v4.43h-1.3zM44.6 60.3h1.3v4.43h-1.3zM48.5 60.3h1.3v4.43h-1.3zM64.3 60.3h1.3v4.43h-1.3zM73.5 60.3h1.3v4.43h-1.3zM73.5 64.7h1.3v4.43h-1.3zM84.0 69.2h1.3v4.43h-1.3zM93.3 69.2h1.3v4.43h-1.3zM41.9 73.6h1.3v4.43h-1.3zM45.9 73.6h1.3v4.43h-1.3zM49.8 73.6h1.3v4.43h-1.3zM64.3 73.6h1.3v4.43h-1.3zM52.5 78.0h1.3v4.43h-1.3zM63.0 78.0h2.6v4.43h-2.6zM88.0 78.0h1.3v4.43h-1.3zM91.9 78.0h1.3v4.43h-1.3zM72.2 82.4h1.3v4.43h-1.3zM74.8 82.4h2.6v4.43h-2.6zM78.8 86.9h1.3v4.43h-1.3zM52.5 91.3h1.3v4.43h-1.3zM77.5 91.3h1.3v4.43h-1.3zM91.9 91.3h1.3v4.43h-1.3zM76.2 95.7h1.3v4.43h-1.3zM90.6 95.7h2.6v4.43h-2.6zM57.7 100.2h1.3v4.43h-1.3zM64.3 100.2h1.3v4.43h-1.3zM48.5 104.6h1.3v4.43h-1.3zM73.5 104.6h2.6v4.43h-2.6zM90.6 104.6h1.3v4.43h-1.3zM95.9 104.6h1.3v4.43h-1.3zM57.7 109.0h1.3v4.43h-1.3zM91.9 109.0h1.3v4.43h-1.3zM41.9 113.5h1.3v4.43h-1.3zM69.6 113.5h1.3v4.43h-1.3zM39.3 117.9h1.3v4.43h-1.3zM64.3 117.9h1.3v4.43h-1.3zM84.0 117.9h1.3v4.43h-1.3zM88.0 117.9h1.3v4.43h-1.3zM49.8 122.3h1.3v4.43h-1.3zM56.4 122.3h1.3v4.43h-1.3zM76.2 122.3h1.3v4.43h-1.3zM69.6 126.8h1.3v4.43h-1.3zM73.5 126.8h1.3v4.43h-1.3zM95.9 126.8h1.3v4.43h-1.3zM72.2 131.2h1.3v4.43h-1.3zM76.2 131.2h1.3v4.43h-1.3zM69.6 135.6h1.3v4.43h-1.3zM45.9 140.1h1.3v4.43h-1.3zM57.7 140.1h1.3v4.43h-1.3zM64.3 140.1h1.3v4.43h-1.3zM89.3 140.1h1.3v4.43h-1.3zM91.9 140.1h1.3v4.43h-1.3zM45.9 144.5h1.3v4.43h-1.3zM57.7 148.9h1.3v4.43h-1.3zM45.9 153.3h1.3v4.43h-1.3zM65.6 153.3h1.3v4.43h-1.3zM76.2 153.3h1.3v4.43h-1.3zM91.9 153.3h1.3v4.43h-1.3zM39.3 157.8h1.3v4.43h-1.3zM48.5 157.8h1.3v4.43h-1.3zM84.0 157.8h1.3v4.43h-1.3zM72.2 171.1h1.3v4.43h-1.3zM84.0 171.1h1.3v4.43h-1.3zM93.3 171.1h1.3v4.43h-1.3zM41.9 175.5h1.3v4.43h-1.3zM82.7 175.5h1.3v4.43h-1.3zM56.4 179.9h1.3v4.43h-1.3zM72.2 184.4h1.3v4.43h-1.3zM84.0 184.4h1.3v4.43h-1.3zM82.7 188.8h1.3v4.43h-1.3zM89.3 188.8h1.3v4.43h-1.3zM49.8 193.2h1.3v4.43h-1.3zM45.9 197.7h1.3v4.43h-1.3zM56.4 197.7h1.3v4.43h-1.3zM70.9 197.7h1.3v4.43h-1.3zM40.6 202.1h1.3v4.43h-1.3zM45.9 202.1h1.3v4.43h-1.3zM57.7 206.5h1.3v4.43h-1.3zM74.8 206.5h2.6v4.43h-2.6zM44.6 210.9h1.3v4.43h-1.3zM48.5 210.9h1.3v4.43h-1.3zM51.2 210.9h1.3v4.43h-1.3zM64.3 215.4h1.3v4.43h-1.3zM80.1 215.4h1.3v4.43h-1.3zM52.5 219.8h1.3v4.43h-1.3zM74.8 219.8h1.3v4.43h-1.3zM47.2 224.2h2.6v4.43h-2.6zM93.3 224.2h1.3v4.43h-1.3zM65.6 228.7h1.3v4.43h-1.3zM68.3 228.7h1.3v4.43h-1.3zM81.4 228.7h1.3v4.43h-1.3zM93.3 228.7h1.3v4.43h-1.3zM144.6 233.1h1.3v4.43h-1.3zM155.1 233.1h1.3v4.43h-1.3zM177.5 233.1h1.3v4.43h-1.3zM181.4 233.1h1.3v4.43h-1.3zM193.2 233.1h1.3v4.43h-1.3zM197.2 233.1h1.3v4.43h-1.3zM423.5 250.8h1.3v4.43h-1.3zM345.9 255.3h1.3v4.43h-1.3zM105.1 259.7h1.3v4.43h-1.3zM116.9 259.7h1.3v4.43h-1.3zM123.5 259.7h1.3v4.43h-1.3zM209.0 259.7h1.3v4.43h-1.3zM215.6 259.7h1.3v4.43h-1.3zM247.2 259.7h1.3v4.43h-1.3zM260.3 259.7h1.3v4.43h-1.3zM277.5 259.7h1.3v4.43h-1.3zM301.1 259.7h1.3v4.43h-1.3zM318.2 259.7h1.3v4.43h-1.3zM360.3 259.7h1.3v4.43h-1.3zM368.2 259.7h1.3v4.43h-1.3zM419.5 259.7h1.3v4.43h-1.3zM427.4 259.7h1.3v4.43h-1.3zM349.8 264.1h1.3v4.43h-1.3zM424.8 264.1h1.3v4.43h-1.3zM344.6 268.6h1.3v4.43h-1.3zM345.9 273.0h1.3v4.43h-1.3zM388.0 273.0h1.3v4.43h-1.3zM113.0 277.4h1.3v4.43h-1.3zM116.9 277.4h1.3v4.43h-1.3zM124.8 277.4h1.3v4.43h-1.3zM140.6 277.4h1.3v4.43h-1.3zM210.4 277.4h1.3v4.43h-1.3zM235.3 277.4h1.3v4.43h-1.3zM260.3 277.4h2.6v4.43h-2.6zM281.4 277.4h1.3v4.43h-1.3zM356.4 277.4h1.3v4.43h-1.3zM365.6 277.4h1.3v4.43h-1.3zM374.8 277.4h1.3v4.43h-1.3zM390.6 277.4h1.3v4.43h-1.3zM351.1 281.8h2.6v4.43h-2.6zM365.6 281.8h1.3v4.43h-1.3zM103.8 286.3h1.3v4.43h-1.3zM163.0 286.3h1.3v4.43h-1.3zM170.9 286.3h1.3v4.43h-1.3zM220.9 286.3h1.3v4.43h-1.3zM224.8 286.3h1.3v4.43h-1.3zM314.3 286.3h1.3v4.43h-1.3zM341.9 286.3h1.3v4.43h-1.3zM384.0 286.3h1.3v4.43h-1.3zM389.3 286.3h1.3v4.43h-1.3zM407.7 286.3h1.3v4.43h-1.3zM423.5 286.3h1.3v4.43h-1.3zM428.8 286.3h1.3v4.43h-1.3zM111.7 290.7h1.3v4.43h-1.3zM178.8 290.7h1.3v4.43h-1.3zM199.8 290.7h2.6v4.43h-2.6zM211.7 290.7h1.3v4.43h-1.3zM214.3 290.7h1.3v4.43h-1.3zM272.2 290.7h1.3v4.43h-1.3zM288.0 290.7h1.3v4.43h-1.3zM291.9 290.7h1.3v4.43h-1.3zM318.2 290.7h1.3v4.43h-1.3zM335.3 290.7h1.3v4.43h-1.3zM348.5 290.7h1.3v4.43h-1.3zM368.2 290.7h1.3v4.43h-1.3zM384.0 290.7h1.3v4.43h-1.3zM51.2 299.6h1.3v5.93h-1.3zM66.9 299.6h1.3v5.93h-1.3zM77.5 299.6h1.3v5.93h-1.3zM103.8 299.6h1.3v5.93h-1.3zM128.8 299.6h1.3v5.93h-1.3zM144.6 299.6h1.3v5.93h-1.3zM178.8 299.6h1.3v5.93h-1.3zM181.4 299.6h1.3v5.93h-1.3zM209.0 299.6h2.6v5.93h-2.6zM255.1 299.6h1.3v5.93h-1.3zM266.9 299.6h1.3v5.93h-1.3zM309.0 299.6h1.3v5.93h-1.3zM324.8 299.6h1.3v5.93h-1.3zM338.0 299.6h1.3v5.93h-1.3zM409.0 299.6h1.3v5.93h-1.3z"/>
<path fill="#b3e0ef" d="M39.3 51.4h2.6v4.43h-2.6zM49.8 51.4h2.6v4.43h-2.6zM56.4 55.9h1.3v4.43h-1.3zM70.9 55.9h1.3v4.43h-1.3zM91.9 55.9h1.3v4.43h-1.3zM39.3 60.3h1.3v4.43h-1.3zM45.9 60.3h1.3v4.43h-1.3zM55.1 60.3h1.3v4.43h-1.3zM82.7 60.3h1.3v4.43h-1.3zM85.4 69.2h1.3v4.43h-1.3zM44.6 78.0h1.3v4.43h-1.3zM47.2 78.0h2.6v4.43h-2.6zM55.1 78.0h1.3v4.43h-1.3zM66.9 78.0h1.3v4.43h-1.3zM40.6 86.9h1.3v4.43h-1.3zM52.5 86.9h1.3v4.43h-1.3zM85.4 86.9h1.3v4.43h-1.3zM48.5 91.3h2.6v4.43h-2.6zM93.3 91.3h1.3v4.43h-1.3zM44.6 95.7h1.3v4.43h-1.3zM49.8 95.7h1.3v4.43h-1.3zM65.6 95.7h1.3v4.43h-1.3zM70.9 95.7h1.3v4.43h-1.3zM39.3 100.2h1.3v4.43h-1.3zM47.2 104.6h1.3v4.43h-1.3zM89.3 104.6h1.3v4.43h-1.3zM55.1 109.0h1.3v4.43h-1.3zM89.3 109.0h1.3v4.43h-1.3zM47.2 113.5h1.3v4.43h-1.3zM70.9 113.5h1.3v4.43h-1.3zM80.1 113.5h1.3v4.43h-1.3zM86.7 113.5h1.3v4.43h-1.3zM89.3 113.5h1.3v4.43h-1.3zM36.5 117.9h2.8v4.43h-2.8zM52.5 117.9h1.3v4.43h-1.3zM63.0 117.9h1.3v4.43h-1.3zM69.6 117.9h1.3v4.43h-1.3zM91.9 117.9h1.3v4.43h-1.3zM82.7 122.3h3.9v4.43h-3.9zM47.2 126.8h1.3v4.43h-1.3zM36.5 140.1h2.8v4.43h-2.8zM68.3 140.1h1.3v4.43h-1.3zM73.5 140.1h1.3v4.43h-1.3zM76.2 140.1h1.3v4.43h-1.3zM86.7 140.1h1.3v4.43h-1.3zM49.8 144.5h1.3v4.43h-1.3zM56.4 144.5h2.6v4.43h-2.6zM81.4 144.5h1.3v4.43h-1.3zM84.0 144.5h1.3v4.43h-1.3zM89.3 144.5h1.3v4.43h-1.3zM41.9 148.9h1.3v4.43h-1.3zM70.9 148.9h1.3v4.43h-1.3zM51.2 153.3h1.3v4.43h-1.3zM49.8 157.8h1.3v4.43h-1.3zM69.6 157.8h1.3v4.43h-1.3zM74.8 157.8h1.3v4.43h-1.3zM82.7 157.8h1.3v4.43h-1.3zM69.6 171.1h1.3v4.43h-1.3zM74.8 171.1h1.3v4.43h-1.3zM95.9 171.1h1.3v4.43h-1.3zM39.3 175.5h1.3v4.43h-1.3zM88.0 175.5h2.6v4.43h-2.6zM72.2 179.9h1.3v4.43h-1.3zM74.8 179.9h1.3v4.43h-1.3zM84.0 179.9h1.3v4.43h-1.3zM339.3 179.9h1.3v4.43h-1.3zM39.3 184.4h1.3v4.43h-1.3zM52.5 184.4h1.3v4.43h-1.3zM64.3 184.4h1.3v4.43h-1.3zM81.4 184.4h1.3v4.43h-1.3zM48.5 188.8h1.3v4.43h-1.3zM65.6 188.8h1.3v4.43h-1.3zM69.6 188.8h1.3v4.43h-1.3zM93.3 188.8h1.3v4.43h-1.3zM40.6 193.2h1.3v4.43h-1.3zM64.3 193.2h1.3v4.43h-1.3zM66.9 193.2h1.3v4.43h-1.3zM74.8 193.2h1.3v4.43h-1.3zM39.3 197.7h1.3v4.43h-1.3zM48.5 197.7h1.3v4.43h-1.3zM52.5 197.7h1.3v4.43h-1.3zM66.9 197.7h1.3v4.43h-1.3zM69.6 197.7h1.3v4.43h-1.3zM51.2 202.1h1.3v4.43h-1.3zM43.3 206.5h1.3v4.43h-1.3zM89.3 206.5h1.3v4.43h-1.3zM82.7 210.9h1.3v4.43h-1.3zM49.8 215.4h1.3v4.43h-1.3zM57.7 215.4h1.3v4.43h-1.3zM68.3 215.4h1.3v4.43h-1.3zM49.8 219.8h1.3v4.43h-1.3zM57.7 219.8h1.3v4.43h-1.3zM36.5 224.2h2.8v4.43h-2.8zM45.9 224.2h1.3v4.43h-1.3zM82.7 224.2h1.3v4.43h-1.3zM124.8 233.1h1.3v4.43h-1.3zM143.3 233.1h1.3v4.43h-1.3zM161.7 233.1h1.3v4.43h-1.3zM165.6 233.1h1.3v4.43h-1.3zM182.7 233.1h1.3v4.43h-1.3zM205.1 233.1h1.3v4.43h-1.3zM299.8 237.5h1.3v4.43h-1.3zM107.7 242.0h1.3v4.43h-1.3zM373.5 250.8h1.3v4.43h-1.3zM426.1 250.8h1.3v4.43h-1.3zM376.1 255.3h1.3v4.43h-1.3zM428.8 255.3h1.3v4.43h-1.3zM351.1 259.7h1.3v4.43h-1.3zM355.1 259.7h1.3v4.43h-1.3zM359.0 259.7h1.3v4.43h-1.3zM374.8 259.7h1.3v4.43h-1.3zM378.8 259.7h1.3v4.43h-1.3zM428.8 259.7h1.3v4.43h-1.3zM353.8 264.1h1.3v4.43h-1.3zM357.7 264.1h1.3v4.43h-1.3zM384.0 264.1h1.3v4.43h-1.3zM426.1 264.1h1.3v4.43h-1.3zM352.4 268.6h2.6v4.43h-2.6zM360.3 268.6h1.3v4.43h-1.3zM393.2 268.6h1.3v4.43h-1.3zM422.2 268.6h2.6v4.43h-2.6zM427.4 268.6h1.3v4.43h-1.3zM178.8 277.4h1.3v4.43h-1.3zM372.2 277.4h1.3v4.43h-1.3zM426.1 277.4h1.3v4.43h-1.3zM428.8 277.4h1.3v4.43h-1.3zM345.9 281.8h1.3v4.43h-1.3zM348.5 281.8h1.3v4.43h-1.3zM407.7 281.8h1.3v4.43h-1.3zM428.8 281.8h1.3v4.43h-1.3zM273.5 286.3h1.3v4.43h-1.3zM349.8 286.3h1.3v4.43h-1.3zM422.2 286.3h1.3v4.43h-1.3zM128.8 290.7h1.3v4.43h-1.3zM136.7 290.7h1.3v4.43h-1.3zM165.6 290.7h1.3v4.43h-1.3zM241.9 290.7h1.3v4.43h-1.3zM360.3 290.7h1.3v4.43h-1.3zM365.6 290.7h1.3v4.43h-1.3zM47.2 299.6h1.3v5.93h-1.3zM107.7 299.6h1.3v5.93h-1.3zM124.8 299.6h1.3v5.93h-1.3zM145.9 299.6h1.3v5.93h-1.3zM149.8 299.6h1.3v5.93h-1.3zM155.1 299.6h1.3v5.93h-1.3zM173.5 299.6h1.3v5.93h-1.3zM193.2 299.6h1.3v5.93h-1.3zM199.8 299.6h1.3v5.93h-1.3zM241.9 299.6h1.3v5.93h-1.3z"/>
<path fill="#bee4f0" d="M45.9 45.5h1.3v5.93h-1.3zM51.2 45.5h1.3v5.93h-1.3zM81.4 45.5h1.3v5.93h-1.3zM84.0 45.5h1.3v5.93h-1.3zM386.7 45.5h1.3v5.93h-1.3zM41.9 51.4h1.3v4.43h-1.3zM40.6 55.9h1.3v4.43h-1.3zM45.9 55.9h1.3v4.43h-1.3zM49.8 55.9h1.3v4.43h-1.3zM49.8 60.3h1.3v4.43h-1.3zM69.6 60.3h1.3v4.43h-1.3zM74.8 60.3h1.3v4.43h-1.3zM84.0 60.3h1.3v4.43h-1.3zM77.5 64.7h1.3v4.43h-1.3zM49.8 69.2h1.3v4.43h-1.3zM57.7 69.2h1.3v4.43h-1.3zM47.2 73.6h1.3v4.43h-1.3zM52.5 73.6h1.3v4.43h-1.3zM78.8 73.6h5.3v4.43h-5.3zM413.0 73.6h1.3v4.43h-1.3zM49.8 78.0h1.3v4.43h-1.3zM84.0 78.0h1.3v4.43h-1.3zM55.1 82.4h1.3v4.43h-1.3zM65.6 82.4h2.6v4.43h-2.6zM55.1 86.9h1.3v4.43h-1.3zM74.8 86.9h1.3v4.43h-1.3zM123.5 86.9h1.3v4.43h-1.3zM57.7 91.3h1.3v4.43h-1.3zM39.3 95.7h1.3v4.43h-1.3zM47.2 95.7h1.3v4.43h-1.3zM51.2 95.7h1.3v4.43h-1.3zM57.7 95.7h1.3v4.43h-1.3zM93.3 95.7h1.3v4.43h-1.3zM127.5 95.7h1.3v4.43h-1.3zM44.6 100.2h1.3v4.43h-1.3zM66.9 100.2h1.3v4.43h-1.3zM84.0 100.2h1.3v4.43h-1.3zM39.3 104.6h1.3v4.43h-1.3zM52.5 104.6h1.3v4.43h-1.3zM82.7 104.6h1.3v4.43h-1.3zM88.0 104.6h1.3v4.43h-1.3zM91.9 104.6h1.3v4.43h-1.3zM261.7 104.6h1.3v4.43h-1.3zM68.3 109.0h1.3v4.43h-1.3zM55.1 113.5h1.3v4.43h-1.3zM74.8 113.5h1.3v4.43h-1.3zM61.7 117.9h1.3v4.43h-1.3zM81.4 117.9h1.3v4.43h-1.3zM44.6 122.3h1.3v4.43h-1.3zM47.2 122.3h1.3v4.43h-1.3zM66.9 122.3h1.3v4.43h-1.3zM91.9 122.3h1.3v4.43h-1.3zM45.9 126.8h1.3v4.43h-1.3zM82.7 126.8h1.3v4.43h-1.3zM93.3 126.8h1.3v4.43h-1.3zM361.7 126.8h1.3v4.43h-1.3zM36.5 131.2h2.8v4.43h-2.8zM82.7 131.2h1.3v4.43h-1.3zM119.6 131.2h1.3v4.43h-1.3zM64.3 135.6h1.3v4.43h-1.3zM80.1 135.6h1.3v4.43h-1.3zM91.9 135.6h1.3v4.43h-1.3zM95.9 135.6h1.3v4.43h-1.3zM70.9 140.1h1.3v4.43h-1.3zM80.1 140.1h1.3v4.43h-1.3zM93.3 140.1h1.3v4.43h-1.3zM47.2 144.5h1.3v4.43h-1.3zM74.8 144.5h1.3v4.43h-1.3zM95.9 144.5h1.3v4.43h-1.3zM238.0 144.5h1.3v4.43h-1.3zM47.2 148.9h2.6v4.43h-2.6zM69.6 148.9h1.3v4.43h-1.3zM76.2 148.9h1.3v4.43h-1.3zM91.9 148.9h1.3v4.43h-1.3zM64.3 153.3h1.3v4.43h-1.3zM82.7 153.3h1.3v4.43h-1.3zM51.2 157.8h1.3v4.43h-1.3zM70.9 157.8h1.3v4.43h-1.3zM73.5 157.8h1.3v4.43h-1.3zM45.9 171.1h1.3v4.43h-1.3zM49.8 171.1h1.3v4.43h-1.3zM89.3 171.1h1.3v4.43h-1.3zM40.6 175.5h1.3v4.43h-1.3zM55.1 175.5h1.3v4.43h-1.3zM84.0 175.5h1.3v4.43h-1.3zM95.9 175.5h1.3v4.43h-1.3zM52.5 179.9h1.3v4.43h-1.3zM66.9 179.9h1.3v4.43h-1.3zM91.9 179.9h1.3v4.43h-1.3zM74.8 184.4h1.3v4.43h-1.3zM93.3 184.4h1.3v4.43h-1.3zM95.9 184.4h1.3v4.43h-1.3zM49.8 188.8h1.3v4.43h-1.3zM55.1 188.8h1.3v4.43h-1.3zM95.9 188.8h1.3v4.43h-1.3zM160.4 188.8h1.3v4.43h-1.3zM45.9 193.2h1.3v4.43h-1.3zM69.6 193.2h1.3v4.43h-1.3zM76.2 193.2h1.3v4.43h-1.3zM82.7 193.2h1.3v4.43h-1.3zM57.7 197.7h1.3v4.43h-1.3zM63.0 197.7h1.3v4.43h-1.3zM68.3 197.7h1.3v4.43h-1.3zM73.5 197.7h1.3v4.43h-1.3zM85.4 197.7h1.3v4.43h-1.3zM89.3 197.7h1.3v4.43h-1.3zM69.6 202.1h1.3v4.43h-1.3zM76.2 202.1h1.3v4.43h-1.3zM95.9 202.1h1.3v4.43h-1.3zM51.2 206.5h2.6v4.43h-2.6zM52.5 210.9h1.3v4.43h-1.3zM74.8 210.9h1.3v4.43h-1.3zM48.5 215.4h1.3v4.43h-1.3zM70.9 215.4h1.3v4.43h-1.3zM89.3 215.4h1.3v4.43h-1.3zM310.3 215.4h3.9v4.43h-3.9zM69.6 219.8h1.3v4.43h-1.3zM80.1 219.8h1.3v4.43h-1.3zM82.7 219.8h1.3v4.43h-1.3zM95.9 219.8h1.3v4.43h-1.3zM49.8 224.2h1.3v4.43h-1.3zM91.9 224.2h1.3v4.43h-1.3zM39.3 228.7h1.3v4.43h-1.3zM82.7 228.7h1.3v4.43h-1.3zM119.6 228.7h1.3v4.43h-1.3zM109.0 233.1h1.3v4.43h-1.3zM119.6 233.1h5.3v4.43h-5.3zM169.6 233.1h1.3v4.43h-1.3zM278.8 250.8h1.3v4.43h-1.3zM355.1 250.8h1.3v4.43h-1.3zM405.1 250.8h1.3v4.43h-1.3zM414.3 250.8h1.3v4.43h-1.3zM377.4 255.3h1.3v4.43h-1.3zM422.2 255.3h1.3v4.43h-1.3zM338.0 259.7h1.3v4.43h-1.3zM391.9 259.7h1.3v4.43h-1.3zM414.3 259.7h1.3v4.43h-1.3zM426.1 259.7h1.3v4.43h-1.3zM345.9 264.1h1.3v4.43h-1.3zM360.3 264.1h1.3v4.43h-1.3zM377.4 264.1h1.3v4.43h-1.3zM380.1 264.1h1.3v4.43h-1.3zM388.0 264.1h1.3v4.43h-1.3zM415.6 268.6h1.3v4.43h-1.3zM344.6 277.4h1.3v4.43h-1.3zM355.1 281.8h1.3v4.43h-1.3zM423.5 281.8h2.6v4.43h-2.6zM377.4 286.3h1.3v4.43h-1.3zM419.5 286.3h1.3v4.43h-1.3zM426.1 286.3h1.3v4.43h-1.3zM311.7 290.7h1.3v4.43h-1.3zM349.8 290.7h1.3v4.43h-1.3zM353.8 290.7h1.3v4.43h-1.3zM373.5 290.7h1.3v4.43h-1.3zM116.9 295.1h1.3v4.43h-1.3zM82.7 299.6h1.3v5.93h-1.3zM95.9 299.6h1.3v5.93h-1.3zM139.3 299.6h1.3v5.93h-1.3zM152.5 299.6h1.3v5.93h-1.3z"/>
<path fill="#cae8ea" d="M48.5 45.5h1.3v5.93h-1.3zM66.9 51.4h1.3v4.43h-1.3zM74.8 51.4h1.3v4.43h-1.3zM174.8 51.4h1.3v4.43h-1.3zM55.1 55.9h1.3v4.43h-1.3zM95.9 55.9h1.3v4.43h-1.3zM51.2 60.3h1.3v4.43h-1.3zM77.5 60.3h1.3v4.43h-1.3zM36.5 64.7h2.8v4.43h-2.8zM44.6 64.7h1.3v4.43h-1.3zM59.1 64.7h5.3v4.43h-5.3zM74.8 64.7h1.3v4.43h-1.3zM48.5 69.2h1.3v4.43h-1.3zM55.1 69.2h1.3v4.43h-1.3zM70.9 73.6h1.3v4.43h-1.3zM43.3 78.0h1.3v4.43h-1.3zM82.7 78.0h1.3v4.43h-1.3zM49.8 82.4h1.3v4.43h-1.3zM89.3 82.4h1.3v4.43h-1.3zM57.7 86.9h1.3v4.43h-1.3zM69.6 86.9h1.3v4.43h-1.3zM84.0 86.9h1.3v4.43h-1.3zM89.3 86.9h1.3v4.43h-1.3zM95.9 95.7h1.3v4.43h-1.3zM51.2 100.2h1.3v4.43h-1.3zM56.4 100.2h1.3v4.43h-1.3zM95.9 100.2h1.3v4.43h-1.3zM41.9 104.6h1.3v4.43h-1.3zM76.2 104.6h1.3v4.43h-1.3zM93.3 104.6h1.3v4.43h-1.3zM293.2 104.6h1.3v4.43h-1.3zM49.8 109.0h1.3v4.43h-1.3zM91.9 113.5h1.3v4.43h-1.3zM95.9 113.5h1.3v4.43h-1.3zM77.5 117.9h1.3v4.43h-1.3zM48.5 122.3h1.3v4.43h-1.3zM70.9 122.3h1.3v4.43h-1.3zM90.6 122.3h1.3v4.43h-1.3zM93.3 122.3h1.3v4.43h-1.3zM95.9 122.3h1.3v4.43h-1.3zM76.2 126.8h1.3v4.43h-1.3zM132.7 126.8h1.3v4.43h-1.3zM47.2 140.1h1.3v4.43h-1.3zM39.3 144.5h1.3v4.43h-1.3zM86.7 144.5h1.3v4.43h-1.3zM91.9 144.5h1.3v4.43h-1.3zM193.2 153.3h1.3v4.43h-1.3zM41.9 171.1h1.3v4.43h-1.3zM55.1 171.1h2.6v4.43h-2.6zM61.7 171.1h1.3v4.43h-1.3zM76.2 171.1h1.3v4.43h-1.3zM91.9 171.1h1.3v4.43h-1.3zM41.9 179.9h1.3v4.43h-1.3zM48.5 179.9h1.3v4.43h-1.3zM57.7 179.9h1.3v4.43h-1.3zM68.3 179.9h1.3v4.43h-1.3zM82.7 179.9h1.3v4.43h-1.3zM93.3 179.9h1.3v4.43h-1.3zM95.9 179.9h1.3v4.43h-1.3zM66.9 184.4h1.3v4.43h-1.3zM105.1 188.8h1.3v4.43h-1.3zM47.2 197.7h1.3v4.43h-1.3zM80.1 197.7h1.3v4.43h-1.3zM55.1 202.1h1.3v4.43h-1.3zM73.5 202.1h1.3v4.43h-1.3zM39.3 210.9h1.3v4.43h-1.3zM69.6 210.9h1.3v4.43h-1.3zM76.2 210.9h1.3v4.43h-1.3zM55.1 215.4h1.3v4.43h-1.3zM73.5 215.4h1.3v4.43h-1.3zM303.8 215.4h3.9v4.43h-3.9zM56.4 219.8h1.3v4.43h-1.3zM89.3 219.8h1.3v4.43h-1.3zM201.1 219.8h1.3v4.43h-1.3zM52.5 224.2h1.3v4.43h-1.3zM76.2 224.2h1.3v4.43h-1.3zM89.3 224.2h1.3v4.43h-1.3zM52.5 228.7h1.3v4.43h-1.3zM56.4 228.7h1.3v4.43h-1.3zM103.8 233.1h5.3v4.43h-5.3zM127.5 233.1h11.8v4.43h-11.8zM203.8 233.1h1.3v4.43h-1.3zM109.0 246.4h1.3v4.43h-1.3zM323.5 246.4h1.3v4.43h-1.3zM323.5 250.8h1.3v4.43h-1.3zM378.8 250.8h1.3v4.43h-1.3zM398.5 250.8h1.3v4.43h-1.3zM430.1 250.8h1.3v4.43h-1.3zM378.8 255.3h5.3v4.43h-5.3zM394.5 255.3h6.6v4.43h-6.6zM407.7 255.3h1.3v4.43h-1.3zM370.9 259.7h1.3v4.43h-1.3zM390.6 259.7h1.3v4.43h-1.3zM411.6 259.7h1.3v4.43h-1.3zM424.8 259.7h1.3v4.43h-1.3zM294.6 264.1h1.3v4.43h-1.3zM315.6 264.1h1.3v4.43h-1.3zM376.1 264.1h1.3v4.43h-1.3zM378.8 264.1h1.3v4.43h-1.3zM382.7 264.1h1.3v4.43h-1.3zM419.5 264.1h1.3v4.43h-1.3zM423.5 264.1h1.3v4.43h-1.3zM430.1 264.1h1.3v4.43h-1.3zM373.5 268.6h1.3v4.43h-1.3zM378.8 268.6h1.3v4.43h-1.3zM389.3 268.6h1.3v4.43h-1.3zM405.1 268.6h1.3v4.43h-1.3zM345.9 277.4h1.3v4.43h-1.3zM373.5 277.4h1.3v4.43h-1.3zM427.4 277.4h1.3v4.43h-1.3zM389.3 290.7h1.3v4.43h-1.3zM398.5 290.7h1.3v4.43h-1.3zM407.7 290.7h1.3v4.43h-1.3zM410.3 290.7h1.3v4.43h-1.3zM341.9 295.1h1.3v4.43h-1.3zM399.8 295.1h1.3v4.43h-1.3zM411.6 295.1h1.3v4.43h-1.3zM416.9 295.1h3.9v4.43h-3.9zM423.5 295.1h1.3v4.43h-1.3zM426.1 295.1h1.3v4.43h-1.3zM44.6 299.6h1.3v5.93h-1.3zM93.3 299.6h1.3v5.93h-1.3z"/>
<path fill="#d6ece3" d="M82.7 45.5h1.3v5.93h-1.3zM89.3 45.5h1.3v5.93h-1.3zM76.2 51.4h1.3v4.43h-1.3zM82.7 51.4h1.3v4.43h-1.3zM73.5 55.9h1.3v4.43h-1.3zM52.5 60.3h1.3v4.43h-1.3zM68.3 60.3h1.3v4.43h-1.3zM76.2 60.3h1.3v4.43h-1.3zM49.8 64.7h3.9v4.43h-3.9zM64.3 64.7h3.9v4.43h-3.9zM89.3 64.7h3.9v4.43h-3.9zM55.1 73.6h1.3v4.43h-1.3zM57.7 73.6h1.3v4.43h-1.3zM164.3 82.4h1.3v4.43h-1.3zM39.3 86.9h1.3v4.43h-1.3zM73.5 86.9h1.3v4.43h-1.3zM45.9 91.3h1.3v4.43h-1.3zM70.9 91.3h1.3v4.43h-1.3zM74.8 91.3h1.3v4.43h-1.3zM95.9 91.3h1.3v4.43h-1.3zM301.1 109.0h1.3v4.43h-1.3zM188.0 122.3h1.3v4.43h-1.3zM206.4 135.6h1.3v4.43h-1.3zM231.4 135.6h1.3v4.43h-1.3zM51.2 144.5h1.3v4.43h-1.3zM270.9 153.3h1.3v4.43h-1.3zM70.9 171.1h1.3v4.43h-1.3zM109.0 175.5h1.3v4.43h-1.3zM63.0 179.9h1.3v4.43h-1.3zM43.3 184.4h1.3v4.43h-1.3zM51.2 184.4h1.3v4.43h-1.3zM55.1 184.4h1.3v4.43h-1.3zM39.3 188.8h1.3v4.43h-1.3zM90.6 188.8h1.3v4.43h-1.3zM77.5 193.2h1.3v4.43h-1.3zM95.9 193.2h1.3v4.43h-1.3zM328.8 206.5h1.3v4.43h-1.3zM47.2 210.9h1.3v4.43h-1.3zM64.3 210.9h1.3v4.43h-1.3zM68.3 210.9h1.3v4.43h-1.3zM81.4 215.4h1.3v4.43h-1.3zM36.5 219.8h2.8v4.43h-2.8zM48.5 219.8h1.3v4.43h-1.3zM335.3 224.2h1.3v4.43h-1.3zM339.3 233.1h3.9v4.43h-3.9zM115.6 246.4h1.3v4.43h-1.3zM359.0 255.3h15.8v4.43h-15.8zM356.4 259.7h1.3v4.43h-1.3zM377.4 259.7h1.3v4.43h-1.3zM359.0 264.1h1.3v4.43h-1.3zM365.6 264.1h1.3v4.43h-1.3zM407.7 264.1h1.3v4.43h-1.3zM355.1 268.6h1.3v4.43h-1.3zM365.6 268.6h1.3v4.43h-1.3zM368.2 268.6h2.6v4.43h-2.6zM399.8 268.6h1.3v4.43h-1.3zM426.1 268.6h1.3v4.43h-1.3zM382.7 290.7h1.3v4.43h-1.3zM390.6 290.7h1.3v4.43h-1.3zM414.3 290.7h1.3v4.43h-1.3zM380.1 295.1h1.3v4.43h-1.3zM184.0 299.6h1.3v5.93h-1.3zM236.7 299.6h1.3v5.93h-1.3zM359.0 299.6h1.3v5.93h-1.3zM377.4 299.6h1.3v5.93h-1.3zM422.2 299.6h1.3v5.93h-1.3z"/>
<path fill="#e2f0dd" d="M64.3 45.5h1.3v5.93h-1.3zM59.1 51.4h2.6v4.43h-2.6zM303.8 55.9h1.3v4.43h-1.3zM372.2 60.3h1.3v4.43h-1.3zM53.8 64.7h5.3v4.43h-5.3zM82.7 64.7h1.3v4.43h-1.3zM189.3 73.6h1.3v4.43h-1.3zM95.9 78.0h1.3v4.43h-1.3zM51.2 86.9h1.3v4.43h-1.3zM232.7 140.1h1.3v4.43h-1.3zM111.7 166.6h1.3v4.43h-1.3zM81.4 188.8h1.3v4.43h-1.3zM181.4 206.5h1.3v4.43h-1.3zM193.2 206.5h1.3v4.43h-1.3zM227.5 210.9h1.3v4.43h-1.3zM39.3 215.4h1.3v4.43h-1.3zM51.2 215.4h1.3v4.43h-1.3zM327.4 215.4h11.8v4.43h-11.8zM77.5 219.8h1.3v4.43h-1.3zM155.1 224.2h1.3v4.43h-1.3zM110.4 233.1h6.6v4.43h-6.6zM402.4 233.1h2.6v4.43h-2.6zM181.4 237.5h1.3v4.43h-1.3zM344.6 250.8h1.3v4.43h-1.3zM357.7 250.8h1.3v4.43h-1.3zM360.3 250.8h1.3v4.43h-1.3zM365.6 250.8h1.3v4.43h-1.3zM374.8 250.8h1.3v4.43h-1.3zM388.0 250.8h1.3v4.43h-1.3zM407.7 250.8h1.3v4.43h-1.3zM427.4 250.8h1.3v4.43h-1.3zM405.1 259.7h1.3v4.43h-1.3zM422.2 259.7h1.3v4.43h-1.3zM172.2 264.1h1.3v4.43h-1.3zM313.0 264.1h1.3v4.43h-1.3zM373.5 264.1h1.3v4.43h-1.3zM398.5 264.1h1.3v4.43h-1.3zM405.1 264.1h1.3v4.43h-1.3zM351.1 268.6h1.3v4.43h-1.3zM376.1 268.6h1.3v4.43h-1.3zM309.0 273.0h1.3v4.43h-1.3zM110.4 286.3h1.3v4.43h-1.3zM374.8 290.7h1.3v4.43h-1.3zM357.7 295.1h1.3v4.43h-1.3zM360.3 295.1h1.3v4.43h-1.3zM368.2 295.1h2.6v4.43h-2.6zM374.8 295.1h1.3v4.43h-1.3zM378.8 295.1h1.3v4.43h-1.3zM351.1 299.6h1.3v5.93h-1.3zM357.7 299.6h1.3v5.93h-1.3zM410.3 299.6h1.3v5.93h-1.3zM415.6 299.6h1.3v5.93h-1.3z"/>
<path fill="#ebf1d2" d="M55.1 51.4h3.9v4.43h-3.9zM245.9 51.4h1.3v4.43h-1.3zM141.9 69.2h1.3v4.43h-1.3zM56.4 78.0h1.3v4.43h-1.3zM69.6 78.0h1.3v4.43h-1.3zM76.2 78.0h1.3v4.43h-1.3zM332.7 95.7h1.3v4.43h-1.3zM91.9 215.4h1.3v4.43h-1.3zM197.2 215.4h1.3v4.43h-1.3zM51.2 219.8h1.3v4.43h-1.3zM64.3 219.8h1.3v4.43h-1.3zM66.9 219.8h1.3v4.43h-1.3zM70.9 219.8h1.3v4.43h-1.3zM377.4 250.8h1.3v4.43h-1.3zM389.3 250.8h1.3v4.43h-1.3zM422.2 250.8h1.3v4.43h-1.3zM341.9 255.3h1.3v4.43h-1.3zM389.3 255.3h1.3v4.43h-1.3zM424.8 255.3h1.3v4.43h-1.3zM161.7 259.7h1.3v4.43h-1.3zM203.8 259.7h1.3v4.43h-1.3zM344.6 259.7h2.6v4.43h-2.6zM357.7 259.7h1.3v4.43h-1.3zM195.9 264.1h1.3v4.43h-1.3zM344.6 264.1h1.3v4.43h-1.3zM370.9 264.1h1.3v4.43h-1.3zM399.8 264.1h1.3v4.43h-1.3zM390.6 268.6h1.3v4.43h-1.3zM407.7 268.6h1.3v4.43h-1.3zM255.1 277.4h1.3v4.43h-1.3zM352.4 295.1h1.3v4.43h-1.3zM377.4 295.1h1.3v4.43h-1.3zM410.3 295.1h1.3v4.43h-1.3zM352.4 299.6h1.3v5.93h-1.3zM360.3 299.6h1.3v5.93h-1.3z"/>
<path fill="#f0efc3" d="M263.0 69.2h1.3v4.43h-1.3zM331.4 82.4h1.3v4.43h-1.3zM248.5 91.3h1.3v4.43h-1.3zM422.2 109.0h1.3v4.43h-1.3zM115.6 122.3h1.3v4.43h-1.3zM365.6 126.8h1.3v4.43h-1.3zM197.2 140.1h1.3v4.43h-1.3zM36.5 215.4h2.8v4.43h-2.8zM47.2 215.4h1.3v4.43h-1.3zM156.4 215.4h1.3v4.43h-1.3zM320.9 215.4h6.6v4.43h-6.6zM44.6 219.8h1.3v4.43h-1.3zM47.2 219.8h1.3v4.43h-1.3zM218.2 237.5h1.3v4.43h-1.3zM163.0 246.4h1.3v4.43h-1.3zM414.3 255.3h1.3v4.43h-1.3zM419.5 255.3h1.3v4.43h-1.3zM423.5 255.3h1.3v4.43h-1.3zM347.2 259.7h1.3v4.43h-1.3zM352.4 259.7h1.3v4.43h-1.3zM384.0 259.7h1.3v4.43h-1.3zM407.7 259.7h1.3v4.43h-1.3zM355.1 264.1h1.3v4.43h-1.3zM372.2 264.1h1.3v4.43h-1.3zM390.6 264.1h1.3v4.43h-1.3zM422.2 264.1h1.3v4.43h-1.3zM414.3 268.6h1.3v4.43h-1.3zM419.5 268.6h1.3v4.43h-1.3zM155.1 281.8h1.3v4.43h-1.3zM231.4 295.1h1.3v4.43h-1.3zM345.9 295.1h6.6v4.43h-6.6zM322.2 299.6h1.3v5.93h-1.3zM345.9 299.6h1.3v5.93h-1.3zM349.8 299.6h1.3v5.93h-1.3zM428.8 299.6h1.3v5.93h-1.3z"/>
<path fill="#f5eeb4" d="M214.3 210.9h1.3v4.43h-1.3zM82.7 215.4h2.6v4.43h-2.6zM95.9 215.4h1.3v4.43h-1.3zM39.3 219.8h1.3v4.43h-1.3zM102.5 246.4h1.3v4.43h-1.3zM349.8 255.3h9.2v4.43h-9.2zM341.9 259.7h1.3v4.43h-1.3zM389.3 259.7h1.3v4.43h-1.3zM398.5 259.7h1.3v4.43h-1.3zM351.1 264.1h1.3v4.43h-1.3zM356.4 264.1h1.3v4.43h-1.3zM415.6 264.1h1.3v4.43h-1.3zM428.8 264.1h1.3v4.43h-1.3zM376.1 290.7h2.6v4.43h-2.6zM391.9 290.7h1.3v4.43h-1.3zM415.6 290.7h1.3v4.43h-1.3zM344.6 295.1h1.3v4.43h-1.3zM359.0 295.1h1.3v4.43h-1.3zM401.1 295.1h2.6v4.43h-2.6zM406.4 295.1h1.3v4.43h-1.3zM409.0 295.1h1.3v4.43h-1.3zM415.6 295.1h1.3v4.43h-1.3zM356.4 299.6h1.3v5.93h-1.3zM374.8 299.6h2.6v5.93h-2.6z"/>
<path fill="#faeca5" d="M95.9 51.4h1.3v4.43h-1.3zM97.2 51.4h2.6v4.43h-2.6zM88.0 215.4h1.3v4.43h-1.3zM376.1 224.2h5.3v4.43h-5.3zM349.8 259.7h1.3v4.43h-1.3zM373.5 259.7h1.3v4.43h-1.3zM388.0 259.7h1.3v4.43h-1.3zM393.2 259.7h1.3v4.43h-1.3zM415.6 259.7h1.3v4.43h-1.3zM410.3 264.1h1.3v4.43h-1.3zM378.8 290.7h1.3v4.43h-1.3zM369.5 299.6h1.3v5.93h-1.3zM384.0 299.6h1.3v5.93h-1.3zM423.5 299.6h1.3v5.93h-1.3z"/>
<path fill="#fae397" d="M356.4 290.7h1.3v4.43h-1.3zM370.9 295.1h1.3v4.43h-1.3zM388.0 295.1h1.3v4.43h-1.3zM395.9 295.1h2.6v4.43h-2.6zM413.0 295.1h2.6v4.43h-2.6zM344.6 299.6h1.3v5.93h-1.3zM355.1 299.6h1.3v5.93h-1.3zM368.2 299.6h1.3v5.93h-1.3zM407.7 299.6h1.3v5.93h-1.3z"/>
<path fill="#fada8a" d="M340.6 290.7h6.6v4.43h-6.6zM378.8 299.6h1.3v5.93h-1.3zM419.5 299.6h2.6v5.93h-2.6zM424.8 299.6h1.3v5.93h-1.3zM427.4 299.6h1.3v5.93h-1.3z"/>
<path fill="#fad17c" d="M353.8 295.1h2.6v4.43h-2.6zM365.6 295.1h1.3v4.43h-1.3zM398.5 295.1h1.3v4.43h-1.3zM427.4 295.1h1.3v4.43h-1.3zM348.5 299.6h1.3v5.93h-1.3zM365.6 299.6h1.3v5.93h-1.3zM370.9 299.6h1.3v5.93h-1.3zM393.2 299.6h1.3v5.93h-1.3zM398.5 299.6h1.3v5.93h-1.3zM426.1 299.6h1.3v5.93h-1.3zM430.1 299.6h1.3v5.93h-1.3z"/>
<path fill="#fac86e" d="M373.5 299.6h1.3v5.93h-1.3zM382.7 299.6h1.3v5.93h-1.3z"/>
<path fill="#f8b764" d="M326.1 295.1h3.9v4.43h-3.9z"/>
<path fill="#f7a55a" d="M428.8 290.7h5.4v4.43h-5.4zM386.7 295.1h1.3v4.43h-1.3zM393.2 295.1h2.6v4.43h-2.6z"/>
<path fill="#f48246" d="M99.8 233.1h3.9v4.43h-3.9zM411.6 299.6h3.9v5.93h-3.9z"/>
<path fill="#ee7141" d="M428.8 295.1h5.4v4.43h-5.4zM399.8 299.6h3.9v5.93h-3.9z"/>
<path fill="#dd3f32" d="M422.2 290.7h6.6v4.43h-6.6zM381.4 295.1h3.9v4.43h-3.9zM386.7 299.6h6.6v5.93h-6.6z"/>
</g></g>
<rect x="38.0" y="35.6" width="25.15" height="6.0" fill="#df6fae"/>
<rect x="63.0" y="35.6" width="2.78" height="6.0" fill="#f5921e"/>
<rect x="65.6" y="35.6" width="6.73" height="6.0" fill="#df6fae"/>
<rect x="72.2" y="35.6" width="1.47" height="6.0" fill="#f5921e"/>
<rect x="73.5" y="35.6" width="23.83" height="6.0" fill="#df6fae"/>
<rect x="97.2" y="35.6" width="2.78" height="6.0" fill="#17a06a"/>
<rect x="99.8" y="35.6" width="8.04" height="6.0" fill="#f5921e"/>
<rect x="107.7" y="35.6" width="2.78" height="6.0" fill="#17a06a"/>
<rect x="110.4" y="35.6" width="5.41" height="6.0" fill="#f5921e"/>
<rect x="115.6" y="35.6" width="2.78" height="6.0" fill="#17a06a"/>
<rect x="118.3" y="35.6" width="6.73" height="6.0" fill="#f5921e"/>
<rect x="124.8" y="35.6" width="1.47" height="6.0" fill="#17a06a"/>
<rect x="126.1" y="35.6" width="11.99" height="6.0" fill="#f5921e"/>
<rect x="138.0" y="35.6" width="5.41" height="6.0" fill="#17a06a"/>
<rect x="143.3" y="35.6" width="1.47" height="6.0" fill="#f5921e"/>
<rect x="144.6" y="35.6" width="5.41" height="6.0" fill="#17a06a"/>
<rect x="149.8" y="35.6" width="8.04" height="6.0" fill="#f5921e"/>
<rect x="157.7" y="35.6" width="1.47" height="6.0" fill="#17a06a"/>
<rect x="159.0" y="35.6" width="9.36" height="6.0" fill="#f5921e"/>
<rect x="168.3" y="35.6" width="2.78" height="6.0" fill="#17a06a"/>
<rect x="170.9" y="35.6" width="4.10" height="6.0" fill="#f5921e"/>
<rect x="174.8" y="35.6" width="1.47" height="6.0" fill="#17a06a"/>
<rect x="176.1" y="35.6" width="4.10" height="6.0" fill="#f5921e"/>
<rect x="180.1" y="35.6" width="2.78" height="6.0" fill="#17a06a"/>
<rect x="182.7" y="35.6" width="27.78" height="6.0" fill="#f5921e"/>
<rect x="210.4" y="35.6" width="2.78" height="6.0" fill="#17a06a"/>
<rect x="213.0" y="35.6" width="4.10" height="6.0" fill="#f5921e"/>
<rect x="216.9" y="35.6" width="1.47" height="6.0" fill="#17a06a"/>
<rect x="218.2" y="35.6" width="88.30" height="6.0" fill="#f5921e"/>
<rect x="306.4" y="35.6" width="1.47" height="6.0" fill="#17a06a"/>
<rect x="307.7" y="35.6" width="13.31" height="6.0" fill="#f5921e"/>
<rect x="320.9" y="35.6" width="1.47" height="6.0" fill="#17a06a"/>
<rect x="322.2" y="35.6" width="9.36" height="6.0" fill="#f5921e"/>
<rect x="331.4" y="35.6" width="1.47" height="6.0" fill="#6b7a2a"/>
<rect x="332.7" y="35.6" width="5.41" height="6.0" fill="#f5921e"/>
<rect x="338.0" y="35.6" width="2.78" height="6.0" fill="#17a06a"/>
<rect x="340.6" y="35.6" width="1.47" height="6.0" fill="#f5921e"/>
<rect x="341.9" y="35.6" width="33.04" height="6.0" fill="#17a06a"/>
<rect x="374.8" y="35.6" width="1.47" height="6.0" fill="#f5921e"/>
<rect x="376.1" y="35.6" width="25.15" height="6.0" fill="#17a06a"/>
<rect x="401.1" y="35.6" width="1.47" height="6.0" fill="#f5921e"/>
<rect x="402.4" y="35.6" width="9.36" height="6.0" fill="#17a06a"/>
<rect x="411.6" y="35.6" width="1.47" height="6.0" fill="#f5921e"/>
<rect x="413.0" y="35.6" width="19.88" height="6.0" fill="#17a06a"/>
<rect x="38.0" y="41.6" width="61.99" height="5.5" fill="#c8102e"/>
<rect x="99.8" y="41.6" width="6.73" height="5.5" fill="#233f8c"/>
<rect x="106.4" y="41.6" width="1.47" height="5.5" fill="#c8102e"/>
<rect x="107.7" y="41.6" width="23.83" height="5.5" fill="#233f8c"/>
<rect x="131.4" y="41.6" width="1.47" height="5.5" fill="#c8102e"/>
<rect x="132.7" y="41.6" width="6.73" height="5.5" fill="#233f8c"/>
<rect x="139.3" y="41.6" width="1.47" height="5.5" fill="#c8102e"/>
<rect x="140.6" y="41.6" width="11.99" height="5.5" fill="#233f8c"/>
<rect x="152.5" y="41.6" width="1.47" height="5.5" fill="#c8102e"/>
<rect x="153.8" y="41.6" width="5.41" height="5.5" fill="#233f8c"/>
<rect x="159.0" y="41.6" width="1.47" height="5.5" fill="#c8102e"/>
<rect x="160.4" y="41.6" width="30.41" height="5.5" fill="#233f8c"/>
<rect x="190.6" y="41.6" width="6.73" height="5.5" fill="#c8102e"/>
<rect x="197.2" y="41.6" width="5.41" height="5.5" fill="#233f8c"/>
<rect x="202.5" y="41.6" width="1.47" height="5.5" fill="#c8102e"/>
<rect x="203.8" y="41.6" width="2.78" height="5.5" fill="#233f8c"/>
<rect x="206.4" y="41.6" width="11.99" height="5.5" fill="#c8102e"/>
<rect x="218.2" y="41.6" width="1.47" height="5.5" fill="#233f8c"/>
<rect x="219.6" y="41.6" width="4.10" height="5.5" fill="#c8102e"/>
<rect x="223.5" y="41.6" width="1.47" height="5.5" fill="#233f8c"/>
<rect x="224.8" y="41.6" width="1.47" height="5.5" fill="#c8102e"/>
<rect x="226.1" y="41.6" width="1.47" height="5.5" fill="#233f8c"/>
<rect x="227.5" y="41.6" width="2.78" height="5.5" fill="#c8102e"/>
<rect x="230.1" y="41.6" width="1.47" height="5.5" fill="#233f8c"/>
<rect x="231.4" y="41.6" width="2.78" height="5.5" fill="#c8102e"/>
<rect x="234.0" y="41.6" width="1.47" height="5.5" fill="#233f8c"/>
<rect x="235.3" y="41.6" width="23.83" height="5.5" fill="#c8102e"/>
<rect x="259.0" y="41.6" width="1.47" height="5.5" fill="#233f8c"/>
<rect x="260.3" y="41.6" width="2.78" height="5.5" fill="#c8102e"/>
<rect x="263.0" y="41.6" width="1.47" height="5.5" fill="#233f8c"/>
<rect x="264.3" y="41.6" width="5.41" height="5.5" fill="#c8102e"/>
<rect x="269.6" y="41.6" width="1.47" height="5.5" fill="#233f8c"/>
<rect x="270.9" y="41.6" width="10.68" height="5.5" fill="#c8102e"/>
<rect x="281.4" y="41.6" width="1.47" height="5.5" fill="#233f8c"/>
<rect x="282.7" y="41.6" width="38.30" height="5.5" fill="#c8102e"/>
<rect x="320.9" y="41.6" width="1.47" height="5.5" fill="#233f8c"/>
<rect x="322.2" y="41.6" width="4.10" height="5.5" fill="#c8102e"/>
<rect x="326.1" y="41.6" width="2.78" height="5.5" fill="#233f8c"/>
<rect x="328.8" y="41.6" width="13.31" height="5.5" fill="#c8102e"/>
<rect x="341.9" y="41.6" width="9.36" height="5.5" fill="#233f8c"/>
<rect x="351.1" y="41.6" width="1.47" height="5.5" fill="#c8102e"/>
<rect x="352.4" y="41.6" width="33.04" height="5.5" fill="#233f8c"/>
<rect x="385.3" y="41.6" width="1.47" height="5.5" fill="#c8102e"/>
<rect x="386.7" y="41.6" width="8.04" height="5.5" fill="#233f8c"/>
<rect x="394.5" y="41.6" width="1.47" height="5.5" fill="#c8102e"/>
<rect x="395.9" y="41.6" width="4.10" height="5.5" fill="#233f8c"/>
<rect x="399.8" y="41.6" width="4.10" height="5.5" fill="#c8102e"/>
<rect x="403.8" y="41.6" width="1.47" height="5.5" fill="#233f8c"/>
<rect x="405.1" y="41.6" width="5.41" height="5.5" fill="#c8102e"/>
<rect x="410.3" y="41.6" width="2.78" height="5.5" fill="#233f8c"/>
<rect x="413.0" y="41.6" width="1.47" height="5.5" fill="#c8102e"/>
<rect x="414.3" y="41.6" width="1.47" height="5.5" fill="#233f8c"/>
<rect x="415.6" y="41.6" width="2.78" height="5.5" fill="#c8102e"/>
<rect x="418.2" y="41.6" width="1.47" height="5.5" fill="#233f8c"/>
<rect x="419.5" y="41.6" width="1.47" height="5.5" fill="#c8102e"/>
<rect x="420.9" y="41.6" width="1.47" height="5.5" fill="#233f8c"/>
<rect x="422.2" y="41.6" width="1.47" height="5.5" fill="#c8102e"/>
<rect x="423.5" y="41.6" width="9.36" height="5.5" fill="#233f8c"/>
<rect x="38.0" y="30.3" width="394.7" height="5.3" fill="#a0a0a6"/>
<path d="M40.0 35.5L40.0 32.6M41.3 35.5L41.3 32.6M40.0 32.6L41.3 32.6M38.7 35.5L38.7 31.4M40.6 32.6L40.6 31.4M38.7 31.4L40.6 31.4M39.6 31.4L39.6 29.8M42.6 35.5L42.6 29.8M39.6 29.8L42.6 29.8M43.9 35.5L43.9 32.3M45.2 35.5L45.2 32.3M43.9 32.3L45.2 32.3M47.9 35.5L47.9 32.3M49.2 35.5L49.2 32.3M47.9 32.3L49.2 32.3M48.5 32.3L48.5 31.0M50.5 35.5L50.5 31.0M48.5 31.0L50.5 31.0M46.6 35.5L46.6 30.4M49.5 31.0L49.5 30.4M46.6 30.4L49.5 30.4M44.6 32.3L44.6 29.3M48.0 30.4L48.0 29.3M44.6 29.3L48.0 29.3M46.3 29.3L46.3 28.3M51.8 35.5L51.8 28.3M46.3 28.3L51.8 28.3M49.1 28.3L49.1 27.3M53.1 35.5L53.1 27.3M49.1 27.3L53.1 27.3M41.1 29.8L41.1 26.0M51.1 27.3L51.1 26.0M41.1 26.0L51.1 26.0M54.4 35.5L54.4 32.3M55.8 35.5L55.8 32.3M54.4 32.3L55.8 32.3M46.1 26.0L46.1 25.7M55.1 32.3L55.1 25.7M46.1 25.7L55.1 25.7M57.1 35.5L57.1 33.2M58.4 35.5L58.4 33.2M57.1 33.2L58.4 33.2M50.6 25.7L50.6 24.6M57.7 33.2L57.7 24.6M50.6 24.6L57.7 24.6M62.3 35.5L62.3 32.5M63.7 35.5L63.7 32.5M62.3 32.5L63.7 32.5M65.0 35.5L65.0 32.8M66.3 35.5L66.3 32.8M65.0 32.8L66.3 32.8M63.0 32.5L63.0 31.7M65.6 32.8L65.6 31.7M63.0 31.7L65.6 31.7M67.6 35.5L67.6 34.3M68.9 35.5L68.9 34.3M67.6 34.3L68.9 34.3M64.3 31.7L64.3 31.3M68.3 34.3L68.3 31.3M64.3 31.3L68.3 31.3M61.0 35.5L61.0 30.7M66.3 31.3L66.3 30.7M61.0 30.7L66.3 30.7M70.2 35.5L70.2 33.3M71.5 35.5L71.5 33.3M70.2 33.3L71.5 33.3M70.9 33.3L70.9 31.7M72.9 35.5L72.9 31.7M70.9 31.7L72.9 31.7M63.7 30.7L63.7 29.6M71.9 31.7L71.9 29.6M63.7 29.6L71.9 29.6M59.7 35.5L59.7 28.7M67.8 29.6L67.8 28.7M59.7 28.7L67.8 28.7M74.2 35.5L74.2 32.6M75.5 35.5L75.5 32.6M74.2 32.6L75.5 32.6M63.7 28.7L63.7 27.2M74.8 32.6L74.8 27.2M63.7 27.2L74.8 27.2M54.2 24.6L54.2 24.1M69.3 27.2L69.3 24.1M54.2 24.1L69.3 24.1M61.7 24.1L61.7 23.5M76.8 35.5L76.8 23.5M61.7 23.5L76.8 23.5M79.4 35.5L79.4 33.2M80.8 35.5L80.8 33.2M79.4 33.2L80.8 33.2M82.1 35.5L82.1 33.4M83.4 35.5L83.4 33.4M82.1 33.4L83.4 33.4M82.7 33.4L82.7 32.8M84.7 35.5L84.7 32.8M82.7 32.8L84.7 32.8M80.1 33.2L80.1 30.7M83.7 32.8L83.7 30.7M80.1 30.7L83.7 30.7M86.0 35.5L86.0 32.5M87.3 35.5L87.3 32.5M86.0 32.5L87.3 32.5M88.7 35.5L88.7 32.6M90.0 35.5L90.0 32.6M88.7 32.6L90.0 32.6M86.7 32.5L86.7 32.1M89.3 32.6L89.3 32.1M86.7 32.1L89.3 32.1M88.0 32.1L88.0 31.5M91.3 35.5L91.3 31.5M88.0 31.5L91.3 31.5M81.9 30.7L81.9 30.2M89.6 31.5L89.6 30.2M81.9 30.2L89.6 30.2M92.6 35.5L92.6 34.3M93.9 35.5L93.9 34.3M92.6 34.3L93.9 34.3M85.8 30.2L85.8 29.1M93.3 34.3L93.3 29.1M85.8 29.1L93.3 29.1M78.1 35.5L78.1 27.6M89.5 29.1L89.5 27.6M78.1 27.6L89.5 27.6M69.3 23.5L69.3 22.4M83.8 27.6L83.8 22.4M69.3 22.4L83.8 22.4M76.5 22.4L76.5 21.3M95.2 35.5L95.2 21.3M76.5 21.3L95.2 21.3M97.9 35.5L97.9 33.2M99.2 35.5L99.2 33.2M97.9 33.2L99.2 33.2M98.5 33.2L98.5 32.6M100.5 35.5L100.5 32.6M98.5 32.6L100.5 32.6M96.5 35.5L96.5 31.9M99.5 32.6L99.5 31.9M96.5 31.9L99.5 31.9M98.0 31.9L98.0 30.1M101.8 35.5L101.8 30.1M98.0 30.1L101.8 30.1M103.1 35.5L103.1 33.9M104.4 35.5L104.4 33.9M103.1 33.9L104.4 33.9M103.8 33.9L103.8 32.3M105.8 35.5L105.8 32.3M103.8 32.3L105.8 32.3M107.1 35.5L107.1 33.3M108.4 35.5L108.4 33.3M107.1 33.3L108.4 33.3M104.8 32.3L104.8 30.4M107.7 33.3L107.7 30.4M104.8 30.4L107.7 30.4M109.7 35.5L109.7 32.7M111.0 35.5L111.0 32.7M109.7 32.7L111.0 32.7M112.3 35.5L112.3 32.3M113.7 35.5L113.7 32.3M112.3 32.3L113.7 32.3M110.4 32.7L110.4 31.6M113.0 32.3L113.0 31.6M110.4 31.6L113.0 31.6M115.0 35.5L115.0 34.0M116.3 35.5L116.3 34.0M115.0 34.0L116.3 34.0M118.9 35.5L118.9 33.3M120.2 35.5L120.2 33.3M118.9 33.3L120.2 33.3M117.6 35.5L117.6 32.3M119.6 33.3L119.6 32.3M117.6 32.3L119.6 32.3M115.6 34.0L115.6 31.0M118.6 32.3L118.6 31.0M115.6 31.0L118.6 31.0M111.7 31.6L111.7 29.6M117.1 31.0L117.1 29.6M111.7 29.6L117.1 29.6M106.3 30.4L106.3 28.9M114.4 29.6L114.4 28.9M106.3 28.9L114.4 28.9M125.5 35.5L125.5 32.9M126.8 35.5L126.8 32.9M125.5 32.9L126.8 32.9M126.1 32.9L126.1 32.1M128.1 35.5L128.1 32.1M126.1 32.1L128.1 32.1M130.8 35.5L130.8 33.5M132.1 35.5L132.1 33.5M130.8 33.5L132.1 33.5M129.4 35.5L129.4 32.8M131.4 33.5L131.4 32.8M129.4 32.8L131.4 32.8M127.1 32.1L127.1 30.5M130.4 32.8L130.4 30.5M127.1 30.5L130.4 30.5M124.2 35.5L124.2 29.3M128.8 30.5L128.8 29.3M124.2 29.3L128.8 29.3M122.9 35.5L122.9 29.1M126.5 29.3L126.5 29.1M122.9 29.1L126.5 29.1M133.4 35.5L133.4 32.6M134.7 35.5L134.7 32.6M133.4 32.6L134.7 32.6M134.0 32.6L134.0 31.3M136.0 35.5L136.0 31.3M134.0 31.3L136.0 31.3M138.6 35.5L138.6 33.3M140.0 35.5L140.0 33.3M138.6 33.3L140.0 33.3M137.3 35.5L137.3 32.5M139.3 33.3L139.3 32.5M137.3 32.5L139.3 32.5M135.0 31.3L135.0 30.9M138.3 32.5L138.3 30.9M135.0 30.9L138.3 30.9M124.7 29.1L124.7 28.0M136.7 30.9L136.7 28.0M124.7 28.0L136.7 28.0M130.7 28.0L130.7 27.0M141.3 35.5L141.3 27.0M130.7 27.0L141.3 27.0M121.5 35.5L121.5 26.1M136.0 27.0L136.0 26.1M121.5 26.1L136.0 26.1M147.9 35.5L147.9 33.2M149.2 35.5L149.2 33.2M147.9 33.2L149.2 33.2M146.5 35.5L146.5 32.2M148.5 33.2L148.5 32.2M146.5 32.2L148.5 32.2M145.2 35.5L145.2 31.1M147.5 32.2L147.5 31.1M145.2 31.1L147.5 31.1M150.5 35.5L150.5 32.3M151.8 35.5L151.8 32.3M150.5 32.3L151.8 32.3M146.4 31.1L146.4 29.4M151.1 32.3L151.1 29.4M146.4 29.4L151.1 29.4M148.8 29.4L148.8 28.1M153.1 35.5L153.1 28.1M148.8 28.1L153.1 28.1M143.9 35.5L143.9 27.5M150.9 28.1L150.9 27.5M143.9 27.5L150.9 27.5M142.6 35.5L142.6 26.3M147.4 27.5L147.4 26.3M142.6 26.3L147.4 26.3M128.8 26.1L128.8 25.5M145.0 26.3L145.0 25.5M128.8 25.5L145.0 25.5M110.3 28.9L110.3 24.8M136.9 25.5L136.9 24.8M110.3 24.8L136.9 24.8M99.9 30.1L99.9 24.4M123.6 24.8L123.6 24.4M99.9 24.4L123.6 24.4M154.4 35.5L154.4 32.7M155.8 35.5L155.8 32.7M154.4 32.7L155.8 32.7M159.7 35.5L159.7 32.8M161.0 35.5L161.0 32.8M159.7 32.8L161.0 32.8M158.4 35.5L158.4 32.4M160.4 32.8L160.4 32.4M158.4 32.4L160.4 32.4M157.1 35.5L157.1 31.4M159.4 32.4L159.4 31.4M157.1 31.4L159.4 31.4M158.2 31.4L158.2 30.0M162.3 35.5L162.3 30.0M158.2 30.0L162.3 30.0M155.1 32.7L155.1 28.6M160.3 30.0L160.3 28.6M155.1 28.6L160.3 28.6M165.0 35.5L165.0 32.7M166.3 35.5L166.3 32.7M165.0 32.7L166.3 32.7M163.6 35.5L163.6 31.2M165.6 32.7L165.6 31.2M163.6 31.2L165.6 31.2M157.7 28.6L157.7 28.3M164.6 31.2L164.6 28.3M157.7 28.3L164.6 28.3M161.2 28.3L161.2 27.2M167.6 35.5L167.6 27.2M161.2 27.2L167.6 27.2M170.2 35.5L170.2 32.7M171.5 35.5L171.5 32.7M170.2 32.7L171.5 32.7M170.9 32.7L170.9 31.6M172.9 35.5L172.9 31.6M170.9 31.6L172.9 31.6M174.2 35.5L174.2 33.2M175.5 35.5L175.5 33.2M174.2 33.2L175.5 33.2M174.8 33.2L174.8 32.6M176.8 35.5L176.8 32.6M174.8 32.6L176.8 32.6M175.8 32.6L175.8 32.1M178.1 35.5L178.1 32.1M175.8 32.1L178.1 32.1M177.0 32.1L177.0 30.9M179.4 35.5L179.4 30.9M177.0 30.9L179.4 30.9M171.9 31.6L171.9 30.0M178.2 30.9L178.2 30.0M171.9 30.0L178.2 30.0M182.1 35.5L182.1 32.7M183.4 35.5L183.4 32.7M182.1 32.7L183.4 32.7M180.7 35.5L180.7 30.9M182.7 32.7L182.7 30.9M180.7 30.9L182.7 30.9M184.7 35.5L184.7 33.8M186.0 35.5L186.0 33.8M184.7 33.8L186.0 33.8M185.4 33.8L185.4 33.1M187.3 35.5L187.3 33.1M185.4 33.1L187.3 33.1M186.3 33.1L186.3 31.0M188.6 35.5L188.6 31.0M186.3 31.0L188.6 31.0M181.7 30.9L181.7 29.3M187.5 31.0L187.5 29.3M181.7 29.3L187.5 29.3M175.0 30.0L175.0 28.3M184.6 29.3L184.6 28.3M175.0 28.3L184.6 28.3M190.0 35.5L190.0 34.4M191.3 35.5L191.3 34.4M190.0 34.4L191.3 34.4M192.6 35.5L192.6 33.7M193.9 35.5L193.9 33.7M192.6 33.7L193.9 33.7M193.2 33.7L193.2 32.1M195.2 35.5L195.2 32.1M193.2 32.1L195.2 32.1M190.6 34.4L190.6 31.7M194.2 32.1L194.2 31.7M190.6 31.7L194.2 31.7M192.4 31.7L192.4 31.0M196.5 35.5L196.5 31.0M192.4 31.0L196.5 31.0M199.2 35.5L199.2 33.3M200.5 35.5L200.5 33.3M199.2 33.3L200.5 33.3M197.9 35.5L197.9 31.8M199.8 33.3L199.8 31.8M197.9 31.8L199.8 31.8M203.1 35.5L203.1 32.6M204.4 35.5L204.4 32.6M203.1 32.6L204.4 32.6M201.8 35.5L201.8 31.1M203.8 32.6L203.8 31.1M201.8 31.1L203.8 31.1M198.8 31.8L198.8 30.4M202.8 31.1L202.8 30.4M198.8 30.4L202.8 30.4M200.8 30.4L200.8 30.0M205.7 35.5L205.7 30.0M200.8 30.0L205.7 30.0M203.3 30.0L203.3 28.9M207.1 35.5L207.1 28.9M203.3 28.9L207.1 28.9M194.5 31.0L194.5 27.7M205.2 28.9L205.2 27.7M194.5 27.7L205.2 27.7M179.8 28.3L179.8 27.2M199.8 27.7L199.8 27.2M179.8 27.2L199.8 27.2M168.9 35.5L168.9 26.4M189.8 27.2L189.8 26.4M168.9 26.4L189.8 26.4M164.4 27.2L164.4 25.1M179.4 26.4L179.4 25.1M164.4 25.1L179.4 25.1M208.4 35.5L208.4 32.6M209.7 35.5L209.7 32.6M208.4 32.6L209.7 32.6M211.0 35.5L211.0 32.7M212.3 35.5L212.3 32.7M211.0 32.7L212.3 32.7M209.0 32.6L209.0 31.4M211.7 32.7L211.7 31.4M209.0 31.4L211.7 31.4M213.6 35.5L213.6 33.4M215.0 35.5L215.0 33.4M213.6 33.4L215.0 33.4M216.3 35.5L216.3 32.9M217.6 35.5L217.6 32.9M216.3 32.9L217.6 32.9M214.3 33.4L214.3 31.1M216.9 32.9L216.9 31.1M214.3 31.1L216.9 31.1M210.4 31.4L210.4 29.7M215.6 31.1L215.6 29.7M210.4 29.7L215.6 29.7M220.2 35.5L220.2 32.5M221.5 35.5L221.5 32.5M220.2 32.5L221.5 32.5M220.9 32.5L220.9 31.0M222.9 35.5L222.9 31.0M220.9 31.0L222.9 31.0M221.9 31.0L221.9 29.6M224.2 35.5L224.2 29.6M221.9 29.6L224.2 29.6M218.9 35.5L218.9 29.1M223.0 29.6L223.0 29.1M218.9 29.1L223.0 29.1M225.5 35.5L225.5 33.2M226.8 35.5L226.8 33.2M225.5 33.2L226.8 33.2M221.0 29.1L221.0 27.8M226.1 33.2L226.1 27.8M221.0 27.8L226.1 27.8M228.1 35.5L228.1 32.5M229.4 35.5L229.4 32.5M228.1 32.5L229.4 32.5M223.6 27.8L223.6 27.5M228.8 32.5L228.8 27.5M223.6 27.5L228.8 27.5M213.0 29.7L213.0 26.1M226.2 27.5L226.2 26.1M213.0 26.1L226.2 26.1M171.9 25.1L171.9 24.5M219.6 26.1L219.6 24.5M171.9 24.5L219.6 24.5M111.8 24.4L111.8 23.2M195.7 24.5L195.7 23.2M111.8 23.2L195.7 23.2M232.1 35.5L232.1 33.2M233.4 35.5L233.4 33.2M232.1 33.2L233.4 33.2M232.7 33.2L232.7 31.2M234.7 35.5L234.7 31.2M232.7 31.2L234.7 31.2M233.7 31.2L233.7 30.2M236.0 35.5L236.0 30.2M233.7 30.2L236.0 30.2M230.7 35.5L230.7 29.8M234.9 30.2L234.9 29.8M230.7 29.8L234.9 29.8M232.8 29.8L232.8 29.0M237.3 35.5L237.3 29.0M232.8 29.0L237.3 29.0M240.0 35.5L240.0 33.1M241.3 35.5L241.3 33.1M240.0 33.1L241.3 33.1M238.6 35.5L238.6 32.5M240.6 33.1L240.6 32.5M238.6 32.5L240.6 32.5M242.6 35.5L242.6 32.4M243.9 35.5L243.9 32.4M242.6 32.4L243.9 32.4M245.2 35.5L245.2 32.4M246.5 35.5L246.5 32.4M245.2 32.4L246.5 32.4M243.2 32.4L243.2 31.7M245.9 32.4L245.9 31.7M243.2 31.7L245.9 31.7M239.6 32.5L239.6 29.8M244.6 31.7L244.6 29.8M239.6 29.8L244.6 29.8M249.2 35.5L249.2 34.0M250.5 35.5L250.5 34.0M249.2 34.0L250.5 34.0M247.8 35.5L247.8 32.4M249.8 34.0L249.8 32.4M247.8 32.4L249.8 32.4M242.1 29.8L242.1 29.5M248.8 32.4L248.8 29.5M242.1 29.5L248.8 29.5M245.5 29.5L245.5 28.7M251.8 35.5L251.8 28.7M245.5 28.7L251.8 28.7M248.6 28.7L248.6 27.2M253.1 35.5L253.1 27.2M248.6 27.2L253.1 27.2M254.4 35.5L254.4 33.6M255.7 35.5L255.7 33.6M254.4 33.6L255.7 33.6M259.7 35.5L259.7 33.0M261.0 35.5L261.0 33.0M259.7 33.0L261.0 33.0M260.3 33.0L260.3 32.4M262.3 35.5L262.3 32.4M260.3 32.4L262.3 32.4M261.3 32.4L261.3 32.0M263.6 35.5L263.6 32.0M261.3 32.0L263.6 32.0M258.4 35.5L258.4 31.1M262.5 32.0L262.5 31.1M258.4 31.1L262.5 31.1M266.3 35.5L266.3 32.5M267.6 35.5L267.6 32.5M266.3 32.5L267.6 32.5M266.9 32.5L266.9 30.8M268.9 35.5L268.9 30.8M266.9 30.8L268.9 30.8M265.0 35.5L265.0 29.7M267.9 30.8L267.9 29.7M265.0 29.7L267.9 29.7M260.4 31.1L260.4 29.4M266.4 29.7L266.4 29.4M260.4 29.4L266.4 29.4M257.1 35.5L257.1 28.8M263.4 29.4L263.4 28.8M257.1 28.8L263.4 28.8M270.2 35.5L270.2 33.9M271.5 35.5L271.5 33.9M270.2 33.9L271.5 33.9M260.2 28.8L260.2 27.6M270.9 33.9L270.9 27.6M260.2 27.6L270.9 27.6M255.1 33.6L255.1 26.5M265.6 27.6L265.6 26.5M255.1 26.5L265.6 26.5M250.9 27.2L250.9 25.1M260.3 26.5L260.3 25.1M250.9 25.1L260.3 25.1M235.1 29.0L235.1 24.0M255.6 25.1L255.6 24.0M235.1 24.0L255.6 24.0M274.2 35.5L274.2 34.3M275.5 35.5L275.5 34.3M274.2 34.3L275.5 34.3M276.8 35.5L276.8 32.3M278.1 35.5L278.1 32.3M276.8 32.3L278.1 32.3M274.8 34.3L274.8 31.0M277.5 32.3L277.5 31.0M274.8 31.0L277.5 31.0M279.4 35.5L279.4 34.0M280.7 35.5L280.7 34.0M279.4 34.0L280.7 34.0M286.0 35.5L286.0 33.8M287.3 35.5L287.3 33.8M286.0 33.8L287.3 33.8M284.7 35.5L284.7 31.8M286.7 33.8L286.7 31.8M284.7 31.8L286.7 31.8M283.4 35.5L283.4 30.8M285.7 31.8L285.7 30.8M283.4 30.8L285.7 30.8M282.1 35.5L282.1 29.7M284.5 30.8L284.5 29.7M282.1 29.7L284.5 29.7M288.6 35.5L288.6 32.6M290.0 35.5L290.0 32.6M288.6 32.6L290.0 32.6M289.3 32.6L289.3 31.3M291.3 35.5L291.3 31.3M289.3 31.3L291.3 31.3M283.3 29.7L283.3 28.7M290.3 31.3L290.3 28.7M283.3 28.7L290.3 28.7M280.1 34.0L280.1 28.3M286.8 28.7L286.8 28.3M280.1 28.3L286.8 28.3M276.1 31.0L276.1 27.1M283.4 28.3L283.4 27.1M276.1 27.1L283.4 27.1M272.8 35.5L272.8 26.3M279.8 27.1L279.8 26.3M272.8 26.3L279.8 26.3M292.6 35.5L292.6 34.1M293.9 35.5L293.9 34.1M292.6 34.1L293.9 34.1M293.2 34.1L293.2 33.6M295.2 35.5L295.2 33.6M293.2 33.6L295.2 33.6M294.2 33.6L294.2 31.9M296.5 35.5L296.5 31.9M294.2 31.9L296.5 31.9M295.4 31.9L295.4 30.8M297.8 35.5L297.8 30.8M295.4 30.8L297.8 30.8M296.6 30.8L296.6 30.0M299.2 35.5L299.2 30.0M296.6 30.0L299.2 30.0M297.9 30.0L297.9 28.5M300.5 35.5L300.5 28.5M297.9 28.5L300.5 28.5M301.8 35.5L301.8 32.4M303.1 35.5L303.1 32.4M301.8 32.4L303.1 32.4M299.2 28.5L299.2 28.2M302.4 32.4L302.4 28.2M299.2 28.2L302.4 28.2M304.4 35.5L304.4 33.1M305.7 35.5L305.7 33.1M304.4 33.1L305.7 33.1M300.8 28.2L300.8 27.5M305.1 33.1L305.1 27.5M300.8 27.5L305.1 27.5M307.1 35.5L307.1 33.8M308.4 35.5L308.4 33.8M307.1 33.8L308.4 33.8M302.9 27.5L302.9 26.2M307.7 33.8L307.7 26.2M302.9 26.2L307.7 26.2M311.0 35.5L311.0 34.2M312.3 35.5L312.3 34.2M311.0 34.2L312.3 34.2M311.7 34.2L311.7 31.9M313.6 35.5L313.6 31.9M311.7 31.9L313.6 31.9M309.7 35.5L309.7 31.2M312.6 31.9L312.6 31.2M309.7 31.2L312.6 31.2M305.3 26.2L305.3 25.7M311.2 31.2L311.2 25.7M305.3 25.7L311.2 25.7M316.3 35.5L316.3 34.2M317.6 35.5L317.6 34.2M316.3 34.2L317.6 34.2M320.2 35.5L320.2 33.1M321.5 35.5L321.5 33.1M320.2 33.1L321.5 33.1M322.8 35.5L322.8 33.3M324.2 35.5L324.2 33.3M322.8 33.3L324.2 33.3M320.9 33.1L320.9 32.7M323.5 33.3L323.5 32.7M320.9 32.7L323.5 32.7M318.9 35.5L318.9 30.8M322.2 32.7L322.2 30.8M318.9 30.8L322.2 30.8M316.9 34.2L316.9 29.4M320.5 30.8L320.5 29.4M316.9 29.4L320.5 29.4M314.9 35.5L314.9 29.1M318.7 29.4L318.7 29.1M314.9 29.1L318.7 29.1M316.8 29.1L316.8 28.3M325.5 35.5L325.5 28.3M316.8 28.3L325.5 28.3M326.8 35.5L326.8 32.6M328.1 35.5L328.1 32.6M326.8 32.6L328.1 32.6M321.2 28.3L321.2 26.8M327.4 32.6L327.4 26.8M321.2 26.8L327.4 26.8M329.4 35.5L329.4 33.3M330.7 35.5L330.7 33.3M329.4 33.3L330.7 33.3M324.3 26.8L324.3 26.3M330.1 33.3L330.1 26.3M324.3 26.3L330.1 26.3M308.2 25.7L308.2 24.8M327.2 26.3L327.2 24.8M308.2 24.8L327.2 24.8M334.7 35.5L334.7 33.2M336.0 35.5L336.0 33.2M334.7 33.2L336.0 33.2M333.4 35.5L333.4 31.8M335.3 33.2L335.3 31.8M333.4 31.8L335.3 31.8M334.4 31.8L334.4 31.2M337.3 35.5L337.3 31.2M334.4 31.2L337.3 31.2M332.1 35.5L332.1 29.6M335.8 31.2L335.8 29.6M332.1 29.6L335.8 29.6M317.7 24.8L317.7 24.3M333.9 29.6L333.9 24.3M317.7 24.3L333.9 24.3M276.3 26.3L276.3 23.9M325.8 24.3L325.8 23.9M276.3 23.9L325.8 23.9M245.3 24.0L245.3 23.2M301.1 23.9L301.1 23.2M245.3 23.2L301.1 23.2M273.2 23.2L273.2 22.1M338.6 35.5L338.6 22.1M273.2 22.1L338.6 22.1M341.3 35.5L341.3 34.2M342.6 35.5L342.6 34.2M341.3 34.2L342.6 34.2M346.5 35.5L346.5 34.2M347.8 35.5L347.8 34.2M346.5 34.2L347.8 34.2M345.2 35.5L345.2 32.3M347.2 34.2L347.2 32.3M345.2 32.3L347.2 32.3M343.9 35.5L343.9 30.6M346.2 32.3L346.2 30.6M343.9 30.6L346.2 30.6M349.2 35.5L349.2 32.4M350.5 35.5L350.5 32.4M349.2 32.4L350.5 32.4M345.0 30.6L345.0 29.0M349.8 32.4L349.8 29.0M345.0 29.0L349.8 29.0M347.4 29.0L347.4 27.8M351.8 35.5L351.8 27.8M347.4 27.8L351.8 27.8M353.1 35.5L353.1 34.3M354.4 35.5L354.4 34.3M353.1 34.3L354.4 34.3M355.7 35.5L355.7 32.9M357.0 35.5L357.0 32.9M355.7 32.9L357.0 32.9M353.8 34.3L353.8 30.9M356.4 32.9L356.4 30.9M353.8 30.9L356.4 30.9M359.7 35.5L359.7 32.8M361.0 35.5L361.0 32.8M359.7 32.8L361.0 32.8M360.3 32.8L360.3 32.3M362.3 35.5L362.3 32.3M360.3 32.3L362.3 32.3M358.4 35.5L358.4 30.8M361.3 32.3L361.3 30.8M358.4 30.8L361.3 30.8M359.8 30.8L359.8 29.5M363.6 35.5L363.6 29.5M359.8 29.5L363.6 29.5M355.1 30.9L355.1 29.0M361.7 29.5L361.7 29.0M355.1 29.0L361.7 29.0M366.3 35.5L366.3 32.9M367.6 35.5L367.6 32.9M366.3 32.9L367.6 32.9M364.9 35.5L364.9 31.2M366.9 32.9L366.9 31.2M364.9 31.2L366.9 31.2M365.9 31.2L365.9 30.9M368.9 35.5L368.9 30.9M365.9 30.9L368.9 30.9M358.4 29.0L358.4 28.3M367.4 30.9L367.4 28.3M358.4 28.3L367.4 28.3M349.6 27.8L349.6 26.6M362.9 28.3L362.9 26.6M349.6 26.6L362.9 26.6M341.9 34.2L341.9 25.7M356.3 26.6L356.3 25.7M341.9 25.7L356.3 25.7M349.1 25.7L349.1 25.5M370.2 35.5L370.2 25.5M349.1 25.5L370.2 25.5M375.5 35.5L375.5 33.3M376.8 35.5L376.8 33.3M375.5 33.3L376.8 33.3M374.2 35.5L374.2 32.2M376.1 33.3L376.1 32.2M374.2 32.2L376.1 32.2M375.1 32.2L375.1 30.7M378.1 35.5L378.1 30.7M375.1 30.7L378.1 30.7M372.8 35.5L372.8 29.5M376.6 30.7L376.6 29.5M372.8 29.5L376.6 29.5M371.5 35.5L371.5 28.1M374.7 29.5L374.7 28.1M371.5 28.1L374.7 28.1M380.7 35.5L380.7 33.5M382.0 35.5L382.0 33.5M380.7 33.5L382.0 33.5M381.4 33.5L381.4 31.5M383.4 35.5L383.4 31.5M381.4 31.5L383.4 31.5M379.4 35.5L379.4 30.3M382.4 31.5L382.4 30.3M379.4 30.3L382.4 30.3M373.1 28.1L373.1 26.7M380.9 30.3L380.9 26.7M373.1 26.7L380.9 26.7M359.6 25.5L359.6 24.8M377.0 26.7L377.0 24.8M359.6 24.8L377.0 24.8M339.9 35.5L339.9 23.4M368.3 24.8L368.3 23.4M339.9 23.4L368.3 23.4M384.7 35.5L384.7 34.2M386.0 35.5L386.0 34.2M384.7 34.2L386.0 34.2M385.3 34.2L385.3 32.7M387.3 35.5L387.3 32.7M385.3 32.7L387.3 32.7M354.1 23.4L354.1 22.3M386.3 32.7L386.3 22.3M354.1 22.3L386.3 22.3M391.3 35.5L391.3 33.1M392.6 35.5L392.6 33.1M391.3 33.1L392.6 33.1M389.9 35.5L389.9 31.4M391.9 33.1L391.9 31.4M389.9 31.4L391.9 31.4M388.6 35.5L388.6 30.6M390.9 31.4L390.9 30.6M388.6 30.6L390.9 30.6M395.2 35.5L395.2 32.5M396.5 35.5L396.5 32.5M395.2 32.5L396.5 32.5M393.9 35.5L393.9 32.0M395.9 32.5L395.9 32.0M393.9 32.0L395.9 32.0M397.8 35.5L397.8 33.1M399.2 35.5L399.2 33.1M397.8 33.1L399.2 33.1M400.5 35.5L400.5 34.1M401.8 35.5L401.8 34.1M400.5 34.1L401.8 34.1M398.5 33.1L398.5 32.1M401.1 34.1L401.1 32.1M398.5 32.1L401.1 32.1M403.1 35.5L403.1 33.0M404.4 35.5L404.4 33.0M403.1 33.0L404.4 33.0M408.4 35.5L408.4 33.2M409.7 35.5L409.7 33.2M408.4 33.2L409.7 33.2M409.0 33.2L409.0 32.5M411.0 35.5L411.0 32.5M409.0 32.5L411.0 32.5M407.0 35.5L407.0 32.1M410.0 32.5L410.0 32.1M407.0 32.1L410.0 32.1M408.5 32.1L408.5 31.4M412.3 35.5L412.3 31.4M408.5 31.4L412.3 31.4M413.6 35.5L413.6 33.6M414.9 35.5L414.9 33.6M413.6 33.6L414.9 33.6M410.4 31.4L410.4 30.6M414.3 33.6L414.3 30.6M410.4 30.6L414.3 30.6M412.3 30.6L412.3 29.3M416.3 35.5L416.3 29.3M412.3 29.3L416.3 29.3M414.3 29.3L414.3 28.3M417.6 35.5L417.6 28.3M414.3 28.3L417.6 28.3M405.7 35.5L405.7 27.3M415.9 28.3L415.9 27.3M405.7 27.3L415.9 27.3M410.8 27.3L410.8 26.5M418.9 35.5L418.9 26.5M410.8 26.5L418.9 26.5M414.9 26.5L414.9 25.8M420.2 35.5L420.2 25.8M414.9 25.8L420.2 25.8M417.5 25.8L417.5 24.7M421.5 35.5L421.5 24.7M417.5 24.7L421.5 24.7M425.5 35.5L425.5 33.1M426.8 35.5L426.8 33.1M425.5 33.1L426.8 33.1M424.1 35.5L424.1 31.3M426.1 33.1L426.1 31.3M424.1 31.3L426.1 31.3M422.8 35.5L422.8 30.9M425.1 31.3L425.1 30.9M422.8 30.9L425.1 30.9M419.5 24.7L419.5 24.2M424.0 30.9L424.0 24.2M419.5 24.2L424.0 24.2M428.1 35.5L428.1 33.6M429.4 35.5L429.4 33.6M428.1 33.6L429.4 33.6M430.7 35.5L430.7 32.9M432.0 35.5L432.0 32.9M430.7 32.9L432.0 32.9M428.8 33.6L428.8 31.5M431.4 32.9L431.4 31.5M428.8 31.5L431.4 31.5M421.8 24.2L421.8 23.1M430.1 31.5L430.1 23.1M421.8 23.1L430.1 23.1M403.8 33.0L403.8 22.0M425.9 23.1L425.9 22.0M403.8 22.0L425.9 22.0M399.8 32.1L399.8 21.5M414.8 22.0L414.8 21.5M399.8 21.5L414.8 21.5M394.9 32.0L394.9 20.6M407.3 21.5L407.3 20.6M394.9 20.6L407.3 20.6M389.8 30.6L389.8 20.4M401.1 20.6L401.1 20.4M389.8 20.4L401.1 20.4M370.2 22.3L370.2 19.6M395.4 20.4L395.4 19.6M370.2 19.6L395.4 19.6M153.7 23.2L153.7 21.4M305.9 22.1L305.9 21.4M153.7 21.4L305.9 21.4M85.9 21.3L85.9 20.6M229.8 21.4L229.8 20.6M85.9 20.6L229.8 20.6M157.9 20.6L157.9 18.8M382.8 19.6L382.8 18.8M157.9 18.8L382.8 18.8" stroke="#9a9a9a" stroke-width="0.45" fill="none"/>
<path d="M31.0 53.6L30.1 53.6M31.0 58.1L30.1 58.1M30.1 53.6L30.1 58.1M30.1 55.9L29.4 55.9M31.0 62.5L29.4 62.5M29.4 55.9L29.4 62.5M31.0 49.2L29.1 49.2M29.4 59.2L29.1 59.2M29.1 49.2L29.1 59.2M31.0 75.8L29.9 75.8M31.0 80.2L29.9 80.2M29.9 75.8L29.9 80.2M29.9 78.0L29.7 78.0M31.0 84.7L29.7 84.7M29.7 78.0L29.7 84.7M29.7 81.3L29.2 81.3M31.0 89.1L29.2 89.1M29.2 81.3L29.2 89.1M31.0 71.4L28.1 71.4M29.2 85.2L28.1 85.2M28.1 71.4L28.1 85.2M28.1 78.3L27.8 78.3M31.0 93.5L27.8 93.5M27.8 78.3L27.8 93.5M27.8 85.9L27.3 85.9M31.0 98.0L27.3 98.0M27.3 85.9L27.3 98.0M31.0 66.9L26.1 66.9M27.3 91.9L26.1 91.9M26.1 66.9L26.1 91.9M29.1 54.2L25.6 54.2M26.1 79.4L25.6 79.4M25.6 54.2L25.6 79.4M31.0 115.7L30.5 115.7M31.0 120.1L30.5 120.1M30.5 115.7L30.5 120.1M31.0 111.2L29.3 111.2M30.5 117.9L29.3 117.9M29.3 111.2L29.3 117.9M31.0 106.8L28.9 106.8M29.3 114.6L28.9 114.6M28.9 106.8L28.9 114.6M31.0 102.4L28.2 102.4M28.9 110.7L28.2 110.7M28.2 102.4L28.2 110.7M31.0 124.5L30.6 124.5M31.0 129.0L30.6 129.0M30.6 124.5L30.6 129.0M31.0 146.7L30.4 146.7M31.0 151.1L30.4 151.1M30.4 146.7L30.4 151.1M31.0 142.3L29.4 142.3M30.4 148.9L29.4 148.9M29.4 142.3L29.4 148.9M31.0 137.8L28.4 137.8M29.4 145.6L28.4 145.6M28.4 137.8L28.4 145.6M31.0 133.4L27.4 133.4M28.4 141.7L27.4 141.7M27.4 133.4L27.4 141.7M30.6 126.8L25.8 126.8M27.4 137.6L25.8 137.6M25.8 126.8L25.8 137.6M31.0 164.4L30.6 164.4M31.0 168.9L30.6 168.9M30.6 164.4L30.6 168.9M31.0 173.3L30.5 173.3M31.0 177.7L30.5 177.7M30.5 173.3L30.5 177.7M30.6 166.6L30.2 166.6M30.5 175.5L30.2 175.5M30.2 166.6L30.2 175.5M31.0 182.1L30.7 182.1M31.0 186.6L30.7 186.6M30.7 182.1L30.7 186.6M30.2 171.1L29.4 171.1M30.7 184.4L29.4 184.4M29.4 171.1L29.4 184.4M31.0 191.0L30.0 191.0M31.0 195.4L30.0 195.4M30.0 191.0L30.0 195.4M31.0 199.9L30.3 199.9M31.0 204.3L30.3 204.3M30.3 199.9L30.3 204.3M30.0 193.2L29.2 193.2M30.3 202.1L29.2 202.1M29.2 193.2L29.2 202.1M31.0 222.0L30.8 222.0M31.0 226.5L30.8 226.5M30.8 222.0L30.8 226.5M31.0 217.6L30.6 217.6M30.8 224.2L30.6 224.2M30.6 217.6L30.6 224.2M31.0 213.2L30.3 213.2M30.6 220.9L30.3 220.9M30.3 213.2L30.3 220.9M30.3 217.0L29.4 217.0M31.0 230.9L29.4 230.9M29.4 217.0L29.4 230.9M29.4 224.0L28.0 224.0M31.0 235.3L28.0 235.3M28.0 224.0L28.0 235.3M31.0 208.7L27.2 208.7M28.0 229.6L27.2 229.6M27.2 208.7L27.2 229.6M27.2 219.2L26.3 219.2M31.0 239.8L26.3 239.8M26.3 219.2L26.3 239.8M29.2 197.7L24.8 197.7M26.3 229.5L24.8 229.5M24.8 197.7L24.8 229.5M29.4 177.7L23.7 177.7M24.8 213.6L23.7 213.6M23.7 177.7L23.7 213.6M31.0 160.0L21.8 160.0M23.7 195.6L21.8 195.6M21.8 160.0L21.8 195.6M31.0 253.0L30.8 253.0M31.0 257.5L30.8 257.5M30.8 253.0L30.8 257.5M30.8 255.3L30.6 255.3M31.0 261.9L30.6 261.9M30.6 255.3L30.6 261.9M30.6 258.6L29.5 258.6M31.0 266.3L29.5 266.3M29.5 258.6L29.5 266.3M31.0 248.6L29.1 248.6M29.5 262.5L29.1 262.5M29.1 248.6L29.1 262.5M31.0 244.2L28.4 244.2M29.1 255.5L28.4 255.5M28.4 244.2L28.4 255.5M21.8 177.8L20.2 177.8M28.4 249.9L20.2 249.9M20.2 177.8L20.2 249.9M31.0 155.6L19.8 155.6M20.2 213.8L19.8 213.8M19.8 155.6L19.8 213.8M25.8 132.2L19.2 132.2M19.8 184.7L19.2 184.7M19.2 132.2L19.2 184.7M28.2 106.5L18.8 106.5M19.2 158.4L18.8 158.4M18.8 106.5L18.8 158.4M25.6 66.8L16.8 66.8M18.8 132.5L16.8 132.5M16.8 66.8L16.8 132.5M31.0 270.8L30.0 270.8M31.0 275.2L30.0 275.2M30.0 270.8L30.0 275.2M31.0 292.9L30.6 292.9M31.0 297.4L30.6 297.4M30.6 292.9L30.6 297.4M31.0 288.5L29.8 288.5M30.6 295.1L29.8 295.1M29.8 288.5L29.8 295.1M31.0 284.1L29.4 284.1M29.8 291.8L29.4 291.8M29.4 284.1L29.4 291.8M31.0 279.6L28.5 279.6M29.4 287.9L28.5 287.9M28.5 279.6L28.5 287.9M30.0 273.0L27.2 273.0M28.5 283.8L27.2 283.8M27.2 273.0L27.2 283.8M27.2 278.4L26.2 278.4M31.0 301.8L26.2 301.8M26.2 278.4L26.2 301.8M16.8 99.7L14.6 99.7M26.2 290.1L14.6 290.1M14.6 99.7L14.6 290.1" stroke="#9a9a9a" stroke-width="0.45" fill="none"/>
<rect x="32.1" y="47.00" width="4.9" height="4.48" fill="#f0df1e"/>
<rect x="32.1" y="55.86" width="4.9" height="4.48" fill="#e8531c"/>
<rect x="32.1" y="60.29" width="4.9" height="4.48" fill="#e8531c"/>
<rect x="32.1" y="73.59" width="4.9" height="4.48" fill="#e8531c"/>
<rect x="32.1" y="82.45" width="4.9" height="4.48" fill="#e8531c"/>
<rect x="32.1" y="86.88" width="4.9" height="4.48" fill="#f0df1e"/>
<rect x="32.1" y="140.05" width="4.9" height="4.48" fill="#e8531c"/>
<rect x="32.1" y="175.50" width="4.9" height="4.48" fill="#e8531c"/>
<rect x="32.1" y="184.36" width="4.9" height="4.48" fill="#e8531c"/>
<rect x="32.1" y="193.22" width="4.9" height="4.48" fill="#e8531c"/>
<rect x="32.1" y="215.38" width="4.9" height="4.48" fill="#e8531c"/>
<rect x="32.1" y="250.83" width="4.9" height="4.48" fill="#f0df1e"/>
<rect x="32.1" y="259.69" width="4.9" height="4.48" fill="#f0df1e"/>
<rect x="32.1" y="264.12" width="4.9" height="4.48" fill="#f0df1e"/>
<rect x="32.1" y="295.14" width="4.9" height="4.48" fill="#f0df1e"/>
<rect x="32.1" y="299.57" width="4.9" height="4.48" fill="#f0df1e"/>
<g font-family="Liberation Sans, sans-serif" transform="rotate(0.05 450 175)" font-size="5.25">
<text x="436" y="40.8" font-weight="bold" fill="#111">cluster</text>
<text x="436" y="46.3" font-weight="bold" fill="#111">NIG</text>
<text x="436" y="51.12" font-weight="bold" fill="#000">TCL1A</text>
<text x="436" y="55.55" fill="#7a7a7a">LTB</text>
<text x="436" y="59.98" font-weight="bold" fill="#000">SYNE2</text>
<text x="436" y="64.41" font-weight="bold" fill="#000">ISG20</text>
<text x="436" y="68.84" fill="#7a7a7a">IRF8</text>
<text x="436" y="73.27" fill="#7a7a7a">AES</text>
<text x="436" y="77.70" font-weight="bold" fill="#000">LSM10</text>
<text x="436" y="82.13" fill="#7a7a7a">CD79B</text>
<text x="436" y="86.56" font-weight="bold" fill="#000">BCL7A</text>
<text x="436" y="90.99" font-weight="bold" fill="#000">BCAS4</text>
<text x="436" y="95.43" fill="#7a7a7a">ZFP36L2</text>
<text x="436" y="99.86" fill="#444">LBH</text>
<text x="436" y="104.29" fill="#444">LINC00926</text>
<text x="436" y="108.72" fill="#444">HLA-B</text>
<text x="436" y="113.15" fill="#444">COTL1</text>
<text x="436" y="117.58" fill="#444">RGS1</text>
<text x="436" y="122.01" fill="#444">SOCS3</text>
<text x="436" y="126.44" fill="#444">JAK1</text>
<text x="436" y="130.87" fill="#444">CORO1A</text>
<text x="436" y="135.31" fill="#444">TBC1D10C</text>
<text x="436" y="139.74" fill="#444">BLK</text>
<text x="436" y="144.17" font-weight="bold" fill="#000">MARCH1</text>
<text x="436" y="148.60" fill="#444">AFF3</text>
<text x="436" y="153.03" fill="#444">NCOA3</text>
<text x="436" y="157.46" fill="#444">RALGPS2</text>
<text x="436" y="161.89" fill="#444">GABARAP</text>
<text x="436" y="166.32" fill="#444">LINC01725</text>
<text x="436" y="170.75" fill="#444">XIST</text>
<text x="436" y="175.18" fill="#444">CORO1B</text>
<text x="436" y="179.62" font-weight="bold" fill="#000">MFHAS1</text>
<text x="436" y="184.05" fill="#444">ARHGDIB</text>
<text x="436" y="188.48" font-weight="bold" fill="#000">OAZ1</text>
<text x="436" y="192.91" fill="#444">PPM1K</text>
<text x="436" y="197.34" font-weight="bold" fill="#000">POU2AF1</text>
<text x="436" y="201.77" fill="#444">UCP2</text>
<text x="436" y="206.20" fill="#444">P2RY8</text>
<text x="436" y="210.63" fill="#444">LSP1</text>
<text x="436" y="215.06" fill="#444">CDKN2A</text>
<text x="436" y="219.49" font-weight="bold" fill="#000">HRK</text>
<text x="436" y="223.93" fill="#444">S1PR1</text>
<text x="436" y="228.36" fill="#444">LYPLAL1</text>
<text x="436" y="232.79" fill="#444">LGALS1</text>
<text x="436" y="237.22" fill="#444">S100A10</text>
<text x="436" y="241.65" fill="#444">HNRNPA1</text>
<text x="436" y="246.08" fill="#444">EEF1A1</text>
<text x="436" y="250.51" fill="#444">TPT1</text>
<text x="436" y="254.94" font-weight="bold" fill="#000">SNX9</text>
<text x="436" y="259.37" fill="#444">WARS</text>
<text x="436" y="263.81" font-weight="bold" fill="#000">SYNGR2</text>
<text x="436" y="268.24" font-weight="bold" fill="#000">PHACTR1</text>
<text x="436" y="272.67" fill="#444">LRMP</text>
<text x="436" y="277.10" fill="#444">ABRACL</text>
<text x="436" y="281.53" fill="#444">WSB1</text>
<text x="436" y="285.96" fill="#444">S100A11</text>
<text x="436" y="290.39" fill="#444">SRGN</text>
<text x="436" y="294.82" fill="#444">LINC01480</text>
<text x="436" y="299.25" font-weight="bold" fill="#000">CD83</text>
<text x="436" y="303.68" font-weight="bold" fill="#000">NR4A1</text>
</g>
<defs><linearGradient id="cb" x1="0" y1="1" x2="0" y2="0"><stop offset="0" stop-color="#3a5a8a"/><stop offset="0.3" stop-color="#a8c4cc"/><stop offset="0.45" stop-color="#f0f0c0"/><stop offset="0.55" stop-color="#f2e2a0"/><stop offset="0.75" stop-color="#d98a80"/><stop offset="1" stop-color="#9a3040"/></linearGradient></defs>
<rect x="469" y="36" width="2" height="25.4" fill="url(#cb)"/>
<g font-family="Liberation Sans, sans-serif" transform="rotate(0.05 490 80)" font-size="5.1" fill="#333">
<text x="473.3" y="40.7">15</text>
<text x="473.3" y="46.8">10</text>
<text x="473.3" y="53.3">5</text>
<text x="473.3" y="59.4">0</text>
<text x="483" y="39.8">cluster</text>
<rect x="483" y="42.50" width="8" height="6.9" fill="#f5921e"/>
<text x="493.8" y="47.70">A</text>
<rect x="483" y="49.35" width="8" height="6.9" fill="#17a06a"/>
<text x="493.8" y="54.55">B</text>
<rect x="483" y="56.20" width="8" height="6.9" fill="#df6fae"/>
<text x="493.8" y="61.40">C</text>
<rect x="483" y="63.05" width="8" height="6.9" fill="#1f5fae"/>
<text x="493.8" y="68.25">D</text>
<text x="483" y="79.3">NIG</text>
<rect x="483" y="82.80" width="8" height="6.9" fill="#c8102e"/>
<text x="493.8" y="88.00">pos</text>
<rect x="483" y="89.65" width="8" height="6.9" fill="#233f8c"/>
<text x="493.8" y="94.85">neg</text>
<text x="483" y="106.2">enrichedin</text>
<rect x="483" y="109.20" width="8" height="6.9" fill="#e8531c"/>
<text x="493.8" y="114.40">DZ</text>
<rect x="483" y="116.05" width="8" height="6.9" fill="#f0df1e"/>
<text x="493.8" y="121.25">LZ</text>
</g>
<g font-family="Liberation Sans, sans-serif" font-weight="bold" font-size="11" fill="#000">
<text x="14.2" y="15.9">A</text>
<text x="6.9" y="329.6">B</text>
<text x="267" y="329.8">C</text>
</g>
<g font-family="Liberation Sans, sans-serif" transform="rotate(0.05 30.5 490)" font-size="5.1" fill="#1a1a1a" text-anchor="end">
<text x="40.5" y="349.74">RASSF6</text>
<text x="40.5" y="356.85">HRK</text>
<text x="40.5" y="363.96">SLC30A4</text>
<text x="40.5" y="371.07">CXCR4</text>
<text x="40.5" y="378.18">PEG10</text>
<text x="40.5" y="385.29">SYNE2</text>
<text x="40.5" y="392.40">LSM10</text>
<text x="40.5" y="399.51">SLC2A5</text>
<text x="40.5" y="406.62">ISG20</text>
<text x="40.5" y="413.73">BCL7A</text>
<text x="40.5" y="420.84">SEC14L1</text>
<text x="40.5" y="427.95">STK40</text>
<text x="40.5" y="435.06">ALOX5</text>
<text x="40.5" y="442.17">SYBU</text>
<text x="40.5" y="449.28">RNF144B</text>
<text x="40.5" y="456.39">CD27</text>
<text x="40.5" y="463.50">CDK13</text>
<text x="40.5" y="470.61">RHOH</text>
<text x="40.5" y="477.72">BACH2</text>
<text x="40.5" y="484.83">OAZ1</text>
<text x="40.5" y="491.94">POU2AF1</text>
<text x="40.5" y="499.05">CLIC4</text>
<text x="40.5" y="506.16">IFT57</text>
<text x="40.5" y="513.27">FOXO1</text>
<text x="40.5" y="520.38">EZR</text>
<text x="40.5" y="527.49">TPD52</text>
<text x="40.5" y="534.60">DCK</text>
<text x="40.5" y="541.71">ZCCHC7</text>
<text x="40.5" y="548.82">OSBPL10</text>
<text x="40.5" y="555.93">C4orf3</text>
<text x="40.5" y="563.04">MME</text>
<text x="40.5" y="570.15">MFHAS1</text>
<text x="40.5" y="577.26">YPEL3</text>
<text x="40.5" y="584.37">MARCH1</text>
<text x="40.5" y="591.48">PTP4A2</text>
<text x="40.5" y="598.59">FOXP1</text>
<text x="40.5" y="605.70">KPNA2</text>
<text x="40.5" y="612.81">KLF6</text>
<text x="40.5" y="619.92">FAM107B</text>
<text x="40.5" y="627.03">BEX3</text>
<text x="40.5" y="634.14">HMGB3</text>
</g>
<path d="M43.5 347.90h3M43.5 355.01h3M43.5 362.12h3M43.5 369.23h3M43.5 376.34h3M43.5 383.45h3M43.5 390.56h3M43.5 397.67h3M43.5 404.78h3M43.5 411.89h3M43.5 419.00h3M43.5 426.11h3M43.5 433.22h3M43.5 440.33h3M43.5 447.44h3M43.5 454.55h3M43.5 461.66h3M43.5 468.77h3M43.5 475.88h3M43.5 482.99h3M43.5 490.10h3M43.5 497.21h3M43.5 504.32h3M43.5 511.43h3M43.5 518.54h3M43.5 525.65h3M43.5 532.76h3M43.5 539.87h3M43.5 546.98h3M43.5 554.09h3M43.5 561.20h3M43.5 568.31h3M43.5 575.42h3M43.5 582.53h3M43.5 589.64h3M43.5 596.75h3M43.5 603.86h3M43.5 610.97h3M43.5 618.08h3M43.5 625.19h3M43.5 632.30h3" stroke="#222" stroke-width="1" fill="none"/>
<path d="M46.50 343.8V635.90H252" stroke="#1a1a1a" stroke-width="1.15" fill="none"/>
<path d="M194.00 347.90H242.60M134.00 355.01H216.40M117.00 362.12H170.50M115.50 369.23H170.00M134.00 376.34H166.50M102.50 383.45H155.00M93.00 390.56H154.00M118.50 397.67H151.00M93.00 404.78H150.00M79.00 411.89H149.50M124.50 419.00H146.50M111.00 426.11H145.00M109.50 433.22H131.50M107.50 440.33H129.50M97.00 447.44H124.00M83.50 454.55H124.00M93.00 461.66H123.00M98.00 468.77H123.00M87.50 475.88H123.00M65.70 482.99H121.50M76.00 490.10H121.50M103.75 497.21H120.50M92.75 504.32H118.25M94.00 511.43H117.50M96.50 518.54H117.00M96.50 525.65H116.75M90.75 532.76H116.25M96.00 539.87H114.50M86.00 546.98H114.00M89.25 554.09H111.25M77.00 561.20H106.25M56.00 568.31H102.00M78.25 575.42H96.25M60.25 582.53H92.50M76.25 589.64H91.50M64.00 596.75H86.75M117.50 603.86H104.00M120.75 610.97H99.50M134.25 618.08H117.00M148.75 625.19H115.00M160.75 632.30H135.25" stroke="#505050" stroke-width="0.95" fill="none"/>
<rect x="192.20" y="346.10" width="3.60" height="3.60" fill="#1c3662"/>
<rect x="240.80" y="346.10" width="3.60" height="3.60" fill="#bb1238"/>
<circle cx="134.00" cy="355.01" r="1.80" fill="#1c3662"/>
<circle cx="216.40" cy="355.01" r="1.80" fill="#bb1238"/>
<circle cx="117.00" cy="362.12" r="1.80" fill="#1c3662"/>
<rect x="168.70" y="360.32" width="3.60" height="3.60" fill="#bb1238"/>
<rect x="113.70" y="367.43" width="3.60" height="3.60" fill="#1c3662"/>
<rect x="168.20" y="367.43" width="3.60" height="3.60" fill="#bb1238"/>
<circle cx="134.00" cy="376.34" r="1.80" fill="#1c3662"/>
<circle cx="166.50" cy="376.34" r="1.80" fill="#bb1238"/>
<rect x="100.70" y="381.65" width="3.60" height="3.60" fill="#1c3662"/>
<rect x="153.20" y="381.65" width="3.60" height="3.60" fill="#bb1238"/>
<circle cx="93.00" cy="390.56" r="1.80" fill="#1c3662"/>
<circle cx="154.00" cy="390.56" r="1.80" fill="#bb1238"/>
<circle cx="118.50" cy="397.67" r="1.80" fill="#1c3662"/>
<circle cx="151.00" cy="397.67" r="1.80" fill="#bb1238"/>
<circle cx="93.00" cy="404.78" r="1.80" fill="#1c3662"/>
<circle cx="150.00" cy="404.78" r="1.80" fill="#bb1238"/>
<rect x="77.20" y="410.09" width="3.60" height="3.60" fill="#1c3662"/>
<rect x="147.70" y="410.09" width="3.60" height="3.60" fill="#bb1238"/>
<circle cx="124.50" cy="419.00" r="1.80" fill="#1c3662"/>
<circle cx="146.50" cy="419.00" r="1.80" fill="#bb1238"/>
<circle cx="111.00" cy="426.11" r="1.80" fill="#1c3662"/>
<circle cx="145.00" cy="426.11" r="1.80" fill="#bb1238"/>
<circle cx="109.50" cy="433.22" r="1.80" fill="#1c3662"/>
<circle cx="131.50" cy="433.22" r="1.80" fill="#bb1238"/>
<circle cx="107.50" cy="440.33" r="1.80" fill="#1c3662"/>
<circle cx="129.50" cy="440.33" r="1.80" fill="#bb1238"/>
<circle cx="97.00" cy="447.44" r="1.80" fill="#1c3662"/>
<circle cx="124.00" cy="447.44" r="1.80" fill="#bb1238"/>
<circle cx="83.50" cy="454.55" r="1.80" fill="#1c3662"/>
<circle cx="124.00" cy="454.55" r="1.80" fill="#bb1238"/>
<circle cx="93.00" cy="461.66" r="1.80" fill="#1c3662"/>
<circle cx="123.00" cy="461.66" r="1.80" fill="#bb1238"/>
<rect x="96.20" y="466.97" width="3.60" height="3.60" fill="#1c3662"/>
<rect x="121.20" y="466.97" width="3.60" height="3.60" fill="#bb1238"/>
<circle cx="87.50" cy="475.88" r="1.80" fill="#1c3662"/>
<circle cx="123.00" cy="475.88" r="1.80" fill="#bb1238"/>
<circle cx="65.70" cy="482.99" r="1.80" fill="#1c3662"/>
<circle cx="121.50" cy="482.99" r="1.80" fill="#bb1238"/>
<circle cx="76.00" cy="490.10" r="1.80" fill="#1c3662"/>
<circle cx="121.50" cy="490.10" r="1.80" fill="#bb1238"/>
<circle cx="103.75" cy="497.21" r="1.80" fill="#1c3662"/>
<circle cx="120.50" cy="497.21" r="1.80" fill="#bb1238"/>
<rect x="90.95" y="502.52" width="3.60" height="3.60" fill="#1c3662"/>
<rect x="116.45" y="502.52" width="3.60" height="3.60" fill="#bb1238"/>
<circle cx="94.00" cy="511.43" r="1.80" fill="#1c3662"/>
<circle cx="117.50" cy="511.43" r="1.80" fill="#bb1238"/>
<circle cx="96.50" cy="518.54" r="1.80" fill="#1c3662"/>
<circle cx="117.00" cy="518.54" r="1.80" fill="#bb1238"/>
<circle cx="96.50" cy="525.65" r="1.80" fill="#1c3662"/>
<circle cx="116.75" cy="525.65" r="1.80" fill="#bb1238"/>
<circle cx="90.75" cy="532.76" r="1.80" fill="#1c3662"/>
<circle cx="116.25" cy="532.76" r="1.80" fill="#bb1238"/>
<path d="M96.00 537.77L98.00 541.67L94.00 541.67z" fill="#1c3662"/>
<path d="M114.50 537.77L116.50 541.67L112.50 541.67z" fill="#bb1238"/>
<circle cx="86.00" cy="546.98" r="1.80" fill="#1c3662"/>
<circle cx="114.00" cy="546.98" r="1.80" fill="#bb1238"/>
<circle cx="89.25" cy="554.09" r="1.80" fill="#1c3662"/>
<circle cx="111.25" cy="554.09" r="1.80" fill="#bb1238"/>
<circle cx="77.00" cy="561.20" r="1.80" fill="#1c3662"/>
<circle cx="106.25" cy="561.20" r="1.80" fill="#bb1238"/>
<circle cx="56.00" cy="568.31" r="1.80" fill="#1c3662"/>
<circle cx="102.00" cy="568.31" r="1.80" fill="#bb1238"/>
<rect x="76.45" y="573.62" width="3.60" height="3.60" fill="#1c3662"/>
<rect x="94.45" y="573.62" width="3.60" height="3.60" fill="#bb1238"/>
<rect x="58.45" y="580.73" width="3.60" height="3.60" fill="#1c3662"/>
<rect x="90.70" y="580.73" width="3.60" height="3.60" fill="#bb1238"/>
<circle cx="76.25" cy="589.64" r="1.80" fill="#1c3662"/>
<circle cx="91.50" cy="589.64" r="1.80" fill="#bb1238"/>
<rect x="62.20" y="594.95" width="3.60" height="3.60" fill="#1c3662"/>
<rect x="84.95" y="594.95" width="3.60" height="3.60" fill="#bb1238"/>
<rect x="115.70" y="602.06" width="3.60" height="3.60" fill="#1c3662"/>
<rect x="102.20" y="602.06" width="3.60" height="3.60" fill="#bb1238"/>
<rect x="118.95" y="609.17" width="3.60" height="3.60" fill="#1c3662"/>
<rect x="97.70" y="609.17" width="3.60" height="3.60" fill="#bb1238"/>
<rect x="132.45" y="616.28" width="3.60" height="3.60" fill="#1c3662"/>
<rect x="115.20" y="616.28" width="3.60" height="3.60" fill="#bb1238"/>
<path d="M148.75 623.09L150.75 626.99L146.75 626.99z" fill="#1c3662"/>
<path d="M115.00 623.09L117.00 626.99L113.00 626.99z" fill="#bb1238"/>
<rect x="158.95" y="630.50" width="3.60" height="3.60" fill="#1c3662"/>
<rect x="133.45" y="630.50" width="3.60" height="3.60" fill="#bb1238"/>
<g font-family="Liberation Sans, sans-serif" transform="rotate(0.05 284.3 490)" font-size="5.15" fill="#0e0e0e" text-anchor="end">
<text x="294.3" y="347.75">CD83</text>
<text x="294.3" y="352.61">NR4A1</text>
<text x="294.3" y="357.47">SYNGR2</text>
<text x="294.3" y="362.33">SNX9</text>
<text x="294.3" y="367.19">HSP90AB1</text>
<text x="294.3" y="372.05">DUSP2</text>
<text x="294.3" y="376.91">HOPX</text>
<text x="294.3" y="381.77">SSR4</text>
<text x="294.3" y="386.63">FABP5</text>
<text x="294.3" y="391.49">MIR155HG</text>
<text x="294.3" y="396.35">PHACTR1</text>
<text x="294.3" y="401.21">RGS1</text>
<text x="294.3" y="406.07">PPA1</text>
<text x="294.3" y="410.93">LGALS9</text>
<text x="294.3" y="415.79">SAMSN1</text>
<text x="294.3" y="420.65">HLA-DQB1</text>
<text x="294.3" y="425.51">NAB2</text>
<text x="294.3" y="430.37">PRMT1</text>
<text x="294.3" y="435.23">NME1</text>
<text x="294.3" y="440.09">LRRK2</text>
<text x="294.3" y="444.95">ITGB2</text>
<text x="294.3" y="449.81">BCL2A1</text>
<text x="294.3" y="454.67">MTHFD1L</text>
<text x="294.3" y="459.53">NDUFAF4</text>
<text x="294.3" y="464.39">ZFP36L1</text>
<text x="294.3" y="469.25">CCR6</text>
<text x="294.3" y="474.11">IER2</text>
<text x="294.3" y="478.97">GMDS</text>
<text x="294.3" y="483.83">LPIN1</text>
<text x="294.3" y="488.69">TRMT1</text>
<text x="294.3" y="493.55">SLAMF1</text>
<text x="294.3" y="498.41">RILPL2</text>
<text x="294.3" y="503.27">TMCO1</text>
<text x="294.3" y="508.13">MRTO4</text>
<text x="294.3" y="512.99">CREM</text>
<text x="294.3" y="517.85">NFKB1</text>
<text x="294.3" y="522.71">MIOS</text>
<text x="294.3" y="527.57">TMC6</text>
<text x="294.3" y="532.43">HDAC9</text>
<text x="294.3" y="537.29">NFKB2</text>
<text x="294.3" y="542.15">INSIG1</text>
<text x="294.3" y="547.01">MDFIC</text>
<text x="294.3" y="551.87">DDIT4</text>
<text x="294.3" y="556.73">TTC3</text>
<text x="294.3" y="561.59">TRAF4</text>
<text x="294.3" y="566.45">CD44</text>
<text x="294.3" y="571.31">ARHGAP24</text>
<text x="294.3" y="576.17">TCL1A</text>
<text x="294.3" y="581.03">CD82</text>
<text x="294.3" y="585.89">HIF1A</text>
<text x="294.3" y="590.75">WDFY4</text>
<text x="294.3" y="595.61">PHF1</text>
<text x="294.3" y="600.47">RFX5</text>
<text x="294.3" y="605.33">RAB7A</text>
<text x="294.3" y="610.19">POU2F2</text>
<text x="294.3" y="615.05">B2M</text>
<text x="294.3" y="619.91">RASGRP2</text>
<text x="294.3" y="624.77">BCAS4</text>
<text x="294.3" y="629.63">CYBA</text>
<text x="294.3" y="634.49">HVCN1</text>
</g>
<path d="M296.8 345.90h3M296.8 350.76h3M296.8 355.62h3M296.8 360.48h3M296.8 365.34h3M296.8 370.20h3M296.8 375.06h3M296.8 379.92h3M296.8 384.78h3M296.8 389.64h3M296.8 394.50h3M296.8 399.36h3M296.8 404.22h3M296.8 409.08h3M296.8 413.94h3M296.8 418.80h3M296.8 423.66h3M296.8 428.52h3M296.8 433.38h3M296.8 438.24h3M296.8 443.10h3M296.8 447.96h3M296.8 452.82h3M296.8 457.68h3M296.8 462.54h3M296.8 467.40h3M296.8 472.26h3M296.8 477.12h3M296.8 481.98h3M296.8 486.84h3M296.8 491.70h3M296.8 496.56h3M296.8 501.42h3M296.8 506.28h3M296.8 511.14h3M296.8 516.00h3M296.8 520.86h3M296.8 525.72h3M296.8 530.58h3M296.8 535.44h3M296.8 540.30h3M296.8 545.16h3M296.8 550.02h3M296.8 554.88h3M296.8 559.74h3M296.8 564.60h3M296.8 569.46h3M296.8 574.32h3M296.8 579.18h3M296.8 584.04h3M296.8 588.90h3M296.8 593.76h3M296.8 598.62h3M296.8 603.48h3M296.8 608.34h3M296.8 613.20h3M296.8 618.06h3M296.8 622.92h3M296.8 627.78h3M296.8 632.64h3" stroke="#222" stroke-width="1" fill="none"/>
<path d="M299.80 344.0V635.90H488" stroke="#1a1a1a" stroke-width="1.15" fill="none"/>
<path d="M480.00 345.90H386.50M443.00 350.76H373.00M432.00 355.62H369.50M426.75 360.48H365.00M420.25 365.34H394.75M417.50 370.20H372.00M406.50 375.06H377.75M406.50 379.92H396.75M406.50 384.78H386.00M406.50 389.64H373.00M402.75 394.50H362.50M399.60 399.36H367.00M397.10 404.22H388.50M395.80 409.08H383.30M394.40 413.94H373.00M391.00 418.80H370.20M389.60 423.66H375.20M389.40 428.52H383.50M387.10 433.38H377.10M386.20 438.24H372.70M385.60 443.10H372.10M384.60 447.96H365.00M383.30 452.82H375.60M382.00 457.68H374.60M381.50 462.54H364.00M382.00 467.40H373.10M382.00 472.26H372.00M380.40 477.12H370.40M380.00 481.98H368.00M379.20 486.84H372.70M377.10 491.70H366.50M376.70 496.56H370.40M376.20 501.42H365.20M375.60 506.28H369.40M374.60 511.14H358.30M373.70 516.00H366.30M373.50 520.86H367.30M372.70 525.72H362.70M372.10 530.58H363.00M370.20 535.44H365.40M368.70 540.30H364.00M366.90 545.16H359.60M363.80 550.02H355.20M362.70 554.88H357.30M362.50 559.74H356.30M358.30 564.60H347.30M348.00 569.46H345.80M308.00 574.32H342.50M342.40 579.18H350.00M352.80 584.04H365.30M356.50 588.90H366.00M356.50 593.76H366.50M360.80 598.62H369.00M368.00 603.48H375.80M358.60 608.34H377.30M360.40 613.20H377.90M358.90 618.06H378.70M359.40 622.92H379.20M370.00 627.78H381.90M396.40 632.64H409.40" stroke="#4a4a4a" stroke-width="0.9" fill="none"/>
<rect x="478.25" y="344.15" width="3.50" height="3.50" fill="#1c3662"/>
<rect x="384.75" y="344.15" width="3.50" height="3.50" fill="#bb1238"/>
<rect x="441.25" y="349.01" width="3.50" height="3.50" fill="#1c3662"/>
<rect x="371.25" y="349.01" width="3.50" height="3.50" fill="#bb1238"/>
<rect x="430.25" y="353.87" width="3.50" height="3.50" fill="#1c3662"/>
<rect x="367.75" y="353.87" width="3.50" height="3.50" fill="#bb1238"/>
<circle cx="426.75" cy="360.48" r="1.75" fill="#1c3662"/>
<circle cx="365.00" cy="360.48" r="1.75" fill="#bb1238"/>
<circle cx="420.25" cy="365.34" r="1.75" fill="#1c3662"/>
<circle cx="394.75" cy="365.34" r="1.75" fill="#bb1238"/>
<rect x="415.75" y="368.45" width="3.50" height="3.50" fill="#1c3662"/>
<rect x="370.25" y="368.45" width="3.50" height="3.50" fill="#bb1238"/>
<circle cx="406.50" cy="375.06" r="1.75" fill="#1c3662"/>
<circle cx="377.75" cy="375.06" r="1.75" fill="#bb1238"/>
<rect x="404.75" y="378.17" width="3.50" height="3.50" fill="#1c3662"/>
<rect x="395.00" y="378.17" width="3.50" height="3.50" fill="#bb1238"/>
<rect x="404.75" y="383.03" width="3.50" height="3.50" fill="#1c3662"/>
<rect x="384.25" y="383.03" width="3.50" height="3.50" fill="#bb1238"/>
<circle cx="406.50" cy="389.64" r="1.75" fill="#1c3662"/>
<circle cx="373.00" cy="389.64" r="1.75" fill="#bb1238"/>
<circle cx="402.75" cy="394.50" r="1.75" fill="#1c3662"/>
<circle cx="362.50" cy="394.50" r="1.75" fill="#bb1238"/>
<rect x="397.85" y="397.61" width="3.50" height="3.50" fill="#1c3662"/>
<rect x="365.25" y="397.61" width="3.50" height="3.50" fill="#bb1238"/>
<circle cx="397.10" cy="404.22" r="1.75" fill="#1c3662"/>
<rect x="386.75" y="402.47" width="3.50" height="3.50" fill="#bb1238"/>
<circle cx="395.80" cy="409.08" r="1.75" fill="#1c3662"/>
<rect x="381.55" y="407.33" width="3.50" height="3.50" fill="#bb1238"/>
<rect x="392.65" y="412.19" width="3.50" height="3.50" fill="#1c3662"/>
<rect x="371.25" y="412.19" width="3.50" height="3.50" fill="#bb1238"/>
<circle cx="391.00" cy="418.80" r="1.75" fill="#1c3662"/>
<circle cx="370.20" cy="418.80" r="1.75" fill="#bb1238"/>
<rect x="387.85" y="421.91" width="3.50" height="3.50" fill="#1c3662"/>
<rect x="373.45" y="421.91" width="3.50" height="3.50" fill="#bb1238"/>
<circle cx="389.40" cy="428.52" r="1.75" fill="#1c3662"/>
<circle cx="383.50" cy="428.52" r="1.75" fill="#bb1238"/>
<circle cx="387.10" cy="433.38" r="1.75" fill="#1c3662"/>
<circle cx="377.10" cy="433.38" r="1.75" fill="#bb1238"/>
<rect x="384.45" y="436.49" width="3.50" height="3.50" fill="#1c3662"/>
<rect x="370.95" y="436.49" width="3.50" height="3.50" fill="#bb1238"/>
<circle cx="385.60" cy="443.10" r="1.75" fill="#1c3662"/>
<circle cx="372.10" cy="443.10" r="1.75" fill="#bb1238"/>
<circle cx="384.60" cy="447.96" r="1.75" fill="#1c3662"/>
<circle cx="365.00" cy="447.96" r="1.75" fill="#bb1238"/>
<circle cx="383.30" cy="452.82" r="1.75" fill="#1c3662"/>
<circle cx="375.60" cy="452.82" r="1.75" fill="#bb1238"/>
<rect x="380.25" y="455.93" width="3.50" height="3.50" fill="#1c3662"/>
<rect x="372.85" y="455.93" width="3.50" height="3.50" fill="#bb1238"/>
<rect x="379.75" y="460.79" width="3.50" height="3.50" fill="#1c3662"/>
<rect x="362.25" y="460.79" width="3.50" height="3.50" fill="#bb1238"/>
<rect x="380.25" y="465.65" width="3.50" height="3.50" fill="#1c3662"/>
<rect x="371.35" y="465.65" width="3.50" height="3.50" fill="#bb1238"/>
<rect x="380.25" y="470.51" width="3.50" height="3.50" fill="#1c3662"/>
<rect x="370.25" y="470.51" width="3.50" height="3.50" fill="#bb1238"/>
<circle cx="380.40" cy="477.12" r="1.75" fill="#1c3662"/>
<circle cx="370.40" cy="477.12" r="1.75" fill="#bb1238"/>
<circle cx="380.00" cy="481.98" r="1.75" fill="#1c3662"/>
<rect x="366.25" y="480.23" width="3.50" height="3.50" fill="#bb1238"/>
<circle cx="379.20" cy="486.84" r="1.75" fill="#1c3662"/>
<circle cx="372.70" cy="486.84" r="1.75" fill="#bb1238"/>
<rect x="375.35" y="489.95" width="3.50" height="3.50" fill="#1c3662"/>
<rect x="364.75" y="489.95" width="3.50" height="3.50" fill="#bb1238"/>
<rect x="374.95" y="494.81" width="3.50" height="3.50" fill="#1c3662"/>
<rect x="368.65" y="494.81" width="3.50" height="3.50" fill="#bb1238"/>
<rect x="374.45" y="499.67" width="3.50" height="3.50" fill="#1c3662"/>
<rect x="363.45" y="499.67" width="3.50" height="3.50" fill="#bb1238"/>
<circle cx="375.60" cy="506.28" r="1.75" fill="#1c3662"/>
<circle cx="369.40" cy="506.28" r="1.75" fill="#bb1238"/>
<rect x="372.85" y="509.39" width="3.50" height="3.50" fill="#1c3662"/>
<rect x="356.55" y="509.39" width="3.50" height="3.50" fill="#bb1238"/>
<circle cx="373.70" cy="516.00" r="1.75" fill="#1c3662"/>
<circle cx="366.30" cy="516.00" r="1.75" fill="#bb1238"/>
<circle cx="373.50" cy="520.86" r="1.75" fill="#1c3662"/>
<circle cx="367.30" cy="520.86" r="1.75" fill="#bb1238"/>
<circle cx="372.70" cy="525.72" r="1.75" fill="#1c3662"/>
<circle cx="362.70" cy="525.72" r="1.75" fill="#bb1238"/>
<circle cx="372.10" cy="530.58" r="1.75" fill="#1c3662"/>
<circle cx="363.00" cy="530.58" r="1.75" fill="#bb1238"/>
<rect x="368.45" y="533.69" width="3.50" height="3.50" fill="#1c3662"/>
<rect x="363.65" y="533.69" width="3.50" height="3.50" fill="#bb1238"/>
<rect x="366.95" y="538.55" width="3.50" height="3.50" fill="#1c3662"/>
<rect x="362.25" y="538.55" width="3.50" height="3.50" fill="#bb1238"/>
<circle cx="366.90" cy="545.16" r="1.75" fill="#1c3662"/>
<circle cx="359.60" cy="545.16" r="1.75" fill="#bb1238"/>
<rect x="362.05" y="548.27" width="3.50" height="3.50" fill="#1c3662"/>
<rect x="353.45" y="548.27" width="3.50" height="3.50" fill="#bb1238"/>
<circle cx="362.70" cy="554.88" r="1.75" fill="#1c3662"/>
<circle cx="357.30" cy="554.88" r="1.75" fill="#bb1238"/>
<rect x="360.75" y="557.99" width="3.50" height="3.50" fill="#1c3662"/>
<rect x="354.55" y="557.99" width="3.50" height="3.50" fill="#bb1238"/>
<circle cx="358.30" cy="564.60" r="1.75" fill="#1c3662"/>
<circle cx="347.30" cy="564.60" r="1.75" fill="#bb1238"/>
<rect x="346.25" y="567.71" width="3.50" height="3.50" fill="#1c3662"/>
<rect x="344.05" y="567.71" width="3.50" height="3.50" fill="#bb1238"/>
<path d="M308.00 572.27L309.95 576.07L306.05 576.07z" fill="#1c3662"/>
<path d="M342.50 572.27L344.45 576.07L340.55 576.07z" fill="#bb1238"/>
<rect x="340.65" y="577.43" width="3.50" height="3.50" fill="#1c3662"/>
<rect x="348.25" y="577.43" width="3.50" height="3.50" fill="#bb1238"/>
<circle cx="352.80" cy="584.04" r="1.05" fill="#1c3662"/>
<circle cx="365.30" cy="584.04" r="1.75" fill="#bb1238"/>
<rect x="354.75" y="587.15" width="3.50" height="3.50" fill="#1c3662"/>
<rect x="364.25" y="587.15" width="3.50" height="3.50" fill="#bb1238"/>
<rect x="354.75" y="592.01" width="3.50" height="3.50" fill="#1c3662"/>
<rect x="364.75" y="592.01" width="3.50" height="3.50" fill="#bb1238"/>
<rect x="359.05" y="596.87" width="3.50" height="3.50" fill="#1c3662"/>
<rect x="367.25" y="596.87" width="3.50" height="3.50" fill="#bb1238"/>
<circle cx="368.00" cy="603.48" r="1.05" fill="#1c3662"/>
<circle cx="375.80" cy="603.48" r="1.75" fill="#bb1238"/>
<rect x="356.85" y="606.59" width="3.50" height="3.50" fill="#1c3662"/>
<rect x="375.55" y="606.59" width="3.50" height="3.50" fill="#bb1238"/>
<circle cx="360.40" cy="613.20" r="1.05" fill="#1c3662"/>
<circle cx="377.90" cy="613.20" r="1.75" fill="#bb1238"/>
<path d="M358.90 616.01L360.85 619.81L356.95 619.81z" fill="#1c3662"/>
<path d="M378.70 616.01L380.65 619.81L376.75 619.81z" fill="#bb1238"/>
<path d="M359.40 620.87L361.35 624.67L357.45 624.67z" fill="#1c3662"/>
<path d="M379.20 620.87L381.15 624.67L377.25 624.67z" fill="#bb1238"/>
<rect x="368.25" y="626.03" width="3.50" height="3.50" fill="#1c3662"/>
<rect x="380.15" y="626.03" width="3.50" height="3.50" fill="#bb1238"/>
<rect x="394.65" y="630.89" width="3.50" height="3.50" fill="#1c3662"/>
<rect x="407.65" y="630.89" width="3.50" height="3.50" fill="#bb1238"/>
<path d="M72.60 635.90v2.8M113.90 635.90v2.8M155.20 635.90v2.8M196.50 635.90v2.8M237.80 635.90v2.8" stroke="#222" stroke-width="0.8" fill="none"/>
<g font-family="Liberation Sans, sans-serif" transform="rotate(0.05 155.2 645.9)" font-size="4.8" fill="#444" text-anchor="middle">
<text x="72.60" y="646.80">-0.5</text>
<text x="113.90" y="646.80">0.0</text>
<text x="155.20" y="646.80">0.5</text>
<text x="196.50" y="646.80">1.0</text>
<text x="237.80" y="646.80">1.5</text>
</g>
<path d="M330.70 635.90v2.8M369.30 635.90v2.8M407.90 635.90v2.8M446.50 635.90v2.8M485.10 635.90v2.8" stroke="#222" stroke-width="0.8" fill="none"/>
<g font-family="Liberation Sans, sans-serif" transform="rotate(0.05 407.90000000000003 645.9)" font-size="4.8" fill="#444" text-anchor="middle">
<text x="330.70" y="646.80">-1</text>
<text x="369.30" y="646.80">0</text>
<text x="407.90" y="646.80">1</text>
<text x="446.50" y="646.80">2</text>
<text x="485.10" y="646.80">3</text>
</g>
<g font-family="Liberation Sans, sans-serif" font-size="6" fill="#222" text-anchor="middle">
<text x="149" y="656.7" font-size="6.5" stroke="#222" stroke-width="0.18" textLength="54" lengthAdjust="spacingAndGlyphs">Average gene expression</text>
<text x="394.2" y="656.7" font-size="6.5" stroke="#222" stroke-width="0.18" textLength="54.5" lengthAdjust="spacingAndGlyphs">Average gene expression</text>
<text x="149" y="338.4" font-size="7">Enriched in DZ</text>
<text x="393.8" y="338.4" font-size="7">Enriched in LZ</text>
<text transform="translate(12.4 489.6) rotate(-90)" textLength="10.8" lengthAdjust="spacingAndGlyphs">Gene</text>
</g>
<g font-family="Liberation Sans, sans-serif" transform="rotate(0.05 505 490)" font-size="4.6" fill="#444">
<text x="497.8" y="464.5">set</text>
<rect x="497.90" y="468.70" width="2.60" height="2.60" fill="#111"/>
<text x="503" y="471.6">vict</text>
<circle cx="499.20" cy="477.00" r="1.30" fill="#111"/>
<text x="503" y="478.6">mlp</text>
<path d="M499.20 482.70L500.70 485.60L497.70 485.60z" fill="#111"/>
<text x="503" y="485.9">mich</text>
<circle cx="499.20" cy="491.30" r="0.78" fill="#111"/>
<text x="503" y="492.9">trip</text>
<text x="497.8" y="503.8">NIG</text>
<circle cx="499.20" cy="509.60" r="1.30" fill="#bb1238"/>
<text x="503" y="511.2">pos</text>
<circle cx="499.20" cy="517.00" r="1.30" fill="#1c3662"/>
<text x="503" y="518.6">neg</text>
</g>
<rect x="0.5" y="0.5" width="519" height="664" fill="none" stroke="#505050" stroke-width="1.2"/>
</svg></body></html>
